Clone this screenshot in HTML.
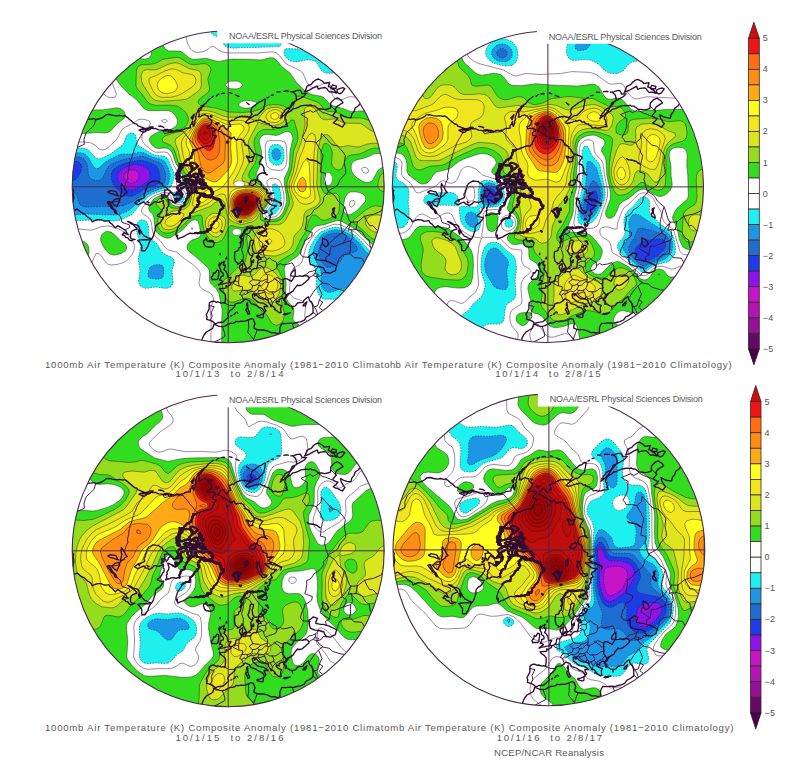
<!DOCTYPE html><html><head><meta charset="utf-8"><title>Air Temperature Composite Anomaly</title>
<style>html,body{margin:0;padding:0;background:#fff}svg{display:block}text{font-family:"Liberation Sans",sans-serif;fill:#5a5a5a}.t{font-size:9.6px}.cb{font-size:9px;fill:#555;letter-spacing:.3px}.n{font-size:9px}</style></head><body>
<svg width="801" height="768" viewBox="0 0 801 768">
<rect width="801" height="768" fill="#fff"/>
<defs>
<clipPath id="c1"><circle cx="228.2" cy="186.8" r="156"/></clipPath>
<clipPath id="c2"><circle cx="547.9" cy="186.9" r="155.6"/></clipPath>
<clipPath id="c3"><circle cx="228.2" cy="550.8" r="156"/></clipPath>
<clipPath id="c4"><circle cx="548.9" cy="549.9" r="155.9"/></clipPath>
<clipPath id="tl"><rect x="0" y="0" width="389" height="768"/></clipPath>
<clipPath id="tr"><rect x="389" y="0" width="412" height="768"/></clipPath>
</defs>
<g clip-path="url(#c1)">
<circle cx="228.2" cy="186.8" r="157" fill="#fff"/>
<path d="M309.0,343.0 210.9,343.0 211.1,322.0 210.3,310.0 210.9,307.0 213.2,301.0 213.4,298.0 212.3,295.0 210.0,293.0 202.2,289.0 199.7,286.0 199.0,283.0 200.3,274.0 199.3,271.0 196.6,268.0 192.0,263.8 183.0,257.7 177.0,252.3 168.0,249.8 165.0,247.3 160.5,241.0 154.0,235.0 152.7,232.0 151.4,223.0 150.4,220.0 147.0,216.3 142.9,214.0 141.3,211.0 142.3,208.0 144.4,205.0 149.8,199.0 153.8,196.0 162.0,192.9 165.0,192.4 168.5,193.0 170.7,196.0 173.0,202.0 174.0,203.2 177.0,204.7 180.0,204.8 183.0,203.6 184.7,202.0 186.2,199.0 186.3,196.0 185.4,193.0 183.0,190.2 177.5,187.0 177.0,185.9 176.5,184.0 178.4,175.0 177.5,172.0 174.0,165.7 170.7,157.0 168.9,154.0 168.0,153.0 165.0,152.0 156.0,152.3 153.0,151.2 145.3,145.0 142.8,142.0 141.8,139.0 141.9,136.0 144.0,131.5 148.8,127.0 150.4,124.0 149.5,121.0 144.0,119.3 141.0,119.2 138.0,119.8 132.0,124.0 125.4,127.0 121.6,130.0 117.0,139.1 108.0,147.7 105.0,149.5 102.0,150.1 99.0,148.9 95.0,145.0 90.0,142.7 84.0,142.0 72.0,142.4 72.0,59.5 96.0,83.2 105.0,95.1 108.0,97.1 111.0,97.6 114.0,97.4 115.2,97.0 116.5,94.0 111.8,82.0 110.1,79.0 102.0,71.8 96.0,64.8 91.2,61.0 86.3,55.0 78.7,49.0 74.3,43.0 72.0,40.8 72.0,31.0 186.1,31.0 186.1,37.0 187.3,43.0 190.6,49.0 192.0,50.5 195.0,52.2 198.0,52.5 204.0,51.4 208.5,49.0 210.0,47.3 213.0,46.1 219.0,50.3 222.0,51.8 228.0,52.9 258.0,53.0 270.0,51.9 273.0,51.9 276.0,52.7 279.0,55.1 285.0,62.8 288.0,64.9 299.0,70.0 302.9,73.0 306.7,82.0 309.0,85.1 312.0,87.2 315.0,87.7 324.0,83.5 327.0,83.4 330.0,84.8 331.1,91.0 333.0,96.2 336.0,99.3 339.0,100.1 342.0,99.6 348.0,97.0 351.0,96.7 357.0,97.4 360.4,97.0 363.0,95.3 367.0,88.0 375.0,81.7 381.0,74.0 384.0,72.5 384.0,261.1 382.1,259.0 379.5,253.0 378.0,251.5 372.0,248.5 369.0,246.3 361.7,238.0 354.7,232.0 342.0,225.5 339.0,224.5 336.0,224.2 333.0,224.6 320.1,229.0 315.8,232.0 307.5,244.0 306.1,247.0 301.9,262.0 300.0,264.3 294.0,268.0 291.6,271.0 290.6,274.0 290.3,277.0 289.6,289.0 289.7,292.0 290.6,295.0 294.0,298.0 302.6,301.0 305.1,304.0 305.6,307.0 304.7,316.0 305.6,319.0 308.5,325.0 309.7,331.0 309.7,343.0 309.0,343.0ZM297.0,40.9 294.0,42.1 291.0,41.1 290.0,40.0 289.9,37.0 291.0,34.6 294.0,32.9 297.0,34.9 297.8,37.0 297.8,40.0 297.0,40.9ZM167.5,121.0 165.0,119.2 162.0,120.3 161.4,121.0 165.0,123.0 167.5,121.0ZM283.2,169.0 285.0,167.4 285.7,166.0 287.0,160.0 286.6,148.0 286.2,145.0 285.0,142.3 282.0,140.9 279.0,140.7 270.0,140.6 267.0,141.4 265.3,145.0 265.3,148.0 265.6,160.0 267.0,166.1 270.0,168.8 273.0,169.8 279.0,170.4 282.0,169.9 283.2,169.0ZM368.6,172.0 368.1,169.0 366.0,167.5 363.0,167.4 361.6,169.0 363.0,172.3 366.0,173.4 368.6,172.0ZM273.8,217.0 276.0,216.2 278.8,214.0 280.9,211.0 283.3,205.0 284.2,199.0 283.6,193.0 281.4,184.0 279.0,180.1 276.0,178.6 273.0,178.3 270.0,178.5 266.9,181.0 267.0,184.0 271.2,193.0 272.0,196.0 272.1,199.0 271.2,202.0 264.9,211.0 264.5,214.0 267.0,216.9 270.0,217.4 273.8,217.0ZM354.1,205.0 355.1,202.0 354.0,200.4 351.0,200.8 350.1,202.0 349.2,205.0 351.0,207.4 354.1,205.0ZM84.0,268.6 72.0,268.6 72.0,229.0 81.0,229.2 90.0,230.2 93.0,229.8 102.0,226.4 108.0,226.0 111.0,226.4 118.6,229.0 126.0,233.0 132.0,239.7 134.0,244.0 134.5,247.0 134.1,250.0 132.0,254.6 129.0,258.4 126.0,261.1 123.0,262.7 117.0,264.5 111.0,265.0 108.0,264.3 105.0,261.4 102.0,256.8 99.0,253.7 96.0,253.5 90.8,265.0 87.0,267.8 84.0,268.6ZM192.9,229.0 192.0,227.4 191.3,229.0 192.0,229.8 192.9,229.0ZM309.0,277.9 308.0,277.0 309.0,275.6 309.1,277.0 309.0,277.9Z" fill="none" stroke="#8a6a8a" stroke-width="0.8"/>
<path d="M303.0,343.0 221.8,343.0 221.7,322.0 222.2,310.0 219.0,293.8 216.0,288.5 210.5,283.0 209.5,280.0 209.5,271.0 208.1,268.0 195.0,256.1 189.0,251.4 187.8,250.0 186.9,247.0 187.8,244.0 190.5,241.0 192.0,240.0 198.7,238.0 200.7,235.0 199.6,226.0 198.0,221.1 195.0,219.6 192.0,220.4 188.6,223.0 183.0,229.7 180.0,231.8 171.0,237.2 168.0,238.3 165.0,237.7 159.0,234.5 156.7,232.0 154.8,226.0 153.8,217.0 152.5,214.0 149.6,211.0 148.6,208.0 151.3,202.0 153.8,199.0 158.8,196.0 162.0,195.1 165.0,195.0 167.3,196.0 168.0,196.5 171.0,203.2 172.5,205.0 177.0,206.5 180.0,206.4 183.8,205.0 186.7,202.0 187.8,199.0 187.7,193.0 186.0,189.3 183.6,187.0 181.6,184.0 182.5,178.0 182.4,175.0 181.1,172.0 175.6,163.0 172.7,154.0 171.2,151.0 168.0,148.5 165.0,147.9 159.0,148.5 155.6,148.0 152.0,145.0 149.8,142.0 149.1,139.0 151.2,136.0 156.0,133.0 159.0,131.7 171.0,129.2 175.2,127.0 177.3,124.0 177.5,121.0 176.6,118.0 174.9,115.0 171.9,112.0 168.0,110.5 150.0,110.7 147.0,110.2 144.0,108.7 136.9,100.0 129.0,94.1 120.0,84.8 114.0,75.9 107.2,70.0 99.0,61.0 95.1,58.0 87.2,49.0 81.0,43.8 76.3,37.0 75.0,35.9 72.0,34.7 72.0,31.0 113.5,31.0 115.3,34.0 123.3,40.0 138.0,56.6 141.0,58.6 144.0,59.2 147.0,58.8 149.0,58.0 151.3,55.0 151.3,52.0 149.2,43.0 150.0,40.0 153.0,37.7 156.0,37.4 159.0,38.5 160.4,40.0 165.0,48.6 168.0,50.9 180.0,51.1 183.0,52.8 189.0,57.7 192.0,59.2 195.0,59.5 204.0,58.4 207.0,58.5 216.0,61.1 219.0,61.4 231.0,59.1 249.0,59.3 261.0,60.0 270.0,57.8 273.0,57.8 276.0,59.6 282.0,66.8 290.0,73.0 297.0,83.2 305.4,91.0 312.0,94.7 321.0,96.2 322.6,97.0 324.0,97.8 330.0,104.2 333.0,105.8 342.0,108.2 351.0,111.7 360.0,110.9 369.0,111.0 378.0,107.8 384.0,106.6 384.0,153.6 375.0,153.6 366.0,157.6 356.5,160.0 354.0,161.3 352.1,163.0 351.1,166.0 351.2,169.0 352.1,172.0 353.9,175.0 357.0,178.0 363.0,181.5 366.0,182.5 369.0,182.6 372.1,181.0 378.0,170.4 381.0,168.0 384.0,167.1 384.0,242.4 378.0,245.0 375.0,245.3 372.0,244.3 357.0,230.2 342.0,221.5 339.0,220.7 336.0,220.8 324.0,224.7 316.2,226.0 315.0,226.4 312.6,229.0 303.4,244.0 300.0,252.5 297.7,256.0 288.0,262.6 285.6,265.0 284.3,268.0 284.3,271.0 286.1,283.0 285.5,295.0 286.1,298.0 288.0,301.5 293.2,307.0 293.9,310.0 292.9,319.0 294.0,321.3 300.0,325.6 302.2,328.0 303.7,331.0 304.2,337.0 303.7,343.0 303.0,343.0ZM239.6,88.0 242.9,85.0 240.0,82.1 237.0,81.1 231.0,81.1 228.0,82.1 224.8,85.0 228.0,87.8 231.0,88.8 237.0,88.9 239.6,88.0ZM255.7,106.0 256.8,103.0 255.0,101.6 249.0,100.4 243.0,101.1 240.0,102.5 239.2,103.0 238.8,106.0 243.0,107.9 246.0,108.3 252.0,107.6 255.7,106.0ZM105.0,133.0 96.0,132.6 84.0,133.6 72.0,133.3 72.0,109.7 102.0,109.9 117.0,107.8 120.0,108.4 123.0,110.2 124.5,112.0 125.5,115.0 124.6,118.0 116.9,124.0 111.0,130.7 108.0,132.4 105.0,133.0ZM279.3,217.0 281.9,214.0 283.6,211.0 286.6,202.0 286.4,196.0 284.4,184.0 284.4,178.0 288.0,170.8 289.3,166.0 290.0,151.0 292.9,139.0 292.5,136.0 291.0,133.1 288.0,131.3 285.0,131.7 279.0,134.7 276.0,135.5 267.0,134.3 264.0,134.7 261.0,136.7 259.6,139.0 259.2,142.0 261.5,151.0 261.4,160.0 259.9,166.0 256.7,172.0 256.1,175.0 257.4,178.0 267.0,189.0 269.3,193.0 270.2,196.0 270.4,199.0 269.4,202.0 263.1,211.0 262.4,214.0 263.0,217.0 264.0,218.2 267.0,219.3 270.0,219.6 276.0,218.8 279.3,217.0ZM351.9,214.0 356.6,211.0 364.9,202.0 365.9,199.0 365.0,196.0 363.0,194.2 360.6,193.0 357.0,192.0 351.0,191.8 348.0,193.0 345.0,197.5 343.6,205.0 343.8,211.0 345.0,213.4 348.0,214.9 351.9,214.0ZM120.0,254.0 114.0,255.1 111.0,254.6 108.0,252.7 103.5,247.0 100.8,241.0 100.7,238.0 101.6,235.0 104.7,232.0 108.0,231.4 111.0,232.1 114.0,234.3 120.0,240.2 125.3,244.0 126.9,247.0 126.1,250.0 123.0,252.6 120.0,254.0ZM84.0,262.5 81.0,263.3 78.0,263.3 72.0,262.5 72.0,241.5 81.0,240.7 84.0,241.4 87.2,244.0 88.7,247.0 89.0,253.0 87.4,259.0 84.0,262.5Z" fill="#32dc1e" fill-rule="evenodd" stroke="#1a1a00" stroke-opacity=".75" stroke-width=".6"/>
<path d="M276.0,325.2 273.0,324.1 271.0,322.0 267.0,315.0 260.9,310.0 255.0,302.5 252.0,299.7 249.0,298.4 246.0,298.1 243.0,298.6 234.0,302.1 231.0,302.2 228.0,300.7 226.0,298.0 224.6,295.0 223.0,289.0 222.2,283.0 224.0,280.0 228.0,277.3 237.0,268.1 243.0,264.6 245.1,262.0 247.9,250.0 248.0,247.0 246.6,238.0 247.5,235.0 252.7,229.0 253.1,226.0 252.0,225.6 249.0,225.8 243.0,227.6 240.0,227.6 231.0,225.4 228.0,228.3 225.0,235.4 222.0,240.2 219.0,242.0 216.0,242.5 213.0,241.7 210.0,239.9 206.4,235.0 203.7,229.0 202.5,223.0 202.3,217.0 201.0,215.2 198.0,215.0 192.0,216.8 189.0,218.9 180.0,228.2 177.0,230.1 171.0,232.5 168.0,233.1 165.0,233.0 162.0,231.9 159.0,229.0 157.9,226.0 157.8,220.0 159.0,216.4 162.3,211.0 159.9,208.0 156.4,205.0 156.3,202.0 158.8,199.0 162.0,198.0 165.0,198.4 167.1,202.0 168.0,205.1 171.0,207.9 177.0,208.4 183.0,207.3 186.0,205.6 188.5,202.0 189.4,199.0 189.8,190.0 186.4,175.0 178.5,163.0 174.7,151.0 173.1,148.0 171.0,145.7 168.0,143.9 163.0,142.0 161.9,139.0 164.8,136.0 177.0,131.9 184.8,127.0 187.2,124.0 188.3,121.0 188.3,118.0 187.3,115.0 185.4,112.0 182.4,109.0 177.0,106.0 171.0,105.2 156.0,105.4 150.0,103.8 147.0,101.2 141.9,94.0 136.7,88.0 135.9,85.0 136.5,70.0 138.0,66.6 141.0,64.9 153.2,64.0 156.0,63.2 162.0,59.8 165.0,58.9 177.0,57.4 180.0,58.0 189.0,63.6 192.0,64.6 195.0,64.7 204.0,63.5 207.0,64.3 210.3,67.0 211.0,70.0 207.8,79.0 209.6,88.0 209.1,91.0 206.4,94.0 201.6,97.0 198.7,100.0 198.0,103.0 201.0,106.0 216.0,108.1 228.8,112.0 243.0,112.5 252.0,111.7 258.0,109.9 267.0,105.5 273.0,104.5 279.0,104.8 283.5,106.0 289.6,109.0 291.0,110.8 293.1,109.0 294.9,100.0 296.6,97.0 300.0,95.9 318.0,102.4 321.0,105.1 324.0,109.2 327.0,111.2 336.0,112.0 348.0,117.9 360.0,117.9 363.0,118.4 372.0,121.4 375.0,120.2 378.1,115.0 381.0,112.8 384.0,111.6 384.0,148.7 375.0,148.0 372.0,148.4 360.0,153.9 351.0,155.0 348.0,156.1 345.3,160.0 342.0,168.6 339.0,170.1 336.0,169.5 332.4,166.0 331.5,163.0 332.3,154.0 332.1,151.0 330.0,146.3 327.0,143.3 324.0,143.7 323.3,145.0 322.2,148.0 320.9,154.0 321.4,172.0 320.7,181.0 321.0,187.0 324.0,193.0 327.0,194.5 336.0,193.0 339.0,196.0 339.7,202.0 339.0,211.0 337.8,214.0 336.0,215.7 327.0,219.7 324.0,220.3 321.0,219.6 318.0,216.6 315.0,214.8 312.0,215.4 309.0,219.9 306.0,231.2 300.0,240.9 296.0,250.0 294.0,252.4 291.0,254.6 282.8,259.0 278.6,262.0 276.8,265.0 277.3,268.0 282.0,277.0 282.9,280.0 283.3,286.0 281.5,301.0 281.8,304.0 284.4,313.0 283.7,319.0 282.4,322.0 279.0,324.7 276.0,325.2ZM279.9,220.0 282.0,218.3 285.0,214.0 288.8,205.0 289.5,202.0 289.4,199.0 287.3,190.0 286.9,184.0 287.3,181.0 291.6,169.0 293.6,151.0 297.2,142.0 297.9,139.0 297.7,133.0 294.0,120.0 291.0,120.0 290.6,121.0 286.9,124.0 279.0,128.2 273.0,129.5 264.0,129.5 261.0,130.4 257.8,133.0 255.0,137.7 253.9,142.0 254.0,145.0 256.2,154.0 256.0,160.0 255.0,163.1 249.5,172.0 248.6,175.0 249.4,178.0 261.0,185.5 264.0,188.2 267.0,191.9 268.7,196.0 268.9,199.0 267.8,202.0 263.4,208.0 260.6,214.0 260.2,217.0 260.7,220.0 264.0,221.4 270.0,221.9 276.0,221.6 279.9,220.0ZM384.0,191.8 379.8,190.0 378.0,187.0 378.0,184.0 379.3,178.0 380.7,175.0 384.0,172.1 384.0,191.8ZM381.0,238.2 375.0,239.5 372.0,238.6 360.0,227.7 353.5,223.0 353.4,220.0 366.0,209.7 372.0,206.5 375.0,205.8 384.0,206.8 384.0,237.5 381.0,238.2Z" fill="#96dc1e" fill-rule="evenodd" stroke="#1a1a00" stroke-opacity=".75" stroke-width=".6"/>
<path d="M180.0,100.0 162.0,101.4 156.0,100.5 153.0,98.9 150.0,95.5 143.2,85.0 141.8,82.0 141.1,76.0 141.9,73.0 144.0,70.3 145.1,70.0 147.0,69.6 156.0,69.9 168.0,64.3 174.0,62.9 177.0,62.9 180.0,63.8 189.0,68.6 198.0,70.4 200.9,73.0 201.4,85.0 200.8,88.0 198.4,91.0 189.0,97.8 186.0,99.2 180.0,100.0ZM171.0,229.5 168.0,229.8 165.0,229.3 162.0,226.9 160.8,223.0 161.5,220.0 165.0,215.7 171.0,211.8 174.0,210.9 183.0,209.5 186.4,208.0 189.0,205.3 190.4,202.0 192.0,194.2 194.8,187.0 194.8,184.0 191.8,178.0 188.3,172.0 181.7,163.0 180.3,160.0 178.2,151.0 175.0,142.0 175.6,139.0 186.0,130.9 189.0,127.9 191.3,124.0 195.0,114.1 198.0,111.5 201.0,110.6 207.0,110.6 213.0,112.0 222.0,115.6 228.0,117.2 243.0,117.1 248.3,118.0 255.0,120.4 258.0,120.4 258.9,118.0 263.3,112.0 267.4,109.0 270.0,107.9 276.0,107.2 279.0,107.7 282.0,109.0 285.0,112.0 286.1,115.0 285.7,118.0 284.0,121.0 279.0,124.5 273.0,125.7 263.1,124.0 258.0,122.0 257.4,124.0 249.3,139.0 248.3,142.0 248.0,145.0 249.8,157.0 249.7,160.0 248.9,163.0 242.8,175.0 241.9,178.0 242.6,181.0 252.0,183.7 258.0,186.1 264.0,190.5 266.0,193.0 267.3,196.0 267.5,199.0 266.3,202.0 261.0,209.8 258.0,216.7 255.5,220.0 252.0,221.9 243.0,224.2 240.0,224.3 234.0,222.3 230.1,220.0 228.0,217.0 226.8,214.0 225.0,203.4 224.1,202.0 222.0,199.7 219.0,199.9 210.0,206.5 192.0,213.2 189.0,215.2 178.4,226.0 174.0,228.5 171.0,229.5ZM273.0,256.1 261.0,254.7 257.7,253.0 255.7,250.0 255.0,247.5 253.9,241.0 254.0,238.0 255.0,235.0 256.8,232.0 261.6,226.0 264.0,225.0 267.0,224.7 279.0,224.6 282.7,223.0 285.6,220.0 291.9,208.0 293.0,205.0 293.2,202.0 289.5,190.0 289.2,184.0 293.4,172.0 296.6,154.0 301.3,142.0 304.7,127.0 305.1,124.0 304.2,112.0 304.6,109.0 306.0,107.1 309.0,106.1 312.0,106.9 315.0,108.9 320.8,118.0 324.0,119.6 327.0,119.8 333.0,118.9 336.0,119.3 342.0,122.2 345.0,123.1 360.0,123.4 363.0,124.8 369.0,129.4 372.0,131.0 378.0,132.1 384.0,132.2 384.0,143.6 372.0,143.2 366.0,144.4 360.0,146.7 357.0,147.0 348.0,145.6 342.0,146.8 339.0,146.6 336.0,144.6 330.0,136.6 327.0,134.6 324.0,134.7 322.6,136.0 321.0,137.9 319.6,142.0 317.8,151.0 317.3,157.0 317.4,172.0 316.8,184.0 317.7,190.0 320.2,199.0 319.8,202.0 317.7,205.0 315.0,206.8 306.0,211.1 304.2,214.0 303.1,223.0 302.2,226.0 300.0,229.9 294.6,235.0 293.7,238.0 292.9,244.0 291.0,248.0 288.0,250.8 282.0,253.9 276.0,255.9 273.0,256.1ZM219.0,236.2 216.0,237.1 213.0,236.4 211.2,235.0 208.3,232.0 205.7,226.0 205.4,223.0 205.9,220.0 207.0,217.8 210.0,214.7 213.0,213.3 216.0,213.2 219.0,214.3 223.8,217.0 225.6,220.0 225.7,223.0 224.2,229.0 222.0,233.2 219.0,236.2ZM381.0,232.1 375.0,232.1 372.0,230.9 369.3,229.0 366.7,226.0 365.4,223.0 365.8,220.0 368.5,217.0 372.0,215.4 375.0,214.9 384.0,215.4 384.0,231.8 381.0,232.1ZM273.0,301.8 270.0,302.9 267.0,302.7 264.0,300.8 258.0,294.4 252.0,290.8 246.0,290.1 234.0,291.1 231.8,289.0 231.9,286.0 233.0,283.0 237.0,277.5 240.0,275.4 243.0,275.1 249.0,276.6 252.0,276.3 255.0,274.3 258.0,270.7 261.0,268.3 264.0,267.5 267.0,267.9 270.0,269.1 276.0,273.9 278.5,277.0 280.0,280.0 280.7,283.0 280.3,289.0 279.0,293.6 276.0,299.2 273.0,301.8Z" fill="#dce61e" fill-rule="evenodd" stroke="#1a1a00" stroke-opacity=".75" stroke-width=".6"/>
<path d="M171.0,97.2 162.0,97.4 159.0,96.6 156.0,94.8 153.0,91.0 150.2,85.0 149.0,82.0 148.9,79.0 150.0,77.8 156.0,75.5 165.0,70.9 171.0,69.0 174.0,69.0 177.0,69.8 183.0,72.9 192.0,74.5 194.5,76.0 195.9,79.0 195.8,82.0 194.4,85.0 192.0,87.1 181.2,94.0 177.0,95.8 171.0,97.2ZM279.0,121.4 276.0,122.5 273.0,122.7 270.0,121.9 268.2,121.0 266.0,118.0 266.2,115.0 268.4,112.0 273.0,109.8 276.0,109.6 279.0,110.5 281.1,112.0 282.7,115.0 282.2,118.0 279.0,121.4ZM249.0,220.9 243.0,222.2 240.0,222.2 237.0,221.4 234.4,220.0 231.3,217.0 229.6,214.0 226.5,199.0 225.0,194.7 222.0,193.9 219.0,194.7 216.0,196.4 209.9,202.0 207.0,204.0 201.0,206.4 195.0,207.6 192.5,205.0 193.2,199.0 195.0,193.8 200.8,187.0 200.1,184.0 185.4,163.0 183.4,157.0 181.4,145.0 181.5,142.0 182.7,139.0 184.8,136.0 189.0,131.6 192.0,127.4 196.5,118.0 198.0,116.0 201.0,114.0 204.0,113.3 210.0,114.0 222.0,119.2 228.0,121.0 240.0,120.3 243.0,120.8 246.0,122.2 248.1,124.0 249.3,127.0 248.9,130.0 247.5,133.0 243.2,139.0 242.0,142.0 241.8,145.0 243.7,157.0 242.9,163.0 238.9,172.0 234.0,181.0 233.9,184.0 237.0,185.2 252.0,185.9 258.0,188.1 261.0,189.9 264.3,193.0 265.8,196.0 266.1,199.0 264.9,202.0 260.8,208.0 255.6,217.0 252.0,219.7 249.0,220.9ZM312.0,202.6 309.0,203.8 306.0,204.3 303.0,204.0 300.0,202.6 294.0,195.0 291.8,190.0 291.3,187.0 291.6,184.0 296.1,172.0 299.8,157.0 303.7,148.0 306.0,140.0 309.0,134.6 312.0,133.1 315.0,135.0 315.8,139.0 314.0,154.0 313.5,181.0 313.6,187.0 315.2,196.0 315.0,199.0 312.0,202.6ZM171.0,226.3 167.3,226.0 164.8,223.0 166.0,220.0 168.0,218.0 174.0,214.1 177.0,213.2 180.0,212.8 183.0,213.2 184.1,214.0 182.9,217.0 177.7,223.0 174.0,225.3 171.0,226.3ZM216.0,233.1 213.0,232.4 210.0,229.5 208.4,226.0 208.2,223.0 210.0,219.1 213.0,217.1 216.0,216.7 219.0,217.9 221.1,220.0 222.3,223.0 222.1,226.0 221.0,229.0 219.0,231.7 216.0,233.1ZM276.0,250.4 273.0,251.0 267.0,250.8 263.9,250.0 260.4,247.0 259.3,244.0 258.9,241.0 259.3,238.0 260.5,235.0 262.5,232.0 264.0,230.4 266.6,229.0 270.0,228.7 273.0,229.1 279.0,231.6 282.0,234.7 283.7,238.0 284.8,241.0 284.8,244.0 283.0,247.0 279.0,249.3 276.0,250.4ZM273.0,293.9 270.0,294.2 267.0,292.9 262.7,289.0 260.4,286.0 259.3,283.0 259.8,280.0 261.6,277.0 264.0,274.9 267.0,274.2 270.0,275.0 273.0,276.4 276.6,280.0 277.7,283.0 277.8,286.0 277.1,289.0 276.0,291.4 273.0,293.9Z" fill="#f0e61e" fill-rule="evenodd" stroke="#1a1a00" stroke-opacity=".75" stroke-width=".6"/>
<path d="M174.0,91.8 168.0,93.6 165.0,93.5 162.0,92.6 159.6,91.0 157.8,88.0 157.3,85.0 158.0,82.0 160.6,79.0 165.0,76.2 168.0,75.4 171.2,76.0 174.4,79.0 177.4,85.0 177.3,88.0 175.3,91.0 174.0,91.8ZM276.0,119.2 273.0,119.1 271.2,118.0 270.6,115.0 273.0,113.0 276.0,112.5 279.1,115.0 278.0,118.0 276.0,119.2ZM201.0,202.9 198.0,202.9 196.8,202.0 196.3,199.0 198.0,195.5 207.7,190.0 207.7,187.0 205.8,184.0 198.0,176.1 189.7,163.0 189.0,160.0 189.5,154.0 189.2,151.0 186.5,145.0 186.1,142.0 186.7,139.0 192.0,130.8 198.0,119.7 201.0,116.8 204.0,115.8 210.0,116.4 225.0,123.9 228.0,124.8 240.0,124.0 243.0,125.8 243.9,127.0 243.9,130.0 237.0,138.9 236.1,142.0 237.7,160.0 237.2,163.0 235.1,169.0 231.5,175.0 222.7,187.0 219.0,189.3 210.9,193.0 207.7,199.0 204.0,201.9 201.0,202.9ZM309.0,197.1 306.0,198.3 303.0,197.8 300.0,196.4 296.3,193.0 294.6,190.0 293.8,187.0 294.1,184.0 295.1,181.0 303.0,162.8 306.0,159.4 309.0,162.6 309.4,166.0 310.4,193.0 309.8,196.0 309.0,197.1ZM246.0,220.2 240.0,220.6 237.0,219.6 233.5,217.0 231.6,214.0 229.7,208.0 229.0,202.0 229.2,196.0 231.0,191.8 234.0,189.6 237.0,188.5 243.0,187.6 252.0,187.8 258.0,189.9 261.0,191.8 264.3,196.0 264.7,199.0 263.6,202.0 255.0,215.6 252.0,218.1 246.0,220.2ZM216.0,229.1 213.0,227.9 211.8,226.0 211.6,223.0 213.0,221.1 216.0,220.2 219.0,223.0 218.9,226.0 216.0,229.1ZM270.0,244.1 267.0,243.0 266.5,241.0 267.0,240.0 270.0,238.9 272.0,241.0 270.0,244.1Z" fill="#ffff1e" fill-rule="evenodd" stroke="#1a1a00" stroke-opacity=".75" stroke-width=".6"/>
<path d="M216.0,181.9 213.0,181.8 207.0,179.3 201.2,175.0 199.0,172.0 194.4,163.0 194.5,154.0 194.0,151.0 189.8,142.0 189.8,139.0 191.0,136.0 197.2,124.0 201.0,119.3 204.0,118.0 207.0,117.8 213.0,119.8 227.9,130.0 231.1,133.0 230.7,148.0 231.7,160.0 231.0,164.4 228.0,170.1 219.0,179.8 216.0,181.9ZM303.0,191.9 300.0,191.2 297.0,187.0 297.3,184.0 300.0,178.9 303.0,177.1 305.9,181.0 306.3,187.0 305.5,190.0 303.0,191.9ZM249.0,218.1 243.0,219.3 240.0,219.1 235.7,217.0 233.1,214.0 231.1,208.0 230.5,202.0 230.7,199.0 231.5,196.0 233.5,193.0 237.0,190.8 246.0,189.0 252.0,189.4 258.0,191.5 261.0,193.7 262.7,196.0 263.3,199.0 262.2,202.0 256.8,211.0 255.0,213.7 252.0,216.5 249.0,218.1Z" fill="#ffaa14" fill-rule="evenodd" stroke="#1a1a00" stroke-opacity=".75" stroke-width=".6"/>
<path d="M210.0,172.9 207.0,172.9 204.0,171.1 201.0,166.1 197.6,151.0 192.8,142.0 192.5,139.0 194.3,133.0 198.0,125.4 201.0,121.6 204.0,119.9 207.0,119.7 210.0,120.5 215.7,124.0 221.3,130.0 223.2,133.0 225.1,139.0 225.4,145.0 224.7,160.0 223.3,163.0 222.0,164.5 210.0,172.9ZM246.0,217.7 243.0,218.1 240.0,217.8 237.0,216.3 234.7,214.0 233.1,211.0 232.2,208.0 231.8,202.0 232.2,199.0 234.0,195.3 236.5,193.0 240.0,191.4 246.0,190.5 252.0,190.9 258.0,193.2 261.0,196.0 261.7,199.0 260.8,202.0 255.0,212.0 252.0,215.1 246.0,217.7Z" fill="#ff8c14" fill-rule="evenodd" stroke="#1a1a00" stroke-opacity=".75" stroke-width=".6"/>
<path d="M216.0,157.9 213.0,159.5 210.0,160.0 207.0,159.2 204.0,156.3 195.6,142.0 194.8,139.0 195.1,136.0 197.1,130.0 200.8,124.0 204.0,121.8 207.0,121.6 210.0,122.5 212.5,124.0 215.6,127.0 217.6,130.0 218.6,133.0 219.8,142.0 219.5,151.0 218.7,154.0 216.0,157.9ZM249.0,215.6 243.0,216.9 240.0,216.5 237.0,214.7 234.3,211.0 232.9,205.0 233.6,199.0 235.3,196.0 237.0,194.4 240.0,192.9 246.0,191.7 252.0,192.3 255.0,193.3 258.0,195.1 258.9,196.0 260.1,199.0 259.5,202.0 255.0,210.3 252.0,213.8 249.0,215.6Z" fill="#ff6e14" fill-rule="evenodd" stroke="#1a1a00" stroke-opacity=".75" stroke-width=".6"/>
<path d="M213.0,148.1 210.0,150.8 207.0,150.3 201.0,145.3 198.4,142.0 197.0,139.0 196.9,136.0 198.5,130.0 201.0,125.9 204.0,123.7 207.0,123.4 210.0,124.5 212.9,127.0 214.7,130.0 215.6,136.0 214.7,142.0 213.0,148.1ZM249.0,214.5 246.0,215.5 243.0,215.8 240.0,215.2 237.0,213.1 235.6,211.0 234.4,208.0 234.1,202.0 234.9,199.0 237.0,196.2 240.0,194.2 246.0,193.0 252.0,193.7 256.6,196.0 258.5,199.0 258.2,202.0 255.5,208.0 252.0,212.5 249.0,214.5Z" fill="#f01414" fill-rule="evenodd" stroke="#1a1a00" stroke-opacity=".75" stroke-width=".6"/>
<path d="M207.0,143.9 204.0,143.5 201.0,141.3 199.5,139.0 198.7,136.0 199.0,133.0 201.0,128.4 204.0,125.6 207.0,125.4 210.2,127.0 212.2,130.0 212.9,133.0 212.7,136.0 211.7,139.0 210.0,141.9 207.0,143.9ZM246.0,214.5 243.0,214.7 240.0,214.0 237.0,211.3 235.4,208.0 234.9,205.0 235.1,202.0 237.0,197.9 240.0,195.5 243.0,194.4 249.0,194.2 252.0,195.0 255.0,196.7 256.8,199.0 257.0,202.0 254.6,208.0 252.3,211.0 249.0,213.4 246.0,214.5Z" fill="#c81010" fill-rule="evenodd" stroke="#1a1a00" stroke-opacity=".75" stroke-width=".6"/>
<path d="M207.0,139.5 204.0,139.8 200.8,136.0 201.0,132.2 202.0,130.0 204.0,127.9 207.0,127.6 209.7,130.0 210.0,131.0 210.4,133.0 209.9,136.0 207.0,139.5ZM249.0,212.4 246.0,213.5 243.0,213.6 240.0,212.7 237.0,209.2 235.8,205.0 236.1,202.0 237.5,199.0 240.0,196.7 243.0,195.4 249.0,195.3 252.0,196.3 255.2,199.0 255.8,202.0 255.1,205.0 252.0,210.1 249.0,212.4Z" fill="#6a0000" fill-opacity=".10" fill-rule="evenodd" stroke="#300" stroke-opacity=".55" stroke-width=".5"/>
<path d="M207.0,133.8 204.0,134.9 203.5,133.0 204.0,131.8 207.0,132.2 207.0,133.8ZM249.0,211.5 246.0,212.6 243.0,212.6 240.0,211.4 237.4,208.0 236.8,205.0 237.1,202.0 238.7,199.0 240.0,197.8 243.0,196.4 246.0,196.0 249.0,196.4 252.0,197.6 253.6,199.0 254.7,202.0 254.2,205.0 252.0,208.9 249.0,211.5Z" fill="#6a0000" fill-opacity=".10" fill-rule="evenodd" stroke="#300" stroke-opacity=".55" stroke-width=".5"/>
<path d="M246.0,211.7 243.0,211.6 240.0,210.1 238.5,208.0 237.6,205.0 238.0,202.0 240.0,199.0 243.0,197.3 246.0,196.8 249.0,197.3 252.0,199.0 253.7,202.0 253.4,205.0 251.8,208.0 249.0,210.5 246.0,211.7Z" fill="#6a0000" fill-opacity=".10" fill-rule="evenodd" stroke="#300" stroke-opacity=".55" stroke-width=".5"/>
<path d="M249.0,209.6 246.0,210.8 243.0,210.7 239.5,208.0 238.5,205.0 238.9,202.0 241.5,199.0 243.0,198.2 246.0,197.7 249.0,198.2 252.0,200.7 252.7,202.0 252.6,205.0 250.8,208.0 249.0,209.6Z" fill="#6a0000" fill-opacity=".10" fill-rule="evenodd" stroke="#300" stroke-opacity=".55" stroke-width=".5"/>
<path d="M249.0,208.7 246.0,209.9 243.0,209.7 240.6,208.0 239.3,205.0 240.0,201.7 243.0,199.0 246.0,198.5 249.0,199.2 251.7,202.0 251.7,205.0 249.0,208.7Z" fill="#6a0000" fill-opacity=".10" fill-rule="evenodd" stroke="#300" stroke-opacity=".55" stroke-width=".5"/>
<path d="M246.0,209.1 243.0,208.8 241.9,208.0 240.2,205.0 240.8,202.0 243.0,200.0 246.0,199.3 249.0,200.2 250.7,202.0 250.9,205.0 249.0,207.7 246.0,209.1Z" fill="#6a0000" fill-opacity=".10" fill-rule="evenodd" stroke="#300" stroke-opacity=".55" stroke-width=".5"/>
<path d="M246.0,208.3 243.0,207.7 241.2,205.0 241.9,202.0 243.0,201.0 246.0,200.2 249.7,202.0 250.0,205.0 249.0,206.5 246.0,208.3Z" fill="#6a0000" fill-opacity=".10" fill-rule="evenodd" stroke="#300" stroke-opacity=".55" stroke-width=".5"/>
<path d="M249.0,205.2 246.0,207.2 243.0,206.2 242.2,205.0 242.9,202.0 246.0,201.0 248.3,202.0 249.0,205.2Z" fill="#6a0000" fill-opacity=".10" fill-rule="evenodd" stroke="#300" stroke-opacity=".55" stroke-width=".5"/>
<path d="M246.0,206.0 243.5,205.0 246.0,201.9 247.5,205.0 246.0,206.0Z" fill="#6a0000" fill-opacity=".10" fill-rule="evenodd" stroke="#300" stroke-opacity=".55" stroke-width=".5"/>
<path d="M279.0,46.6 252.0,47.6 243.0,47.5 234.0,48.2 228.0,47.6 224.9,46.0 222.8,43.0 221.6,40.0 219.0,37.4 213.0,35.0 210.0,31.0 222.1,31.0 222.7,34.0 225.0,36.2 246.0,36.9 252.0,36.6 255.0,35.5 257.1,34.0 259.2,31.0 281.1,31.0 281.4,43.0 280.4,46.0 279.0,46.6ZM333.0,73.1 327.0,73.3 324.0,72.5 320.9,70.0 317.6,64.0 315.0,61.3 312.0,60.1 306.0,60.0 297.0,61.9 290.5,61.0 286.3,58.0 284.5,55.0 283.9,52.0 285.0,49.0 288.0,48.6 299.2,49.0 303.0,47.7 304.8,46.0 306.6,43.0 307.3,37.0 306.6,31.0 377.1,31.0 375.0,34.0 369.0,38.2 367.2,40.0 362.7,46.0 355.3,52.0 350.8,58.0 343.0,64.0 338.7,70.0 336.0,72.1 333.0,73.1ZM120.0,220.2 114.0,221.1 90.0,220.2 72.0,220.6 72.0,148.7 81.0,148.0 84.0,148.3 87.0,149.3 90.0,151.5 96.0,158.2 99.0,158.9 102.0,158.0 110.3,154.0 122.5,145.0 124.2,142.0 126.3,136.0 129.0,133.3 132.0,132.7 135.0,134.3 135.8,136.0 136.7,142.0 138.0,145.3 153.0,154.4 156.0,155.3 165.0,156.3 168.0,159.1 173.7,172.0 174.4,175.0 174.1,178.0 171.0,187.0 168.0,189.0 156.0,192.8 149.6,196.0 139.8,205.0 132.0,214.6 120.0,220.2ZM282.0,163.5 279.0,165.1 276.0,165.2 273.0,164.3 270.0,161.4 268.7,157.0 268.6,151.0 270.0,146.8 272.3,145.0 276.0,144.3 279.0,144.8 282.0,146.8 282.8,148.0 283.8,151.0 284.1,157.0 283.7,160.0 282.0,163.5ZM273.0,214.6 270.0,214.8 268.1,214.0 267.1,211.0 271.7,205.0 274.5,199.0 274.4,196.0 271.8,187.0 273.0,184.0 276.0,183.8 279.3,187.0 280.8,193.0 281.3,199.0 280.3,205.0 279.0,209.0 276.0,213.0 273.0,214.6ZM180.0,203.0 177.0,202.7 175.9,202.0 173.8,199.0 173.3,196.0 173.6,193.0 174.0,192.3 177.0,191.0 180.0,191.4 182.6,193.0 184.4,196.0 184.4,199.0 183.0,201.3 180.0,203.0ZM171.0,286.8 168.0,288.2 165.0,288.4 156.0,287.0 147.0,288.3 144.0,288.1 140.3,286.0 138.8,283.0 138.6,280.0 139.9,271.0 138.3,259.0 140.4,247.0 139.7,241.0 137.4,235.0 136.5,229.0 137.4,223.0 138.0,221.8 140.2,220.0 144.0,219.9 147.0,222.1 148.4,226.0 148.7,235.0 150.4,238.0 157.1,244.0 162.0,252.3 165.0,254.3 171.0,256.8 173.5,259.0 174.4,262.0 172.0,271.0 173.1,283.0 171.0,286.8ZM384.0,343.0 378.9,343.0 377.4,340.0 369.0,334.1 365.0,328.0 363.0,326.1 357.0,322.2 352.8,316.0 351.0,314.1 344.6,310.0 342.6,307.0 340.2,301.0 339.0,300.0 336.0,299.2 324.0,299.2 321.0,297.6 318.9,295.0 317.5,292.0 316.2,286.0 316.6,274.0 316.1,271.0 314.9,268.0 310.7,262.0 309.3,259.0 308.6,253.0 310.0,247.0 311.6,244.0 317.5,235.0 321.0,231.8 330.0,228.1 336.0,227.0 342.0,228.2 350.2,232.0 354.6,235.0 360.0,240.0 368.8,250.0 375.0,254.3 379.9,262.0 384.0,265.0 384.0,343.0Z" fill="#1ef0f0" fill-rule="evenodd" stroke="#001a33" stroke-opacity=".75" stroke-width=".6" stroke-dasharray="1.6 1.2"/>
<path d="M276.0,160.5 273.0,158.3 271.8,154.0 272.3,151.0 273.0,149.8 276.0,148.2 279.0,149.5 280.1,151.0 280.8,154.0 280.4,157.0 279.0,159.7 276.0,160.5ZM120.0,214.3 114.0,215.0 87.0,214.1 72.0,214.9 72.0,152.9 81.0,152.8 84.8,154.0 88.3,157.0 93.0,165.6 96.0,168.8 99.0,168.1 104.0,163.0 108.0,160.3 120.0,154.5 123.0,154.0 132.0,154.0 138.0,152.5 141.0,152.3 144.0,152.9 153.0,157.2 162.0,159.6 165.0,161.7 168.0,167.6 170.2,175.0 169.4,181.0 168.0,184.2 165.0,187.1 153.0,191.7 147.0,194.9 129.0,210.2 126.0,212.0 120.0,214.3ZM180.0,200.6 177.0,199.7 176.5,199.0 176.4,196.0 177.0,195.1 180.0,194.5 181.6,196.0 181.9,199.0 180.0,200.6ZM384.0,325.0 381.0,323.7 376.5,316.0 375.0,314.5 368.2,310.0 363.0,302.5 355.7,298.0 352.3,292.0 351.0,290.4 348.9,289.0 345.0,288.2 342.0,288.4 333.0,291.7 330.0,292.3 326.7,292.0 324.0,290.5 322.9,289.0 321.4,286.0 320.9,283.0 321.3,274.0 320.9,271.0 319.8,268.0 314.6,259.0 313.0,253.0 314.2,247.0 317.4,241.0 321.0,235.7 324.0,233.3 330.0,230.8 336.0,229.7 342.0,230.9 348.0,233.6 351.0,235.5 357.2,241.0 360.0,244.0 366.0,252.2 372.0,256.2 374.4,259.0 378.0,265.9 381.0,267.9 384.0,268.7 384.0,325.0ZM162.0,277.9 159.0,278.9 156.0,279.0 150.0,278.3 148.5,277.0 147.9,274.0 148.2,271.0 150.0,267.3 153.0,265.4 156.0,264.8 159.0,264.6 162.0,265.1 163.6,268.0 163.8,271.0 163.7,274.0 162.9,277.0 162.0,277.9Z" fill="#1e96e6" fill-rule="evenodd" stroke="#001a33" stroke-opacity=".75" stroke-width=".6" stroke-dasharray="1.6 1.2"/>
<path d="M123.0,205.7 117.0,206.6 102.0,206.3 87.0,207.1 84.0,206.7 80.2,205.0 78.7,202.0 77.0,196.0 75.0,193.3 72.0,191.8 72.0,156.5 79.9,157.0 84.0,159.1 86.6,163.0 87.5,166.0 88.5,175.0 90.0,178.0 93.0,179.8 96.0,180.4 99.0,180.3 102.0,178.9 104.2,175.0 106.6,169.0 108.7,166.0 113.4,163.0 123.0,159.5 141.0,156.3 144.0,156.6 160.1,163.0 162.8,166.0 164.1,169.0 165.6,175.0 165.2,181.0 163.6,184.0 159.5,187.0 147.0,191.7 132.0,201.9 123.0,205.7ZM336.0,265.1 330.0,267.4 327.0,267.2 324.0,264.8 321.0,260.5 319.1,256.0 318.5,253.0 318.8,250.0 320.6,244.0 323.7,238.0 327.3,235.0 333.0,233.2 336.0,232.9 339.0,233.3 344.6,235.0 349.1,238.0 357.0,247.0 357.4,250.0 357.0,250.7 354.0,252.2 348.0,252.9 345.0,254.3 339.8,262.0 336.0,265.1Z" fill="#1e6ed2" fill-rule="evenodd" stroke="#001a33" stroke-opacity=".75" stroke-width=".6" stroke-dasharray="1.6 1.2"/>
<path d="M72.0,181.5 72.0,169.0 72.0,160.4 78.0,161.6 80.3,163.0 81.7,166.0 81.0,171.4 78.0,177.0 75.0,180.1 72.0,181.5ZM132.0,196.1 129.0,196.4 126.8,196.0 123.0,194.3 117.9,190.0 114.0,185.2 111.8,181.0 111.1,175.0 111.8,172.0 113.9,169.0 118.6,166.0 126.0,162.8 138.0,160.4 144.0,160.7 151.0,163.0 156.3,166.0 158.4,169.0 159.8,175.0 160.2,178.0 159.9,181.0 159.0,182.3 157.6,184.0 156.0,184.9 144.0,189.4 135.0,195.0 132.0,196.1Z" fill="#1e3ce6" fill-rule="evenodd" stroke="#001a33" stroke-opacity=".75" stroke-width=".6" stroke-dasharray="1.6 1.2"/>
<path d="M132.0,190.2 129.0,189.8 126.0,188.3 120.9,184.0 118.4,181.0 117.1,178.0 117.0,174.8 118.4,172.0 122.0,169.0 129.0,165.7 135.0,164.6 138.0,164.7 143.5,166.0 148.1,169.0 149.8,172.0 150.3,178.0 148.4,181.0 138.0,187.8 135.0,189.4 132.0,190.2Z" fill="#8c14e6" fill-rule="evenodd" stroke="#001a33" stroke-opacity=".75" stroke-width=".6" stroke-dasharray="1.6 1.2"/>
<path d="M135.0,182.3 132.0,183.4 129.0,182.8 125.9,181.0 123.8,178.0 123.7,175.0 126.0,172.3 129.0,170.7 132.0,169.9 135.0,170.3 138.0,172.0 139.1,175.0 138.6,178.0 136.6,181.0 135.0,182.3Z" fill="#c814c8" fill-rule="evenodd" stroke="#001a33" stroke-opacity=".75" stroke-width=".6" stroke-dasharray="1.6 1.2"/>
<ellipse cx="239.4" cy="183.8" rx="5.5" ry="3" fill="#fff" stroke="#1a1a00" stroke-opacity=".6" stroke-width=".5"/>
<ellipse cx="236.8" cy="232" rx="4.5" ry="3.2" fill="#fff" stroke="#1a1a00" stroke-opacity=".6" stroke-width=".5"/>
<ellipse cx="328" cy="179" rx="4.5" ry="6.5" fill="#fff" stroke="#1a1a00" stroke-opacity=".6" stroke-width=".5"/>
</g>
<g clip-path="url(#c1)" fill="none" stroke-linejoin="round" stroke-linecap="round"><path d="M143.4,131.5 142.1,133.8 140.6,136.4 139.0,138.9 137.7,141.2 136.5,143.5 135.6,146.5 134.3,148.6 133.7,151.6 132.7,153.8 132.2,156.2 131.3,159.0 130.1,161.5 129.5,164.7 128.9,167.2 128.7,169.7 128.2,172.2 127.5,175.1 127.7,177.9 128.2,178.1 126.8,180.5 125.6,183.3 124.3,187.8M120.9,197.4 118.8,201.1 112.1,202.1 108.7,201.6 109.7,204.5 110.8,207.6 114.4,209.0 115.6,212.7 117.9,214.4 120.3,216.3 121.4,219.6 122.0,222.4 129.3,224.8 129.8,227.4 125.7,229.6M197.5,149.1 194.9,146.1 192.6,142.9 190.1,140.3 187.7,137.0 185.5,134.4 182.8,131.1 180.4,131.6 177.8,131.8 174.9,131.7 172.5,132.4 170.4,132.3 167.3,132.9 164.7,133.7 162.9,130.8M95.8,119.4 94.0,125.2 90.5,128.8 86.4,132.4 84.0,139.0 84.3,144.3 77.6,147.4M209.5,305.6 214.3,306.7 213.1,308.7 211.4,312.3 212.1,316.7 210.6,319.6M224.3,303.0 229.3,305.4 234.9,305.5M232.2,282.3 233.2,283.4 236.7,285.1 238.2,286.0 239.8,286.3 242.5,286.6 242.3,290.4M241.7,291.0 239.6,294.6 241.6,295.1 243.5,300.2 243.5,301.2M241.9,290.6 245.3,290.4 246.9,290.9 251.7,289.0 252.6,285.8 249.1,282.4 252.9,279.5 251.1,275.6 249.7,271.8M239.1,275.8 239.0,279.3 238.5,281.9 238.6,283.1 238.9,284.2 238.9,285.7M233.6,281.0 236.5,281.3 238.1,282.0M241.1,271.5 242.5,271.4M241.8,295.6 244.3,293.4 245.1,294.8 247.5,293.0 251.1,291.3 253.7,291.8 256.2,290.4 257.5,289.1 259.0,286.1 257.5,284.2 255.0,285.5 252.3,285.5M246.6,290.4 247.8,291.9 247.7,293.1M252.6,279.6 256.1,280.1 258.4,280.2 260.1,281.2 262.3,280.9 266.2,279.4 267.2,279.9 267.7,275.7 265.9,273.6 264.6,271.9 263.3,267.2 261.8,266.6 259.4,267.8 257.4,268.4M263.5,267.6 265.9,266.1 265.7,261.5 266.7,259.2 264.4,256.5 264.4,256.0 263.1,252.2M258.0,263.6 259.6,262.5 261.4,261.5 265.6,261.3M260.3,257.9 264.3,256.8M259.2,265.3 261.0,265.8 262.1,266.5M265.7,273.2 268.2,271.9 270.7,271.0 273.9,270.0 276.1,268.7 277.2,265.4 280.1,263.6 282.9,264.9 287.5,264.2 292.1,262.8 294.4,266.4 293.9,270.1M276.9,265.5 276.6,262.3 272.4,260.2 269.8,257.9 267.1,259.2M257.4,284.3 260.5,281.5M258.4,285.8 261.5,285.7 265.6,281.8 266.9,282.1 267.6,279.8M266.7,282.1 268.6,282.5 266.8,287.9 266.1,288.9 263.2,290.7 259.0,290.6 257.5,289.6M268.3,282.6 272.1,280.9 274.3,279.1 277.0,277.4 282.1,280.0 283.2,279.7M274.0,278.6 279.0,281.7 280.6,284.1 283.4,283.3M272.1,291.8 275.0,292.0 277.9,290.6 279.9,288.7 283.8,288.0M266.2,288.9 269.2,291.8 272.2,292.1 274.0,295.4 273.6,297.5 275.9,299.5 278.6,297.5 282.2,296.4 281.8,295.5 284.5,292.8M271.3,306.2 272.8,302.4 275.6,299.3M273.6,297.2 270.1,298.8 268.0,298.8 268.6,300.6M272.4,302.6 270.2,298.8M258.2,293.9 261.5,293.1 264.2,292.1 264.9,292.5 266.3,296.3 265.5,298.9M258.4,293.8 260.1,296.4 262.9,297.7 266.0,299.5M254.3,294.1 257.7,293.2 259.1,290.5M265.0,292.9 263.7,290.5M266.7,296.6 267.9,298.5M243.0,260.5 243.5,255.3 241.5,249.3 243.1,245.0 243.4,239.2 244.0,235.7 245.5,233.9 247.7,235.0 249.7,236.2 251.6,239.5M245.9,233.9 247.6,233.5 249.5,233.0 250.2,230.9 250.3,228.7 252.0,229.3 254.2,232.8 256.7,236.6 259.8,240.7 262.9,243.3 262.2,246.1 261.1,249.6M309.0,277.8 312.6,275.4 317.1,276.8 319.5,280.4 322.9,282.6 318.5,286.0 315.6,289.2 312.9,292.7 310.1,297.3M302.7,275.9 306.3,274.4 309.0,271.9 312.2,271.3 315.5,269.9 318.6,266.7M312.9,275.5 315.1,273.5 315.9,269.9M314.7,273.7 318.5,274.3 317.1,277.0M317.4,276.8 321.4,275.4 323.0,272.5 326.1,272.7M336.7,265.2 337.9,262.2 339.0,258.4 343.4,254.7 350.2,253.8 354.1,257.7 361.9,258.3 364.4,262.7M322.6,283.0 329.2,284.3 332.6,287.4 341.2,290.0 345.3,290.4M318.6,286.3 322.0,294.4 319.5,299.9 317.5,306.0 314.5,306.8M319.2,299.9 322.8,302.1 319.2,307.5 323.0,310.7M313.5,305.8 316.2,309.9 317.7,314.5M311.3,301.3 313.3,305.3M292.3,323.4 293.9,328.8M257.3,329.7 255.8,333.7 253.7,339.4 253.8,340.5M248.4,320.6 248.7,327.4 247.8,332.2 253.7,339.6M222.5,326.9 224.7,333.2 224.8,336.6 220.1,339.2 214.4,342.0M313.5,312.4 317.1,315.5M310.2,257.5 302.7,256.8 300.4,253.9 301.2,250.4 302.0,248.0 303.3,245.6 304.5,242.8 304.8,240.4 307.3,239.3 309.7,237.7 311.7,236.1 312.3,232.5 308.3,231.1 304.8,229.7 305.9,226.2 306.3,223.2 306.8,220.3 306.5,216.7 309.3,215.6 311.6,213.7 312.9,211.5 313.9,209.8 317.2,207.9 319.9,205.7 322.2,203.2 323.5,200.7 323.7,197.4 326.2,194.8 328.5,191.4 334.4,195.4 336.2,197.8 338.2,201.2 344.7,206.7 346.3,211.4 347.5,215.5 349.1,220.1 350.8,222.2 357.5,221.9 364.1,216.5 369.0,215.1 373.7,214.3 381.5,210.8 382.4,208.4M328.4,191.9 326.3,186.5 325.6,184.2 325.4,182.0 324.5,179.6 325.3,176.1 325.4,173.4 320.3,172.1 320.7,169.5 320.9,166.6 321.4,163.4 322.0,160.6 322.8,157.7 323.1,155.0 321.5,152.8 320.6,149.9 318.8,147.4 317.6,145.2 316.1,142.4 311.1,141.4 305.4,141.5 304.3,139.1 302.4,137.2 305.3,131.6 307.2,126.1 307.0,121.9 307.4,118.3 303.9,116.4 300.9,114.3 305.1,112.6 310.3,110.6 313.1,112.4 318.3,109.4 322.9,112.6 325.6,113.2 331.9,115.8M328.9,190.4 333.2,188.1 337.6,185.1 340.0,179.8 345.7,173.5 345.7,169.6 344.9,166.4 344.4,162.2 344.8,159.0 345.4,155.7 343.2,152.4 340.1,148.7 337.2,145.9 332.1,144.8 329.7,142.4 327.9,140.2 325.9,138.1 323.6,135.3 321.5,133.4 321.0,138.4 316.5,142.3M357.5,221.6 356.6,225.9 356.0,229.4 351.5,230.1 352.0,233.4 352.6,237.6 350.8,240.2 350.4,245.1 350.5,249.5 349.6,253.6M355.7,229.3 361.9,231.5 365.9,238.1 369.1,239.9 369.9,244.9 371.4,249.2M350.5,240.6 343.3,243.0 339.2,244.5 335.2,246.3 331.1,246.4 330.0,250.8 329.7,255.0 324.5,251.7 320.0,248.6 322.0,244.0M329.5,255.2 325.6,257.2 326.3,261.0M328.2,244.4 330.1,242.5 332.9,239.9 335.7,237.3 338.8,235.1 342.3,232.7 341.0,226.5 340.7,223.2 341.1,219.4 342.0,216.4 343.0,212.9 343.5,210.0 344.6,207.2M342.1,233.0 344.5,230.3 346.5,227.5 350.6,222.7M343.2,243.0 345.4,239.8 346.5,235.6 342.7,233.3M351.5,229.4 348.2,230.3 349.6,226.5 350.8,222.1M364.4,216.0 366.9,221.3 369.8,225.8 372.7,225.5 377.8,231.0M336.2,111.4 333.8,108.8 330.5,105.5" stroke="#3a1540" stroke-width="0.95"/><path d="M87.5,119.0 90.7,119.1 94.0,118.7 96.4,119.7 101.7,118.0 104.4,116.4 106.1,114.6 109.4,114.4 113.0,115.4 116.6,115.9 119.7,115.3 122.6,116.1 125.0,115.7 127.6,117.6 129.5,119.5 131.5,120.9 132.9,122.2 134.7,123.7 136.9,124.2 137.7,125.7 141.5,127.1 144.0,128.2 141.5,129.1 139.0,130.1 141.4,131.4 143.7,132.3 145.5,131.5 147.0,129.9 148.9,130.0 150.6,128.9 152.1,127.9 152.7,128.6 155.2,128.4 158.8,129.8 161.0,130.1 163.8,130.5 165.6,131.0 168.2,130.0 169.7,129.9 171.6,130.3 173.5,131.0 174.9,131.1 176.5,130.2 178.7,130.2 180.0,130.7 181.5,129.9 182.0,130.1 183.3,129.7 185.0,128.6 185.6,128.2 187.2,128.2 188.5,128.0 190.4,127.8 190.2,126.8 190.4,125.0 191.7,124.0 192.1,122.1 192.9,121.3 192.7,124.1 193.7,126.2 194.1,125.2 194.5,123.6 195.1,122.6 194.8,120.4 195.8,119.4 195.6,116.8 196.3,114.7 196.8,112.9 197.6,111.5 198.4,109.5 199.9,108.1 200.6,107.9 201.3,106.3 202.9,105.3 203.5,104.7 205.4,103.5 204.0,104.8 203.6,105.9 202.7,106.6 201.2,108.5 200.9,109.6 199.4,110.6 198.9,112.0 199.2,115.1 198.5,116.8 200.3,116.7 201.5,115.9 201.9,115.4 203.8,114.9 204.6,114.5 206.0,115.3 208.0,115.8 208.3,117.5 212.0,120.8 210.8,124.8 210.5,124.6 209.4,125.8 208.5,126.1 207.3,126.5 208.0,128.5 209.3,128.5 210.5,127.9 211.5,128.3 212.4,128.3 213.3,127.7 213.4,128.5 214.7,128.7 216.2,129.7 215.3,130.7 214.8,130.7 213.7,131.9 213.3,132.4 212.5,132.4 212.6,134.4 213.4,135.2 215.4,136.0 216.5,135.9 215.7,137.6 214.5,137.7 214.1,138.7 213.9,139.8 213.9,140.5 212.8,141.9 212.4,142.4 212.9,143.9 211.4,144.1 211.2,144.5 210.9,145.5 210.7,145.8 209.5,145.7 208.7,146.0 208.6,145.8 207.1,145.6 206.7,146.1 206.4,145.9 205.7,146.4 204.6,146.4 203.9,147.0 203.1,147.3 202.5,147.1 201.9,147.9 200.7,147.8 200.3,148.5 200.2,148.2 199.4,148.9 198.0,148.7 197.2,149.4 197.0,149.6 196.4,149.6 195.6,149.6 194.2,149.9 193.3,149.6 193.9,150.3 192.8,151.1 193.4,152.0 192.2,153.5 192.0,154.3 192.3,155.1 192.4,155.5 191.9,155.7 191.7,157.0 191.0,156.9 190.5,158.3 189.2,158.0 189.2,159.0 188.3,158.7 187.7,159.7 187.6,159.9 186.6,160.4 186.0,160.9 185.1,161.5 185.5,162.0 184.6,162.2 184.0,163.5 182.8,163.6 181.3,164.1 180.6,164.0 179.5,165.4 180.2,166.0 179.5,167.0 179.1,167.3 178.9,168.4 178.9,168.8 179.2,170.4 178.4,170.8 178.2,171.6 178.0,171.7 177.2,172.2 177.2,173.3 176.5,174.0 176.4,175.2 176.2,176.2 176.6,176.6 176.6,177.6 177.1,178.1 176.8,179.1 177.3,179.5 178.0,181.0 178.6,181.0 179.3,182.4 182.2,183.1 184.8,182.7 182.8,183.4 181.5,184.6 181.0,185.6 178.5,186.3 176.7,186.7 177.5,187.1 177.2,188.6 177.7,188.7 178.4,189.8 178.2,190.1 178.1,191.0 177.4,191.8 177.7,192.4 176.7,192.9 175.9,194.3 177.8,194.2 180.7,193.1 177.9,194.2 174.1,195.2 172.8,194.3 172.4,193.5 171.3,192.5 171.0,191.7 169.5,190.3 168.4,189.8 167.8,189.3 166.7,187.9 166.0,187.5 163.0,186.1 162.3,184.2 161.4,183.2 159.5,182.7 158.6,181.4 155.9,181.2 152.8,180.9 150.1,182.5 148.5,183.4 148.0,184.3 147.1,185.5 147.3,186.3 146.5,187.7 146.4,189.0 145.5,190.3 145.3,191.9 144.8,193.2 144.2,193.9 144.0,195.0 144.7,197.0 143.9,197.8 141.4,199.0 139.0,199.7 136.8,200.9 134.6,202.9 138.3,204.8 140.6,203.3 144.0,202.0 145.8,204.0 147.8,204.4 149.1,205.6 151.7,204.2 154.2,201.7 156.8,202.0 158.9,202.4 160.5,201.7 163.5,200.7 163.5,201.7 163.2,202.8 163.2,203.8 164.1,204.7 164.2,206.3 164.1,206.6 163.6,208.3 162.4,209.3 162.2,210.2 160.3,213.0 157.8,214.9 157.3,215.9 159.6,216.8 161.8,217.3 163.7,217.2 162.5,219.6 161.2,220.9 159.9,222.8 157.3,224.3 155.5,226.5 155.1,228.6 155.2,230.4 154.5,232.3 153.9,233.9 153.3,236.2 151.6,239.2 149.5,238.3 147.7,237.9 146.5,236.8 144.4,236.1 143.8,235.3 142.7,234.1 141.7,232.8 141.3,231.5 140.2,230.1 139.7,229.2 139.0,227.4 138.8,226.5 137.5,225.2 135.6,224.7 133.7,224.3 130.6,222.4 127.7,221.4 129.7,222.8 131.0,223.6 133.5,224.9 134.9,226.5 136.3,227.7 136.9,229.0 134.2,230.0 131.6,231.3 130.3,235.2 130.6,235.7 130.5,237.3 131.2,238.8 135.1,239.4 133.6,239.7 131.3,240.8 129.4,240.1 127.9,237.9 125.5,237.3 124.5,235.4 122.2,235.0 124.1,232.4 125.9,233.9 128.2,234.4 127.1,233.6 126.4,232.0 125.6,230.4 123.1,228.9 121.4,227.9 119.0,226.4 117.6,225.7 115.4,227.8 113.5,225.9 112.1,224.1 110.3,223.1 108.9,220.6 106.0,221.2 104.0,221.0 101.0,219.7 97.9,219.6 94.9,220.5 92.1,221.8 91.4,219.7 89.4,218.0 87.2,216.8 84.7,214.2 81.8,212.7 77.1,209.1 73.7,210.6M72.7,203.2 73.3,200.7 73.9,197.9 73.6,195.0 73.0,192.6 73.6,190.4 71.7,187.3M150.3,240.5 148.9,243.0 147.8,246.5 146.6,248.3 145.1,250.7 141.8,250.7 141.7,248.4 141.9,247.2 141.7,245.1 140.5,244.1 139.9,242.4 138.7,241.6 137.6,240.4 141.1,239.9 143.8,239.7 145.7,239.7 148.9,239.8 150.6,239.6M142.3,129.8 144.8,129.8 146.4,129.5 147.8,128.9 149.5,127.8 151.6,127.9 153.3,127.0 150.5,126.8 148.8,127.9 146.1,128.4 144.0,128.1 142.9,129.9M120.9,197.3 120.6,195.7 121.1,193.7 121.4,192.4 122.1,190.3 121.2,188.8 121.3,187.1 120.9,186.3 121.4,185.1 121.5,183.5 122.0,184.3 123.1,186.1 124.5,187.8 125.1,189.6 125.8,190.6 127.2,192.5 124.9,193.7 123.9,195.4 120.5,197.2M118.9,196.0 115.1,194.8 112.6,193.8 110.3,193.5 107.7,192.0 110.4,190.6 113.5,191.2 115.9,191.7 116.8,193.1 117.8,195.2 118.8,196.1M119.1,198.1 119.5,200.0 119.6,201.8 118.6,202.7 116.9,206.8 114.2,204.9 111.8,202.3 115.3,199.1 119.8,198.6M112.8,209.3 111.3,208.2 110.2,206.2 108.6,204.4 107.2,202.3 108.9,201.4 110.2,203.0 111.4,205.2 112.3,207.2 112.8,208.9M113.3,208.1 114.0,210.4 115.0,212.4 115.4,213.4 117.0,213.6 116.1,211.4 115.5,210.2 113.1,208.2M166.5,214.9 169.2,215.0 170.9,213.9 173.9,213.7 176.0,214.3 178.6,213.4 179.6,212.9 179.2,211.2 179.6,209.7 179.9,209.6 180.1,207.6 180.6,206.4 184.2,205.3 185.0,204.2 185.3,202.6 185.2,202.7 185.4,201.0 186.3,200.1 186.9,199.1 187.0,199.3 187.4,198.4 187.9,197.7 189.0,196.6 188.9,195.2 190.2,194.6 189.5,194.7 190.3,193.2 190.4,193.2 189.8,192.1 189.2,192.5 188.6,191.0 187.9,190.4 187.6,190.7 186.7,189.3 187.9,189.6 188.3,188.1 187.9,188.3 188.3,187.4 186.0,186.5 184.0,187.1 182.7,187.7 180.5,188.5 180.3,189.2 180.5,189.5 180.1,191.1 180.8,191.0 181.4,192.4 181.0,192.5 181.5,192.9 182.9,194.0 182.2,194.6 180.7,196.3 181.0,197.4 180.2,198.0 179.6,198.5 178.7,200.0 176.7,201.6 175.4,202.9 173.8,202.2 172.9,201.8 172.7,201.5 171.7,200.7 170.2,200.1 167.7,199.2 168.2,200.8 168.4,201.6 168.7,202.8 169.2,203.1 168.7,204.9 168.5,205.8 167.3,207.3 166.7,208.3 167.4,210.0 166.4,211.1 166.7,212.3 166.6,212.4 166.8,214.2 166.6,215.2M181.6,166.3 182.0,165.9 183.0,165.2 184.2,165.2 186.4,164.6 188.2,165.1 190.3,166.0 191.4,167.3 191.7,167.6 192.0,169.3 192.1,169.7 192.5,170.5 192.6,170.7 191.9,170.7 191.6,171.4 190.6,172.3 189.9,172.0 189.9,172.8 189.1,172.9 189.5,173.5 190.1,174.3 188.2,174.9 187.3,175.4 186.2,176.1 184.9,176.0 184.3,177.2 182.2,177.5 179.5,176.9 178.7,175.1 179.1,174.8 179.6,174.6 178.9,173.4 179.2,173.1 179.2,171.9 179.4,171.6 179.7,171.2 180.7,170.2 180.6,169.2 181.4,169.2 181.9,168.0 182.8,167.8 182.8,166.7 181.2,166.9M190.9,162.9 192.7,162.7 194.1,163.3 195.4,163.2 197.2,165.2 197.2,166.0 196.6,167.1 196.4,167.6 197.0,167.3 196.3,168.0 194.9,168.1 194.1,168.8 193.9,169.5 193.8,169.0 192.7,169.8 192.3,169.0 192.2,168.7 192.1,167.4 191.8,167.0 192.1,166.0 190.1,163.9 190.5,163.9 190.5,163.6 191.2,162.9M196.3,187.5 199.8,187.6 203.7,188.9 204.0,188.2 204.3,188.2 205.4,187.1 206.1,187.6 206.2,187.3 206.9,186.1 207.5,186.6 207.8,187.1 207.5,187.3 208.6,187.6 208.6,188.3 208.9,188.1 209.4,188.7 209.3,188.2 210.2,188.9 210.1,189.5 211.1,189.3 211.3,189.9 211.2,189.5 210.5,190.1 211.5,190.0 211.3,190.5 211.2,190.8 211.7,190.7 211.4,191.1 211.7,191.5 211.7,191.3 211.9,191.5 212.5,191.4 212.1,192.0 212.4,192.2 212.5,191.9 212.9,193.1 213.2,192.9 212.6,192.7 212.5,193.2 213.2,193.3 213.1,194.0 212.5,194.0 213.1,194.2 212.7,194.8 212.2,194.8 211.9,195.7 210.5,196.2 208.6,196.2 208.8,195.5 208.0,196.2 207.4,195.8 206.8,195.5 206.5,195.2 206.1,195.4 206.1,194.8 205.6,194.5 205.2,194.0 204.5,194.2 203.1,193.5 201.6,194.1 200.4,194.2 199.9,194.2 199.5,193.7 198.2,192.7 197.6,193.2 197.2,192.3 196.2,192.7 196.8,191.6 196.6,190.8 196.3,190.9 196.3,189.8 195.8,189.8 196.6,188.8 195.6,188.3 196.5,188.2 196.1,188.4 196.3,187.1M191.9,185.3 193.7,185.8 195.9,184.9 196.1,185.8 196.4,186.1 196.1,187.0 195.8,187.5 195.5,188.0 194.8,188.6 195.2,189.1 194.4,189.7 194.0,190.1 194.7,190.9 194.8,191.2 194.3,191.4 194.8,192.1 195.2,192.7 192.7,193.2 192.5,192.9 192.2,192.0 191.8,191.1 192.2,191.1 191.3,191.0 191.7,190.1 191.5,189.1 192.1,188.6 191.4,189.0 191.1,187.9 191.6,187.1 192.1,186.8 191.1,186.3 191.1,186.1M200.9,188.0 200.5,187.3 201.3,186.6 201.7,186.0 202.0,186.0 202.5,185.9 202.9,185.6 206.6,185.2 207.0,186.0 206.8,186.3 206.5,186.2 206.3,186.9 206.5,186.7 205.3,187.8 202.7,188.3 201.6,188.0 200.4,187.5M193.1,175.5 193.2,175.9 193.6,175.2 194.1,174.6 194.9,174.7 195.7,174.0 195.3,173.5 196.2,173.2 197.8,173.5 198.4,173.0 198.2,173.5 198.5,174.1 198.9,175.0 198.3,175.4 197.9,176.3 198.7,176.4 198.0,176.6 196.7,177.0 196.0,177.8 194.1,177.5 192.6,176.3M185.5,183.7 187.7,183.4 189.6,183.0 190.1,183.9 190.4,183.9 190.5,185.1 190.3,185.9 189.8,186.2 190.7,186.1 187.4,187.3 186.7,186.6 187.0,185.6 185.8,184.7 186.2,184.3 185.3,183.8M184.7,179.6 185.2,179.9 187.0,178.9 189.2,178.5 188.8,179.9 189.7,179.9 191.2,180.6 189.9,181.1 187.9,181.3 186.9,182.2 185.9,181.4 184.9,181.0 184.7,180.1M193.5,180.2 195.0,180.4 196.9,181.3 197.5,181.7 196.9,181.3 196.6,181.7 196.9,182.4 193.9,182.8 193.5,182.2 193.3,181.4 192.7,181.1M201.1,173.4 202.4,174.8 203.1,175.3 203.4,175.6 203.6,176.3 202.8,176.7 202.7,177.1 203.1,177.6 201.0,176.5 201.1,176.5 201.1,176.0 201.1,174.7 200.8,175.0 201.1,174.0 201.2,174.0M199.5,179.0 203.0,179.3 203.2,180.3 203.1,180.7 203.1,181.4 202.9,182.1 202.8,182.4 202.9,182.7 199.9,181.9 200.1,182.3 200.3,181.9 200.4,180.5 199.7,180.1 200.0,180.0 199.9,179.9 200.2,179.3M165.1,190.2 167.2,189.9 168.1,189.8 169.9,190.8 170.7,191.3 169.3,193.2 168.2,194.1 168.4,194.8 167.2,196.4 166.3,197.5 165.7,195.6 164.5,195.2 164.8,193.8 164.4,192.7 164.8,192.0 164.6,191.3 164.3,190.4M178.3,179.2 179.6,179.7 179.1,181.1 179.1,181.2 178.9,182.3 177.0,180.8 177.8,180.6 177.5,179.1 178.5,179.1M177.7,239.1 177.7,237.9 176.5,236.3 176.3,235.7 176.0,234.8 176.0,233.1 176.6,231.4 177.2,229.4 177.8,227.6 179.6,225.1 181.0,223.0 182.6,220.7 183.7,219.0 185.8,218.6 187.2,218.2 189.3,218.4 189.0,216.8 189.5,216.5 190.0,214.9 190.2,213.9 192.4,212.1 193.2,210.0 195.4,207.8 197.5,206.4 197.4,205.7 198.2,204.7 199.0,203.8 199.0,202.4 199.1,202.3 198.9,201.8 198.1,201.0 198.1,200.5 198.7,200.6 197.9,200.2 198.2,199.1 198.2,198.8 199.2,197.8 199.2,197.0 200.6,196.8 201.1,195.3 201.6,195.1 201.7,195.7 203.0,195.9 203.4,195.9 204.1,195.7 203.9,195.8 204.2,196.8 204.6,197.0 205.4,197.3 206.6,197.1 207.5,196.4 207.6,196.7 208.6,197.0 209.8,197.0 210.3,197.1 210.2,197.0 211.0,197.4 211.1,197.0 211.8,197.0 212.5,196.8 212.7,197.3 212.4,197.6 213.0,198.2 213.7,197.9 213.9,198.4 213.4,198.4 214.4,198.7 214.6,198.2 214.2,198.6 214.5,198.8 215.1,199.0 215.2,198.5 216.0,199.0 215.8,198.9 216.1,199.1 216.5,198.7 217.3,199.4 217.3,198.8 216.9,199.4 217.9,199.3 217.5,199.4 218.1,199.0 218.5,199.1 218.8,199.5 219.4,198.8 219.3,199.7 219.5,199.5 219.9,199.0 220.0,199.8 219.9,199.6 220.1,199.6 220.1,199.9 220.7,200.7 220.4,200.8 220.5,200.6 220.4,201.2 221.1,201.6 220.3,202.1 220.3,202.3 220.9,202.3 220.9,203.7 221.2,203.6 221.5,204.2 221.8,204.4 221.1,205.2 221.3,204.6 222.3,204.7 222.3,205.7 222.6,205.3 223.0,206.0 223.0,206.0 223.0,205.9 224.0,206.7 223.1,206.0 222.9,207.3 222.5,207.2 222.6,207.9 222.3,208.8 221.7,209.8 220.2,210.7 219.6,211.1 218.6,213.9 218.5,215.8 217.1,218.9 214.5,221.8 212.9,224.7 211.5,225.8 210.5,230.0 209.8,230.1 208.9,230.0 208.8,229.7 207.7,228.7 206.8,229.1 207.0,229.4 208.2,231.0 208.7,231.8 207.5,232.1 206.8,232.0 205.6,231.6 204.3,232.1 203.8,232.1 203.4,232.7 202.2,233.1 200.6,233.1 200.4,232.4 198.5,233.0 198.3,233.0 196.6,232.9 195.2,232.6 194.4,233.3 192.9,233.5 191.6,233.5 190.6,233.2 190.0,233.2 187.4,234.3 185.0,235.8 182.6,237.2 180.8,237.6 178.0,239.0M206.9,246.9 206.0,246.4 206.0,246.6 205.1,245.9 204.5,245.1 203.5,241.7 203.7,240.3 206.0,239.1 206.8,240.3 207.8,241.7 208.3,241.1 209.9,240.8 210.8,241.5 211.5,241.4 212.8,241.3 213.4,242.3 214.3,242.9 213.4,246.2 212.2,246.7 211.4,247.2 210.1,246.8 208.8,247.3 207.9,246.6M236.9,217.8 236.4,216.8 236.0,215.8 235.1,215.2 235.1,214.5 234.0,212.4 233.1,210.8 233.4,210.9 233.0,210.8 233.9,209.9 234.1,209.5 234.1,210.1 234.9,209.9 234.7,208.9 235.2,209.2 235.9,208.8 236.2,208.9 236.0,209.0 236.1,208.6 236.5,207.8 237.3,208.5 237.9,208.5 238.7,209.1 238.2,208.4 239.6,209.0 238.4,209.2 238.9,209.6 238.3,210.5 238.0,210.9 238.4,211.5 237.8,211.7 238.6,214.6 238.7,215.1 238.2,215.8 237.6,216.4 238.1,216.2 236.9,217.8M245.0,203.3 245.4,201.7 245.2,200.9 245.2,200.6 245.4,200.9 244.6,200.0 244.7,200.0 244.8,198.9 244.8,199.4 245.1,198.5 245.3,198.4 245.3,198.5 245.5,197.8 246.3,197.3 245.8,197.7 246.2,197.6 247.0,196.8 246.7,196.3 247.6,196.4 247.3,196.7 247.5,198.1 247.6,198.3 248.1,198.6 247.8,198.8 247.3,199.5 248.0,199.5 247.1,200.2 246.9,199.7 247.3,200.7 247.0,200.2 247.3,200.5 246.5,201.7 246.8,201.8 245.8,202.2 246.0,201.5 246.2,202.8 245.2,202.6 245.9,202.7M266.8,212.1 266.3,212.7 266.1,212.9 265.2,212.6 264.5,213.3 263.6,213.6 262.7,213.6 260.9,211.0 259.4,210.4 259.2,209.0 258.3,207.2 258.0,207.1 257.7,206.3 257.4,205.5 256.9,204.1 256.5,203.0 257.0,202.7 257.0,202.0 256.8,201.6 257.4,200.9 256.9,201.2 257.0,200.0 257.4,199.4 256.4,198.8 256.7,199.2 256.5,198.1 259.5,198.2 258.8,199.5 259.0,199.9 259.2,200.6 260.0,201.0 259.5,201.8 260.0,201.8 259.6,202.8 260.2,203.5 260.6,204.3 261.1,205.2 260.6,205.7 260.7,206.7 261.7,207.8 262.4,209.8 264.1,211.1 264.9,210.9 266.8,211.0 266.9,211.4M255.9,182.1 256.0,182.3 255.6,182.9 255.5,182.7 255.4,183.6 254.5,184.5 254.6,184.3 253.5,184.7 253.6,185.1 252.9,185.7 252.7,186.2 252.2,185.4 251.7,185.3 250.1,184.8 249.2,184.8 249.3,185.1 249.3,183.9 249.1,183.6 249.5,183.8 249.3,183.3 250.0,183.1 250.7,182.5 250.6,182.0 250.7,182.0 250.4,181.5 251.1,180.7 252.8,180.7 254.8,179.3 254.9,180.0 255.3,180.2 255.4,180.4 255.8,181.2 255.5,181.6 256.0,182.4M254.3,155.8 253.6,157.6 252.5,159.7 252.9,161.1 251.5,161.6 250.3,161.6 249.4,162.1 249.4,161.0 248.4,160.8 248.6,160.1 248.6,160.2 248.2,159.3 247.9,158.5 247.8,157.9 247.6,158.0 246.6,157.0 246.7,156.9 246.5,156.0 246.4,155.9 246.5,156.4 247.2,156.2 247.4,156.4 247.6,156.4 249.1,156.4 248.8,157.4 249.7,157.3 250.4,157.7 251.3,157.3 252.1,157.0 253.6,156.4M228.8,141.6 228.1,142.9 227.4,143.0 227.2,142.2 226.5,142.8 227.1,141.0 228.7,141.9 228.6,141.7M238.1,263.4 236.7,262.3 235.4,261.4 234.7,258.5 234.5,256.6 234.9,252.1 235.7,251.3 237.7,250.9 238.6,249.9 238.6,248.1 240.4,247.2 241.2,243.2 241.4,241.1 242.1,238.8 239.8,237.2 240.9,236.1 242.2,235.3 242.4,234.3 243.0,234.0 243.8,233.6 243.7,232.0 244.2,232.0 245.3,230.8 245.9,229.3 246.6,229.0 246.9,228.5 247.5,227.7 247.5,227.0 249.0,227.3 249.3,227.2 250.8,227.3 251.9,228.1 253.1,228.4 253.7,228.4 255.3,227.9 255.3,227.3 256.9,228.0 257.8,227.5 258.4,226.9 259.4,227.7 259.8,227.1 261.8,227.4 262.6,227.3 264.3,228.3 265.2,230.3 264.4,231.2 263.2,231.6 262.5,231.4 261.4,232.3 261.5,232.0 260.0,232.6 259.2,233.4 258.2,233.6 260.5,234.6 262.8,235.9 263.6,236.2 264.6,235.6 266.4,236.2 266.5,234.9 267.1,233.8 267.0,233.1 265.9,230.7 266.2,230.1 266.5,229.5 265.9,227.9 265.1,225.1 265.2,223.6 265.1,222.7 267.1,226.4 267.9,225.7 268.5,224.0 267.2,222.1 268.4,221.7 269.1,221.3 269.2,220.1 269.4,220.0 270.2,219.5 269.9,218.4 270.4,216.6 269.1,215.5 270.4,215.1 270.9,215.2 271.5,213.8 271.9,214.1 272.4,213.6 270.7,210.7 271.4,210.2 271.2,209.4 272.8,208.9 272.9,208.9 273.8,208.3 274.3,207.5 274.6,206.6 275.5,206.5 276.6,205.4 274.8,205.5 272.5,205.3 269.8,204.1 268.6,202.8 266.7,201.4 266.3,201.1 266.3,200.0 266.8,199.8 270.5,199.3 272.1,200.9 274.5,200.8 275.7,201.2 278.8,202.3 281.4,203.7 281.2,205.2 280.7,206.0 281.2,204.9 281.1,204.5 281.6,203.2 278.2,201.7 276.4,200.7 274.5,199.4 271.8,198.7 269.2,197.8 268.7,196.8 268.3,196.5 269.5,195.2 269.8,195.4 270.4,193.9 271.5,194.2 273.1,193.0 273.8,192.9 271.1,193.0 267.3,193.3 266.7,192.3 266.7,191.6 266.7,190.9 266.3,191.2 267.2,190.5 266.6,189.4 265.3,189.1 263.5,188.1 263.4,187.9 262.8,186.5 262.5,186.9 261.8,186.1 261.3,185.3 261.5,184.6 261.2,184.7 261.0,184.4 261.4,183.4 261.1,183.5 260.8,182.8 260.7,182.5 260.2,181.6 259.6,181.6 258.8,181.5 258.0,180.7 257.7,180.4 256.7,180.1 256.0,179.6 256.8,179.2 257.6,179.0 257.3,178.3 257.8,177.3 257.5,177.1 257.9,175.9 258.1,175.3 258.2,174.8 258.6,174.3 259.0,174.3 261.5,173.0 263.6,172.8 264.2,172.8 264.2,173.6 265.3,173.6 265.9,173.7 266.6,175.0 267.3,174.6 266.7,174.8 265.8,174.1 265.5,173.2 265.0,172.8 265.6,172.7 265.2,172.6 264.1,172.0 264.6,171.3 263.9,170.2 264.0,169.7 263.7,169.4 264.1,168.2 263.5,167.8 263.8,167.5 263.4,167.1 263.2,166.1 262.8,165.8 262.1,164.7 261.7,164.8 261.3,164.2 260.2,163.8 259.4,164.1 259.9,163.7 259.4,162.8 259.7,161.8 260.8,160.0 262.6,157.3 262.8,157.4 262.3,156.9 261.1,156.3 260.4,155.5 259.8,155.7 258.9,155.3 258.5,155.4 257.7,154.8 257.0,154.6 256.5,154.1 255.0,154.0 254.3,154.9 254.1,154.1 254.1,153.7 253.1,152.5 253.0,152.0 252.6,151.3 252.0,151.4 251.4,150.3 251.6,149.8 251.3,149.7 250.8,149.1 250.1,148.1 249.3,148.1 249.1,146.4 249.3,146.5 248.4,146.6 248.0,145.5 246.9,145.6 246.7,144.8 245.6,144.8 244.8,144.8 245.1,143.2 244.6,142.8 243.6,141.7 243.9,140.9 243.1,140.3 242.8,140.4 241.6,139.4 240.7,139.1 240.0,139.3 239.0,139.4 238.0,139.4 237.6,139.3 236.9,140.2 236.3,140.3 235.1,139.1 234.6,138.5 234.3,137.3 233.9,137.0 232.4,138.1 232.5,138.0 230.9,137.9 231.1,139.0 229.9,138.3 229.6,136.9 228.8,137.4 228.2,136.7 227.0,135.9 225.9,135.6 225.7,134.7 224.3,134.0 223.9,134.4 223.1,133.8 222.0,132.6 221.1,132.1 220.8,131.7 219.1,131.4 218.0,130.9 219.2,129.2 219.8,127.4 220.7,126.7 222.1,126.0 222.5,125.3 223.8,125.7 225.0,127.8 226.0,129.1 226.6,129.2 227.7,130.1 228.7,126.4 230.7,126.4 229.7,123.5 228.5,121.6 230.1,121.2 231.3,120.9 231.5,120.2 232.8,120.4 234.3,119.9 235.2,118.5 236.8,118.1 237.2,117.4 238.8,117.4 239.7,116.4 240.5,116.7 242.5,116.1 243.1,116.8 244.8,116.1 246.3,116.8 247.0,116.5 248.3,116.9 249.0,117.7 252.1,114.0 250.6,111.9 251.1,110.4 252.0,107.6 254.8,105.4 256.9,103.8 259.0,102.2 261.6,101.2 263.7,99.4 265.5,99.1 265.1,101.6 264.7,104.6 264.1,106.6 263.9,108.8 261.1,111.2 259.7,112.8 258.0,114.3 257.0,115.2 255.4,115.0 253.4,116.2 251.5,117.4 250.3,118.3 249.0,119.1 246.9,120.8 245.5,122.5 246.8,122.7 247.6,123.3 249.1,122.8 249.3,123.1 250.6,122.4 252.9,121.8 253.6,121.2 255.5,120.9 256.1,120.4 256.9,121.0 259.0,120.1 260.1,120.0 261.2,120.7 262.1,121.3 262.5,121.9 264.1,121.9 264.7,122.4 266.8,123.5 267.9,123.6 269.0,123.7 269.5,125.0 270.4,125.4 271.5,125.7 272.0,126.8 272.9,127.8 274.1,127.5 275.8,127.1 277.6,128.1 278.9,127.6 280.2,127.8 282.7,126.9 285.9,126.4 287.6,126.2 286.8,124.5 286.9,123.6 286.0,121.3 286.1,119.8 284.9,119.0 284.8,117.4 286.2,114.1 288.4,112.2 291.1,110.8 293.0,108.8 295.7,108.3 298.1,107.3 301.0,105.9 304.2,105.4 306.6,105.1 308.5,105.5 310.7,104.9 312.2,105.9 314.4,105.8 316.7,107.5 318.6,109.0 321.5,109.0 325.0,109.6 327.6,109.0 330.5,108.1 330.8,104.9 330.8,102.9 334.7,98.9 337.6,97.8 341.3,100.4 343.0,102.6 338.8,105.3 337.0,106.4 335.1,109.3 336.2,111.1 334.8,112.8 332.9,115.1 332.8,115.9 335.8,117.6 337.9,118.0 336.1,120.4 333.3,122.7 335.4,124.0 337.3,124.3 340.0,125.8 342.3,127.0 344.9,123.5 343.6,121.9 342.4,119.8 341.1,117.7 340.5,114.5 343.8,116.4 346.9,117.3 351.0,117.7 351.8,114.2 354.1,111.3 355.2,108.0 358.2,106.0 360.1,103.6M296.1,100.8 292.3,102.3 291.4,104.7 290.0,107.2 287.5,108.3 284.9,110.1 284.4,111.6 282.5,113.5 282.1,115.5 280.2,118.2 284.0,115.3 285.9,113.6 287.5,111.8 289.0,109.6 290.2,107.5 292.1,105.2 294.6,102.2 295.1,101.0M306.1,93.6 304.5,95.7 302.9,96.8 299.2,98.9 296.7,100.2 296.3,97.5 296.0,95.3 295.1,93.9 293.3,92.3 295.1,91.0 297.5,90.3 300.2,90.2 301.6,92.4 302.0,93.7 306.7,93.6M305.1,91.8 305.9,89.3 307.1,86.2 311.5,84.1 313.0,82.0 315.9,79.8 318.4,79.0 322.2,81.0 324.3,83.2 329.7,82.3 328.3,86.6 330.0,86.9 332.0,88.9 334.0,89.7 336.7,93.0 332.8,91.8 329.9,92.0 328.0,90.5 327.0,88.8 325.1,87.5 320.9,88.1 318.2,89.0 317.2,86.0 312.7,88.2 309.3,90.1 304.6,92.0M337.2,92.6 337.1,89.6 340.3,88.3 342.9,87.6 344.8,88.5 341.9,92.6 339.5,93.8 337.1,92.2M331.1,88.0 332.3,84.9 336.5,86.1 335.9,88.5 331.0,88.0M237.4,264.2 240.2,263.2 240.4,262.4 242.2,260.5 242.0,259.8 243.9,262.9 244.9,264.9 246.1,267.2 247.0,268.9 248.8,267.9 249.6,267.1 251.3,265.4 251.1,262.4 250.7,258.6 252.6,256.1 250.3,255.0 249.6,254.3 247.8,250.8 248.9,248.9 249.1,247.2 250.0,244.4 250.0,242.3 250.2,241.3 251.0,240.1 252.9,240.3 253.6,240.8 253.4,242.0 253.0,243.8 252.1,245.9 252.2,247.1 252.9,250.9 254.7,253.2 256.7,253.2 257.8,252.8 258.4,252.3 259.2,250.9 259.7,250.7 260.8,249.5 261.9,250.2 263.6,250.2 265.2,249.7 263.6,250.7 263.2,251.5 262.6,251.5 261.1,252.8 260.1,252.5 258.8,253.6 257.9,256.0 259.5,256.5 261.2,259.4 259.9,259.4 258.6,259.6 257.7,261.5 257.7,264.0 257.2,267.1 256.2,268.9 254.6,268.4 253.8,268.6 252.1,269.6 251.1,271.2 250.4,272.0 248.6,271.8 246.3,271.7 245.3,272.6 242.9,272.3 242.0,269.0 242.6,266.8 242.5,263.7 241.1,264.7 239.7,266.0 239.5,268.2 241.1,270.7 241.4,272.8 240.8,273.9 239.1,275.7 237.1,275.8 236.4,275.8 235.9,276.9 235.3,279.9 234.4,281.6 231.1,282.6 230.8,284.4 228.2,285.9 227.6,286.9 226.1,285.6 225.9,288.2 223.1,288.4 221.2,288.6 219.4,288.5 220.5,290.4 222.4,291.8 223.7,292.5 225.6,294.9 225.4,299.1 224.9,303.4 222.8,302.6 221.3,303.1 219.4,302.4 217.6,301.9 216.5,302.4 214.0,301.2 212.5,301.2 209.5,302.7 209.1,305.9 209.1,309.0 207.5,312.4 206.2,314.5 207.1,316.9 206.7,319.4 210.1,320.4 212.8,321.5 215.2,323.8 218.3,322.5 220.2,322.5 223.2,322.0 226.2,319.2 228.8,317.0 227.7,314.4 229.9,310.7 232.5,308.9 234.7,306.4 235.1,304.1 237.8,303.2 240.9,302.8 243.1,300.9 245.3,299.0 249.2,300.7 251.2,303.7 254.0,304.5 256.5,305.4 258.6,307.2 261.9,308.4 264.1,311.0 264.2,313.2 266.0,310.6 264.5,308.5 264.1,306.3 267.9,306.7 265.7,304.6 263.5,303.2 261.9,303.1 259.6,302.6 257.6,302.0 255.0,299.6 252.9,297.9 252.3,294.7 254.0,293.4 254.6,296.0 256.0,294.5 258.4,297.1 260.9,298.6 263.6,299.0 265.5,299.2 267.7,300.0 268.8,302.5 270.2,304.6 271.3,305.6 273.4,306.7 275.1,308.7 275.7,309.9 278.4,312.1 279.9,312.9 281.2,312.3 280.7,310.0 280.7,307.5 281.6,305.6 278.5,304.6 276.1,302.2 276.5,300.8 279.1,302.0 279.1,299.7 281.2,298.5 282.1,298.0 283.4,298.3 284.0,299.7 284.5,298.4 286.4,295.3 287.4,294.9 286.1,294.9 284.9,293.3 282.9,290.4 283.1,286.8 283.0,283.1 283.2,279.8 284.2,278.6 287.4,278.9 288.4,279.7 291.4,281.3 293.0,278.8 294.4,276.1 291.0,275.9 290.8,274.5 291.8,272.5 293.2,270.9 294.6,270.4 295.1,269.1 295.3,273.0 295.2,275.0 295.0,276.6 298.3,276.2 300.1,275.8 302.5,276.4 305.2,275.7 307.4,275.9 309.2,278.0 308.6,279.3 307.1,280.6 305.3,282.2 303.7,283.4 302.2,284.8 299.8,285.5 297.8,285.5 297.5,284.9 295.4,287.6 294.4,288.7 293.3,290.9 291.4,292.1 289.6,293.4 287.7,293.8 288.7,294.2 287.4,295.7 286.0,298.1 283.6,300.1 285.8,301.3 286.6,303.8 290.3,306.1 292.5,306.3 295.4,305.8 297.6,303.0 299.9,302.6 303.0,302.4 303.7,300.8 305.8,298.6 308.5,296.8 309.4,300.2 312.1,303.2 313.0,307.4 313.1,312.9 311.6,313.9 309.7,315.5 306.3,317.1 304.0,320.3 300.3,321.9 298.3,322.2 295.4,323.0 293.2,323.5 290.5,323.1 288.0,323.3 285.8,323.6 281.9,323.5 279.9,327.8 279.8,333.2 276.4,333.3 274.6,332.7 271.5,332.8 267.1,330.8 263.7,330.0 262.1,329.8 259.6,330.0 256.8,329.5 254.1,328.4 254.2,326.0 255.0,323.8 253.4,319.2 250.4,318.7 248.5,320.0 245.7,320.9 243.7,321.4 241.2,321.1 239.0,321.6 235.9,321.4 235.0,322.6 232.0,323.3 230.9,323.1 227.5,324.7 224.9,326.2 222.8,326.6 219.6,326.4 217.9,325.8 215.7,324.8 214.0,324.2 212.6,328.5 208.8,330.7 206.4,332.0 204.0,335.0 202.0,339.3 202.3,340.9M263.3,313.6 263.3,316.7 262.8,317.7 261.6,317.9 259.7,317.3 257.1,316.5 257.1,315.5 259.9,315.1 263.3,313.5M247.7,308.3 248.4,310.1 249.7,313.6 248.0,314.4 247.1,311.8 245.7,309.6 247.7,307.3M247.1,302.8 247.7,304.8 247.8,307.0 246.5,305.2 246.6,304.2 247.5,302.9M284.3,313.7 284.7,314.8 288.0,313.9 290.3,312.9 288.8,313.1 285.8,313.6 283.3,314.4M302.9,305.8 305.3,305.9 306.9,301.7 304.3,304.0 303.2,305.2M235.5,312.7 234.7,314.3 233.8,314.6 235.1,313.4M218.5,285.1 220.6,284.1 221.5,284.1 223.4,283.9 225.2,283.3 226.2,283.1 227.8,282.9 230.0,282.5 230.1,282.4 228.9,281.5 231.0,277.4 228.1,277.6 227.5,275.7 227.2,273.5 225.4,270.7 223.9,269.4 224.7,268.4 225.4,265.0 224.1,265.4 223.1,264.7 224.2,262.5 222.8,262.4 222.1,262.3 219.8,265.3 219.4,267.2 220.9,270.0 220.6,271.4 222.7,272.7 223.4,274.5 223.2,275.8 221.0,276.5 220.9,277.7 219.9,279.5 219.6,280.4 220.8,280.2 222.8,281.5 222.4,282.2 221.1,282.7 218.3,285.1M212.0,279.5 214.7,279.3 216.8,279.6 218.1,278.5 218.4,275.8 218.9,273.5 218.7,270.7 217.0,270.1 215.1,273.4 213.5,272.6 213.1,275.5 211.2,277.3 212.1,279.8M246.5,269.6 246.3,267.8 243.8,268.9 245.1,269.4 246.1,270.1M253.5,262.4 253.7,259.8 252.2,261.6 253.0,262.8M308.2,257.2 309.8,255.6 311.0,255.0 312.1,254.0 313.4,252.8 317.5,254.3 316.7,256.1 316.0,257.6 315.8,259.3 320.7,260.3 323.3,260.4 326.1,261.2 329.3,262.2 331.6,263.4 334.1,264.5 336.8,266.0 335.8,268.3 335.5,270.6 332.6,271.9 330.4,273.1 326.3,272.5 324.4,269.8 323.8,268.0 319.3,266.5 315.1,266.2 310.3,264.3 309.4,260.7 309.4,257.7 308.6,257.0M322.7,237.6 322.2,240.1 322.7,241.4 322.5,243.9 325.3,246.8 327.5,245.6 328.6,244.0 326.7,240.0 324.4,239.0 322.7,238.3M320.0,163.5 318.0,162.2 316.7,161.4 314.6,160.8 312.5,159.9 309.2,159.6 307.1,158.4 308.7,159.6 311.8,160.3 313.8,160.3 316.8,161.2 318.2,162.6 320.1,163.8M335.6,218.0 332.3,216.2 331.9,213.7 332.8,212.6 333.3,211.1 332.6,209.6 333.0,208.5 334.9,207.9 334.0,209.5 334.0,211.8 333.7,213.4 335.2,215.1 335.9,217.2M265.0,248.6 262.4,246.8 263.9,246.4 264.3,245.0 267.2,246.3 266.0,247.5 265.9,248.7M268.6,243.7 265.4,241.1 267.5,240.9 268.2,244.4M205.9,103.5 206.7,102.0 207.7,101.4M207.8,100.6 210.4,98.4M211.7,97.6 213.2,96.3M216.3,95.9 217.8,94.6 218.8,94.3M221.4,93.6 223.2,93.1 224.6,93.5M229.5,92.7 230.9,93.1 232.0,93.5M235.6,95.0 237.5,95.9 239.1,96.3M249.1,104.6 246.5,102.5M267.1,97.9 268.9,97.1M271.3,95.4 273.3,95.0M276.9,91.9 280.1,91.9M283.9,91.3 285.4,91.0 288.6,91.1M290.8,91.8 293.1,91.7M194.1,114.2 193.0,118.1 192.5,119.4 191.1,117.5 192.5,116.4 194.0,114.3M219.0,123.0 217.3,124.9 215.4,123.4 217.3,122.6 219.0,123.4M163.8,127.5 160.9,126.0 158.6,126.1 162.1,126.5 163.8,127.4M138.7,230.2 140.4,231.7 139.8,234.2 139.0,232.6 138.4,230.0M187.9,194.3 189.8,193.3 190.5,193.8 190.5,194.7 189.7,195.9 189.1,196.2 188.2,195.3 187.8,195.3 188.4,194.3 187.9,194.2M192.6,182.9 194.5,182.9 194.3,183.8 193.4,184.4 193.2,184.6 192.4,184.6 192.2,184.1 192.6,183.1 191.9,183.2M199.2,168.9 200.1,170.2 201.8,170.9 201.5,171.8 201.6,172.8 201.5,172.4 201.1,173.3 199.0,171.8 199.2,170.8 199.1,170.5 199.8,169.5 199.6,169.2 199.2,168.9M199.7,183.2 202.5,183.6 202.3,184.0 201.9,184.7 202.0,185.0 199.5,184.1 200.0,183.4 199.5,183.8 199.3,183.0M175.2,199.2 178.0,198.5 177.5,200.3 177.5,201.4 175.4,200.4 175.0,199.4M161.7,194.7 163.8,195.0 163.9,196.0 164.0,197.9 161.5,196.2 161.6,194.3M161.8,198.2 162.7,198.1 161.5,199.4 161.2,198.7M138.2,199.9 139.5,201.0 138.5,200.9 138.4,199.6M147.1,201.4 149.1,202.6 148.1,202.8 147.6,201.6M165.8,215.2 167.2,215.1 166.5,215.8 165.5,215.9M180.5,195.3 182.4,196.0 181.3,197.3 180.3,196.1 180.7,195.8 180.6,195.0M195.8,178.5 197.8,179.4 196.4,179.6 196.4,178.9 196.4,178.4M195.3,183.7 196.4,183.4 196.7,183.8 196.2,184.7 194.7,183.4M188.7,176.1 191.3,176.0 191.0,176.6 190.5,177.3 189.7,175.8M178.4,176.8 180.0,176.8 179.2,177.5 179.1,176.5M203.9,182.4 204.9,182.5 205.4,183.1 205.1,183.3 204.7,184.2 205.2,183.2 204.6,183.7 204.2,183.2M199.4,171.0 199.7,171.6 198.8,171.5 199.7,171.4 199.4,171.4 199.5,171.1M190.2,185.3 191.9,184.6 191.7,185.7 191.0,184.6M177.4,238.2 177.4,236.7 177.5,235.1M240.6,209.7 240.7,209.0 241.0,209.0 241.3,210.3 240.5,209.7M238.2,212.2 237.8,212.4 238.9,212.2 238.8,212.0 239.4,213.6 238.8,212.6 237.9,211.9M239.9,221.4 240.5,221.8 240.4,222.3 240.6,222.2M221.7,231.5 221.8,231.7 221.5,231.5 222.1,232.0M220.2,254.0 220.2,253.3 220.2,254.7 219.7,253.9M226.8,258.9 226.5,257.3 226.5,258.6 225.8,258.8M223.8,261.4 224.6,261.3 224.1,262.0 224.2,261.9M218.6,265.1 219.9,262.8 218.6,265.0 218.7,265.3M265.3,218.0 265.1,219.6 267.0,219.2 266.0,218.2 265.6,218.2M264.7,200.1 265.3,199.2 265.7,200.8 265.5,199.9M252.5,192.5 252.1,192.5 252.2,192.1 252.0,192.8M257.1,257.4 256.5,256.7 258.7,257.7 258.0,258.7 256.7,257.8M256.3,256.7 257.3,255.7 257.9,256.0M251.3,265.9 251.3,263.0 251.8,264.9M249.9,268.8 250.4,268.5 250.3,268.6 250.3,268.6M252.9,254.7 252.9,253.3 253.3,254.0 252.4,254.0M243.0,271.2 243.8,269.2 244.5,269.8 243.2,271.0M245.4,271.2 246.0,270.2 245.7,271.0M271.0,306.6 270.6,305.8 271.8,306.7M274.3,309.7 275.1,309.9M285.2,303.7 285.0,304.0 285.6,304.6M284.8,302.0 284.8,301.2 285.7,302.1M292.1,307.4 292.2,307.1 292.6,309.0M231.0,316.1 231.9,315.4M237.0,312.1 237.6,313.0M282.2,116.3 281.1,115.2M264.9,121.6 264.2,121.4M286.3,124.2 285.7,124.4 286.2,124.0 286.0,124.2M204.9,103.9 203.5,104.8M174.3,131.2 172.6,130.8 171.6,130.2 173.2,131.5M168.9,131.3 166.8,130.1 164.2,129.5 167.8,129.5 169.0,131.3M171.4,132.0 170.8,130.7 170.4,132.0M212.0,116.2 211.1,117.2 210.1,115.7 211.9,115.9" stroke="#300c34" stroke-width="1.35"/><path d="M196.3,149.8 195.8,150.3 195.0,150.4 193.1,149.9 194.3,150.9 194.0,150.6 193.1,151.5 193.0,152.7 192.0,152.7 192.1,154.5 192.7,153.9 192.5,154.5 192.0,155.1 190.8,156.9 190.9,156.5 191.6,158.0 189.9,158.5 189.7,158.5 188.7,159.3 188.9,159.8 188.7,159.1 187.4,159.3 186.5,159.5 186.3,160.8 185.3,161.3 185.4,161.1 185.7,161.8 184.4,162.3 184.6,162.0 184.5,162.4 183.3,164.0 181.2,164.2 180.8,164.2 179.4,163.7 179.5,165.8 179.3,166.2 180.3,167.1 179.3,166.9 179.4,168.2 178.6,168.9 179.6,169.8 178.3,170.6 178.0,170.2 178.5,171.7 177.8,172.4 177.8,172.0 177.1,172.4 176.4,173.0 177.1,175.0 176.0,174.2 177.4,175.6 176.5,175.8 176.8,177.4 176.6,177.5 176.1,178.9 176.1,178.9 177.5,179.0 178.2,181.2 178.9,181.8 178.9,182.0 181.4,183.1 184.0,182.9 184.2,184.0 183.2,183.9 181.5,184.9 180.6,184.8 178.6,185.4 176.7,187.6 178.0,187.7 177.6,188.0 177.3,188.5 178.8,190.2 178.5,190.7 178.6,191.3 177.9,192.2 177.0,192.9 176.3,193.3 176.6,194.4 177.9,194.5 180.5,193.7 176.7,194.5 175.3,194.9 173.8,195.4 173.5,194.8 172.4,193.8 172.5,193.5 171.3,192.8M179.4,213.9 179.8,213.3 179.4,211.7 179.1,211.2 180.6,209.6 180.6,209.1 181.0,207.2 181.4,207.0 182.8,205.8 184.4,205.5 184.7,204.6 184.1,202.9 185.1,202.9 185.1,202.2 186.2,200.4 186.3,200.0 186.0,199.1 186.9,198.4 187.1,197.5 188.0,197.4 188.7,197.0 188.5,196.9 188.6,195.4 189.5,194.8 189.3,195.0 189.7,193.2 190.1,192.8 190.0,192.7 190.1,193.3 190.0,191.9 189.5,191.8 188.3,190.6 188.2,190.8 188.4,190.9 187.4,189.4 188.0,188.4 187.0,188.7 188.0,187.6 188.3,188.3 188.1,187.0 185.8,186.6 185.0,186.6 183.1,188.3 180.7,188.1 181.1,189.2 180.0,189.6 180.8,190.6 180.0,191.2 180.1,192.0 181.0,192.0 182.0,193.5 181.2,193.6 182.0,194.8 182.4,194.3 181.1,194.9 181.8,195.8 180.8,196.9 180.4,197.8 180.0,197.9 179.5,198.9 178.7,199.8 176.8,201.5 175.6,202.7 174.3,202.5 172.5,201.4M181.3,167.1 182.7,166.1 181.9,166.0 183.3,165.3 184.4,165.0 186.2,165.6 188.3,165.1 190.7,165.9 191.6,168.0 191.2,168.7 192.3,168.7 191.7,169.9 192.8,169.6 192.2,170.8 191.7,170.9 190.6,171.7 191.1,171.2 189.7,172.8 190.0,173.0 188.8,173.7 190.4,174.8 190.0,173.9 189.3,174.5 188.1,176.0 187.3,175.0 185.7,176.6 184.7,176.5 184.2,176.1 183.7,176.4 182.1,177.4 180.3,176.3 179.3,176.8 179.8,175.1 179.0,174.6 179.3,174.2 179.8,173.3 178.4,173.0 178.9,172.3 179.8,172.2 180.2,171.1 180.1,170.5 180.4,170.2 181.2,168.6 181.1,168.5 182.3,167.6 182.7,167.8 182.1,167.3 180.7,165.8M191.4,162.4 193.1,162.8 193.5,163.4 194.3,163.3 195.5,163.8 198.2,166.0 196.8,165.5 197.8,166.8 197.4,166.3 196.9,167.1 196.0,167.5 196.1,167.8 195.2,167.7 195.4,168.9 194.9,168.8 194.4,169.3 193.5,169.7 193.2,169.8 192.0,168.5 192.0,167.8 192.9,167.8 192.6,166.3 192.0,166.9 190.1,164.1 190.3,163.1 190.3,162.7 191.1,162.7M196.8,186.8 197.6,187.4 199.3,187.7 201.2,188.3 202.7,189.2 203.7,188.9 204.7,188.1 204.9,188.3 204.8,187.5 205.6,187.2 206.8,186.2 206.5,185.7 206.8,186.0 207.4,187.7 207.6,186.9 208.1,187.2 208.8,188.1 208.2,187.6 209.3,188.9 209.6,188.3 210.5,187.9 209.3,189.3 210.2,188.3 210.7,190.0 210.8,189.2 210.2,189.0 211.7,189.9 211.8,189.3 210.8,189.5 211.2,189.7 211.1,190.5 211.3,190.1 211.0,191.8 211.4,191.2 211.9,191.4 211.5,191.2 211.7,191.8 213.1,192.0 213.2,191.6 212.0,192.3 212.9,192.5 212.6,192.8 213.2,193.5 212.4,193.0 213.2,192.9 212.1,193.3 212.0,194.3 213.1,193.8 212.0,193.7 212.2,193.9 212.5,195.0 212.2,194.4 211.7,194.7 209.7,195.4 208.8,195.3 208.5,195.5 208.6,195.8 208.5,195.8 207.9,195.6 207.0,195.8 207.0,195.9 206.7,195.3 205.6,195.3 205.4,194.1 204.5,193.9 204.5,194.5 204.1,193.4 203.6,194.1 201.2,193.3 200.1,193.7 200.5,194.4 199.3,193.0 198.2,193.0 197.3,192.1 196.9,193.2 197.0,191.6 196.6,191.3 196.8,191.3 197.0,191.5 195.6,190.3 196.8,190.1 196.0,189.7 196.6,190.1 196.2,189.7 196.3,187.9 196.7,188.0 195.5,188.5 195.5,187.5M191.7,186.5 193.8,185.1 195.9,184.9 196.2,185.6 196.4,185.8 195.6,186.3 196.5,187.6 196.1,187.7 195.2,187.4 195.7,188.4 194.2,188.4 194.2,189.7 195.3,189.4 195.0,190.1 194.9,191.4 194.9,191.7 194.6,190.9 194.9,192.2 194.5,192.3 194.8,192.2 192.2,192.9 192.3,193.0 192.0,193.0 192.5,192.5 192.2,191.6 191.9,191.4 191.5,190.6 191.9,190.0 191.2,188.9 190.9,188.8 191.7,189.0 191.9,187.8 192.3,187.3 191.9,186.5 192.0,187.0 192.4,186.9 192.0,186.4M200.9,187.7 200.5,187.2 202.0,186.3 202.5,186.5 202.0,185.3 202.4,185.2 203.2,186.0 204.1,185.2 205.0,184.8 207.3,185.8 207.1,185.7 207.2,185.7 206.1,186.1 206.5,187.4 205.6,187.2 206.3,186.9 205.1,187.7 204.5,188.6 202.6,188.3 201.3,188.0 201.2,187.2M192.7,176.2 194.1,175.2 193.0,174.7 194.2,175.1 194.0,174.1 195.0,174.5 195.6,174.3 195.0,173.6 197.2,174.3 197.4,174.0 198.9,174.0 198.2,174.1 199.1,174.2 197.9,174.2 197.9,174.5 197.9,175.8 197.8,176.5 198.8,177.1 198.4,177.1 198.0,177.8 197.0,178.1 195.7,177.0 193.2,176.8 193.3,176.6 193.3,176.4M184.8,183.7 187.8,183.2 189.3,183.3 189.7,183.9 190.0,184.8 190.7,183.9 190.5,185.4 189.8,184.9 190.1,185.8 190.6,187.1 187.1,186.5 187.0,186.5 187.0,185.8 185.9,184.8 186.4,184.5 184.8,183.7M183.8,180.1 185.0,179.1 186.5,179.0 189.4,178.8 189.1,180.2 189.3,179.9 191.2,180.1 189.8,181.0 187.4,181.2 186.8,181.9 186.0,180.7 184.7,181.4 184.2,179.8M192.5,180.3 196.0,181.0 197.3,180.1 196.9,181.6 196.8,181.7 197.4,182.1 196.9,181.5 195.7,183.1 194.0,182.9 194.3,182.4 193.3,182.0 193.6,181.2M200.6,174.1 202.1,175.5 204.1,175.3 203.2,175.8 203.2,176.2 203.4,176.3 202.6,177.2 202.4,177.5 201.8,177.3 200.6,175.5 201.6,176.6 201.3,174.8 200.7,175.6 201.8,173.8 200.6,173.9 200.8,174.0M199.4,179.6 200.8,179.5 203.9,180.2 202.5,179.6 203.4,180.4 203.0,180.9 203.3,182.1 202.8,181.8 202.9,182.1 203.7,181.8 200.1,182.7 199.3,182.4 199.9,181.6 200.1,181.6 199.1,180.8 199.0,180.2 199.5,179.2 199.3,179.5 199.9,179.8M177.8,178.9 180.2,180.7 180.2,181.5 178.8,180.8 179.5,181.4 177.1,181.4 177.5,180.1 178.4,179.2 178.1,179.4M181.6,220.9 183.7,219.2 184.7,218.9 185.8,218.1 187.7,218.0 190.0,217.9 189.1,217.8 190.1,216.1 190.4,215.8 190.0,214.9 190.0,213.4 192.6,211.8 194.4,209.5 194.9,207.6 197.6,206.7 196.8,205.1 198.5,205.0 198.9,203.6 198.9,203.0 199.5,203.1 199.2,202.1 199.6,201.5 198.0,202.0 198.0,200.7 198.4,201.2 199.0,200.9 197.5,200.4 198.7,199.2 198.4,199.1 197.6,198.3 198.9,198.4 199.7,197.7 199.1,196.6 199.8,197.1 200.5,195.0 201.5,194.2 202.0,195.3 202.7,194.8 202.3,195.6 203.5,195.7 203.7,196.7 203.4,195.8 204.4,196.4 205.4,196.6 205.4,196.6 206.0,197.4 206.0,196.3 206.7,196.7 208.5,196.5 208.9,197.1 210.2,196.2 210.2,196.6 209.6,197.2 211.1,197.2 210.3,197.9 211.2,197.4 212.1,196.9 212.0,197.0 211.9,196.7 213.1,197.4 213.6,196.9 212.9,197.3 214.1,198.4 214.3,198.0 213.3,198.0 213.7,197.5 214.5,198.0 214.0,198.5 215.5,199.3 215.0,198.0 215.7,198.1 215.6,198.1 216.6,198.9 215.9,198.5 216.4,199.7 216.4,198.5 216.8,199.7 216.8,199.3 217.9,198.8 218.0,199.2 217.2,198.4 218.7,199.1 218.1,199.9 218.6,199.2 218.4,199.6 218.6,199.2 219.6,199.4 218.7,198.9 219.8,199.9 219.0,200.5 219.1,199.3 219.2,199.9 220.2,200.7 219.6,200.5 219.7,200.5 220.1,200.3 219.9,201.0 220.2,201.2 220.5,201.3 221.0,201.6 221.4,202.8 220.5,202.3 221.5,202.4 220.8,203.3 221.8,203.3 221.4,204.7 221.7,203.7 222.2,204.4 222.3,205.1 221.8,205.6 222.4,205.0 222.7,205.4 222.9,205.7 223.2,205.2 223.0,205.1 223.7,206.5 224.0,205.5 223.7,206.3 222.6,206.5 223.5,208.2 221.9,208.7 222.0,208.6 221.5,209.0 220.2,209.6 220.0,211.5 219.5,213.7 218.3,215.7 218.0,217.4 216.9,219.6 215.6,221.0 213.9,221.9 213.6,223.7 210.8,225.4 211.6,227.4 210.7,229.7 210.7,229.7 209.6,228.8 209.5,229.9 208.6,229.9 207.9,229.5 207.7,229.2 206.8,230.4 208.7,230.1 207.6,231.2 206.8,231.5 205.9,231.5 204.9,232.0 204.5,232.7 203.7,232.0 203.8,233.2 202.5,232.2 201.2,232.6 200.3,231.9 199.5,233.1 199.0,233.2 198.2,233.1 197.6,233.4 196.5,232.7 195.4,233.2 194.9,233.3M206.2,238.3 206.5,239.3M210.0,241.6 210.1,241.0 212.2,240.7 212.1,241.0 213.2,241.5M236.9,216.4 236.1,216.6 235.5,215.4 235.7,216.3 235.6,214.8 235.3,213.8 233.1,211.8 232.1,210.9 233.5,210.5 233.9,210.3 234.3,210.4 234.0,209.5 234.1,209.8 235.0,209.3 234.4,210.0 234.3,209.4 234.8,209.5 235.7,208.4 236.2,208.8 235.8,209.3 236.8,208.3 236.9,207.8 236.9,207.6 237.5,209.1 238.0,207.9 238.2,208.8 238.5,208.4 238.7,209.0 238.2,209.7 238.3,209.5 237.9,209.8 239.0,210.2 237.5,210.6 238.6,210.5 237.4,211.1 239.1,214.4 237.9,215.5 238.0,215.7 238.0,216.4 237.1,215.9 237.2,216.4 237.7,217.2M240.4,242.9 241.7,241.0 241.6,239.1 240.5,237.2 240.8,236.3 241.4,237.0 241.6,235.5 242.6,235.2 242.3,234.3 243.7,233.1 243.1,233.5 244.8,231.8 243.8,232.0 244.5,231.4 244.5,230.4 245.1,229.6 246.4,229.4 247.1,229.4 247.1,228.9 246.8,227.8 247.5,227.5 247.9,228.0 249.0,227.8 250.7,228.1 250.5,228.0 252.6,227.2 253.4,228.4 253.6,227.6 253.9,227.8 255.8,227.7 255.4,227.9 256.4,227.8 257.2,227.2 257.2,227.9 258.9,226.8 259.4,227.2 260.1,227.6 261.9,226.9M264.5,230.6 263.6,231.5 262.8,231.2 262.6,231.5 261.6,231.4 262.5,232.7 260.6,232.4 259.7,232.2 259.0,234.0 258.2,233.1M187.3,193.3 190.9,193.9 190.7,194.6 190.5,194.2 189.5,194.7 189.3,195.1 189.1,196.3 187.8,195.5 188.9,195.9 188.6,195.2 188.8,194.5 187.8,194.0M192.0,182.0 193.6,183.1 193.2,183.0 193.2,184.0 194.1,184.7 192.5,184.7 192.3,183.5 192.1,182.9 192.6,183.3M200.1,168.6 200.0,169.4 201.7,171.0 200.7,171.5 201.0,171.7 201.6,172.7 201.0,173.4 200.8,174.1 199.7,172.6 199.7,171.8 199.4,171.5 199.6,170.8 198.8,169.5 199.5,169.5 199.0,169.4M199.3,183.0 202.0,183.9 201.5,183.8 201.9,184.3 201.3,184.0 201.5,184.9 199.9,183.7 199.5,184.0 199.1,182.8 200.3,182.3M175.4,198.7 176.9,198.6 177.0,199.7 178.2,200.2 175.5,200.7 175.7,198.9 174.9,198.7M180.7,195.2 181.5,195.8 181.5,195.9 181.5,197.6 180.8,196.6 180.9,196.7 180.3,194.6M196.0,179.0 197.1,179.7 196.8,179.9 196.9,180.4 197.0,179.8 196.3,179.1M194.5,183.5 196.8,182.6 196.9,183.4 196.3,184.3 196.0,184.2 194.9,184.0M189.2,176.1 191.6,175.8 191.0,177.5 190.0,177.9 190.2,176.8 189.8,176.6M178.3,176.7 180.1,177.0 179.9,178.2 179.4,176.1M204.1,183.4 206.1,183.2 205.0,183.5 205.2,183.6 205.3,184.2 205.3,184.7 204.7,183.6 204.7,183.3 203.5,183.5M199.5,170.7 199.2,170.8 200.9,171.5 199.0,172.6 199.0,171.9 199.7,171.8 199.7,170.4M190.1,184.6 190.7,183.9 190.7,185.0 190.9,185.5M240.3,209.6 240.4,209.7 240.9,208.3 241.3,209.5 240.3,210.4 239.9,209.9M238.2,212.4 238.8,212.1 239.4,211.7 239.7,212.4 238.5,213.3 239.3,213.3 238.1,212.8M239.5,221.5 240.3,222.2 241.1,221.4 241.0,221.9M221.2,230.9 221.8,231.4 221.6,231.5 222.2,231.5" stroke="#300c34" stroke-width="2.0"/></g>
<path d="M72.2,186.8 H384.2 M228.2,42.8 V342.8" stroke="#4a2a4a" stroke-width="1" fill="none"/>
<circle cx="228.2" cy="186.8" r="156" fill="none" stroke="#4a2a4a" stroke-width="1.1"/>
<rect x="217.2" y="26.8" width="176" height="16.5" fill="#fff"/>
<text x="229" y="39" class="n" textLength="153" lengthAdjust="spacing">NOAA/ESRL Physical Sciences Division</text>
<g clip-path="url(#c2)">
<circle cx="547.9" cy="186.9" r="156.6" fill="#fff"/>
<path d="M704.0,343.0 574.3,343.0 572.0,336.8 569.0,334.3 566.0,333.7 563.0,334.0 554.0,337.0 551.0,337.2 548.0,336.5 544.7,334.0 539.0,324.8 536.0,324.1 532.5,328.0 530.7,331.0 529.7,334.0 530.0,337.0 531.6,343.0 516.5,343.0 518.1,337.0 517.9,334.0 516.2,331.0 512.0,326.2 510.2,322.0 509.9,316.0 510.5,313.0 512.0,310.0 521.1,304.0 522.0,301.0 521.0,289.0 521.2,283.0 524.0,277.6 528.8,274.0 531.3,271.0 530.0,269.4 524.0,265.7 522.0,262.0 521.3,259.0 522.0,253.0 521.4,250.0 512.0,249.0 509.0,247.3 500.0,238.4 497.0,237.4 482.0,237.3 481.7,235.0 483.3,226.0 483.2,214.0 484.9,211.0 488.0,210.0 500.0,209.1 503.0,206.9 506.0,202.0 507.1,199.0 507.6,196.0 506.9,190.0 505.6,187.0 503.2,184.0 500.0,181.7 494.0,178.7 482.4,175.0 476.0,169.0 470.0,166.7 467.0,166.5 464.0,167.5 462.3,169.0 460.4,172.0 458.0,178.0 455.0,181.9 452.0,183.3 449.0,183.0 443.0,180.5 440.0,181.7 438.3,184.0 433.9,187.0 419.0,192.9 416.0,192.6 411.3,184.0 403.9,178.0 401.6,175.0 401.3,172.0 402.0,163.0 401.0,160.5 398.0,158.1 392.0,156.8 392.0,31.0 470.5,31.0 471.5,37.0 471.3,43.0 467.4,52.0 467.6,55.0 470.0,58.5 473.6,61.0 479.0,63.6 503.5,70.0 512.0,74.9 515.0,75.9 518.0,75.7 524.0,73.8 527.0,73.5 539.0,74.5 560.0,73.6 572.0,71.6 590.0,72.4 596.0,74.4 608.0,83.1 611.0,84.3 620.0,83.3 623.0,84.4 629.0,94.1 632.0,97.5 635.0,98.9 638.0,98.8 647.0,96.7 674.0,98.1 680.0,97.6 683.0,95.6 686.9,88.0 689.0,85.9 695.0,81.7 701.0,74.0 704.0,72.4 704.0,343.0ZM584.7,229.0 593.0,228.1 597.3,226.0 599.0,222.8 602.6,211.0 606.1,202.0 607.5,196.0 607.5,190.0 604.5,175.0 602.8,163.0 601.2,160.0 595.6,154.0 594.2,151.0 593.5,142.0 590.0,139.8 587.0,139.8 584.0,140.8 581.0,143.5 579.5,148.0 579.2,154.0 579.8,163.0 579.1,175.0 579.7,187.0 576.4,202.0 575.8,211.0 573.8,223.0 574.7,226.0 578.0,228.1 584.7,229.0ZM473.0,200.8 470.0,201.2 467.0,199.5 465.5,196.0 465.6,193.0 466.5,190.0 470.0,186.2 473.0,186.3 474.4,190.0 474.8,196.0 474.2,199.0 473.0,200.8ZM647.8,274.0 653.0,268.7 656.0,266.9 662.0,266.2 665.0,266.8 671.0,269.1 674.0,268.9 680.0,266.4 689.0,266.5 692.0,265.9 693.2,265.0 694.7,262.0 694.4,259.0 692.2,256.0 689.0,255.1 683.0,254.5 680.0,251.6 674.0,231.4 671.0,227.4 665.1,223.0 663.0,220.0 660.6,211.0 656.0,203.8 653.6,199.0 650.0,195.3 647.0,193.5 644.0,192.8 641.0,193.2 638.0,194.9 632.0,201.3 623.9,208.0 622.0,211.0 618.6,220.0 617.6,223.0 617.0,229.0 614.0,229.0 608.0,226.9 605.0,227.0 602.0,227.8 600.3,229.0 599.7,232.0 600.6,235.0 602.0,236.8 608.7,241.0 610.5,244.0 611.6,250.0 612.8,253.0 620.0,257.1 632.0,266.4 641.0,275.1 644.0,275.9 647.0,274.8 647.8,274.0ZM410.0,343.0 392.0,343.0 392.0,232.7 401.0,233.3 404.0,232.7 407.0,231.0 410.0,227.9 416.0,217.7 419.0,214.6 422.3,214.0 425.0,214.9 431.0,218.4 434.0,218.9 437.0,218.2 443.1,214.0 446.0,213.1 449.0,213.0 452.0,214.6 457.2,226.0 461.0,230.2 470.0,235.8 473.0,236.8 481.5,238.0 479.0,245.8 477.7,256.0 477.4,268.0 478.6,283.0 478.3,286.0 475.7,292.0 468.5,298.0 464.0,302.6 461.0,303.5 454.6,301.0 452.0,300.5 449.0,301.0 447.2,304.0 446.0,310.1 443.0,312.8 437.0,314.8 435.9,316.0 434.0,322.0 431.7,325.0 425.0,327.5 421.4,334.0 419.0,336.9 413.0,339.2 411.8,340.0 410.0,343.0ZM512.8,229.0 515.1,226.0 515.8,223.0 515.0,219.2 512.0,216.0 509.0,215.1 506.0,215.2 503.3,217.0 501.8,220.0 501.3,223.0 501.5,226.0 502.7,229.0 506.0,231.0 509.0,230.9 512.8,229.0Z" fill="none" stroke="#8a6a8a" stroke-width="0.8"/>
<path d="M704.0,343.0 674.5,343.0 672.7,340.0 665.0,334.2 659.0,326.7 652.7,322.0 647.0,314.1 644.0,312.7 632.0,312.8 623.0,310.5 620.0,311.1 617.0,313.1 614.7,316.0 613.5,319.0 614.0,322.0 617.0,324.7 623.0,328.0 625.4,331.0 626.2,334.0 626.3,337.0 625.5,343.0 580.4,343.0 577.7,328.0 576.4,325.0 575.0,323.7 572.0,323.4 563.0,326.6 557.0,327.6 554.0,327.5 551.0,326.6 548.9,325.0 542.0,316.4 539.0,314.4 533.0,312.7 530.8,310.0 530.7,301.0 527.8,289.0 528.1,286.0 529.7,283.0 537.0,277.0 539.0,273.2 539.4,271.0 539.2,268.0 537.8,265.0 536.0,262.9 529.8,259.0 528.9,256.0 528.8,250.0 528.0,247.0 527.0,245.7 524.0,243.9 521.0,243.8 515.0,244.5 512.0,244.1 508.4,241.0 507.1,238.0 508.5,235.0 512.0,233.0 515.7,229.0 517.0,226.0 517.6,223.0 517.4,220.0 516.3,217.0 515.0,215.1 512.0,212.8 508.4,211.0 507.3,208.0 510.3,199.0 510.8,196.0 510.5,190.0 508.3,184.0 505.6,181.0 494.4,175.0 491.6,172.0 492.5,169.0 495.0,166.0 496.3,163.0 495.5,160.0 494.0,158.1 491.0,155.7 488.0,154.2 482.0,153.4 478.6,154.0 464.0,158.9 458.0,162.0 452.0,167.1 449.0,168.9 436.6,172.0 433.2,175.0 431.0,179.1 428.0,182.4 425.0,183.8 422.0,184.1 419.0,182.9 408.9,175.0 407.0,172.1 406.8,163.0 406.2,160.0 404.0,155.7 401.0,153.6 398.0,153.0 392.0,153.2 392.0,31.0 436.3,31.0 439.0,34.0 443.4,37.0 451.0,46.0 458.0,50.5 459.2,52.0 464.0,62.6 476.0,73.3 479.0,74.8 482.0,75.2 494.0,73.2 500.0,74.3 503.0,76.3 509.0,84.1 512.0,85.3 521.0,85.7 536.0,83.8 554.0,85.2 578.0,86.1 593.0,84.1 596.0,84.9 599.0,87.2 605.0,97.3 608.0,99.0 611.0,99.2 617.0,98.1 620.0,98.5 623.0,100.3 632.0,109.9 635.0,111.4 638.0,111.6 647.0,110.3 656.0,110.3 668.0,109.4 704.0,109.4 704.0,264.6 701.6,262.0 698.0,253.0 695.0,250.8 686.0,248.9 683.0,246.9 680.0,241.4 676.5,226.0 672.9,220.0 672.5,217.0 675.1,211.0 677.2,208.0 686.0,200.6 687.3,199.0 688.3,196.0 687.8,175.0 686.8,166.0 687.2,154.0 686.0,150.3 683.0,147.8 677.0,147.2 674.0,147.8 671.0,149.8 670.1,151.0 669.2,154.0 669.3,157.0 671.0,166.0 671.0,175.0 672.2,184.0 671.8,187.0 670.3,190.0 668.0,192.7 665.0,195.0 662.0,196.3 659.0,196.4 656.0,195.2 647.0,190.0 644.0,189.1 641.0,189.4 638.0,190.7 629.0,198.2 622.0,202.0 619.2,205.0 617.0,211.0 614.0,216.3 611.0,218.2 608.0,218.2 606.6,217.0 605.5,214.0 605.8,211.0 610.4,199.0 610.6,193.0 606.8,175.0 605.9,160.0 605.0,156.8 601.4,151.0 602.1,148.0 604.5,145.0 605.0,142.0 603.1,139.0 596.0,135.5 593.0,135.1 587.0,135.7 581.0,138.5 578.3,142.0 577.0,148.0 577.5,163.0 576.2,175.0 576.8,187.0 573.7,199.0 573.3,211.0 572.0,216.4 569.2,223.0 567.8,229.0 569.0,231.4 570.6,232.0 584.0,233.0 590.0,234.9 593.0,237.6 600.8,247.0 602.2,250.0 602.2,253.0 600.2,259.0 592.4,265.0 590.7,268.0 591.3,271.0 595.6,274.0 599.0,274.3 602.0,273.2 609.9,265.0 614.0,262.4 617.0,261.5 620.0,262.0 629.0,267.1 633.6,271.0 638.0,276.6 641.0,279.1 644.0,279.9 647.0,279.6 650.0,276.8 653.8,271.0 656.0,269.5 659.0,268.9 662.0,269.7 664.0,271.0 668.0,276.2 670.1,277.0 680.0,276.7 683.0,278.1 687.2,286.0 695.2,292.0 701.0,299.8 704.0,301.6 704.0,343.0ZM494.0,231.2 491.0,231.5 488.0,229.9 486.7,226.0 486.1,217.0 487.3,214.0 491.0,212.6 494.0,212.9 497.0,214.0 498.2,217.0 497.0,228.0 496.6,229.0 494.0,231.2ZM395.0,334.6 392.0,336.5 392.0,239.7 401.0,240.0 407.0,238.8 410.0,236.7 416.0,228.8 419.0,226.6 422.0,226.1 443.0,227.2 446.0,227.7 449.0,229.1 461.5,238.0 464.4,241.0 471.1,250.0 473.0,256.0 473.4,265.0 472.8,277.0 471.0,283.0 468.5,286.0 464.0,287.9 458.0,288.1 446.0,286.7 440.0,287.3 437.0,288.7 434.7,292.0 431.8,298.0 425.0,302.5 419.0,310.2 411.4,316.0 407.0,322.3 399.4,328.0 395.0,334.6ZM524.0,325.5 521.0,325.3 517.0,322.0 515.9,319.0 516.5,316.0 518.0,314.3 521.0,312.9 527.0,312.3 531.0,313.0 529.4,319.0 528.0,322.0 527.0,323.3 524.0,325.5Z" fill="#32dc1e" fill-rule="evenodd" stroke="#1a1a00" stroke-opacity=".75" stroke-width=".6"/>
<path d="M566.0,319.4 560.0,321.9 557.0,321.9 554.0,320.8 551.0,318.1 541.9,307.0 540.8,304.0 542.2,295.0 541.6,286.0 544.3,274.0 543.9,265.0 543.0,262.0 541.3,259.0 535.2,253.0 531.6,244.0 530.0,242.4 527.0,240.9 518.0,239.8 514.3,238.0 514.7,235.0 518.0,229.0 519.3,223.0 519.3,220.0 518.0,214.8 512.7,208.0 512.5,205.0 514.7,196.0 514.5,187.0 512.0,180.1 509.0,176.4 503.6,172.0 502.8,169.0 502.9,163.0 502.5,160.0 501.2,157.0 498.7,154.0 494.0,150.7 488.0,148.3 482.0,147.5 476.8,148.0 458.0,156.3 446.0,163.7 443.0,164.9 440.0,165.6 431.0,166.1 428.0,166.8 422.0,169.6 419.0,169.9 416.0,169.1 413.0,165.8 410.0,155.7 407.0,148.0 404.0,144.1 401.0,142.9 398.0,143.4 392.0,146.6 392.0,31.0 431.3,31.0 432.2,34.0 434.0,36.1 440.3,40.0 443.0,42.8 447.5,49.0 452.3,52.0 455.4,55.0 459.1,67.0 468.5,76.0 470.1,79.0 471.7,85.0 473.0,85.8 476.0,86.2 488.0,85.1 491.0,86.3 497.0,95.6 500.0,98.3 503.0,99.5 506.0,99.7 509.0,99.3 515.0,97.3 518.0,96.7 521.0,96.8 524.0,98.0 529.0,103.0 533.0,104.4 536.0,104.6 542.8,103.0 551.0,98.8 566.0,96.7 572.0,96.6 581.0,98.1 593.0,98.5 608.0,106.0 611.0,106.6 617.0,106.4 620.0,107.1 623.0,109.6 624.5,112.0 625.6,115.0 625.1,118.0 620.0,121.0 617.4,124.0 616.2,127.0 615.9,130.0 616.4,133.0 620.0,134.8 623.0,135.0 626.0,134.4 627.3,133.0 628.1,130.0 628.5,124.0 629.5,121.0 632.0,119.8 635.0,119.2 650.0,118.1 659.0,119.0 668.0,121.8 680.0,120.6 683.0,121.6 685.2,124.0 686.3,127.0 687.0,133.0 686.7,136.0 685.5,139.0 683.0,141.0 674.0,143.6 671.0,145.0 668.0,147.9 666.6,151.0 665.7,157.0 666.0,166.0 665.4,184.0 664.2,187.0 662.0,189.1 659.0,190.3 656.0,190.0 653.0,188.6 645.4,184.0 644.0,182.6 641.0,182.3 629.0,192.6 626.0,194.3 620.0,195.4 617.0,194.6 614.0,190.6 611.0,183.0 609.1,175.0 609.2,166.0 610.6,154.0 612.4,145.0 612.6,139.0 609.9,136.0 599.0,132.5 593.0,131.5 587.0,132.1 583.9,133.0 578.8,136.0 576.5,139.0 575.0,145.0 575.4,163.0 573.4,175.0 573.7,187.0 569.8,199.0 569.5,211.0 563.0,224.3 557.6,232.0 556.7,235.0 557.0,239.5 558.0,241.0 560.0,242.0 563.0,241.4 570.4,238.0 575.0,236.7 581.0,236.5 586.0,238.0 589.6,241.0 591.5,244.0 594.1,250.0 594.5,253.0 593.9,256.0 593.0,257.3 587.2,262.0 585.3,265.0 585.3,268.0 586.4,271.0 588.8,274.0 593.0,276.5 596.0,277.6 602.0,278.4 605.0,278.0 608.0,275.7 611.0,272.3 614.0,269.8 618.3,268.0 623.0,268.0 629.0,270.5 632.0,273.4 634.1,277.0 636.6,283.0 635.6,286.0 632.0,288.7 623.0,298.9 617.0,303.6 608.0,313.1 605.0,314.3 602.0,314.2 593.0,311.2 587.0,310.4 584.0,311.1 572.0,315.8 566.0,319.4ZM695.0,241.3 689.0,242.3 686.0,241.2 683.0,236.6 682.3,232.0 683.4,214.0 686.0,210.0 694.1,205.0 696.2,202.0 697.1,196.0 696.2,181.0 696.7,175.0 698.0,171.8 701.0,169.6 704.0,169.0 704.0,239.4 695.0,241.3ZM458.0,280.1 446.0,279.6 431.0,277.2 428.0,276.6 425.0,275.3 423.4,274.0 421.7,271.0 421.0,265.0 423.3,250.0 422.9,247.0 420.7,241.0 420.2,238.0 421.0,235.0 422.0,234.0 425.0,232.3 428.0,231.7 434.0,231.5 440.0,232.3 446.0,234.6 452.0,237.8 456.6,241.0 459.2,244.0 467.0,257.8 468.1,262.0 468.2,265.0 467.0,272.7 464.8,277.0 461.0,279.5 458.0,280.1ZM659.0,274.8 658.6,274.0 659.1,274.0 659.0,274.8Z" fill="#96dc1e" fill-rule="evenodd" stroke="#1a1a00" stroke-opacity=".75" stroke-width=".6"/>
<path d="M548.0,241.3 545.0,242.8 542.0,243.3 539.0,242.0 536.0,239.1 533.7,238.0 524.0,236.9 520.2,235.0 519.8,232.0 521.0,223.0 521.2,217.0 519.5,205.0 520.8,193.0 520.4,187.0 515.0,174.4 509.3,166.0 508.6,163.0 508.0,154.0 506.4,151.0 503.0,148.3 497.0,144.7 494.0,143.6 479.0,142.2 473.0,144.1 440.0,160.1 437.0,160.6 422.0,160.7 419.0,160.0 416.0,157.1 410.7,142.0 407.0,137.5 404.0,135.9 401.0,135.3 392.0,135.7 392.0,61.0 395.0,62.8 400.2,70.0 407.0,75.4 412.5,82.0 419.0,87.4 421.1,91.0 423.4,97.0 425.0,98.5 428.0,98.6 431.0,96.7 437.0,88.3 440.0,85.9 443.0,85.0 449.0,84.8 452.0,85.5 455.0,87.5 458.0,91.3 461.0,93.5 464.0,94.5 470.0,94.6 479.0,93.8 485.0,94.4 488.7,97.0 494.0,104.7 497.0,107.4 500.0,107.8 518.0,105.4 527.0,107.0 533.0,107.4 551.0,104.3 557.0,105.6 566.0,109.7 569.0,110.1 587.0,105.2 593.0,104.6 596.0,104.9 602.0,107.4 612.5,115.0 613.3,118.0 612.1,124.0 611.0,127.2 608.2,130.0 605.0,130.3 593.0,128.3 587.0,128.5 581.0,130.2 578.0,131.9 574.6,136.0 572.9,142.0 573.3,160.0 572.6,166.0 570.5,175.0 570.0,187.0 569.0,190.1 566.0,195.7 563.0,200.6 560.0,203.9 557.4,208.0 556.4,211.0 555.0,220.0 552.4,226.0 551.0,236.7 548.0,241.3ZM626.0,188.8 623.0,189.7 620.0,189.5 617.0,187.7 614.0,183.4 611.4,175.0 611.5,169.0 614.0,158.3 617.0,149.4 620.0,144.2 623.0,143.5 629.0,145.1 632.0,145.2 635.0,142.7 636.0,139.0 635.6,130.0 636.6,127.0 641.0,124.5 643.4,124.0 650.0,123.5 656.0,124.4 659.0,125.5 668.0,130.8 674.9,133.0 675.8,136.0 668.0,142.8 665.0,147.6 663.8,151.0 661.5,169.0 659.0,180.5 656.0,182.4 653.0,180.9 648.8,175.0 647.0,173.5 644.0,171.7 638.0,170.6 636.0,172.0 635.0,173.7 633.0,181.0 631.3,184.0 629.0,186.7 626.0,188.8ZM704.0,230.9 695.0,230.9 692.0,230.1 690.5,229.0 688.8,226.0 688.7,220.0 690.1,217.0 692.0,215.3 695.0,214.5 698.0,214.7 704.0,216.3 704.0,230.9ZM455.0,274.6 452.0,274.7 449.0,274.1 445.6,271.0 445.1,268.0 446.0,262.0 445.6,259.0 443.0,255.5 435.5,250.0 433.4,247.0 431.7,241.0 434.0,238.2 437.0,237.8 440.0,238.3 446.0,240.2 452.0,243.2 455.5,247.0 461.0,261.4 461.6,265.0 461.3,268.0 460.1,271.0 458.0,273.3 455.0,274.6ZM584.0,254.6 581.0,255.2 578.0,255.0 569.7,253.0 565.8,250.0 566.4,247.0 569.4,244.0 575.0,241.1 578.0,240.6 581.6,241.0 584.0,242.1 585.9,244.0 587.5,247.0 587.7,250.0 587.0,252.1 584.0,254.6ZM563.0,314.3 560.0,315.0 557.0,313.8 554.4,310.0 553.5,307.0 553.2,304.0 554.1,295.0 553.8,286.0 554.2,283.0 555.7,280.0 563.0,274.4 569.0,268.4 572.0,267.0 575.0,266.9 578.0,268.2 587.3,277.0 600.1,283.0 602.1,286.0 602.4,289.0 601.8,292.0 599.5,298.0 596.3,301.0 584.0,304.0 563.0,314.3ZM620.0,290.2 617.0,289.6 614.5,286.0 614.0,283.0 614.7,280.0 616.6,277.0 620.0,274.9 623.0,274.1 626.0,274.7 628.4,277.0 629.0,280.0 627.9,283.0 625.8,286.0 623.0,288.7 620.0,290.2Z" fill="#dce61e" fill-rule="evenodd" stroke="#1a1a00" stroke-opacity=".75" stroke-width=".6"/>
<path d="M437.0,155.4 434.0,156.2 428.0,156.6 422.0,155.2 420.4,154.0 418.2,151.0 414.0,139.0 410.0,133.5 407.0,131.4 404.0,130.4 398.0,130.0 392.0,130.3 392.0,109.6 401.0,109.2 413.0,110.9 416.0,110.5 431.0,105.1 434.0,103.0 440.0,96.7 443.0,94.7 446.0,94.3 455.0,98.7 458.0,99.4 476.0,99.6 479.0,100.2 482.0,102.0 483.0,103.0 484.2,106.0 483.8,112.0 482.6,115.0 479.9,118.0 473.0,121.4 470.7,124.0 470.4,127.0 471.8,136.0 470.3,139.0 466.4,142.0 455.0,145.5 437.0,155.4ZM536.0,232.4 530.0,233.5 527.0,233.6 524.0,232.4 522.8,229.0 523.0,223.0 524.0,216.9 527.0,212.2 528.7,211.0 531.1,208.0 531.1,205.0 529.0,199.0 529.4,190.0 528.5,187.0 524.0,181.2 521.0,175.0 519.1,166.0 517.1,160.0 515.9,151.0 515.0,148.4 512.1,145.0 508.3,142.0 506.2,139.0 505.6,136.0 506.6,127.0 504.5,118.0 505.3,115.0 509.0,112.1 512.0,111.3 524.0,111.9 548.0,107.1 551.0,107.4 555.2,109.0 563.0,115.2 569.0,118.6 572.0,119.4 575.0,119.4 578.0,117.3 582.8,112.0 587.0,109.6 593.0,108.1 596.0,108.4 599.0,109.5 602.7,112.0 605.2,115.0 606.8,118.0 607.2,121.0 606.3,124.0 605.0,125.1 602.0,125.7 581.0,124.3 578.0,125.1 575.0,128.2 572.0,133.8 570.7,139.0 571.0,160.0 569.9,166.0 567.2,175.0 566.0,184.0 563.0,189.9 557.0,196.5 554.0,201.0 551.0,211.5 545.9,220.0 543.2,229.0 542.0,230.6 536.0,232.4ZM653.0,169.8 650.0,169.1 643.2,166.0 639.9,163.0 638.8,160.0 638.7,157.0 641.1,148.0 641.7,136.0 642.6,133.0 645.6,130.0 650.0,128.8 656.0,129.5 659.0,131.0 661.9,133.0 664.5,136.0 665.2,139.0 661.2,151.0 659.0,161.4 657.3,166.0 656.0,168.5 653.0,169.8ZM623.0,184.8 620.0,184.7 617.0,182.4 614.6,178.0 613.8,172.0 614.2,169.0 617.0,161.9 620.0,157.9 623.0,156.8 626.0,160.2 628.4,166.0 629.9,172.0 629.9,175.0 629.4,178.0 628.0,181.0 626.0,183.3 623.0,184.8ZM575.0,301.7 572.0,302.7 569.0,302.8 566.7,301.0 564.4,289.0 564.4,286.0 565.3,283.0 567.4,280.0 572.0,275.7 575.0,275.2 591.2,283.0 594.9,286.0 595.3,289.0 593.9,292.0 590.0,295.6 585.2,298.0 575.0,301.7Z" fill="#f0e61e" fill-rule="evenodd" stroke="#1a1a00" stroke-opacity=".75" stroke-width=".6"/>
<path d="M434.0,152.0 431.0,152.8 428.0,152.9 425.0,152.1 422.0,149.6 419.7,145.0 416.0,134.4 412.2,127.0 411.6,124.0 413.7,121.0 417.4,118.0 425.0,113.4 437.0,110.3 443.0,107.9 446.0,107.2 452.0,107.4 455.0,108.3 456.4,109.0 458.0,111.9 457.8,115.0 456.5,118.0 449.0,124.3 448.0,127.0 447.9,139.0 446.7,142.0 443.0,146.0 434.0,152.0ZM557.0,182.1 554.0,181.7 548.0,179.4 545.0,179.2 536.0,180.3 533.0,179.5 530.0,177.7 528.0,175.0 527.6,172.0 528.0,166.0 527.4,163.0 522.6,154.0 521.7,151.0 520.8,139.0 519.1,130.0 519.7,124.0 521.7,121.0 528.1,115.0 534.2,112.0 542.0,109.9 548.0,109.3 551.0,109.8 554.0,111.2 557.0,113.5 567.3,124.0 568.9,127.0 569.2,130.0 568.2,142.0 568.3,157.0 567.4,163.0 561.8,178.0 560.0,180.9 557.0,182.1ZM596.0,121.4 593.0,121.2 590.0,120.2 587.4,118.0 587.7,115.0 590.0,113.0 593.0,111.8 596.0,112.0 599.0,114.0 600.0,115.0 600.9,118.0 599.0,120.9 596.0,121.4ZM653.0,161.3 650.0,162.0 647.0,160.1 646.5,157.0 646.9,139.0 648.9,136.0 650.0,135.2 653.0,134.5 656.0,135.1 659.0,137.5 659.9,139.0 660.1,142.0 659.0,148.1 656.0,157.5 653.0,161.3ZM623.0,179.3 620.0,179.5 618.5,178.0 617.0,175.0 617.0,171.8 620.0,167.0 623.0,167.8 625.3,172.0 625.6,175.0 624.3,178.0 623.0,179.3ZM530.0,229.5 527.0,228.9 525.7,226.0 525.6,223.0 527.0,218.8 530.0,216.3 533.0,215.6 536.0,215.6 538.7,217.0 539.5,220.0 539.2,223.0 537.5,226.0 533.0,228.8 530.0,229.5Z" fill="#ffff1e" fill-rule="evenodd" stroke="#1a1a00" stroke-opacity=".75" stroke-width=".6"/>
<path d="M554.0,172.5 542.0,171.1 539.0,170.4 536.9,169.0 527.2,154.0 526.0,151.0 525.5,148.0 526.5,130.0 528.7,121.0 530.4,118.0 533.5,115.0 539.0,112.5 545.0,111.1 548.0,111.0 551.0,111.9 555.7,115.0 562.8,124.0 564.7,127.0 565.6,130.0 565.7,148.0 564.0,160.0 560.0,169.1 557.0,172.0 554.0,172.5ZM431.0,148.8 428.0,148.8 426.4,148.0 425.0,147.0 423.6,145.0 422.0,141.6 419.4,133.0 418.7,127.0 419.7,124.0 422.1,121.0 426.9,118.0 431.0,117.3 437.0,118.6 440.4,121.0 441.9,124.0 443.2,133.0 442.5,139.0 440.7,142.0 437.0,145.6 434.0,147.6 431.0,148.8Z" fill="#ffaa14" fill-rule="evenodd" stroke="#1a1a00" stroke-opacity=".75" stroke-width=".6"/>
<path d="M554.0,164.7 551.0,165.7 545.0,165.5 542.0,164.5 539.0,162.5 531.5,154.0 529.8,151.0 529.0,148.0 528.9,142.0 529.4,136.0 532.7,121.0 534.3,118.0 537.9,115.0 545.0,112.7 548.0,112.7 551.0,113.5 554.0,115.6 556.4,118.0 558.6,121.0 561.9,127.0 563.4,133.0 563.5,142.0 561.9,151.0 558.3,160.0 557.0,162.1 554.0,164.7ZM434.0,142.4 431.0,143.7 428.0,143.2 425.0,139.0 423.5,133.0 423.4,130.0 424.0,127.0 425.0,125.5 428.0,123.2 431.0,122.9 434.0,123.9 437.0,126.9 438.2,130.0 438.4,136.0 437.3,139.0 434.0,142.4Z" fill="#ff8c14" fill-rule="evenodd" stroke="#1a1a00" stroke-opacity=".75" stroke-width=".6"/>
<path d="M551.0,159.1 548.0,160.0 545.0,159.8 542.0,158.6 539.0,156.7 536.0,153.9 533.8,151.0 532.4,148.0 531.9,145.0 532.2,136.0 535.7,121.0 537.5,118.0 539.0,116.8 542.0,115.0 545.0,114.1 548.0,114.1 551.0,115.2 554.6,118.0 558.6,124.0 561.2,133.0 561.0,142.0 559.3,148.0 557.0,152.6 554.0,156.7 551.0,159.1Z" fill="#ff6e14" fill-rule="evenodd" stroke="#1a1a00" stroke-opacity=".75" stroke-width=".6"/>
<path d="M545.0,154.0 542.0,153.1 539.0,151.2 536.3,148.0 535.1,145.0 534.5,139.0 536.9,124.0 538.0,121.0 540.2,118.0 542.0,116.7 545.0,115.6 548.0,115.5 551.0,116.5 555.5,121.0 558.3,127.0 559.4,136.0 558.4,142.0 557.3,145.0 554.0,149.9 551.0,152.5 548.0,153.9 545.0,154.0Z" fill="#f01414" fill-rule="evenodd" stroke="#1a1a00" stroke-opacity=".75" stroke-width=".6"/>
<path d="M548.0,148.8 545.0,149.0 542.0,147.9 539.0,145.2 537.6,142.0 536.9,136.0 537.8,127.0 539.8,121.0 542.8,118.0 545.0,116.9 548.0,116.7 551.0,117.9 554.2,121.0 555.9,124.0 556.9,127.0 557.8,133.0 557.0,138.8 555.8,142.0 554.0,144.7 551.0,147.5 548.0,148.8Z" fill="#c81010" fill-rule="evenodd" stroke="#1a1a00" stroke-opacity=".75" stroke-width=".6"/>
<path d="M551.0,143.7 548.0,144.9 545.0,144.8 542.0,143.2 539.6,139.0 538.8,133.0 539.9,124.0 542.0,120.4 545.0,118.3 548.0,118.0 551.0,119.2 554.0,122.6 555.9,127.0 556.4,133.0 556.0,136.0 554.0,140.6 551.0,143.7Z" fill="#6a0000" fill-opacity=".10" fill-rule="evenodd" stroke="#300" stroke-opacity=".55" stroke-width=".5"/>
<path d="M548.0,142.0 545.0,141.6 542.0,139.0 540.7,136.0 540.0,130.0 540.3,127.0 542.0,122.5 545.0,119.6 548.0,119.1 551.0,120.5 553.7,124.0 555.4,130.0 555.2,133.0 554.0,137.0 551.0,140.9 548.0,142.0Z" fill="#6a0000" fill-opacity=".10" fill-rule="evenodd" stroke="#300" stroke-opacity=".55" stroke-width=".5"/>
<path d="M548.0,139.8 545.0,139.1 542.4,136.0 541.4,133.0 541.2,130.0 542.4,124.0 545.0,120.9 548.0,120.2 551.0,121.8 552.7,124.0 553.9,127.0 554.3,130.0 554.0,133.0 552.9,136.0 551.0,138.5 548.0,139.8Z" fill="#6a0000" fill-opacity=".10" fill-rule="evenodd" stroke="#300" stroke-opacity=".55" stroke-width=".5"/>
<path d="M551.0,136.4 548.0,137.9 545.0,136.9 542.7,133.0 542.2,130.0 542.5,127.0 543.7,124.0 545.0,122.4 548.0,121.4 551.0,123.2 553.0,127.0 553.3,130.0 552.8,133.0 551.0,136.4Z" fill="#6a0000" fill-opacity=".10" fill-rule="evenodd" stroke="#300" stroke-opacity=".55" stroke-width=".5"/>
<path d="M548.0,136.1 545.0,134.7 544.0,133.0 543.3,130.0 543.6,127.0 544.9,124.0 548.0,122.7 551.0,124.8 552.0,127.0 552.3,130.0 551.0,134.2 548.0,136.1Z" fill="#6a0000" fill-opacity=".10" fill-rule="evenodd" stroke="#300" stroke-opacity=".55" stroke-width=".5"/>
<path d="M548.0,134.3 545.8,133.0 544.4,130.0 545.0,126.2 548.0,123.9 551.0,126.9 551.3,130.0 549.8,133.0 548.0,134.3Z" fill="#6a0000" fill-opacity=".10" fill-rule="evenodd" stroke="#300" stroke-opacity=".55" stroke-width=".5"/>
<path d="M548.0,132.2 546.2,130.0 546.6,127.0 548.0,125.9 549.1,127.0 549.5,130.0 548.0,132.2Z" fill="#6a0000" fill-opacity=".10" fill-rule="evenodd" stroke="#300" stroke-opacity=".55" stroke-width=".5"/>
<path d="M617.0,73.4 611.0,73.5 608.0,72.6 604.2,70.0 599.0,64.6 596.0,62.4 590.0,60.1 584.0,59.6 575.0,60.5 572.0,60.2 569.0,58.6 566.9,55.0 566.3,52.0 566.8,46.0 568.0,43.0 574.7,34.0 575.8,31.0 673.1,31.0 671.1,34.0 665.0,38.2 663.3,40.0 658.7,46.0 651.2,52.0 647.0,58.1 644.0,60.1 632.0,62.0 629.0,64.0 623.0,70.9 620.0,72.5 617.0,73.4ZM512.0,65.4 506.0,66.0 500.0,65.1 494.0,63.2 490.3,61.0 487.4,58.0 485.9,55.0 485.5,52.0 486.1,49.0 488.0,46.0 490.9,43.0 494.0,40.9 500.0,38.7 506.0,39.0 512.0,41.8 515.8,46.0 517.2,49.0 518.0,55.0 516.6,61.0 514.2,64.0 512.0,65.4ZM590.0,223.5 587.0,224.7 584.0,225.0 581.0,224.4 579.0,223.0 578.0,221.1 577.6,217.0 578.5,205.0 582.5,187.0 582.5,163.0 581.9,151.0 584.0,146.3 587.0,145.9 588.7,148.0 591.2,154.0 593.0,156.8 598.6,163.0 600.0,166.0 604.5,187.0 605.2,193.0 604.7,199.0 603.8,202.0 599.0,213.1 596.0,218.3 593.0,221.5 590.0,223.5ZM404.0,226.9 401.0,227.9 398.0,227.9 392.0,226.9 392.0,160.6 395.0,161.8 396.4,163.0 397.3,166.0 395.9,175.0 396.4,178.0 399.2,181.0 404.0,183.6 407.0,186.3 408.7,190.0 408.9,193.0 408.2,202.0 409.1,211.0 409.2,217.0 407.5,223.0 404.0,226.9ZM479.0,229.2 476.0,231.4 473.0,231.7 470.0,230.9 467.0,229.3 464.0,226.6 461.5,223.0 460.5,220.0 459.1,208.0 461.0,206.0 476.0,207.2 478.3,205.0 478.3,190.0 479.7,184.0 482.0,181.3 485.0,180.2 491.0,180.6 497.0,183.0 501.8,187.0 503.6,190.0 504.5,193.0 504.2,199.0 502.9,202.0 500.2,205.0 497.0,206.7 479.2,208.0 480.8,223.0 480.3,226.0 479.0,229.2ZM458.0,205.8 443.0,205.1 434.0,206.0 428.0,205.6 425.0,203.6 423.8,202.0 423.6,199.0 425.5,196.0 428.0,194.4 431.0,193.4 446.0,192.3 452.0,192.6 455.0,193.7 457.2,196.0 458.3,199.0 459.0,205.0 458.0,205.8ZM647.0,271.2 644.0,272.6 641.0,271.8 626.7,259.0 620.8,253.0 618.3,250.0 617.3,247.0 617.7,244.0 623.0,237.6 624.5,235.0 625.0,232.0 623.8,223.0 623.9,220.0 625.7,214.0 627.9,211.0 634.6,205.0 639.0,199.0 641.0,197.4 644.0,196.5 647.0,197.7 648.4,199.0 649.8,202.0 649.2,211.0 650.6,214.0 659.2,223.0 662.7,226.0 668.0,229.3 671.0,232.1 673.8,238.0 675.6,247.0 675.1,253.0 673.8,256.0 671.0,259.5 667.4,262.0 655.5,265.0 650.6,268.0 647.0,271.2ZM512.0,226.4 509.0,227.5 506.0,226.4 504.8,223.0 506.0,219.8 509.0,218.5 512.0,219.4 513.4,223.0 512.0,226.4ZM467.0,343.0 434.9,343.0 436.8,340.0 443.0,336.2 445.1,334.0 449.1,328.0 455.0,324.2 457.2,322.0 461.0,315.9 468.7,310.0 473.1,304.0 480.0,298.0 482.2,295.0 483.7,292.0 485.0,286.0 484.8,283.0 481.8,274.0 480.9,268.0 481.2,259.0 482.3,253.0 484.6,247.0 487.5,244.0 491.0,242.5 494.0,242.2 497.0,242.6 500.0,244.1 506.0,250.0 513.7,256.0 515.3,259.0 516.6,268.0 515.1,280.0 515.9,295.0 515.0,298.0 512.0,300.9 507.2,304.0 506.0,306.0 505.0,310.0 504.1,319.0 502.9,322.0 500.0,324.1 488.0,324.1 485.0,325.3 479.1,334.0 473.0,337.8 470.5,340.0 469.2,343.0 467.0,343.0Z" fill="#1ef0f0" fill-rule="evenodd" stroke="#001a33" stroke-opacity=".75" stroke-width=".6" stroke-dasharray="1.6 1.2"/>
<path d="M584.0,50.1 578.0,50.7 575.5,49.0 575.1,46.0 578.7,37.0 580.4,31.0 591.7,31.0 591.1,40.0 590.0,45.2 587.0,49.0 584.0,50.1ZM506.0,61.7 500.0,61.6 497.0,60.6 493.5,58.0 491.8,55.0 491.6,52.0 492.7,49.0 497.0,45.1 500.0,44.1 503.0,43.9 506.0,44.6 509.0,46.5 511.1,49.0 512.2,52.0 512.2,55.0 511.2,58.0 509.0,60.4 506.0,61.7ZM587.0,220.7 584.0,220.9 581.0,218.4 580.1,214.0 580.1,211.0 580.8,205.0 584.4,193.0 585.6,187.0 587.0,161.8 590.0,161.3 593.0,163.6 596.0,167.3 596.7,169.0 602.0,187.2 603.0,196.0 601.7,202.0 596.0,213.3 593.0,217.0 590.0,219.4 587.0,220.7ZM494.0,205.0 491.0,205.4 486.1,205.0 485.0,204.7 481.7,202.0 480.7,199.0 480.4,196.0 480.9,190.0 482.0,186.8 485.0,183.7 488.0,182.8 491.0,183.1 494.0,184.1 498.2,187.0 500.5,190.0 501.7,193.0 502.0,196.0 501.4,199.0 499.6,202.0 497.0,204.0 494.0,205.0ZM476.0,226.7 473.0,227.5 470.0,226.6 466.4,223.0 465.4,220.0 465.2,217.0 467.0,213.3 470.0,212.1 473.0,212.4 476.0,214.5 477.9,220.0 477.8,223.0 476.0,226.7ZM647.0,268.1 644.0,269.4 641.0,268.5 638.0,266.1 630.2,259.0 627.7,256.0 623.6,250.0 622.7,247.0 623.7,244.0 628.1,238.0 629.4,235.0 629.8,232.0 628.7,223.0 629.1,220.0 632.0,215.3 635.0,214.0 638.0,214.3 655.9,226.0 666.6,232.0 669.7,235.0 672.2,241.0 672.8,247.0 672.2,250.0 670.9,253.0 668.5,256.0 664.9,259.0 653.0,264.0 647.0,268.1ZM506.0,289.4 503.0,289.6 499.4,289.0 497.0,288.4 494.0,286.4 488.0,276.8 485.3,271.0 484.6,265.0 485.3,259.0 488.0,251.5 491.0,248.7 494.0,247.9 497.0,248.6 499.0,250.0 507.2,259.0 508.5,262.0 508.3,265.0 506.6,271.0 508.1,283.0 508.0,286.0 506.0,289.4Z" fill="#1e96e6" fill-rule="evenodd" stroke="#001a33" stroke-opacity=".75" stroke-width=".6" stroke-dasharray="1.6 1.2"/>
<path d="M503.0,58.0 500.0,57.5 496.9,55.0 496.7,52.0 500.0,48.7 503.0,48.5 504.1,49.0 506.0,50.4 507.0,52.0 507.0,55.0 506.0,56.4 503.0,58.0ZM590.0,215.4 587.0,216.7 584.0,215.8 583.1,214.0 582.6,211.0 582.8,208.0 590.0,184.9 593.0,180.3 596.0,182.1 599.0,187.6 600.5,193.0 600.7,196.0 599.5,202.0 598.1,205.0 593.0,212.7 590.0,215.4ZM494.0,202.7 491.0,203.3 488.0,203.1 485.0,201.8 483.2,199.0 482.6,196.0 483.5,190.0 485.0,187.3 488.0,185.6 491.0,185.7 494.3,187.0 497.5,190.0 498.9,193.0 499.3,196.0 498.5,199.0 497.0,200.9 494.0,202.7ZM644.0,266.0 641.0,265.1 634.0,259.0 631.5,256.0 628.7,250.0 629.0,246.1 634.1,238.0 638.0,228.9 641.0,228.0 650.0,230.0 665.0,234.7 668.2,238.0 669.9,244.0 669.7,247.0 668.7,250.0 663.5,256.0 659.1,259.0 644.0,266.0Z" fill="#1e6ed2" fill-rule="evenodd" stroke="#001a33" stroke-opacity=".75" stroke-width=".6" stroke-dasharray="1.6 1.2"/>
<path d="M494.0,199.8 491.0,200.9 488.0,200.5 486.1,199.0 484.9,196.0 485.0,193.0 486.6,190.0 488.0,188.8 491.0,188.6 493.8,190.0 495.8,193.0 496.3,196.0 495.0,199.0 494.0,199.8ZM590.0,210.3 587.0,210.6 586.4,208.0 587.0,204.3 590.0,195.3 591.4,193.0 593.0,190.8 596.0,191.0 597.8,196.0 597.7,199.0 596.8,202.0 593.0,207.6 590.0,210.3ZM650.0,260.0 644.0,262.0 641.0,260.6 639.0,259.0 636.5,256.0 635.1,253.0 635.0,250.0 636.4,247.0 641.0,242.4 644.0,240.9 647.0,240.2 659.0,238.9 662.0,239.1 665.0,241.0 665.8,244.0 665.3,247.0 663.3,250.0 657.6,256.0 650.0,260.0Z" fill="#1e3ce6" fill-rule="evenodd" stroke="#001a33" stroke-opacity=".75" stroke-width=".6" stroke-dasharray="1.6 1.2"/>
<path d="M491.0,196.7 489.1,196.0 491.0,193.1 491.7,196.0 491.0,196.7Z" fill="#8c14e6" fill-rule="evenodd" stroke="#001a33" stroke-opacity=".75" stroke-width=".6" stroke-dasharray="1.6 1.2"/>
</g>
<g clip-path="url(#c2)" fill="none" stroke-linejoin="round" stroke-linecap="round"><path d="M463.3,131.8 462.0,134.0 460.6,136.6 458.9,139.1 457.6,141.5 456.4,143.7 455.6,146.7 454.3,148.8 453.6,151.8 452.7,154.0 452.1,156.4 451.2,159.2 450.0,161.7 449.5,164.8 448.8,167.3 448.7,169.9 448.2,172.4 447.5,175.2 447.6,178.1 448.2,178.2 446.8,180.6 445.5,183.5 444.3,187.9M440.9,197.5 438.7,201.1 432.1,202.1 428.7,201.7 429.7,204.5 430.8,207.6 434.4,209.0 435.6,212.8 437.8,214.4 440.3,216.3 441.3,219.7 442.0,222.4 449.2,224.8 449.7,227.4 445.6,229.6M517.3,149.3 514.7,146.3 512.4,143.1 509.9,140.6 507.5,137.2 505.3,134.6 502.6,131.3 500.2,131.8 497.6,132.0 494.8,132.0 492.3,132.6 490.2,132.6 487.1,133.1 484.6,133.9 482.8,131.0M415.8,119.7 414.0,125.4 410.6,129.0 406.4,132.7 404.1,139.3 404.4,144.5 397.7,147.6M529.3,305.4 534.0,306.5 532.8,308.5 531.2,312.1 531.8,316.5 530.3,319.3M544.0,302.8 549.0,305.2 554.6,305.3M551.9,282.1 552.9,283.3 556.4,285.0 557.9,285.8 559.5,286.1 562.2,286.5 562.0,290.3M561.4,290.8 559.2,294.4 561.2,294.9 563.2,300.1 563.2,301.0M561.6,290.4 564.9,290.2 566.6,290.8 571.4,288.8 572.3,285.6 568.7,282.2 572.5,279.3 570.8,275.4 569.3,271.7M558.8,275.7 558.7,279.2 558.2,281.8 558.3,282.9 558.6,284.1 558.6,285.5M553.3,280.9 556.2,281.2 557.8,281.8M560.8,271.4 562.2,271.3M561.5,295.4 564.0,293.2 564.7,294.6 567.2,292.9 570.8,291.1 573.3,291.7 575.8,290.3 577.2,288.9 578.6,286.0 577.1,284.1 574.6,285.4 572.0,285.3M566.3,290.2 567.4,291.7 567.3,293.0M572.2,279.4 575.8,280.0 578.0,280.0 579.8,281.1 581.9,280.8 585.8,279.3 586.8,279.8 587.3,275.6 585.5,273.4 584.3,271.7 582.9,267.1 581.4,266.4 579.0,267.7 577.0,268.3M583.1,267.5 585.5,266.0 585.3,261.4 586.3,259.1 584.0,256.4 584.0,255.9 582.7,252.1M577.6,263.5 579.3,262.4 581.0,261.4 585.2,261.2M579.9,257.8 584.0,256.7M578.8,265.2 580.6,265.7 581.7,266.4M585.3,273.1 587.8,271.8 590.3,270.9 593.5,269.9 595.7,268.6 596.8,265.3 599.6,263.5 602.4,264.8 607.1,264.1 611.6,262.7 613.9,266.3 613.4,270.0M596.4,265.4 596.2,262.2 592.0,260.1 589.4,257.8 586.7,259.1M577.0,284.2 580.1,281.4M578.0,285.6 581.1,285.5 585.2,281.6 586.5,282.0 587.2,279.6M586.3,282.0 588.2,282.3 586.4,287.7 585.7,288.7 582.8,290.5 578.6,290.5 577.1,289.4M587.9,282.5 591.7,280.8 593.9,279.0 596.5,277.3 601.7,279.8 602.8,279.6M593.5,278.5 598.6,281.5 600.2,283.9 602.9,283.2M591.7,291.6 594.6,291.8 597.4,290.4 599.5,288.6 603.4,287.8M585.8,288.7 588.8,291.6 591.8,291.9 593.6,295.2 593.2,297.3 595.5,299.4 598.2,297.3 601.8,296.2 601.3,295.3 604.1,292.6M590.9,306.0 592.4,302.2 595.2,299.1M593.2,297.0 589.7,298.7 587.6,298.6 588.2,300.4M591.9,302.4 589.8,298.6M577.8,293.7 581.1,292.9 583.9,291.9 584.5,292.4 585.9,296.1 585.1,298.8M578.0,293.6 579.7,296.2 582.5,297.6 585.6,299.4M573.9,293.9 577.3,293.0 578.7,290.4M584.6,292.8 583.4,290.3M586.3,296.4 587.5,298.3M562.7,260.4 563.2,255.2 561.2,249.2 562.8,244.9 563.1,239.2 563.6,235.7 565.1,233.9 567.3,235.0 569.4,236.2 571.2,239.4M565.6,233.9 567.2,233.5 569.1,232.9 569.8,230.9 569.9,228.7 571.7,229.3 573.9,232.8 576.4,236.5 579.5,240.6 582.5,243.2 581.9,246.1 580.7,249.5M628.5,277.7 632.1,275.2 636.6,276.7 639.0,280.3 642.4,282.4 638.0,285.8 635.1,289.1 632.4,292.5 629.6,297.1M622.2,275.8 625.8,274.2 628.5,271.7 631.6,271.2 634.9,269.7 638.1,266.6M632.4,275.3 634.6,273.4 635.4,269.8M634.2,273.6 638.0,274.2 636.6,276.8M636.9,276.7 640.9,275.3 642.4,272.4 645.5,272.5M656.1,265.1 657.4,262.1 658.4,258.3 662.8,254.6 669.6,253.7 673.4,257.6 681.3,258.2 683.7,262.6M642.1,282.9 648.6,284.2 652.1,287.3 660.6,289.8 664.7,290.2M638.0,286.1 641.4,294.2 639.0,299.7 637.0,305.7 634.0,306.6M638.7,299.7 642.2,301.9 638.7,307.3 642.5,310.5M633.0,305.6 635.7,309.6 637.2,314.3M630.8,301.1 632.8,305.1M611.8,323.1 613.5,328.5M576.9,329.4 575.4,333.4 573.3,339.2 573.4,340.2M568.1,320.3 568.3,327.2 567.4,331.9 573.3,339.3M542.2,326.6 544.4,332.9 544.5,336.3 539.8,339.0 534.2,341.7M633.0,312.2 636.6,315.2M629.7,257.5 622.2,256.7 619.9,253.8 620.7,250.4 621.5,247.9 622.8,245.5 624.0,242.8 624.3,240.3 626.8,239.2 629.2,237.7 631.1,236.1 631.7,232.5 627.8,231.1 624.3,229.6 625.4,226.2 625.8,223.2 626.3,220.3 626.0,216.7 628.8,215.6 631.1,213.8 632.4,211.6 633.4,209.8 636.6,208.0 639.4,205.7 641.7,203.3 642.9,200.8 643.1,197.4 645.7,194.9 648.0,191.5 653.9,195.5 655.6,197.9 657.6,201.3 664.1,206.7 665.7,211.4 666.9,215.5 668.5,220.1 670.2,222.2 676.9,221.9 683.4,216.5 688.3,215.1 693.0,214.3 700.9,210.9 701.7,208.5M647.8,192.0 645.7,186.6 645.0,184.3 644.9,182.1 644.0,179.7 644.8,176.2 644.8,173.6 639.8,172.2 640.2,169.7 640.3,166.8 640.8,163.6 641.5,160.8 642.3,157.9 642.5,155.1 640.9,153.0 640.1,150.1 638.2,147.6 637.1,145.4 635.6,142.6 630.6,141.6 624.9,141.7 623.8,139.3 621.9,137.4 624.8,131.9 626.7,126.4 626.5,122.2 626.9,118.6 623.4,116.7 620.4,114.6 624.6,112.9 629.8,110.9 632.6,112.7 637.8,109.7 642.4,112.8 645.0,113.5 651.3,116.1M648.4,190.5 652.6,188.2 657.0,185.2 659.4,180.0 665.1,173.6 665.1,169.7 664.3,166.5 663.8,162.3 664.2,159.2 664.8,155.9 662.6,152.6 659.5,148.9 656.6,146.2 651.6,145.0 649.2,142.6 647.4,140.4 645.3,138.3 643.1,135.6 641.0,133.6 640.4,138.7 635.9,142.5M676.9,221.6 676.0,225.9 675.4,229.4 670.9,230.1 671.4,233.4 672.0,237.6 670.2,240.2 669.8,245.0 669.9,249.5 669.0,253.5M675.1,229.3 681.3,231.5 685.3,238.1 688.5,239.9 689.2,244.8 690.7,249.2M669.9,240.5 662.7,242.9 658.6,244.5 654.7,246.2 650.5,246.3 649.4,250.7 649.1,254.9 644.0,251.6 639.5,248.6 641.5,243.9M648.9,255.1 645.1,257.1 645.8,261.0M647.6,244.4 649.5,242.5 652.3,239.8 655.1,237.3 658.2,235.1 661.7,232.7 660.4,226.5 660.1,223.2 660.5,219.4 661.4,216.4 662.4,212.9 662.9,210.1 664.0,207.2M661.5,233.0 663.9,230.3 665.9,227.5 670.0,222.7M662.6,243.0 664.8,239.8 665.9,235.6 662.1,233.2M670.9,229.4 667.6,230.3 669.0,226.5 670.2,222.1M683.8,216.0 686.2,221.3 689.1,225.8 692.0,225.5 697.1,231.0M655.6,111.7 653.2,109.1 649.9,105.8" stroke="#3a1540" stroke-width="0.95"/><path d="M407.5,119.2 410.7,119.4 414.1,118.9 416.4,120.0 421.7,118.2 424.4,116.7 426.1,114.9 429.5,114.7 433.0,115.7 436.6,116.2 439.6,115.6 442.6,116.4 444.9,116.0 447.6,117.9 449.4,119.7 451.4,121.2 452.8,122.5 454.6,124.0 456.8,124.5 457.7,126.0 461.4,127.4 463.9,128.4 461.4,129.3 458.9,130.4 461.3,131.6 463.6,132.5 465.5,131.8 466.9,130.1 468.8,130.3 470.5,129.2 472.0,128.2 472.5,128.9 475.0,128.7 478.7,130.1 480.9,130.4 483.7,130.8 485.5,131.2 488.0,130.2 489.6,130.2 491.4,130.5 493.4,131.3 494.7,131.4 496.3,130.4 498.5,130.4 499.8,130.9 501.3,130.1 501.8,130.4 503.1,129.9 504.8,128.8 505.4,128.5 507.0,128.4 508.3,128.3 510.2,128.0 510.0,127.0 510.2,125.3 511.5,124.3 511.9,122.3 512.7,121.6 512.5,124.4 513.4,126.5 513.8,125.5 514.3,123.9 514.8,122.9 514.6,120.7 515.5,119.7 515.3,117.1 516.1,114.9 516.6,113.2 517.4,111.8 518.2,109.8 519.6,108.4 520.4,108.2 521.1,106.6 522.7,105.6 523.3,105.0 525.2,103.8 523.8,105.1 523.4,106.2 522.4,106.9 521.0,108.8 520.7,109.9 519.1,110.9 518.7,112.3 519.0,115.3 518.3,117.1 520.1,117.0 521.3,116.2 521.7,115.7 523.6,115.1 524.3,114.8 525.8,115.6 527.7,116.1 528.1,117.8 531.8,121.0 530.5,125.0 530.2,124.8 529.2,126.1 528.2,126.3 527.0,126.7 527.7,128.8 529.1,128.7 530.2,128.1 531.2,128.6 532.2,128.5 533.1,127.9 533.2,128.8 534.4,129.0 536.0,129.9 535.0,131.0 534.5,131.0 533.5,132.1 533.1,132.7 532.3,132.7 532.4,134.7 533.2,135.4 535.2,136.2 536.2,136.1 535.4,137.8 534.2,137.9 533.9,138.9 533.7,140.1 533.7,140.8 532.6,142.1 532.2,142.6 532.6,144.1 531.2,144.3 531.0,144.7 530.6,145.7 530.4,146.0 529.3,145.9 528.4,146.2 528.3,146.0 526.9,145.8 526.4,146.3 526.1,146.1 525.4,146.6 524.3,146.6 523.7,147.2 522.9,147.5 522.2,147.3 521.6,148.1 520.4,148.0 520.1,148.7 520.0,148.4 519.2,149.0 517.8,148.9 517.0,149.6 516.8,149.8 516.2,149.7 515.4,149.8 514.0,150.1 513.1,149.8 513.7,150.5 512.6,151.3 513.2,152.2 512.0,153.7 511.8,154.5 512.1,155.2 512.2,155.7 511.7,155.9 511.5,157.2 510.8,157.1 510.3,158.4 509.0,158.2 509.0,159.2 508.1,158.9 507.5,159.8 507.4,160.1 506.4,160.6 505.8,161.1 504.9,161.7 505.3,162.1 504.4,162.4 503.8,163.6 502.6,163.7 501.2,164.3 500.4,164.2 499.3,165.6 500.0,166.1 499.3,167.1 498.9,167.4 498.8,168.5 498.8,168.9 499.0,170.5 498.2,170.9 498.0,171.8 497.8,171.8 497.1,172.3 497.0,173.4 496.3,174.1 496.2,175.3 496.0,176.3 496.4,176.7 496.5,177.7 496.9,178.2 496.6,179.2 497.1,179.6 497.9,181.1 498.5,181.1 499.1,182.5 502.0,183.2 504.6,182.8 502.6,183.5 501.3,184.7 500.8,185.7 498.3,186.4 496.5,186.8 497.3,187.2 497.0,188.7 497.6,188.8 498.3,189.9 498.0,190.2 498.0,191.1 497.2,191.9 497.5,192.5 496.6,193.0 495.8,194.4 497.6,194.3 500.6,193.2 497.8,194.3 494.0,195.3 492.7,194.3 492.3,193.6 491.1,192.6 490.8,191.8 489.3,190.4 488.2,189.9 487.6,189.4 486.6,188.0 485.8,187.6 482.9,186.2 482.2,184.3 481.3,183.3 479.4,182.8 478.5,181.5 475.8,181.4 472.6,181.0 470.0,182.6 468.4,183.5 467.9,184.4 467.0,185.6 467.2,186.4 466.4,187.8 466.3,189.1 465.4,190.4 465.3,192.0 464.7,193.3 464.1,193.9 464.0,195.1 464.6,197.1 463.9,197.9 461.3,199.1 458.9,199.7 456.7,201.0 454.6,203.0 458.2,204.9 460.6,203.4 463.9,202.0 465.7,204.0 467.7,204.5 469.0,205.7 471.6,204.2 474.1,201.7 476.7,202.1 478.7,202.5 480.4,201.8 483.4,200.8 483.3,201.7 483.1,202.8 483.1,203.8 483.9,204.8 484.0,206.3 484.0,206.6 483.5,208.4 482.3,209.3 482.1,210.3 480.2,213.0 477.7,214.9 477.2,215.9 479.5,216.8 481.7,217.3 483.6,217.3 482.3,219.7 481.1,220.9 479.8,222.8 477.2,224.3 475.4,226.5 475.0,228.6 475.1,230.4 474.4,232.3 473.8,233.9 473.2,236.2 471.5,239.2 469.4,238.3 467.6,237.8 466.4,236.8 464.3,236.1 463.7,235.3 462.6,234.1 461.7,232.8 461.2,231.5 460.1,230.1 459.6,229.2 458.9,227.4 458.7,226.5 457.5,225.2 455.6,224.7 453.6,224.3 450.6,222.4 447.6,221.4 449.6,222.8 450.9,223.6 453.5,224.9 454.8,226.5 456.2,227.7 456.8,229.0 454.1,229.9 451.5,231.3 450.2,235.1 450.6,235.6 450.5,237.3 451.1,238.7 455.0,239.3 453.6,239.6 451.3,240.7 449.4,240.1 447.8,237.9 445.5,237.3 444.5,235.4 442.1,234.9 444.1,232.4 445.9,233.8 448.1,234.4 447.1,233.6 446.3,232.0 445.6,230.4 443.0,228.9 441.4,227.9 438.9,226.4 437.5,225.7 435.4,227.8 433.5,225.9 432.1,224.1 430.3,223.1 428.9,220.6 426.0,221.2 424.0,221.0 421.0,219.8 418.0,219.7 414.9,220.5 412.2,221.8 411.5,219.8 409.4,218.0 407.3,216.9 404.7,214.2 401.9,212.7 397.2,209.2 393.8,210.7M392.8,203.2 393.4,200.7 394.0,198.0 393.7,195.1 393.1,192.7 393.7,190.5 391.8,187.4M470.2,240.5 468.8,243.0 467.7,246.4 466.5,248.3 465.0,250.7 461.7,250.6 461.6,248.4 461.8,247.2 461.6,245.0 460.4,244.1 459.8,242.4 458.6,241.5 457.5,240.3 461.1,239.9 463.7,239.7 465.6,239.6 468.8,239.8 470.5,239.6M462.2,130.0 464.7,130.0 466.3,129.8 467.8,129.2 469.4,128.1 471.5,128.2 473.2,127.3 470.4,127.1 468.7,128.1 466.0,128.7 463.9,128.3 462.8,130.2M440.9,197.4 440.6,195.8 441.0,193.8 441.4,192.5 442.1,190.4 441.2,188.9 441.3,187.2 440.9,186.4 441.3,185.2 441.5,183.6 442.0,184.4 443.1,186.3 444.5,187.8 445.0,189.7 445.7,190.7 447.2,192.5 444.9,193.8 443.8,195.5 440.5,197.2M438.9,196.1 435.1,194.9 432.6,193.9 430.3,193.6 427.7,192.1 430.4,190.7 433.5,191.3 435.9,191.8 436.7,193.1 437.7,195.2 438.8,196.2M439.1,198.2 439.5,200.1 439.5,201.9 438.6,202.8 436.9,206.8 434.2,205.0 431.8,202.4 435.2,199.2 439.8,198.7M432.8,209.3 431.3,208.2 430.2,206.2 428.6,204.5 427.2,202.4 428.9,201.4 430.2,203.0 431.4,205.3 432.3,207.3 432.8,209.0M433.3,208.1 434.0,210.4 435.0,212.5 435.4,213.4 437.0,213.6 436.1,211.4 435.5,210.3 433.1,208.3M486.4,214.9 489.0,215.1 490.8,213.9 493.8,213.8 495.9,214.3 498.4,213.4 499.4,213.0 499.1,211.2 499.4,209.8 499.7,209.6 499.9,207.7 500.5,206.4 504.0,205.4 504.8,204.3 505.2,202.6 505.0,202.8 505.2,201.1 506.1,200.2 506.7,199.1 506.8,199.3 507.2,198.5 507.7,197.8 508.8,196.7 508.7,195.3 510.0,194.7 509.3,194.8 510.1,193.3 510.2,193.2 509.6,192.2 509.0,192.6 508.4,191.1 507.7,190.5 507.4,190.8 506.5,189.4 507.7,189.7 508.1,188.2 507.7,188.4 508.1,187.5 505.9,186.6 503.8,187.2 502.5,187.8 500.4,188.6 500.1,189.3 500.4,189.6 499.9,191.2 500.6,191.1 501.2,192.5 500.8,192.5 501.3,193.0 502.7,194.0 502.0,194.6 500.5,196.4 500.8,197.5 500.0,198.0 499.4,198.6 498.5,200.1 496.6,201.6 495.3,202.9 493.6,202.2 492.7,201.9 492.5,201.6 491.5,200.8 490.1,200.2 487.5,199.3 488.1,200.8 488.2,201.6 488.5,202.8 489.1,203.2 488.5,204.9 488.4,205.9 487.2,207.3 486.6,208.4 487.2,210.0 486.3,211.1 486.5,212.3 486.5,212.5 486.6,214.3 486.5,215.3M501.4,166.4 501.9,166.0 502.9,165.3 504.0,165.4 506.2,164.7 508.0,165.2 510.1,166.1 511.2,167.5 511.5,167.8 511.8,169.4 511.9,169.9 512.3,170.6 512.4,170.8 511.7,170.9 511.3,171.5 510.4,172.5 509.7,172.1 509.7,173.0 508.9,173.0 509.3,173.6 509.9,174.4 508.0,175.0 507.1,175.5 506.0,176.2 504.7,176.1 504.2,177.3 502.1,177.6 499.3,177.1 498.5,175.3 498.9,175.0 499.4,174.7 498.8,173.5 499.0,173.3 499.0,172.1 499.2,171.7 499.5,171.4 500.5,170.3 500.4,169.3 501.2,169.4 501.7,168.1 502.6,168.0 502.6,166.8 501.0,167.0M510.7,163.0 512.5,162.8 513.9,163.5 515.2,163.4 517.0,165.4 516.9,166.2 516.4,167.3 516.2,167.7 516.7,167.5 516.1,168.1 514.7,168.2 513.9,168.9 513.7,169.7 513.6,169.2 512.5,170.0 512.1,169.1 512.0,168.9 511.9,167.5 511.6,167.1 511.9,166.2 509.9,164.1 510.3,164.0 510.3,163.7 511.0,163.0M516.1,187.6 519.5,187.6 523.5,189.0 523.8,188.3 524.1,188.3 525.1,187.2 525.9,187.7 525.9,187.4 526.7,186.2 527.3,186.7 527.6,187.2 527.2,187.4 528.4,187.7 528.4,188.4 528.6,188.2 529.1,188.8 529.0,188.3 530.0,189.0 529.8,189.6 530.8,189.4 531.1,190.0 530.9,189.6 530.3,190.2 531.2,190.1 531.1,190.5 531.0,190.9 531.4,190.8 531.1,191.2 531.5,191.6 531.5,191.4 531.7,191.6 532.2,191.5 531.8,192.1 532.1,192.3 532.3,192.0 532.6,193.2 532.9,193.0 532.4,192.8 532.2,193.3 532.9,193.4 532.9,194.0 532.3,194.1 532.8,194.3 532.4,194.9 532.0,194.9 531.7,195.8 530.2,196.2 528.3,196.3 528.6,195.6 527.8,196.3 527.2,195.9 526.6,195.6 526.2,195.2 525.9,195.4 525.8,194.8 525.3,194.5 525.0,194.1 524.3,194.2 522.9,193.6 521.4,194.2 520.2,194.3 519.7,194.3 519.3,193.8 518.0,192.8 517.4,193.3 517.0,192.4 516.0,192.8 516.5,191.7 516.4,190.9 516.1,190.9 516.1,189.9 515.5,189.9 516.4,188.9 515.4,188.4 516.3,188.3 515.9,188.5 516.1,187.2M511.7,185.4 513.5,185.9 515.7,185.0 515.9,185.9 516.2,186.2 515.9,187.1 515.6,187.6 515.3,188.0 514.6,188.7 515.0,189.2 514.2,189.8 513.8,190.2 514.5,191.0 514.6,191.2 514.1,191.5 514.6,192.2 515.0,192.8 512.5,193.3 512.3,192.9 511.9,192.1 511.6,191.2 512.0,191.1 511.1,191.1 511.5,190.2 511.3,189.2 511.9,188.7 511.2,189.1 510.9,188.0 511.4,187.2 511.9,186.9 510.9,186.4 510.9,186.2M520.7,188.1 520.3,187.4 521.0,186.7 521.5,186.1 521.8,186.1 522.2,186.1 522.7,185.7 526.4,185.3 526.8,186.1 526.6,186.4 526.2,186.3 526.1,187.0 526.2,186.8 525.0,187.9 522.5,188.4 521.4,188.1 520.2,187.6M512.9,175.7 513.0,176.0 513.4,175.3 513.8,174.8 514.7,174.8 515.5,174.1 515.1,173.6 516.0,173.4 517.5,173.7 518.2,173.1 517.9,173.7 518.3,174.3 518.7,175.2 518.1,175.5 517.7,176.4 518.5,176.5 517.7,176.8 516.5,177.1 515.8,177.9 513.9,177.7 512.4,176.5M505.3,183.8 507.5,183.5 509.4,183.1 509.9,184.0 510.2,184.0 510.3,185.2 510.1,186.0 509.6,186.3 510.5,186.2 507.2,187.4 506.5,186.7 506.8,185.7 505.6,184.8 506.0,184.5 505.1,183.9M504.5,179.7 505.0,180.0 506.8,179.1 509.0,178.6 508.6,180.0 509.5,180.0 511.0,180.7 509.7,181.2 507.7,181.4 506.7,182.3 505.7,181.5 504.7,181.1 504.5,180.2M513.3,180.3 514.7,180.5 516.7,181.4 517.3,181.8 516.7,181.4 516.4,181.8 516.7,182.5 513.7,182.9 513.3,182.3 513.1,181.5 512.5,181.2M520.8,173.6 522.2,174.9 522.8,175.4 523.1,175.7 523.4,176.5 522.6,176.8 522.5,177.2 522.9,177.7 520.7,176.6 520.9,176.6 520.8,176.1 520.9,174.9 520.5,175.2 520.9,174.1 521.0,174.1M519.3,179.1 522.7,179.4 522.9,180.4 522.9,180.8 522.9,181.5 522.6,182.2 522.6,182.5 522.7,182.8 519.7,182.0 519.9,182.4 520.1,182.0 520.2,180.6 519.4,180.2 519.8,180.1 519.7,180.1 519.9,179.5M484.9,190.3 487.0,190.0 488.0,189.9 489.7,190.9 490.5,191.4 489.1,193.3 488.1,194.2 488.2,194.9 487.1,196.5 486.2,197.5 485.6,195.7 484.4,195.3 484.6,193.9 484.3,192.8 484.7,192.1 484.4,191.4 484.1,190.5M498.2,179.4 499.4,179.8 498.9,181.2 498.9,181.3 498.7,182.4 496.9,180.9 497.6,180.7 497.3,179.2 498.3,179.2M497.5,239.1 497.5,237.9 496.3,236.3 496.1,235.6 495.8,234.8 495.9,233.0 496.5,231.3 497.1,229.4 497.6,227.6 499.4,225.1 500.8,223.1 502.4,220.7 503.5,219.1 505.6,218.6 507.0,218.2 509.1,218.4 508.8,216.8 509.3,216.5 509.8,215.0 510.0,214.0 512.2,212.1 513.0,210.0 515.2,207.8 517.3,206.4 517.2,205.8 518.0,204.7 518.8,203.8 518.8,202.5 518.8,202.3 518.6,201.8 517.9,201.0 517.9,200.6 518.5,200.7 517.7,200.3 517.9,199.1 517.9,198.8 519.0,197.8 519.0,197.1 520.4,196.9 520.8,195.3 521.4,195.2 521.5,195.7 522.8,196.0 523.1,195.9 523.9,195.8 523.6,195.9 524.0,196.9 524.4,197.0 525.2,197.4 526.4,197.2 527.2,196.5 527.4,196.8 528.3,197.1 529.6,197.1 530.1,197.2 529.9,197.1 530.8,197.5 530.8,197.1 531.5,197.0 532.3,196.8 532.4,197.4 532.2,197.7 532.7,198.2 533.4,198.0 533.7,198.4 533.1,198.5 534.1,198.8 534.3,198.3 533.9,198.7 534.2,198.9 534.9,199.1 534.9,198.6 535.8,199.0 535.5,199.0 535.8,199.1 536.2,198.8 537.0,199.5 537.0,198.9 536.7,199.4 537.6,199.4 537.2,199.5 537.9,199.1 538.2,199.2 538.5,199.6 539.2,198.9 539.0,199.8 539.2,199.5 539.6,199.1 539.7,199.9 539.6,199.7 539.8,199.7 539.9,200.0 540.5,200.7 540.1,200.8 540.2,200.7 540.1,201.2 540.8,201.6 540.1,202.2 540.0,202.4 540.6,202.4 540.6,203.8 540.9,203.7 541.2,204.2 541.5,204.5 540.8,205.3 541.0,204.7 542.0,204.7 542.0,205.7 542.3,205.4 542.7,206.1 542.7,206.0 542.7,206.0 543.7,206.8 542.8,206.1 542.7,207.4 542.2,207.3 542.3,207.9 542.0,208.8 541.4,209.8 539.9,210.8 539.4,211.1 538.3,213.9 538.2,215.8 536.8,218.9 534.3,221.8 532.6,224.7 531.2,225.8 530.3,230.0 529.6,230.1 528.6,229.9 528.5,229.7 527.5,228.7 526.6,229.1 526.8,229.4 528.0,231.0 528.5,231.8 527.3,232.1 526.6,232.0 525.4,231.6 524.1,232.0 523.6,232.1 523.2,232.7 521.9,233.1 520.4,233.1 520.2,232.4 518.2,233.0 518.1,233.0 516.4,232.9 515.0,232.6 514.2,233.2 512.7,233.5 511.4,233.5 510.4,233.2 509.8,233.2 507.3,234.3 504.8,235.7 502.4,237.1 500.6,237.6 497.9,239.0M526.7,246.9 525.8,246.3 525.7,246.5 524.8,245.8 524.3,245.1 523.3,241.7 523.4,240.3 525.8,239.1 526.6,240.2 527.5,241.6 528.1,241.0 529.6,240.8 530.5,241.4 531.3,241.4 532.6,241.3 533.2,242.3 534.1,242.9 533.2,246.2 531.9,246.6 531.2,247.1 529.8,246.7 528.6,247.3 527.6,246.6M556.5,217.8 556.1,216.8 555.6,215.8 554.8,215.3 554.8,214.5 553.7,212.4 552.8,210.9 553.1,211.0 552.7,210.9 553.6,209.9 553.8,209.5 553.8,210.1 554.6,210.0 554.3,209.0 554.9,209.2 555.6,208.8 555.9,209.0 555.7,209.0 555.8,208.6 556.2,207.8 557.0,208.5 557.5,208.5 558.3,209.2 557.9,208.5 559.3,209.1 558.1,209.2 558.6,209.6 558.0,210.6 557.7,210.9 558.1,211.5 557.5,211.7 558.3,214.6 558.4,215.1 557.9,215.9 557.2,216.4 557.8,216.2 556.6,217.8M564.7,203.3 565.0,201.8 564.9,201.0 564.9,200.6 565.1,200.9 564.3,200.0 564.4,200.1 564.4,199.0 564.5,199.5 564.7,198.6 565.0,198.5 565.0,198.6 565.2,197.8 566.0,197.4 565.5,197.8 565.9,197.6 566.7,196.9 566.4,196.3 567.2,196.5 566.9,196.8 567.1,198.1 567.3,198.4 567.7,198.7 567.5,198.8 567.0,199.6 567.6,199.6 566.8,200.3 566.6,199.8 566.9,200.8 566.7,200.3 567.0,200.6 566.1,201.8 566.4,201.8 565.5,202.2 565.6,201.6 565.9,202.9 564.8,202.7 565.6,202.8M586.4,212.1 585.9,212.7 585.7,213.0 584.8,212.6 584.1,213.4 583.2,213.7 582.3,213.6 580.5,211.0 579.0,210.5 578.8,209.0 578.0,207.3 577.7,207.2 577.3,206.4 577.0,205.5 576.6,204.2 576.1,203.1 576.6,202.8 576.6,202.1 576.4,201.7 577.0,200.9 576.5,201.3 576.6,200.1 577.1,199.4 576.1,198.9 576.4,199.3 576.1,198.2 579.1,198.3 578.4,199.5 578.6,200.0 578.8,200.7 579.7,201.1 579.1,201.9 579.7,201.9 579.2,202.9 579.8,203.5 580.2,204.3 580.7,205.2 580.2,205.8 580.3,206.7 581.3,207.8 582.0,209.9 583.7,211.2 584.5,210.9 586.4,211.1 586.5,211.5M575.5,182.3 575.6,182.4 575.2,183.0 575.1,182.8 575.0,183.7 574.1,184.6 574.3,184.4 573.1,184.8 573.3,185.2 572.5,185.8 572.4,186.3 571.9,185.5 571.4,185.4 569.7,184.9 568.9,184.9 569.0,185.2 568.9,184.0 568.7,183.8 569.1,183.9 569.0,183.4 569.6,183.2 570.3,182.6 570.3,182.1 570.3,182.1 570.1,181.6 570.8,180.8 572.4,180.8 574.4,179.4 574.6,180.1 574.9,180.3 575.0,180.5 575.4,181.3 575.2,181.7 575.6,182.5M574.0,156.0 573.3,157.8 572.2,159.9 572.5,161.3 571.2,161.8 570.0,161.8 569.0,162.3 569.0,161.2 568.1,161.0 568.3,160.3 568.3,160.3 567.8,159.5 567.6,158.6 567.4,158.1 567.2,158.1 566.3,157.2 566.4,157.0 566.2,156.2 566.1,156.1 566.1,156.6 566.8,156.4 567.0,156.6 567.3,156.5 568.7,156.6 568.4,157.6 569.3,157.4 570.1,157.8 570.9,157.5 571.7,157.2 573.3,156.6M548.5,141.8 547.8,143.1 547.1,143.2 546.9,142.4 546.2,143.1 546.8,141.2 548.4,142.1 548.3,141.9M557.8,263.3 556.4,262.2 555.1,261.3 554.4,258.4 554.1,256.6 554.6,252.0 555.4,251.3 557.4,250.8 558.3,249.9 558.3,248.0 560.0,247.1 560.8,243.2 561.1,241.1 561.8,238.7 559.5,237.2 560.6,236.1 561.8,235.3 562.0,234.3 562.7,233.9 563.5,233.6 563.4,232.0 563.9,232.0 565.0,230.8 565.6,229.3 566.3,229.0 566.5,228.5 567.2,227.7 567.2,227.0 568.6,227.3 569.0,227.2 570.4,227.3 571.6,228.1 572.8,228.4 573.3,228.4 575.0,227.9 574.9,227.3 576.6,228.0 577.4,227.5 578.1,226.9 579.0,227.7 579.4,227.1 581.4,227.4 582.2,227.2 584.0,228.3 584.8,230.3 584.0,231.2 582.8,231.5 582.1,231.3 581.0,232.3 581.1,231.9 579.6,232.6 578.8,233.4 577.8,233.6 580.1,234.6 582.4,235.9 583.2,236.1 584.2,235.6 586.0,236.1 586.1,234.9 586.7,233.8 586.6,233.1 585.5,230.7 585.8,230.0 586.1,229.5 585.5,227.9 584.7,225.1 584.8,223.6 584.8,222.8 586.7,226.4 587.5,225.7 588.1,224.0 586.8,222.1 588.0,221.7 588.7,221.3 588.8,220.1 589.0,220.0 589.8,219.5 589.5,218.4 590.0,216.7 588.7,215.5 590.0,215.1 590.5,215.2 591.1,213.8 591.5,214.1 592.0,213.7 590.2,210.8 591.0,210.2 590.8,209.4 592.4,208.9 592.5,209.0 593.4,208.3 593.9,207.5 594.2,206.7 595.1,206.5 596.2,205.5 594.4,205.5 592.1,205.4 589.4,204.1 588.2,202.8 586.3,201.4 585.9,201.2 585.9,200.1 586.4,199.9 590.1,199.4 591.7,200.9 594.1,200.8 595.3,201.3 598.4,202.4 600.9,203.7 600.8,205.2 600.3,206.1 600.8,205.0 600.7,204.5 601.2,203.3 597.8,201.8 596.0,200.7 594.1,199.4 591.4,198.8 588.8,197.9 588.3,196.9 587.9,196.6 589.1,195.2 589.3,195.5 590.0,193.9 591.1,194.3 592.7,193.1 593.4,193.0 590.7,193.0 586.9,193.4 586.3,192.4 586.3,191.7 586.3,191.0 586.0,191.3 586.8,190.6 586.2,189.5 584.9,189.2 583.1,188.2 583.0,188.0 582.4,186.6 582.1,187.0 581.4,186.3 581.0,185.4 581.1,184.7 580.8,184.8 580.6,184.5 581.0,183.5 580.8,183.6 580.4,182.9 580.3,182.6 579.8,181.7 579.2,181.8 578.4,181.6 577.6,180.8 577.3,180.5 576.3,180.2 575.6,179.8 576.4,179.4 577.3,179.1 577.0,178.4 577.4,177.4 577.1,177.2 577.5,176.0 577.7,175.4 577.9,174.9 578.3,174.4 578.6,174.4 581.2,173.2 583.2,173.0 583.8,173.0 583.8,173.7 584.9,173.7 585.5,173.8 586.2,175.1 586.9,174.7 586.3,174.9 585.4,174.3 585.1,173.3 584.6,172.9 585.2,172.8 584.8,172.7 583.7,172.2 584.2,171.5 583.5,170.3 583.6,169.9 583.3,169.5 583.7,168.4 583.1,168.0 583.4,167.6 583.0,167.3 582.8,166.2 582.5,165.9 581.7,164.8 581.4,164.9 580.9,164.3 579.8,164.0 579.0,164.3 579.5,163.8 579.0,163.0 579.3,162.0 580.4,160.2 582.2,157.5 582.4,157.6 581.9,157.1 580.7,156.4 580.0,155.7 579.4,155.9 578.5,155.5 578.1,155.5 577.3,154.9 576.7,154.8 576.2,154.3 574.6,154.2 573.9,155.0 573.8,154.3 573.8,153.9 572.7,152.7 572.6,152.2 572.3,151.5 571.6,151.6 571.1,150.5 571.2,150.0 570.9,149.9 570.5,149.3 569.7,148.3 568.9,148.3 568.8,146.6 569.0,146.7 568.0,146.8 567.6,145.7 566.5,145.8 566.4,145.0 565.3,145.0 564.5,145.0 564.7,143.4 564.2,143.0 563.2,141.9 563.5,141.1 562.8,140.5 562.4,140.7 561.3,139.6 560.4,139.3 559.6,139.5 558.6,139.6 557.7,139.6 557.3,139.5 556.6,140.5 556.0,140.5 554.8,139.3 554.3,138.7 554.0,137.6 553.6,137.2 552.1,138.3 552.2,138.2 550.6,138.1 550.7,139.2 549.6,138.5 549.3,137.1 548.5,137.6 547.9,136.9 546.7,136.1 545.6,135.8 545.5,135.0 544.0,134.3 543.6,134.7 542.9,134.1 541.7,132.9 540.8,132.4 540.5,132.0 538.8,131.6 537.7,131.2 539.0,129.5 539.5,127.6 540.4,126.9 541.8,126.3 542.2,125.5 543.5,126.0 544.7,128.1 545.7,129.3 546.3,129.5 547.4,130.3 548.4,126.7 550.4,126.7 549.4,123.8 548.2,121.9 549.8,121.5 551.0,121.1 551.1,120.5 552.5,120.6 554.0,120.1 554.9,118.8 556.4,118.4 556.9,117.7 558.5,117.7 559.4,116.7 560.2,117.0 562.1,116.4 562.8,117.1 564.4,116.4 565.9,117.1 566.6,116.8 568.0,117.1 568.6,117.9 571.8,114.3 570.2,112.2 570.7,110.7 571.6,108.0 574.5,105.7 576.6,104.2 578.6,102.6 581.2,101.5 583.3,99.7 585.1,99.4 584.7,101.9 584.3,104.9 583.7,106.9 583.5,109.1 580.7,111.5 579.3,113.1 577.7,114.5 576.6,115.5 575.0,115.3 573.0,116.5 571.2,117.7 570.0,118.5 568.7,119.4 566.6,121.1 565.2,122.8 566.4,123.0 567.2,123.5 568.8,123.0 569.0,123.4 570.2,122.6 572.6,122.1 573.2,121.4 575.1,121.2 575.7,120.6 576.6,121.3 578.6,120.4 579.7,120.2 580.8,120.9 581.8,121.6 582.1,122.2 583.7,122.1 584.3,122.6 586.4,123.7 587.4,123.9 588.6,124.0 589.1,125.3 590.0,125.6 591.1,126.0 591.6,127.1 592.5,128.0 593.7,127.8 595.4,127.4 597.2,128.4 598.5,127.9 599.8,128.0 602.3,127.2 605.4,126.7 607.1,126.5 606.4,124.7 606.4,123.8 605.6,121.6 605.7,120.1 604.4,119.3 604.4,117.7 605.8,114.3 608.0,112.4 610.6,111.1 612.5,109.1 615.2,108.6 617.6,107.6 620.5,106.2 623.7,105.7 626.1,105.4 628.0,105.8 630.2,105.2 631.6,106.2 633.8,106.1 636.2,107.8 638.1,109.3 641.0,109.3 644.5,109.9 647.0,109.3 649.9,108.4 650.2,105.2 650.2,103.2 654.2,99.3 657.1,98.1 660.8,100.7 662.4,102.9 658.2,105.6 656.4,106.7 654.5,109.6 655.6,111.4 654.2,113.1 652.3,115.4 652.3,116.2 655.2,117.9 657.3,118.3 655.5,120.7 652.7,123.0 654.8,124.2 656.8,124.6 659.4,126.1 661.7,127.3 664.3,123.7 663.0,122.2 661.8,120.1 660.5,118.0 659.9,114.8 663.2,116.6 666.3,117.6 670.4,118.0 671.2,114.5 673.5,111.6 674.5,108.4 677.6,106.3 679.5,103.9M615.6,101.1 611.8,102.6 611.0,105.0 609.5,107.5 607.0,108.6 604.5,110.4 604.0,111.9 602.0,113.8 601.7,115.8 599.8,118.4 603.6,115.6 605.4,113.9 607.0,112.1 608.5,109.9 609.7,107.8 611.6,105.5 614.1,102.5 614.6,101.3M625.6,94.0 624.0,96.0 622.5,97.2 618.7,99.2 616.2,100.6 615.9,97.8 615.5,95.7 614.6,94.2 612.8,92.7 614.7,91.3 617.0,90.6 619.7,90.5 621.1,92.7 621.5,94.0 626.2,93.9M624.6,92.2 625.4,89.7 626.6,86.6 631.0,84.4 632.5,82.4 635.3,80.2 637.8,79.4 641.7,81.3 643.8,83.5 649.1,82.7 647.7,87.0 649.4,87.3 651.4,89.3 653.4,90.0 656.1,93.3 652.2,92.2 649.3,92.4 647.5,90.8 646.4,89.1 644.6,87.8 640.3,88.4 637.7,89.3 636.6,86.3 632.2,88.6 628.8,90.5 624.1,92.3M656.6,92.9 656.5,90.0 659.7,88.6 662.3,88.0 664.2,88.9 661.4,92.9 658.9,94.1 656.6,92.6M650.5,88.4 651.7,85.3 655.9,86.4 655.3,88.9 650.5,88.4M557.1,264.1 559.8,263.1 560.0,262.3 561.8,260.4 561.7,259.7 563.5,262.8 564.6,264.8 565.8,267.1 566.7,268.8 568.5,267.8 569.2,267.0 571.0,265.3 570.8,262.3 570.3,258.5 572.2,256.0 569.9,255.0 569.3,254.3 567.4,250.8 568.6,248.8 568.7,247.1 569.7,244.4 569.6,242.2 569.9,241.3 570.7,240.1 572.5,240.2 573.2,240.8 573.1,241.9 572.6,243.8 571.8,245.9 571.8,247.1 572.5,250.8 574.3,253.1 576.3,253.1 577.4,252.7 578.0,252.2 578.9,250.8 579.4,250.7 580.4,249.5 581.6,250.1 583.2,250.1 584.8,249.6 583.2,250.6 582.9,251.4 582.2,251.5 580.7,252.7 579.7,252.5 578.4,253.6 577.5,255.9 579.1,256.4 580.8,259.3 579.5,259.3 578.2,259.5 577.3,261.4 577.3,263.9 576.8,267.0 575.8,268.7 574.2,268.3 573.4,268.5 571.8,269.5 570.7,271.0 570.0,271.9 568.2,271.6 565.9,271.6 565.0,272.5 562.6,272.2 561.7,268.9 562.3,266.7 562.1,263.6 560.8,264.6 559.3,265.9 559.2,268.1 560.8,270.6 561.0,272.7 560.5,273.7 558.7,275.6 556.8,275.6 556.0,275.7 555.6,276.8 555.0,279.8 554.1,281.4 550.8,282.5 550.5,284.2 547.9,285.8 547.3,286.8 545.8,285.5 545.6,288.0 542.8,288.3 540.9,288.5 539.1,288.4 540.2,290.3 542.2,291.6 543.4,292.4 545.3,294.7 545.1,298.9 544.7,303.2 542.6,302.4 541.0,302.9 539.1,302.2 537.3,301.7 536.3,302.2 533.8,301.0 532.3,301.0 529.2,302.5 528.9,305.7 528.9,308.8 527.2,312.2 526.0,314.2 526.9,316.6 526.5,319.1 529.8,320.1 532.6,321.3 534.9,323.6 538.0,322.3 539.9,322.2 542.9,321.7 545.9,319.0 548.5,316.8 547.4,314.2 549.6,310.5 552.2,308.6 554.3,306.2 554.8,303.9 557.4,303.0 560.6,302.6 562.8,300.7 565.0,298.8 568.8,300.5 570.8,303.5 573.6,304.3 576.1,305.2 578.2,307.0 581.6,308.2 583.7,310.8 583.8,313.0 585.6,310.4 584.1,308.3 583.7,306.1 587.5,306.5 585.3,304.4 583.1,303.0 581.5,302.9 579.2,302.4 577.2,301.8 574.6,299.4 572.5,297.7 572.0,294.5 573.7,293.2 574.2,295.8 575.6,294.3 578.0,296.9 580.5,298.5 583.3,298.8 585.1,299.0 587.3,299.8 588.4,302.4 589.8,304.4 590.9,305.4 593.0,306.5 594.7,308.5 595.3,309.7 597.9,311.9 599.5,312.7 600.7,312.1 600.3,309.8 600.3,307.3 601.2,305.4 598.1,304.4 595.6,302.0 596.1,300.6 598.6,301.8 598.7,299.6 600.8,298.3 601.7,297.8 602.9,298.1 603.5,299.5 604.1,298.2 606.0,295.1 607.0,294.7 605.6,294.7 604.5,293.1 602.5,290.3 602.7,286.7 602.6,282.9 602.8,279.6 603.8,278.5 606.9,278.8 607.9,279.6 611.0,281.2 612.6,278.6 614.0,276.0 610.5,275.8 610.4,274.4 611.3,272.4 612.7,270.8 614.1,270.3 614.7,269.0 614.8,272.9 614.7,274.9 614.5,276.4 617.8,276.1 619.6,275.6 622.0,276.3 624.7,275.6 626.9,275.8 628.7,277.9 628.1,279.2 626.6,280.5 624.8,282.1 623.2,283.3 621.7,284.6 619.4,285.3 617.3,285.4 617.1,284.7 614.9,287.5 613.9,288.5 612.8,290.8 610.9,291.9 609.1,293.2 607.3,293.6 608.3,294.1 607.0,295.5 605.6,297.9 603.2,299.9 605.4,301.1 606.1,303.6 609.9,305.9 612.0,306.1 614.9,305.6 617.1,302.8 619.4,302.4 622.5,302.2 623.2,300.6 625.3,298.4 628.0,296.6 628.9,300.0 631.6,303.0 632.5,307.2 632.6,312.7 631.1,313.7 629.2,315.3 625.8,316.9 623.5,320.0 619.8,321.7 617.9,322.0 614.9,322.8 612.7,323.2 610.0,322.8 607.5,323.0 605.4,323.3 601.5,323.3 599.4,327.5 599.4,332.9 595.9,333.0 594.2,332.5 591.1,332.6 586.7,330.6 583.3,329.7 581.7,329.6 579.2,329.8 576.4,329.2 573.8,328.1 573.8,325.7 574.7,323.6 573.1,318.9 570.1,318.5 568.1,319.8 565.3,320.7 563.4,321.2 560.9,320.8 558.7,321.3 555.6,321.2 554.7,322.4 551.7,323.0 550.6,322.8 547.2,324.4 544.6,325.9 542.5,326.3 539.4,326.2 537.6,325.6 535.5,324.5 533.7,323.9 532.3,328.2 528.6,330.5 526.1,331.8 523.7,334.8 521.7,339.0 522.1,340.6M582.9,313.4 582.9,316.5 582.4,317.4 581.2,317.6 579.3,317.0 576.7,316.3 576.7,315.3 579.5,314.8 582.9,313.3M567.3,308.1 568.0,309.8 569.3,313.4 567.6,314.2 566.7,311.6 565.4,309.4 567.4,307.0M566.7,302.6 567.3,304.6 567.5,306.8 566.2,305.0 566.3,304.0 567.1,302.7M603.9,313.4 604.3,314.5 607.5,313.7 609.8,312.7 608.3,312.9 605.4,313.4 602.9,314.2M622.4,305.6 624.8,305.7 626.4,301.5 623.8,303.8 622.7,305.0M555.2,312.5 554.4,314.1 553.5,314.3 554.8,313.2M538.2,285.0 540.4,284.0 541.2,283.9 543.1,283.7 544.9,283.1 546.0,282.9 547.5,282.8 549.7,282.3 549.8,282.3 548.6,281.4 550.7,277.3 547.8,277.5 547.2,275.5 546.9,273.4 545.1,270.5 543.6,269.3 544.4,268.3 545.1,264.9 543.8,265.3 542.8,264.6 543.9,262.4 542.5,262.3 541.8,262.2 539.5,265.2 539.1,267.1 540.6,269.9 540.3,271.3 542.4,272.6 543.1,274.4 542.9,275.6 540.7,276.4 540.6,277.6 539.7,279.4 539.3,280.3 540.5,280.1 542.5,281.3 542.1,282.0 540.8,282.6 538.0,284.9M531.8,279.4 534.5,279.2 536.6,279.4 537.9,278.3 538.1,275.7 538.6,273.4 538.5,270.6 536.7,270.0 534.9,273.2 533.2,272.5 532.9,275.4 531.0,277.2 531.9,279.7M566.1,269.5 566.0,267.7 563.5,268.8 564.7,269.3 565.7,270.0M573.1,262.4 573.3,259.7 571.8,261.5 572.7,262.7M627.7,257.1 629.2,255.5 630.5,254.9 631.6,253.9 632.9,252.8 637.0,254.2 636.1,256.0 635.5,257.5 635.3,259.2 640.1,260.2 642.7,260.3 645.6,261.2 648.7,262.1 651.0,263.3 653.5,264.4 656.2,265.9 655.2,268.1 654.9,270.5 652.1,271.8 649.8,273.0 645.7,272.3 643.8,269.7 643.3,267.9 638.7,266.4 634.5,266.1 629.8,264.2 628.9,260.6 628.9,257.7 628.1,257.0M642.2,237.6 641.7,240.1 642.2,241.3 642.0,243.9 644.7,246.8 647.0,245.5 648.1,244.0 646.2,239.9 643.8,238.9 642.2,238.3M639.5,163.7 637.5,162.4 636.2,161.5 634.1,161.0 632.0,160.0 628.7,159.8 626.6,158.6 628.2,159.7 631.3,160.4 633.3,160.4 636.3,161.4 637.6,162.8 639.6,164.0M655.1,218.1 651.8,216.2 651.4,213.8 652.3,212.7 652.7,211.2 652.0,209.7 652.5,208.6 654.3,207.9 653.4,209.5 653.4,211.9 653.2,213.4 654.6,215.1 655.3,217.3M584.6,248.6 582.0,246.8 583.5,246.4 583.9,244.9 586.8,246.2 585.6,247.5 585.5,248.6M588.2,243.6 585.0,241.0 587.1,240.9 587.8,244.3M525.7,103.9 526.4,102.3 527.5,101.7M527.6,100.9 530.1,98.8M531.4,97.9 533.0,96.6M536.1,96.2 537.6,95.0 538.5,94.6M541.1,94.0 543.0,93.5 544.3,93.8M549.2,93.0 550.6,93.4 551.7,93.8M555.3,95.3 557.1,96.2 558.8,96.7M568.8,104.9 566.2,102.8M586.7,98.2 588.5,97.5M590.9,95.7 592.9,95.3M596.4,92.2 599.7,92.3M603.5,91.6 604.9,91.4 608.1,91.5M610.4,92.2 612.7,92.0M513.9,114.5 512.7,118.3 512.2,119.7 510.9,117.8 512.3,116.6 513.8,114.6M538.7,123.3 537.0,125.2 535.1,123.7 537.0,122.8 538.7,123.6M483.7,127.8 480.7,126.3 478.5,126.3 482.0,126.8 483.6,127.7M458.6,230.2 460.3,231.7 459.8,234.2 459.0,232.6 458.4,230.0M507.8,194.4 509.6,193.3 510.3,193.9 510.3,194.8 509.5,195.9 508.9,196.3 508.0,195.4 507.6,195.4 508.2,194.4 507.7,194.3M512.4,183.0 514.3,183.0 514.1,183.9 513.2,184.5 513.0,184.7 512.1,184.7 512.0,184.2 512.4,183.2 511.7,183.3M518.9,169.1 519.9,170.4 521.6,171.0 521.2,171.9 521.4,173.0 521.3,172.5 520.9,173.5 518.7,172.0 519.0,170.9 518.9,170.6 519.6,169.7 519.3,169.4 519.0,169.0M519.5,183.3 522.2,183.7 522.0,184.1 521.6,184.8 521.7,185.1 519.3,184.2 519.8,183.5 519.3,183.9 519.1,183.1M495.0,199.2 497.8,198.5 497.3,200.3 497.3,201.4 495.3,200.4 494.8,199.5M481.6,194.8 483.7,195.1 483.8,196.1 483.8,198.0 481.3,196.3 481.5,194.4M481.7,198.3 482.6,198.2 481.4,199.5 481.1,198.8M458.2,200.0 459.4,201.1 458.5,201.0 458.4,199.7M467.1,201.5 469.0,202.7 468.0,202.8 467.5,201.7M485.6,215.3 487.1,215.1 486.4,215.8 485.4,215.9M500.3,195.4 502.2,196.1 501.1,197.4 500.1,196.2 500.5,195.9 500.4,195.1M515.6,178.6 517.6,179.6 516.2,179.7 516.2,179.0 516.2,178.5M515.0,183.8 516.2,183.5 516.5,183.9 516.0,184.8 514.5,183.5M508.5,176.2 511.1,176.1 510.8,176.7 510.3,177.4 509.5,175.9M498.2,176.9 499.8,177.0 499.0,177.6 499.0,176.6M523.7,182.5 524.7,182.6 525.2,183.2 524.8,183.4 524.5,184.3 524.9,183.3 524.4,183.8 524.0,183.3M519.2,171.2 519.5,171.7 518.6,171.7 519.5,171.6 519.2,171.5 519.2,171.2M510.0,185.5 511.7,184.7 511.5,185.8 510.8,184.7M497.2,238.2 497.2,236.7 497.4,235.0M560.3,209.8 560.4,209.0 560.7,209.1 561.0,210.3 560.2,209.8M557.9,212.2 557.5,212.4 558.5,212.2 558.5,212.1 559.1,213.6 558.5,212.7 557.5,211.9M559.6,221.4 560.2,221.8 560.0,222.3 560.3,222.2M541.4,231.4 541.6,231.6 541.2,231.5 541.8,232.0M539.9,254.0 539.9,253.2 539.9,254.6 539.5,253.8M546.5,258.9 546.2,257.2 546.2,258.5 545.5,258.7M543.5,261.3 544.3,261.2 543.9,261.9 543.9,261.8M538.4,265.0 539.6,262.7 538.3,264.9 538.4,265.2M584.9,218.0 584.7,219.6 586.6,219.3 585.6,218.3 585.2,218.3M584.3,200.1 584.9,199.3 585.3,200.9 585.1,199.9M572.2,192.6 571.8,192.6 571.8,192.1 571.6,192.9M576.7,257.3 576.1,256.6 578.4,257.6 577.6,258.6 576.4,257.7M576.0,256.7 576.9,255.6 577.6,256.0M571.0,265.8 570.9,263.0 571.5,264.8M569.5,268.6 570.0,268.4 569.9,268.5 569.9,268.5M572.6,254.6 572.6,253.2 572.9,254.0 572.1,254.0M562.7,271.1 563.4,269.1 564.1,269.7 562.9,270.8M565.0,271.1 565.7,270.1 565.4,270.9M590.6,306.4 590.1,305.6 591.4,306.4M593.9,309.5 594.7,309.7M604.8,303.5 604.6,303.8 605.1,304.4M604.4,301.8 604.3,301.0 605.2,301.9M611.6,307.2 611.7,306.8 612.1,308.8M550.7,315.8 551.6,315.2M556.7,311.9 557.3,312.8M601.8,116.6 600.7,115.5M584.5,121.9 583.8,121.7M605.8,124.5 605.3,124.7 605.8,124.2 605.5,124.5M524.6,104.2 523.3,105.1M494.1,131.4 492.5,131.0 491.5,130.4 493.0,131.7M488.8,131.5 486.7,130.3 484.0,129.8 487.7,129.7 488.9,131.6M491.2,132.2 490.7,130.9 490.3,132.3M531.7,116.5 530.8,117.5 529.8,116.0 531.6,116.2" stroke="#300c34" stroke-width="1.35"/><path d="M516.1,150.0 515.6,150.5 514.8,150.6 512.9,150.1 514.1,151.1 513.8,150.8 512.9,151.7 512.8,152.8 511.8,152.9 511.9,154.6 512.5,154.1 512.3,154.7 511.8,155.3 510.6,157.1 510.7,156.7 511.4,158.1 509.7,158.7 509.5,158.6 508.5,159.5 508.7,160.0 508.5,159.3 507.2,159.4 506.3,159.7 506.1,160.9 505.1,161.5 505.2,161.3 505.5,162.0 504.2,162.4 504.4,162.2 504.3,162.6 503.1,164.2 501.0,164.4 500.7,164.3 499.2,163.8 499.3,166.0 499.1,166.3 500.2,167.3 499.1,167.0 499.2,168.4 498.4,169.0 499.4,169.9 498.1,170.7 497.8,170.4 498.3,171.9 497.6,172.5 497.6,172.2 496.9,172.6 496.3,173.2 497.0,175.2 495.8,174.3 497.2,175.7 496.3,175.9 496.6,177.6 496.5,177.6 495.9,179.0 495.9,179.0 497.3,179.1 498.0,181.3 498.7,181.9 498.8,182.1 501.2,183.2 503.8,183.0 504.0,184.1 503.0,184.0 501.3,185.0 500.4,184.9 498.4,185.5 496.5,187.7 497.8,187.8 497.4,188.1 497.1,188.6 498.6,190.3 498.3,190.8 498.5,191.4 497.8,192.3 496.8,192.9 496.2,193.4 496.5,194.5 497.7,194.6 500.4,193.7 496.5,194.5 495.1,195.0 493.6,195.5 493.3,194.8 492.3,193.9 492.3,193.6 491.1,192.9M499.2,213.9 499.7,213.4 499.2,211.7 498.9,211.2 500.5,209.7 500.4,209.1 500.8,207.3 501.2,207.0 502.7,205.9 504.2,205.5 504.5,204.6 503.9,203.0 504.9,203.0 504.9,202.3 506.0,200.5 506.1,200.0 505.8,199.2 506.7,198.5 506.9,197.6 507.8,197.4 508.5,197.1 508.3,196.9 508.4,195.5 509.3,194.9 509.1,195.1 509.5,193.3 509.9,192.9 509.8,192.8 509.9,193.3 509.8,192.0 509.3,191.9 508.1,190.7 508.0,190.9 508.2,191.0 507.2,189.5 507.8,188.4 506.8,188.8 507.8,187.7 508.1,188.4 507.9,187.1 505.6,186.7 504.8,186.7 502.9,188.4 500.6,188.2 501.0,189.3 499.9,189.7 500.6,190.7 499.8,191.2 500.0,192.1 500.9,192.1 501.8,193.6 501.0,193.6 501.8,194.8 502.2,194.4 500.9,195.0 501.7,195.9 500.6,196.9 500.2,197.9 499.8,197.9 499.4,199.0 498.5,199.9 496.6,201.6 495.4,202.7 494.2,202.6 492.3,201.5M501.1,167.3 502.5,166.2 501.7,166.2 503.1,165.5 504.2,165.1 506.0,165.8 508.1,165.2 510.5,166.0 511.4,168.2 511.0,168.9 512.1,168.9 511.5,170.1 512.6,169.7 511.9,171.0 511.4,171.0 510.4,171.8 510.9,171.4 509.5,173.0 509.8,173.1 508.6,173.9 510.2,175.0 509.8,174.1 509.1,174.6 507.9,176.1 507.1,175.1 505.5,176.7 504.5,176.6 504.1,176.3 503.6,176.5 501.9,177.5 500.1,176.4 499.2,176.9 499.6,175.2 498.9,174.8 499.1,174.3 499.6,173.4 498.2,173.2 498.7,172.5 499.6,172.3 500.0,171.3 499.9,170.6 500.3,170.3 501.0,168.8 501.0,168.6 502.1,167.7 502.5,168.0 501.9,167.4 500.5,166.0M511.2,162.6 512.9,163.0 513.3,163.5 514.0,163.5 515.3,163.9 518.0,166.1 516.6,165.6 517.6,166.9 517.2,166.5 516.6,167.2 515.8,167.6 515.9,167.9 515.0,167.9 515.2,169.0 514.7,169.0 514.2,169.4 513.3,169.8 513.0,169.9 511.8,168.6 511.8,167.9 512.7,167.9 512.4,166.4 511.7,167.1 509.9,164.3 510.1,163.3 510.1,162.9 510.9,162.8M516.6,186.9 517.4,187.5 519.1,187.8 521.0,188.4 522.4,189.3 523.5,189.0 524.5,188.2 524.6,188.4 524.6,187.6 525.3,187.3 526.5,186.3 526.2,185.8 526.6,186.1 527.1,187.8 527.4,187.0 527.8,187.3 528.6,188.2 528.0,187.7 529.1,189.0 529.4,188.4 530.2,188.0 529.1,189.4 529.9,188.4 530.5,190.1 530.6,189.3 530.0,189.1 531.4,189.9 531.6,189.4 530.6,189.6 531.0,189.8 530.9,190.6 531.1,190.2 530.8,191.8 531.1,191.3 531.6,191.5 531.3,191.3 531.4,191.9 532.9,192.1 532.9,191.7 531.7,192.4 532.6,192.6 532.4,192.9 532.9,193.6 532.2,193.1 533.0,193.0 531.8,193.4 531.7,194.4 532.9,193.9 531.8,193.8 531.9,194.0 532.2,195.1 531.9,194.5 531.5,194.8 529.5,195.4 528.6,195.4 528.2,195.6 528.4,195.9 528.2,195.9 527.7,195.6 526.8,195.9 526.7,196.0 526.5,195.4 525.3,195.4 525.2,194.1 524.3,194.0 524.2,194.6 523.9,193.4 523.4,194.2 521.0,193.4 519.9,193.8 520.3,194.5 519.1,193.1 518.0,193.1 517.1,192.2 516.7,193.2 516.8,191.7 516.4,191.4 516.5,191.4 516.8,191.6 515.4,190.4 516.6,190.2 515.8,189.8 516.4,190.2 516.0,189.8 516.1,188.0 516.5,188.1 515.3,188.6 515.3,187.6M511.4,186.6 513.6,185.3 515.7,185.0 516.0,185.7 516.2,185.9 515.4,186.4 516.3,187.7 515.9,187.8 515.0,187.5 515.5,188.5 514.0,188.5 514.0,189.8 515.1,189.5 514.8,190.2 514.7,191.4 514.7,191.8 514.4,191.0 514.7,192.3 514.3,192.4 514.6,192.3 511.9,193.0 512.1,193.1 511.8,193.1 512.3,192.6 512.0,191.7 511.6,191.5 511.3,190.7 511.6,190.1 511.0,189.0 510.7,188.9 511.5,189.1 511.7,187.9 512.1,187.4 511.7,186.6 511.8,187.1 512.2,187.0 511.8,186.5M520.7,187.8 520.2,187.3 521.7,186.4 522.3,186.6 521.8,185.4 522.2,185.3 523.0,186.1 523.9,185.4 524.8,184.9 527.0,185.9 526.9,185.8 527.0,185.8 525.9,186.2 526.2,187.5 525.3,187.3 526.1,187.0 524.8,187.8 524.3,188.7 522.4,188.4 521.0,188.1 520.9,187.3M512.5,176.3 513.9,175.3 512.8,174.8 514.0,175.3 513.8,174.3 514.8,174.7 515.4,174.5 514.7,173.8 517.0,174.4 517.2,174.1 518.7,174.2 517.9,174.2 518.9,174.4 517.7,174.4 517.7,174.7 517.7,175.9 517.6,176.6 518.6,177.2 518.1,177.3 517.8,177.9 516.8,178.2 515.5,177.1 513.0,176.9 513.1,176.7 513.1,176.6M504.7,183.8 507.6,183.3 509.1,183.4 509.5,184.0 509.8,184.9 510.5,184.0 510.3,185.5 509.6,185.0 509.9,185.9 510.4,187.2 507.0,186.6 506.8,186.6 506.8,185.9 505.7,184.9 506.2,184.6 504.6,183.8M503.7,180.2 504.8,179.2 506.3,179.2 509.2,178.9 508.9,180.3 509.1,180.1 511.0,180.2 509.6,181.1 507.2,181.4 506.6,182.0 505.8,180.8 504.5,181.5 504.0,179.9M512.3,180.4 515.7,181.1 517.1,180.2 516.7,181.7 516.6,181.8 517.2,182.2 516.6,181.6 515.5,183.2 513.8,183.0 514.1,182.5 513.1,182.1 513.4,181.4M520.4,174.2 521.9,175.6 523.9,175.4 522.9,175.9 522.9,176.3 523.2,176.4 522.4,177.3 522.2,177.6 521.6,177.4 520.4,175.6 521.4,176.7 521.0,174.9 520.5,175.7 521.6,173.9 520.4,174.1 520.6,174.2M519.2,179.7 520.6,179.6 523.7,180.3 522.2,179.7 523.1,180.5 522.7,181.0 523.1,182.2 522.6,181.9 522.6,182.2 523.4,181.9 519.9,182.8 519.0,182.5 519.6,181.7 519.9,181.8 518.9,180.9 518.8,180.3 519.2,179.3 519.1,179.6 519.6,179.9M497.6,179.0 500.0,180.8 500.0,181.6 498.7,180.9 499.4,181.5 497.0,181.5 497.4,180.2 498.3,179.4 497.9,179.5M501.4,220.9 503.5,219.2 504.5,218.9 505.6,218.1 507.5,218.0 509.8,218.0 508.9,217.9 509.9,216.1 510.2,215.8 509.8,214.9 509.8,213.4 512.4,211.8 514.1,209.6 514.6,207.6 517.3,206.7 516.6,205.1 518.2,205.1 518.7,203.6 518.7,203.0 519.3,203.1 519.0,202.1 519.4,201.6 517.8,202.1 517.7,200.7 518.2,201.3 518.7,201.0 517.3,200.5 518.4,199.3 518.2,199.1 517.3,198.3 518.6,198.5 519.4,197.7 518.8,196.7 519.6,197.2 520.3,195.1 521.3,194.3 521.7,195.4 522.5,194.9 522.0,195.6 523.3,195.8 523.5,196.7 523.2,195.9 524.1,196.5 525.2,196.7 525.2,196.7 525.7,197.5 525.7,196.4 526.5,196.8 528.3,196.6 528.6,197.1 529.9,196.2 530.0,196.7 529.3,197.3 530.9,197.3 530.0,198.0 530.9,197.5 531.9,197.0 531.7,197.1 531.6,196.7 532.8,197.4 533.3,197.0 532.6,197.3 533.9,198.4 534.0,198.1 533.0,198.1 533.4,197.6 534.2,198.1 533.7,198.5 535.2,199.3 534.7,198.1 535.5,198.2 535.3,198.2 536.3,199.0 535.7,198.6 536.1,199.8 536.1,198.6 536.5,199.8 536.6,199.3 537.7,198.9 537.7,199.2 536.9,198.5 538.4,199.2 537.9,199.9 538.3,199.3 538.1,199.7 538.3,199.2 539.3,199.4 538.5,199.0 539.5,199.9 538.7,200.5 538.9,199.3 538.9,199.9 539.9,200.7 539.3,200.6 539.4,200.6 539.8,200.3 539.6,201.0 539.9,201.3 540.2,201.4 540.7,201.7 541.1,202.8 540.2,202.3 541.2,202.4 540.6,203.3 541.5,203.3 541.1,204.8 541.4,203.8 541.9,204.4 542.0,205.2 541.5,205.6 542.1,205.0 542.4,205.4 542.6,205.8 543.0,205.2 542.7,205.1 543.4,206.5 543.7,205.5 543.5,206.4 542.3,206.6 543.3,208.2 541.6,208.8 541.8,208.7 541.2,209.0 539.9,209.7 539.7,211.6 539.2,213.7 538.1,215.7 537.7,217.4 536.6,219.6 535.3,221.0 533.6,221.9 533.4,223.7 530.5,225.4 531.3,227.4 530.5,229.7 530.4,229.7 529.4,228.8 529.2,229.9 528.3,229.8 527.7,229.5 527.5,229.2 526.5,230.4 528.5,230.1 527.4,231.2 526.6,231.5 525.7,231.5 524.7,232.0 524.2,232.7 523.5,232.0 523.5,233.2 522.3,232.2 521.0,232.6 520.1,231.9 519.3,233.1 518.8,233.2 517.9,233.0 517.3,233.4 516.3,232.7 515.2,233.2 514.7,233.3M526.0,238.3 526.3,239.3M529.7,241.5 529.9,241.0 531.9,240.6 531.8,241.0 532.9,241.4M556.6,216.5 555.8,216.6 555.2,215.4 555.4,216.4 555.3,214.8 555.0,213.8 552.8,211.8 551.8,210.9 553.2,210.5 553.6,210.3 554.0,210.4 553.7,209.6 553.8,209.8 554.7,209.3 554.1,210.1 554.0,209.5 554.5,209.5 555.4,208.5 555.9,208.8 555.5,209.4 556.5,208.3 556.6,207.9 556.6,207.7 557.2,209.2 557.6,207.9 557.9,208.8 558.2,208.4 558.4,209.1 557.9,209.8 558.0,209.5 557.5,209.9 558.7,210.2 557.2,210.6 558.3,210.6 557.1,211.1 558.8,214.4 557.6,215.5 557.7,215.7 557.7,216.5 556.8,215.9 556.8,216.4 557.4,217.3M560.1,242.8 561.4,240.9 561.2,239.1 560.2,237.2 560.5,236.3 561.0,236.9 561.3,235.5 562.2,235.2 562.0,234.3 563.3,233.0 562.7,233.5 564.4,231.8 563.5,232.0 564.2,231.4 564.2,230.4 564.7,229.6 566.0,229.4 566.7,229.4 566.8,228.9 566.5,227.8 567.1,227.5 567.5,228.0 568.7,227.8 570.3,228.1 570.2,228.0 572.3,227.1 573.0,228.4 573.3,227.6 573.5,227.8 575.4,227.7 575.0,227.9 576.0,227.8 576.8,227.2 576.8,227.9 578.6,226.8 579.0,227.2 579.8,227.6 581.5,226.9M584.1,230.6 583.3,231.5 582.5,231.1 582.2,231.5 581.2,231.4 582.1,232.6 580.2,232.4 579.3,232.2 578.6,233.9 577.9,233.1M507.1,193.4 510.7,194.0 510.5,194.7 510.3,194.3 509.3,194.8 509.1,195.2 508.9,196.3 507.6,195.6 508.7,196.0 508.4,195.3 508.6,194.6 507.6,194.1M511.8,182.1 513.4,183.2 513.0,183.1 513.0,184.1 513.9,184.8 512.3,184.8 512.1,183.6 511.9,183.0 512.4,183.4M519.9,168.8 519.8,169.6 521.4,171.1 520.5,171.6 520.8,171.9 521.4,172.9 520.7,173.5 520.6,174.2 519.5,172.7 519.4,172.0 519.1,171.7 519.4,170.9 518.6,169.6 519.3,169.7 518.8,169.5M519.1,183.1 521.7,184.0 521.3,183.9 521.7,184.4 521.1,184.1 521.3,185.0 519.7,183.8 519.3,184.1 518.9,182.9 520.0,182.4M495.2,198.7 496.7,198.6 496.9,199.8 498.1,200.2 495.3,200.8 495.6,199.0 494.8,198.7M500.5,195.3 501.3,195.8 501.4,196.0 501.3,197.6 500.6,196.7 500.7,196.7 500.1,194.6M515.8,179.2 516.8,179.8 516.6,180.0 516.6,180.5 516.8,179.9 516.1,179.2M514.3,183.6 516.6,182.7 516.7,183.5 516.1,184.4 515.8,184.3 514.7,184.1M509.0,176.2 511.4,175.9 510.8,177.6 509.8,178.0 510.0,176.9 509.6,176.7M498.1,176.9 499.9,177.2 499.8,178.3 499.2,176.2M523.8,183.6 525.9,183.3 524.8,183.6 525.0,183.7 525.1,184.3 525.1,184.8 524.5,183.7 524.5,183.4 523.2,183.6M519.2,170.8 519.0,170.9 520.6,171.7 518.7,172.7 518.8,172.0 519.5,171.9 519.5,170.6M509.9,184.7 510.5,184.1 510.4,185.1 510.7,185.6M560.0,209.6 560.1,209.7 560.6,208.4 561.0,209.5 560.0,210.4 559.6,209.9M557.8,212.4 558.5,212.1 559.0,211.7 559.4,212.4 558.2,213.3 559.0,213.4 557.8,212.8M559.1,221.5 560.0,222.2 560.8,221.4 560.7,221.9M540.9,230.8 541.5,231.4 541.4,231.5 542.0,231.5" stroke="#300c34" stroke-width="2.0"/></g>
<path d="M392.3,186.9 H703.5 M547.9,43.3 V342.5" stroke="#4a2a4a" stroke-width="1" fill="none"/>
<circle cx="547.9" cy="186.9" r="155.6" fill="none" stroke="#4a2a4a" stroke-width="1.1"/>
<rect x="536.9" y="27.3" width="176" height="16.5" fill="#fff"/>
<text x="548.7" y="39.5" class="n" textLength="153" lengthAdjust="spacing">NOAA/ESRL Physical Sciences Division</text>
<g clip-path="url(#c3)">
<circle cx="228.2" cy="550.8" r="157" fill="#fff"/>
<path d="M378.0,707.0 72.0,707.0 72.0,395.0 153.7,395.0 156.0,397.4 162.0,401.1 164.3,404.0 168.0,411.5 171.7,416.0 173.1,419.0 172.8,422.0 170.6,425.0 161.1,431.0 151.5,440.0 149.1,443.0 149.9,446.0 152.6,449.0 156.0,451.4 159.0,452.2 162.0,451.8 168.0,449.3 171.0,449.0 183.0,451.3 189.0,451.7 201.0,451.4 216.0,452.2 225.0,450.2 228.0,450.4 231.0,451.5 236.6,455.0 236.8,458.0 235.3,464.0 235.4,470.0 237.3,479.0 240.0,485.5 243.0,490.4 246.0,493.7 249.0,495.4 255.0,496.5 258.0,496.2 261.0,493.6 266.7,482.0 270.0,471.1 273.0,466.8 276.0,465.1 288.0,461.8 294.0,462.1 297.0,461.6 300.0,459.8 305.3,455.0 307.4,452.0 308.0,449.0 306.7,440.0 306.0,438.2 303.0,436.2 300.0,436.4 294.0,438.7 291.0,438.8 288.0,436.2 285.0,431.0 282.0,427.9 276.1,425.0 264.0,421.3 261.0,421.2 257.6,422.0 249.0,426.7 247.1,425.0 246.5,422.0 244.9,419.0 236.2,410.0 234.9,407.0 235.1,404.0 237.0,400.8 240.0,399.3 249.6,398.0 252.0,397.0 254.3,395.0 384.0,395.0 384.0,690.1 381.0,688.0 375.0,680.8 369.0,675.9 363.0,668.5 354.9,662.0 351.0,655.9 342.0,648.6 333.0,636.9 327.0,630.6 321.0,627.8 318.3,629.0 316.3,641.0 317.1,644.0 325.2,653.0 330.0,661.0 339.0,665.5 345.0,673.2 353.1,680.0 357.0,685.3 364.7,692.0 369.0,697.5 377.3,704.0 379.1,707.0 378.0,707.0ZM326.1,530.0 339.0,522.5 343.9,518.0 345.6,515.0 346.1,512.0 345.5,503.0 345.8,500.0 347.5,497.0 354.0,492.3 360.0,486.3 372.0,481.9 374.2,479.0 374.6,476.0 373.2,473.0 372.0,471.9 366.0,469.9 363.0,470.0 360.0,471.6 354.0,480.5 344.2,485.0 342.0,487.0 339.0,488.3 333.0,482.7 330.0,481.2 327.0,480.9 324.0,481.8 320.2,485.0 318.4,488.0 317.6,491.0 317.8,503.0 316.5,509.0 313.3,518.0 313.1,521.0 313.5,524.0 314.6,527.0 318.0,530.6 321.0,532.1 324.0,531.9 326.1,530.0ZM172.5,668.0 177.0,665.9 180.0,663.6 183.0,663.0 189.0,666.2 192.0,666.2 195.0,664.8 197.3,662.0 198.6,659.0 198.4,656.0 195.5,650.0 196.2,647.0 200.2,641.0 201.6,635.0 201.4,623.0 200.3,617.0 198.0,615.0 192.0,613.3 180.5,608.0 175.5,605.0 174.4,602.0 175.5,599.0 186.0,592.6 188.4,590.0 190.2,587.0 191.3,581.0 190.5,578.0 189.0,576.3 186.0,575.9 183.0,576.4 174.0,578.8 171.9,581.0 171.0,583.2 169.4,590.0 168.0,593.4 160.9,599.0 156.0,605.0 152.5,608.0 139.0,617.0 136.2,620.0 134.6,623.0 133.8,626.0 134.6,641.0 133.6,656.0 134.3,659.0 138.0,664.4 142.8,668.0 147.0,669.3 156.0,668.7 168.0,668.7 172.5,668.0ZM296.5,581.0 295.6,578.0 294.0,577.2 291.0,577.0 289.3,578.0 288.6,581.0 291.0,583.5 294.0,583.0 296.5,581.0Z" fill="none" stroke="#8a6a8a" stroke-width="0.8"/>
<path d="M351.0,707.0 72.0,707.0 72.0,510.5 81.0,510.3 93.0,511.1 99.0,510.0 108.0,507.2 114.0,504.4 120.0,500.0 122.5,497.0 124.0,494.0 124.0,491.0 121.7,488.0 120.0,486.8 114.0,484.6 108.0,483.7 99.0,484.4 96.0,483.8 93.0,481.9 87.0,476.5 84.0,475.3 78.0,474.8 72.0,475.2 72.0,395.0 147.7,395.0 148.7,398.0 150.0,399.6 156.7,404.0 159.7,407.0 162.1,413.0 162.6,416.0 162.2,419.0 159.7,422.0 155.7,425.0 147.0,433.9 142.1,437.0 139.2,440.0 138.2,443.0 138.7,446.0 141.1,449.0 154.6,458.0 168.0,461.5 180.0,458.9 189.0,458.1 219.0,457.5 225.0,458.2 228.0,459.3 231.0,462.7 236.7,482.0 243.0,494.2 246.0,497.5 255.0,502.3 258.6,506.0 261.0,507.6 264.0,508.1 267.0,507.4 269.7,506.0 271.9,503.0 271.2,500.0 266.9,494.0 266.5,491.0 271.4,476.0 273.0,472.7 275.9,470.0 279.0,469.0 282.0,469.1 285.0,470.2 288.0,472.6 290.2,476.0 292.3,485.0 294.0,487.6 297.0,487.8 300.0,486.6 302.3,485.0 304.9,482.0 306.0,479.0 305.0,470.0 305.2,467.0 307.0,464.0 309.0,462.3 312.0,461.6 315.0,463.2 319.1,470.0 320.0,473.0 320.0,476.0 316.6,482.0 314.4,488.0 314.1,503.0 313.2,506.0 308.9,515.0 308.4,521.0 309.5,527.0 312.0,533.1 318.0,544.0 321.0,545.2 324.0,544.9 327.0,543.8 329.5,542.0 335.5,533.0 338.2,530.0 349.9,521.0 352.3,518.0 352.8,515.0 352.0,506.0 352.9,503.0 365.7,491.0 376.9,485.0 379.1,482.0 381.6,476.0 384.0,473.5 384.0,664.4 381.0,662.5 376.5,656.0 375.0,654.6 368.3,650.0 364.2,641.0 363.0,640.1 360.0,639.2 351.0,639.8 348.0,639.5 345.0,637.8 342.0,635.3 334.2,626.0 327.0,619.6 324.0,616.1 319.5,608.0 317.5,602.0 316.9,596.0 317.6,587.0 317.4,581.0 316.4,572.0 315.0,569.1 312.0,568.6 300.0,571.0 291.0,571.4 288.0,572.2 284.4,575.0 282.1,581.0 282.0,587.7 282.8,590.0 285.0,592.6 288.0,593.8 297.0,593.4 300.0,594.0 303.0,596.6 305.6,602.0 307.8,611.0 308.3,623.0 306.9,632.0 305.3,635.0 303.0,637.4 297.0,642.3 292.7,647.0 291.4,650.0 291.1,653.0 292.6,662.0 294.0,664.5 294.8,665.0 297.0,665.8 300.0,665.3 304.2,662.0 309.0,655.2 312.0,653.5 315.0,654.0 317.7,656.0 319.2,659.0 319.2,662.0 317.3,671.0 318.4,674.0 327.0,679.7 331.4,686.0 339.2,692.0 345.0,699.7 351.6,704.0 353.4,707.0 351.0,707.0ZM300.0,425.1 294.0,426.2 291.0,426.2 273.0,420.1 264.0,414.3 252.0,414.3 249.0,412.7 246.5,410.0 245.8,407.0 248.8,404.0 255.0,401.4 258.0,399.2 260.3,395.0 353.8,395.0 351.5,398.0 345.0,403.3 339.2,410.0 333.0,415.4 327.0,421.7 324.0,423.5 318.0,424.6 309.0,424.4 300.0,425.1ZM348.0,473.4 345.0,474.5 339.0,474.1 336.0,473.0 333.0,470.3 331.7,467.0 331.4,458.0 330.6,455.0 327.9,452.0 321.0,448.2 318.6,446.0 317.7,443.0 318.0,442.2 319.1,440.0 321.0,438.5 324.0,437.4 336.0,437.1 339.0,435.4 344.9,428.0 351.0,422.6 357.0,416.0 363.0,410.9 368.8,404.0 376.5,398.0 378.2,395.0 384.0,395.0 384.0,436.5 381.0,438.3 375.1,446.0 367.5,452.0 363.0,459.1 355.7,464.0 351.0,470.4 348.0,473.4ZM190.7,677.0 195.0,675.5 198.0,673.4 205.2,665.0 211.7,659.0 213.4,656.0 213.4,653.0 211.1,644.0 208.6,629.0 208.7,623.0 210.7,614.0 210.5,611.0 209.3,608.0 207.0,605.3 204.0,603.8 201.0,604.0 195.0,606.5 192.0,606.9 189.0,606.1 186.0,604.0 184.6,602.0 185.5,599.0 191.7,593.0 193.9,590.0 195.1,587.0 195.8,581.0 195.0,574.7 193.5,572.0 192.0,570.6 189.0,569.6 180.0,569.8 178.9,569.0 174.0,558.9 171.0,555.6 168.0,555.1 165.0,558.2 160.3,572.0 159.9,575.0 160.6,578.0 163.6,584.0 163.2,587.0 160.7,590.0 152.3,596.0 144.7,605.0 133.9,614.0 131.2,617.0 127.3,623.0 126.5,626.0 126.5,629.0 127.8,641.0 126.8,656.0 127.3,659.0 131.5,665.0 138.0,671.5 144.0,675.7 150.0,676.3 165.0,675.4 183.0,677.5 190.7,677.0ZM353.1,614.0 356.0,611.0 355.9,608.0 354.2,605.0 351.0,602.5 348.0,602.4 345.0,605.1 344.0,608.0 343.9,611.0 345.0,613.2 348.0,614.9 351.0,614.8 353.1,614.0Z" fill="#32dc1e" fill-rule="evenodd" stroke="#1a1a00" stroke-opacity=".75" stroke-width=".6"/>
<path d="M258.0,707.0 198.0,707.0 199.2,698.0 199.4,686.0 200.3,683.0 207.0,670.8 210.0,667.4 216.9,662.0 219.0,659.0 219.8,653.0 219.2,644.0 220.1,638.0 221.1,635.0 222.0,633.4 225.0,630.8 232.9,629.0 234.0,627.7 234.4,626.0 233.7,617.0 234.6,611.0 237.0,608.6 243.4,605.0 245.5,602.0 245.9,599.0 243.0,596.4 239.7,596.0 237.0,596.6 234.0,598.1 228.0,603.7 225.0,604.8 222.0,605.2 219.0,604.9 216.0,603.4 206.8,596.0 203.9,593.0 202.0,590.0 200.2,584.0 198.2,572.0 196.9,569.0 193.4,566.0 186.0,563.3 183.0,561.5 179.3,557.0 175.0,548.0 174.0,546.8 171.0,546.7 168.0,547.6 165.0,549.7 162.0,553.3 157.1,566.0 152.8,575.0 150.6,584.0 149.0,587.0 141.0,596.3 131.0,605.0 126.0,612.1 123.0,615.2 120.0,616.7 117.0,616.8 108.0,615.1 105.0,616.1 104.0,617.0 100.4,626.0 99.0,627.5 96.0,629.2 93.0,629.7 81.0,628.8 72.0,629.0 72.0,519.8 84.0,520.5 93.0,519.3 99.0,517.0 114.0,509.7 120.0,505.9 125.5,500.0 128.8,494.0 129.1,491.0 127.8,488.0 124.7,485.0 111.0,476.0 108.0,474.8 99.0,474.6 87.0,470.6 72.0,470.2 72.0,425.0 75.0,426.9 80.3,434.0 87.0,439.1 92.1,446.0 99.0,451.4 105.0,458.6 108.0,460.3 111.0,461.0 129.0,462.4 135.0,462.0 141.0,460.5 144.0,460.6 156.0,463.9 159.0,465.4 161.3,467.0 165.0,472.0 168.0,473.7 171.0,471.6 177.0,466.0 180.9,464.0 186.0,462.6 192.0,461.9 216.0,460.8 222.0,461.4 225.0,462.4 228.0,464.7 229.5,467.0 236.3,485.0 243.0,498.4 251.9,506.0 255.0,510.1 258.0,512.6 261.0,513.2 264.0,512.9 267.4,512.0 274.0,509.0 278.1,506.0 280.7,503.0 282.0,500.3 285.0,498.1 291.0,497.8 297.0,496.7 306.0,492.7 309.0,494.5 309.5,500.0 309.0,502.6 305.0,509.0 303.6,512.0 303.3,515.0 306.0,527.6 309.2,539.0 309.5,542.0 308.0,560.0 305.7,563.0 300.0,565.8 285.0,569.6 281.7,572.0 276.0,579.6 270.0,580.5 260.4,587.0 257.7,590.0 257.1,593.0 259.1,599.0 258.0,611.3 259.3,614.0 267.0,619.1 270.4,626.0 273.0,628.9 276.0,629.0 279.0,628.0 282.0,625.6 283.4,623.0 283.7,620.0 282.4,611.0 283.1,608.0 286.0,605.0 291.0,602.8 294.0,602.0 297.0,602.1 300.0,604.2 302.9,611.0 303.6,617.0 303.0,623.5 300.0,629.9 284.5,644.0 282.1,647.0 281.4,650.0 283.5,659.0 283.9,665.0 282.9,671.0 281.5,674.0 279.0,676.2 276.0,677.0 273.0,676.3 270.0,673.3 267.7,668.0 265.8,665.0 264.0,663.7 261.0,662.6 258.0,662.4 255.0,662.8 250.4,665.0 247.2,668.0 245.4,671.0 244.7,677.0 245.7,692.0 246.3,695.0 248.0,698.0 256.2,704.0 258.0,707.0ZM282.0,495.5 279.0,496.2 276.0,495.4 273.0,493.3 271.4,491.0 271.1,488.0 273.0,480.2 276.0,475.3 279.0,474.2 282.0,475.0 283.3,476.0 285.1,479.0 285.1,485.0 282.0,495.5ZM336.0,617.6 333.0,616.5 330.0,614.4 327.0,611.0 323.5,605.0 321.8,599.0 322.2,587.0 321.9,575.0 322.6,572.0 326.6,563.0 328.6,554.0 333.9,548.0 339.0,540.8 345.0,535.2 348.0,533.6 351.0,533.1 357.0,533.3 360.0,532.9 363.0,531.3 369.0,522.8 372.0,520.9 378.0,520.3 384.0,520.8 384.0,604.0 375.0,602.8 366.0,604.3 363.0,604.3 360.0,602.8 351.0,594.1 348.0,594.4 342.0,602.0 339.6,608.0 339.0,614.0 338.0,617.0 336.0,617.6ZM355.5,572.0 357.0,569.1 357.1,566.0 356.6,563.0 354.7,560.0 351.0,559.0 347.0,560.0 344.8,563.0 345.1,566.0 346.6,569.0 348.0,570.8 351.0,572.9 354.0,573.1 355.5,572.0ZM354.0,632.2 351.0,632.2 348.0,631.5 344.3,629.0 342.0,626.0 340.9,623.0 341.8,620.0 354.0,619.1 363.0,615.7 366.0,615.4 372.0,616.7 375.0,618.3 376.8,620.0 378.1,623.0 377.5,626.0 375.0,628.6 372.0,629.8 354.0,632.2Z" fill="#96dc1e" fill-rule="evenodd" stroke="#1a1a00" stroke-opacity=".75" stroke-width=".6"/>
<path d="M117.0,605.9 114.0,607.5 111.0,607.9 102.0,606.9 96.0,603.7 91.3,599.0 88.8,593.0 86.7,584.0 84.0,580.0 78.6,575.0 77.0,572.0 75.5,563.0 75.7,554.0 77.4,545.0 79.9,539.0 81.8,536.0 87.1,530.0 93.0,525.8 123.0,510.0 126.0,507.1 135.3,494.0 136.8,491.0 135.7,488.0 124.8,479.0 122.7,476.0 123.2,473.0 126.0,471.7 132.0,471.0 144.0,472.1 150.0,470.5 153.0,470.3 156.0,471.7 162.0,480.7 165.0,482.7 168.0,482.6 171.0,480.3 176.7,473.0 179.8,470.0 186.0,466.9 195.0,464.8 210.0,463.5 216.0,463.4 222.0,464.5 225.0,466.0 228.5,470.0 240.0,497.4 241.5,500.0 243.0,502.1 249.0,508.0 252.0,512.4 255.0,515.7 258.0,517.0 264.0,517.0 285.0,509.6 288.7,509.0 291.0,509.4 294.0,512.5 300.0,521.2 302.8,530.0 303.6,542.0 302.6,554.0 301.5,557.0 300.0,559.2 294.8,563.0 282.0,566.6 264.0,581.1 249.0,590.9 246.0,591.9 234.0,593.6 225.0,596.7 222.0,597.1 219.0,596.7 213.0,593.8 209.0,590.0 204.0,581.8 202.8,578.0 201.3,569.0 199.9,566.0 196.4,563.0 189.0,559.0 186.4,557.0 184.3,554.0 183.7,551.0 186.3,545.0 186.9,542.0 186.0,539.0 183.0,537.2 180.0,536.4 177.0,536.7 171.9,539.0 165.0,544.0 162.0,546.7 158.5,551.0 153.3,563.0 144.0,581.0 138.0,590.2 135.0,593.5 132.0,595.8 120.8,602.0 117.0,605.9ZM348.0,554.5 342.0,555.6 339.6,554.0 341.5,548.0 343.9,545.0 348.0,542.7 351.0,542.6 354.0,543.9 355.0,545.0 355.7,548.0 355.0,551.0 351.0,553.8 348.0,554.5ZM366.0,596.4 363.0,596.4 360.0,595.1 357.0,590.6 356.4,587.0 357.1,584.0 359.3,581.0 363.2,578.0 365.3,575.0 365.5,572.0 364.2,566.0 364.3,563.0 366.2,560.0 372.0,556.9 375.0,554.6 379.9,548.0 384.0,545.3 384.0,594.0 375.0,593.8 366.0,596.4ZM333.0,605.7 330.0,604.4 326.6,599.0 325.6,593.0 325.5,578.0 327.0,572.4 333.0,559.6 336.0,556.7 339.0,555.0 340.1,557.0 339.9,560.0 340.7,566.0 346.4,578.0 346.4,584.0 343.7,593.0 336.0,603.3 333.0,605.7ZM219.0,698.4 216.0,699.8 213.0,699.9 210.0,698.2 208.2,695.0 206.6,689.0 206.6,683.0 208.4,677.0 209.9,674.0 213.0,670.4 221.3,665.0 223.6,662.0 224.5,659.0 225.0,647.0 225.7,644.0 228.0,640.0 231.0,638.7 240.3,638.0 243.0,636.8 245.3,635.0 249.0,630.6 252.0,629.2 255.0,629.3 257.8,632.0 261.0,638.3 269.9,644.0 271.0,647.0 270.0,651.6 269.0,653.0 267.0,654.4 264.0,654.8 255.0,653.1 252.0,653.8 238.2,665.0 235.8,668.0 234.5,671.0 233.4,683.0 231.5,686.0 219.0,698.4Z" fill="#dce61e" fill-rule="evenodd" stroke="#1a1a00" stroke-opacity=".75" stroke-width=".6"/>
<path d="M108.0,602.3 105.0,601.8 102.0,600.3 96.0,594.3 93.8,590.0 93.0,587.2 92.1,578.0 90.8,575.0 84.0,569.9 81.7,566.0 80.6,560.0 80.9,554.0 82.4,548.0 87.0,539.1 91.9,533.0 96.0,529.8 114.8,521.0 131.3,512.0 133.8,509.0 136.9,503.0 144.8,497.0 147.4,494.0 150.5,488.0 153.0,485.2 156.0,485.3 162.0,488.4 165.0,489.0 168.0,488.4 171.0,486.3 180.0,475.9 184.0,473.0 192.0,468.7 201.0,466.4 210.0,465.6 216.0,465.8 222.0,467.4 225.0,469.4 228.0,473.1 240.0,501.3 246.6,509.0 253.1,518.0 255.0,519.5 258.0,520.6 261.0,521.0 267.0,520.2 276.0,517.5 282.0,517.5 285.0,518.5 293.9,524.0 296.3,527.0 297.0,530.2 296.4,533.0 293.9,539.0 293.5,542.0 294.4,551.0 293.8,554.0 292.1,557.0 288.2,560.0 282.0,561.6 279.0,563.0 276.0,565.7 265.4,578.0 252.0,585.9 246.0,588.8 243.0,589.7 225.0,591.3 219.0,590.9 216.0,589.8 213.0,587.4 210.4,584.0 207.0,577.6 204.0,565.8 201.9,563.0 193.2,557.0 190.6,554.0 189.7,551.0 191.0,542.0 190.3,539.0 189.0,537.1 186.0,534.6 180.0,532.7 174.9,533.0 171.0,534.4 162.0,541.3 155.7,548.0 151.1,554.0 144.0,569.3 134.5,587.0 132.2,590.0 126.0,594.3 117.0,598.2 111.0,601.6 108.0,602.3ZM336.0,596.3 333.0,596.6 330.0,594.1 328.7,590.0 328.4,584.0 328.6,581.0 330.0,576.0 333.0,571.4 336.0,569.8 339.0,573.0 341.8,578.0 342.8,584.0 341.5,590.0 339.0,594.0 336.0,596.3ZM237.0,656.5 234.0,656.5 231.0,653.0 230.8,650.0 231.5,647.0 234.0,644.5 237.0,643.5 240.0,643.2 244.7,644.0 246.3,647.0 245.4,650.0 243.0,653.3 240.0,655.4 237.0,656.5ZM219.0,689.3 216.0,690.4 213.6,689.0 212.1,686.0 211.8,683.0 212.3,680.0 213.8,677.0 216.0,674.5 219.0,673.3 222.4,674.0 224.4,677.0 224.7,680.0 224.0,683.0 222.3,686.0 219.0,689.3Z" fill="#f0e61e" fill-rule="evenodd" stroke="#1a1a00" stroke-opacity=".75" stroke-width=".6"/>
<path d="M117.0,593.6 111.0,594.5 108.0,594.2 105.0,592.3 101.2,587.0 99.4,575.0 96.9,569.0 94.3,566.0 89.9,563.0 87.1,560.0 86.3,557.0 86.6,551.0 87.5,548.0 90.5,542.0 95.7,536.0 99.0,533.8 115.4,527.0 126.0,519.7 138.2,515.0 141.0,513.1 156.0,497.1 159.0,495.7 165.0,494.6 168.0,493.5 171.5,491.0 180.0,481.9 186.0,477.9 191.0,473.0 195.0,470.2 198.0,469.0 204.0,467.8 213.0,467.7 219.0,468.9 222.0,470.3 225.0,472.8 228.0,477.0 239.2,503.0 246.1,512.0 249.0,517.1 252.0,520.9 255.0,523.0 261.0,524.7 267.0,524.6 276.0,523.3 278.7,524.0 282.3,527.0 283.8,530.0 284.9,545.0 284.5,551.0 283.3,554.0 276.0,560.5 266.5,575.0 264.0,577.5 261.0,579.4 249.0,585.3 240.0,588.1 234.0,588.5 222.0,587.4 219.0,586.4 215.8,584.0 212.1,578.0 207.6,566.0 205.6,563.0 195.2,554.0 193.7,551.0 193.8,542.0 193.2,539.0 191.6,536.0 189.0,533.3 186.0,531.3 180.0,529.1 174.0,528.7 171.0,529.2 165.0,532.4 153.0,545.3 146.9,551.0 144.8,554.0 141.0,563.2 135.0,574.4 131.4,584.0 129.7,587.0 126.0,590.4 123.0,591.9 117.0,593.6ZM336.0,591.1 333.0,590.2 331.9,587.0 331.9,584.0 332.7,581.0 336.0,578.9 338.2,581.0 339.3,584.0 339.0,587.3 336.0,591.1Z" fill="#ffff1e" fill-rule="evenodd" stroke="#1a1a00" stroke-opacity=".75" stroke-width=".6"/>
<path d="M123.0,588.0 120.0,589.1 117.0,589.2 114.0,588.3 112.3,587.0 110.0,584.0 99.2,563.0 93.0,554.0 92.5,551.0 93.1,548.0 94.5,545.0 96.0,542.9 99.0,540.3 120.0,529.6 129.0,522.1 135.0,520.0 144.0,518.1 147.0,516.6 162.3,503.0 171.0,496.6 180.0,487.8 186.0,484.6 189.0,481.3 192.2,476.0 194.8,473.0 198.0,471.0 200.8,470.0 207.0,469.1 213.0,469.6 219.0,471.5 222.0,473.3 225.0,476.2 228.0,481.1 237.5,503.0 243.8,512.0 249.0,521.5 252.0,524.8 258.0,528.4 261.0,529.1 273.0,530.0 276.0,531.9 278.2,536.0 279.9,545.0 279.8,548.0 278.9,551.0 273.0,559.4 267.0,572.0 264.0,576.0 261.0,578.0 252.0,582.2 243.0,585.5 237.0,586.4 228.0,586.1 222.0,584.5 217.5,581.0 212.1,569.0 208.6,563.0 198.8,554.0 196.9,551.0 195.6,539.0 192.0,532.9 186.0,527.4 180.0,523.4 174.0,521.6 168.0,522.3 162.0,526.2 159.0,529.8 153.0,539.6 150.0,543.0 143.9,548.0 141.4,551.0 137.1,560.0 131.7,569.0 127.0,584.0 124.5,587.0 123.0,588.0Z" fill="#ffaa14" fill-rule="evenodd" stroke="#1a1a00" stroke-opacity=".75" stroke-width=".6"/>
<path d="M240.0,584.3 234.0,584.7 228.0,584.2 225.0,583.4 220.8,581.0 218.5,578.0 215.0,569.0 211.5,563.0 201.9,554.0 199.7,551.0 198.8,548.0 197.8,539.0 195.0,533.5 190.2,527.0 189.0,524.0 188.7,521.0 189.6,515.0 189.0,510.8 186.0,509.0 177.0,509.6 174.0,508.5 172.3,506.0 172.8,503.0 177.4,497.0 180.0,494.7 186.0,492.9 189.0,490.5 192.9,479.0 194.7,476.0 197.9,473.0 201.0,471.5 207.0,470.6 213.0,471.4 217.1,473.0 222.0,476.3 225.0,479.9 228.0,485.2 237.0,505.3 243.4,515.0 246.0,521.4 249.0,526.3 255.2,533.0 258.0,534.4 267.0,535.6 270.0,537.1 271.8,539.0 273.3,542.0 273.8,545.0 273.6,548.0 268.2,566.0 265.8,572.0 264.0,574.5 261.0,576.7 249.0,581.9 240.0,584.3ZM123.0,581.1 120.0,583.9 117.0,583.1 114.0,579.7 108.0,569.8 101.9,557.0 100.4,551.0 101.5,548.0 113.3,539.0 123.0,533.3 128.5,527.0 132.0,524.5 138.0,523.3 147.0,524.3 150.5,527.0 151.1,530.0 149.9,536.0 147.0,540.0 139.6,545.0 138.0,546.8 132.8,557.0 127.3,563.0 125.1,569.0 123.0,581.1Z" fill="#ff8c14" fill-rule="evenodd" stroke="#1a1a00" stroke-opacity=".75" stroke-width=".6"/>
<path d="M246.0,581.4 240.0,582.6 234.0,583.1 228.0,582.5 224.2,581.0 220.9,578.0 219.4,575.0 216.4,566.0 214.4,563.0 204.8,554.0 202.3,551.0 201.2,548.0 199.8,539.0 198.0,534.8 193.3,527.0 192.5,524.0 192.5,521.0 194.2,512.0 196.7,506.0 196.6,503.0 193.2,494.0 193.1,485.0 195.0,479.0 196.9,476.0 201.0,473.1 207.0,472.0 212.2,473.0 218.0,476.0 221.4,479.0 225.0,483.9 231.0,494.7 235.7,506.0 241.1,515.0 244.1,524.0 245.6,527.0 252.0,536.5 255.0,539.0 261.4,542.0 264.2,545.0 265.5,548.0 267.2,554.0 267.5,560.0 266.6,566.0 264.6,572.0 261.0,575.4 246.0,581.4ZM205.8,506.0 204.0,504.1 199.7,506.0 204.0,506.9 205.8,506.0ZM141.0,533.4 138.0,533.6 136.9,533.0 136.8,530.0 139.0,530.0 141.0,532.2 141.0,533.4Z" fill="#ff6e14" fill-rule="evenodd" stroke="#1a1a00" stroke-opacity=".75" stroke-width=".6"/>
<path d="M237.0,581.3 231.0,581.3 228.0,580.8 223.4,578.0 221.4,575.0 219.1,566.0 217.6,563.0 204.9,551.0 203.5,548.0 201.0,537.0 195.9,527.0 195.2,521.0 197.3,512.0 198.0,510.9 201.0,509.2 204.0,508.9 207.0,507.4 208.2,506.0 206.8,503.0 201.0,500.6 198.0,497.6 195.9,494.0 195.1,491.0 194.9,485.0 196.6,479.0 199.1,476.0 201.0,474.7 204.0,473.6 210.0,473.9 213.0,475.0 218.4,479.0 221.0,482.0 228.0,492.7 231.0,498.2 235.4,509.0 238.7,515.0 241.9,527.0 250.0,539.0 252.0,540.9 258.2,545.0 260.7,548.0 264.6,557.0 265.3,563.0 264.6,569.0 263.1,572.0 261.0,574.0 255.0,576.1 249.0,579.1 243.0,580.6 237.0,581.3Z" fill="#f01414" fill-rule="evenodd" stroke="#1a1a00" stroke-opacity=".75" stroke-width=".6"/>
<path d="M246.0,578.7 234.0,579.9 228.0,579.0 226.2,578.0 223.5,575.0 222.5,572.0 221.1,563.0 218.6,560.0 210.0,553.6 207.5,551.0 205.8,548.0 202.5,536.0 198.3,527.0 197.5,521.0 198.8,515.0 200.5,512.0 207.7,509.0 210.1,506.0 209.4,503.0 207.0,501.0 201.0,497.7 198.1,494.0 196.6,491.0 196.1,488.0 196.8,482.0 198.2,479.0 201.4,476.0 204.0,475.0 207.0,474.7 210.0,475.3 213.0,476.8 218.4,482.0 224.1,491.0 228.0,496.0 230.0,500.0 236.9,518.0 238.2,527.0 248.7,542.0 256.8,548.0 260.3,554.0 262.6,560.0 263.5,566.0 263.1,569.0 261.4,572.0 255.0,574.6 249.0,577.8 246.0,578.7Z" fill="#c81010" fill-rule="evenodd" stroke="#1a1a00" stroke-opacity=".75" stroke-width=".6"/>
<path d="M240.0,578.1 231.0,578.1 228.0,577.0 225.7,575.0 224.5,572.0 224.6,563.0 224.0,560.0 222.0,558.0 216.0,555.3 213.0,553.3 210.0,550.6 207.1,545.0 204.4,536.0 200.6,527.0 199.8,521.0 201.4,515.0 204.0,512.4 210.9,509.0 212.7,506.0 212.6,503.0 210.0,500.2 204.0,497.6 201.0,495.4 198.1,491.0 197.4,488.0 197.4,485.0 198.1,482.0 201.0,477.8 204.0,476.3 207.0,476.1 210.0,476.8 213.6,479.0 218.1,485.0 222.0,492.8 228.0,499.7 231.0,509.0 233.1,518.0 234.4,527.0 235.7,530.0 241.0,536.0 246.0,544.5 252.0,547.8 255.5,551.0 260.9,563.0 261.6,566.0 261.0,569.6 249.0,576.6 246.0,577.5 240.0,578.1Z" fill="#6a0000" fill-opacity=".10" fill-rule="evenodd" stroke="#300" stroke-opacity=".55" stroke-width=".5"/>
<path d="M216.0,497.2 210.0,497.5 207.0,496.9 204.0,495.9 201.0,493.4 199.4,491.0 198.5,488.0 198.5,485.0 199.4,482.0 201.6,479.0 204.0,477.6 207.0,477.3 211.4,479.0 214.5,482.0 217.2,488.0 217.7,491.0 217.8,494.0 216.6,497.0 216.0,497.2ZM225.0,552.3 222.0,553.2 219.0,553.1 216.0,552.2 213.0,550.3 211.0,548.0 209.3,545.0 203.0,527.0 202.4,524.0 203.1,518.0 205.1,515.0 213.0,511.6 217.0,509.0 217.8,506.0 218.1,500.0 219.0,498.1 222.0,498.5 224.3,500.0 226.4,503.0 227.4,506.0 227.5,515.0 232.4,533.0 234.0,536.7 235.7,539.0 233.2,542.0 231.0,543.6 226.8,551.0 225.0,552.3ZM249.0,575.4 243.0,576.8 237.0,576.9 231.0,576.2 228.0,574.4 226.7,572.0 226.6,566.0 229.1,557.0 231.0,554.5 234.0,552.8 243.0,550.3 246.0,549.9 249.0,550.3 252.0,551.8 255.5,557.0 258.5,566.0 257.6,569.0 249.0,575.4Z" fill="#6a0000" fill-opacity=".10" fill-rule="evenodd" stroke="#300" stroke-opacity=".55" stroke-width=".5"/>
<path d="M213.0,494.3 210.0,495.5 207.0,495.5 204.0,494.4 200.7,491.0 199.6,488.0 199.6,485.0 201.0,481.4 203.9,479.0 207.0,478.6 208.4,479.0 210.0,479.6 213.0,482.3 214.6,485.0 215.4,488.0 215.2,491.0 213.0,494.3ZM222.0,548.1 219.0,549.3 216.0,548.7 213.0,546.4 210.0,541.1 206.3,530.0 205.3,524.0 205.7,521.0 207.0,518.5 210.0,516.7 213.0,516.1 219.0,516.5 222.0,517.9 225.0,520.8 226.8,524.0 228.2,530.0 227.9,536.0 226.0,542.0 222.0,548.1ZM246.0,575.2 240.0,575.7 234.0,575.1 231.0,573.9 229.1,572.0 228.4,569.0 229.5,563.0 231.0,559.7 234.0,556.4 237.0,554.8 243.0,553.3 246.0,553.1 249.0,553.8 252.7,557.0 255.3,563.0 255.6,566.0 254.5,569.0 252.0,572.0 249.0,574.1 246.0,575.2Z" fill="#6a0000" fill-opacity=".10" fill-rule="evenodd" stroke="#300" stroke-opacity=".55" stroke-width=".5"/>
<path d="M213.0,491.3 210.0,493.7 207.0,494.0 204.0,492.9 202.1,491.0 200.7,488.0 200.7,485.0 202.1,482.0 204.0,480.3 207.0,479.9 210.0,481.0 213.2,485.0 213.8,488.0 213.0,491.3ZM222.0,542.5 219.0,544.9 216.0,544.8 213.0,542.2 210.1,536.0 208.5,530.0 208.3,527.0 208.8,524.0 210.0,521.9 213.0,520.2 216.0,520.0 219.9,521.0 222.0,522.3 223.5,524.0 225.0,527.0 225.6,533.0 223.9,539.0 222.0,542.5ZM249.0,572.8 246.0,574.0 240.0,574.5 234.0,573.2 232.0,572.0 230.5,569.0 230.6,566.0 231.4,563.0 233.0,560.0 236.7,557.0 240.0,555.7 246.0,555.3 249.0,556.5 252.2,560.0 253.5,563.0 253.7,566.0 252.8,569.0 249.0,572.8Z" fill="#6a0000" fill-opacity=".10" fill-rule="evenodd" stroke="#300" stroke-opacity=".55" stroke-width=".5"/>
<path d="M210.0,492.0 207.0,492.6 203.5,491.0 201.9,488.0 201.9,485.0 204.0,481.8 207.0,481.2 210.0,482.7 211.7,485.0 212.3,488.0 211.1,491.0 210.0,492.0ZM219.0,540.7 216.0,540.8 214.1,539.0 213.0,537.6 211.3,533.0 210.9,530.0 211.3,527.0 213.0,524.4 216.0,523.4 219.1,524.0 222.0,526.7 223.1,530.0 223.1,533.0 222.4,536.0 219.0,540.7ZM246.0,572.9 243.0,573.4 237.0,572.7 234.0,571.0 232.5,569.0 232.3,566.0 233.1,563.0 235.2,560.0 237.0,558.5 240.0,557.3 243.0,556.9 246.0,557.2 249.0,558.7 250.2,560.0 251.7,563.0 252.1,566.0 251.1,569.0 249.0,571.4 246.0,572.9Z" fill="#6a0000" fill-opacity=".10" fill-rule="evenodd" stroke="#300" stroke-opacity=".55" stroke-width=".5"/>
<path d="M207.0,491.2 204.0,489.5 203.1,488.0 203.2,485.0 204.0,483.8 207.0,482.7 210.3,485.0 210.8,488.0 210.0,489.7 207.0,491.2ZM216.0,536.4 214.1,533.0 214.0,530.0 216.0,527.3 219.0,528.2 220.0,530.0 220.1,533.0 219.0,535.9 216.0,536.4ZM243.0,572.3 240.0,572.1 237.0,571.1 234.6,569.0 233.9,566.0 234.7,563.0 237.0,560.3 240.0,558.7 243.0,558.3 246.0,558.8 249.0,561.0 250.2,563.0 250.7,566.0 249.0,569.7 246.0,571.7 243.0,572.3Z" fill="#6a0000" fill-opacity=".10" fill-rule="evenodd" stroke="#300" stroke-opacity=".55" stroke-width=".5"/>
<path d="M207.0,489.2 205.1,488.0 205.8,485.0 207.0,484.5 207.8,485.0 208.6,488.0 207.0,489.2ZM246.0,570.3 243.0,571.1 240.0,570.8 237.0,569.3 235.5,566.0 236.4,563.0 240.0,560.1 243.0,559.6 246.0,560.4 248.6,563.0 249.3,566.0 247.9,569.0 246.0,570.3Z" fill="#6a0000" fill-opacity=".10" fill-rule="evenodd" stroke="#300" stroke-opacity=".55" stroke-width=".5"/>
<path d="M243.0,569.8 239.3,569.0 237.2,566.0 238.4,563.0 240.0,561.8 243.0,561.2 246.7,563.0 247.6,566.0 246.0,568.9 243.0,569.8Z" fill="#6a0000" fill-opacity=".10" fill-rule="evenodd" stroke="#300" stroke-opacity=".55" stroke-width=".5"/>
<path d="M243.0,567.9 240.0,566.8 239.4,566.0 240.0,564.6 243.0,562.8 245.7,566.0 243.0,567.9Z" fill="#6a0000" fill-opacity=".10" fill-rule="evenodd" stroke="#300" stroke-opacity=".55" stroke-width=".5"/>
<path d="M255.0,492.3 252.0,492.6 249.0,492.0 246.0,490.2 243.0,486.9 240.0,481.6 238.0,473.0 238.3,467.0 240.0,463.3 245.3,458.0 246.2,455.0 244.8,452.0 236.6,446.0 234.9,443.0 235.3,440.0 237.0,438.1 240.0,436.8 252.0,437.6 255.0,436.6 261.0,428.9 264.0,427.1 267.0,426.7 273.0,427.5 276.0,428.6 279.0,430.7 280.9,434.0 281.8,452.0 281.0,455.0 278.7,458.0 270.0,462.3 268.3,464.0 267.0,467.0 265.8,476.0 264.0,482.4 260.6,488.0 258.0,490.7 255.0,492.3ZM336.0,518.7 333.0,520.1 327.0,521.0 324.0,520.6 320.6,518.0 320.0,515.0 321.6,503.0 320.7,494.0 321.1,491.0 324.0,487.4 327.0,487.2 330.0,489.4 339.5,503.0 340.9,509.0 340.7,512.0 339.7,515.0 336.0,518.7ZM180.0,591.3 177.0,590.9 176.0,590.0 175.3,587.0 177.0,583.5 180.0,582.0 183.0,582.0 185.4,584.0 185.2,587.0 183.0,589.9 180.0,591.3ZM168.0,663.1 165.0,663.5 156.0,662.9 147.0,663.7 144.0,662.9 141.0,660.4 139.1,656.0 140.4,644.0 139.3,629.0 139.6,626.0 140.7,623.0 143.1,620.0 147.0,617.0 153.0,614.1 159.0,613.1 168.0,614.0 174.0,612.9 180.0,612.9 183.0,613.9 188.9,617.0 193.1,620.0 195.0,622.4 196.4,626.0 196.8,629.0 196.0,635.0 194.0,638.0 189.0,641.6 186.9,644.0 183.0,650.7 177.0,654.6 171.0,661.4 168.0,663.1Z" fill="#1ef0f0" fill-rule="evenodd" stroke="#001a33" stroke-opacity=".75" stroke-width=".6" stroke-dasharray="1.6 1.2"/>
<path d="M270.0,434.9 269.6,434.0 270.0,433.8 272.0,434.0 270.0,434.9ZM255.0,488.9 252.0,489.5 249.0,488.9 246.0,487.0 243.0,483.3 241.1,479.0 240.3,473.0 240.8,470.0 243.0,466.5 246.0,464.9 252.0,463.9 255.0,464.2 258.0,465.2 261.0,468.0 262.0,470.0 263.1,476.0 261.6,482.0 258.0,486.8 255.0,488.9ZM330.0,512.1 328.6,509.0 330.0,505.0 333.0,507.9 333.3,509.0 333.0,510.0 330.0,512.1ZM171.0,639.7 168.0,640.1 165.0,638.8 158.4,632.0 156.0,630.5 149.5,629.0 147.3,626.0 148.3,623.0 151.9,620.0 156.0,618.7 168.0,619.6 177.0,618.1 180.0,618.2 184.4,620.0 187.7,623.0 189.2,626.0 188.7,629.0 186.0,629.7 180.0,630.0 177.0,631.8 172.8,638.0 171.0,639.7Z" fill="#1e96e6" fill-rule="evenodd" stroke="#001a33" stroke-opacity=".75" stroke-width=".6" stroke-dasharray="1.6 1.2"/>
<path d="M255.0,485.5 252.0,486.4 249.0,485.8 244.9,482.0 243.5,479.0 243.0,476.0 243.5,473.0 246.0,470.0 249.0,469.2 252.0,469.3 255.0,470.1 258.8,473.0 259.9,476.0 259.8,479.0 258.0,482.8 255.0,485.5Z" fill="#1e6ed2" fill-rule="evenodd" stroke="#001a33" stroke-opacity=".75" stroke-width=".6" stroke-dasharray="1.6 1.2"/>
<path d="M252.0,482.7 249.0,481.9 247.0,479.0 247.2,476.0 249.0,474.2 252.0,473.9 255.4,476.0 255.9,479.0 255.0,480.8 252.0,482.7Z" fill="#1e3ce6" fill-rule="evenodd" stroke="#001a33" stroke-opacity=".75" stroke-width=".6" stroke-dasharray="1.6 1.2"/>
</g>
<g clip-path="url(#c3)" fill="none" stroke-linejoin="round" stroke-linecap="round"><path d="M143.4,495.5 142.1,497.8 140.6,500.4 139.0,502.9 137.7,505.2 136.5,507.5 135.6,510.5 134.3,512.6 133.7,515.6 132.7,517.8 132.2,520.2 131.3,523.0 130.1,525.5 129.5,528.7 128.9,531.2 128.7,533.7 128.2,536.2 127.5,539.1 127.7,541.9 128.2,542.1 126.8,544.5 125.6,547.3 124.3,551.8M120.9,561.4 118.8,565.1 112.1,566.1 108.7,565.6 109.7,568.5 110.8,571.6 114.4,573.0 115.6,576.7 117.9,578.4 120.3,580.3 121.4,583.6 122.0,586.4 129.3,588.8 129.8,591.4 125.7,593.6M197.5,513.1 194.9,510.1 192.6,506.9 190.1,504.3 187.7,501.0 185.5,498.4 182.8,495.1 180.4,495.6 177.8,495.8 174.9,495.7 172.5,496.4 170.4,496.3 167.3,496.9 164.7,497.7 162.9,494.8M95.8,483.4 94.0,489.2 90.5,492.8 86.4,496.4 84.0,503.0 84.3,508.3 77.6,511.4M209.5,669.6 214.3,670.7 213.1,672.7 211.4,676.3 212.1,680.7 210.6,683.6M224.3,667.0 229.3,669.4 234.9,669.5M232.2,646.3 233.2,647.4 236.7,649.1 238.2,650.0 239.8,650.3 242.5,650.6 242.3,654.4M241.7,655.0 239.6,658.6 241.6,659.1 243.5,664.2 243.5,665.2M241.9,654.6 245.3,654.4 246.9,654.9 251.7,653.0 252.6,649.8 249.1,646.4 252.9,643.5 251.1,639.6 249.7,635.8M239.1,639.8 239.0,643.3 238.5,645.9 238.6,647.1 238.9,648.2 238.9,649.7M233.6,645.0 236.5,645.3 238.1,646.0M241.1,635.5 242.5,635.4M241.8,659.6 244.3,657.4 245.1,658.8 247.5,657.0 251.1,655.3 253.7,655.8 256.2,654.4 257.5,653.1 259.0,650.1 257.5,648.2 255.0,649.5 252.3,649.5M246.6,654.4 247.8,655.9 247.7,657.1M252.6,643.6 256.1,644.1 258.4,644.2 260.1,645.2 262.3,644.9 266.2,643.4 267.2,643.9 267.7,639.7 265.9,637.6 264.6,635.9 263.3,631.2 261.8,630.6 259.4,631.8 257.4,632.4M263.5,631.6 265.9,630.1 265.7,625.5 266.7,623.2 264.4,620.5 264.4,620.0 263.1,616.2M258.0,627.6 259.6,626.5 261.4,625.5 265.6,625.3M260.3,621.9 264.3,620.8M259.2,629.3 261.0,629.8 262.1,630.5M265.7,637.2 268.2,635.9 270.7,635.0 273.9,634.0 276.1,632.7 277.2,629.4 280.1,627.6 282.9,628.9 287.5,628.2 292.1,626.8 294.4,630.4 293.9,634.1M276.9,629.5 276.6,626.3 272.4,624.2 269.8,621.9 267.1,623.2M257.4,648.3 260.5,645.5M258.4,649.8 261.5,649.7 265.6,645.8 266.9,646.1 267.6,643.8M266.7,646.1 268.6,646.5 266.8,651.9 266.1,652.9 263.2,654.7 259.0,654.6 257.5,653.6M268.3,646.6 272.1,644.9 274.3,643.1 277.0,641.4 282.1,644.0 283.2,643.7M274.0,642.6 279.0,645.7 280.6,648.1 283.4,647.3M272.1,655.8 275.0,656.0 277.9,654.6 279.9,652.7 283.8,652.0M266.2,652.9 269.2,655.8 272.2,656.1 274.0,659.4 273.6,661.5 275.9,663.5 278.6,661.5 282.2,660.4 281.8,659.5 284.5,656.8M271.3,670.2 272.8,666.4 275.6,663.3M273.6,661.2 270.1,662.8 268.0,662.8 268.6,664.6M272.4,666.6 270.2,662.8M258.2,657.9 261.5,657.1 264.2,656.1 264.9,656.5 266.3,660.3 265.5,662.9M258.4,657.8 260.1,660.4 262.9,661.7 266.0,663.5M254.3,658.1 257.7,657.2 259.1,654.5M265.0,656.9 263.7,654.5M266.7,660.6 267.9,662.5M243.0,624.5 243.5,619.3 241.5,613.3 243.1,609.0 243.4,603.2 244.0,599.7 245.5,597.9 247.7,599.0 249.7,600.2 251.6,603.5M245.9,597.9 247.6,597.5 249.5,597.0 250.2,594.9 250.3,592.7 252.0,593.3 254.2,596.8 256.7,600.6 259.8,604.7 262.9,607.3 262.2,610.1 261.1,613.6M309.0,641.8 312.6,639.4 317.1,640.8 319.5,644.4 322.9,646.6 318.5,650.0 315.6,653.2 312.9,656.7 310.1,661.3M302.7,639.9 306.3,638.4 309.0,635.9 312.2,635.3 315.5,633.9 318.6,630.7M312.9,639.5 315.1,637.5 315.9,633.9M314.7,637.7 318.5,638.3 317.1,641.0M317.4,640.8 321.4,639.4 323.0,636.5 326.1,636.7M336.7,629.2 337.9,626.2 339.0,622.4 343.4,618.7 350.2,617.8 354.1,621.7 361.9,622.3 364.4,626.7M322.6,647.0 329.2,648.3 332.6,651.4 341.2,654.0 345.3,654.4M318.6,650.3 322.0,658.4 319.5,663.9 317.5,670.0 314.5,670.8M319.2,663.9 322.8,666.1 319.2,671.5 323.0,674.7M313.5,669.8 316.2,673.9 317.7,678.5M311.3,665.3 313.3,669.3M292.3,687.4 293.9,692.8M257.3,693.7 255.8,697.7 253.7,703.4 253.8,704.5M248.4,684.6 248.7,691.4 247.8,696.2 253.7,703.6M222.5,690.9 224.7,697.2 224.8,700.6 220.1,703.2 214.4,706.0M313.5,676.4 317.1,679.5M310.2,621.5 302.7,620.8 300.4,617.9 301.2,614.4 302.0,612.0 303.3,609.6 304.5,606.8 304.8,604.4 307.3,603.3 309.7,601.7 311.7,600.1 312.3,596.5 308.3,595.1 304.8,593.7 305.9,590.2 306.3,587.2 306.8,584.3 306.5,580.7 309.3,579.6 311.6,577.7 312.9,575.5 313.9,573.8 317.2,571.9 319.9,569.7 322.2,567.2 323.5,564.7 323.7,561.4 326.2,558.8 328.5,555.4 334.4,559.4 336.2,561.8 338.2,565.2 344.7,570.7 346.3,575.4 347.5,579.5 349.1,584.1 350.8,586.2 357.5,585.9 364.1,580.5 369.0,579.1 373.7,578.3 381.5,574.8 382.4,572.4M328.4,555.9 326.3,550.5 325.6,548.2 325.4,546.0 324.5,543.6 325.3,540.1 325.4,537.4 320.3,536.1 320.7,533.5 320.9,530.6 321.4,527.4 322.0,524.6 322.8,521.7 323.1,519.0 321.5,516.8 320.6,513.9 318.8,511.4 317.6,509.2 316.1,506.4 311.1,505.4 305.4,505.5 304.3,503.1 302.4,501.2 305.3,495.6 307.2,490.1 307.0,485.9 307.4,482.3 303.9,480.4 300.9,478.3 305.1,476.6 310.3,474.6 313.1,476.4 318.3,473.4 322.9,476.6 325.6,477.2 331.9,479.8M328.9,554.4 333.2,552.1 337.6,549.1 340.0,543.8 345.7,537.5 345.7,533.6 344.9,530.4 344.4,526.2 344.8,523.0 345.4,519.7 343.2,516.4 340.1,512.7 337.2,509.9 332.1,508.8 329.7,506.4 327.9,504.2 325.9,502.1 323.6,499.3 321.5,497.4 321.0,502.4 316.5,506.3M357.5,585.6 356.6,589.9 356.0,593.4 351.5,594.1 352.0,597.4 352.6,601.6 350.8,604.2 350.4,609.1 350.5,613.5 349.6,617.6M355.7,593.3 361.9,595.5 365.9,602.1 369.1,603.9 369.9,608.9 371.4,613.2M350.5,604.6 343.3,607.0 339.2,608.5 335.2,610.3 331.1,610.4 330.0,614.8 329.7,619.0 324.5,615.7 320.0,612.6 322.0,608.0M329.5,619.2 325.6,621.2 326.3,625.0M328.2,608.4 330.1,606.5 332.9,603.9 335.7,601.3 338.8,599.1 342.3,596.7 341.0,590.5 340.7,587.2 341.1,583.4 342.0,580.4 343.0,576.9 343.5,574.0 344.6,571.2M342.1,597.0 344.5,594.3 346.5,591.5 350.6,586.7M343.2,607.0 345.4,603.8 346.5,599.6 342.7,597.3M351.5,593.4 348.2,594.3 349.6,590.5 350.8,586.1M364.4,580.0 366.9,585.3 369.8,589.8 372.7,589.5 377.8,595.0M336.2,475.4 333.8,472.8 330.5,469.5" stroke="#3a1540" stroke-width="0.95"/><path d="M87.5,483.0 90.7,483.1 94.0,482.7 96.4,483.7 101.7,482.0 104.4,480.4 106.1,478.6 109.4,478.4 113.0,479.4 116.6,479.9 119.7,479.3 122.6,480.1 125.0,479.7 127.6,481.6 129.5,483.5 131.5,484.9 132.9,486.2 134.7,487.7 136.9,488.2 137.7,489.7 141.5,491.1 144.0,492.2 141.5,493.1 139.0,494.1 141.4,495.4 143.7,496.3 145.5,495.5 147.0,493.9 148.9,494.0 150.6,492.9 152.1,491.9 152.7,492.6 155.2,492.4 158.8,493.8 161.0,494.1 163.8,494.5 165.6,495.0 168.2,494.0 169.7,493.9 171.6,494.3 173.5,495.0 174.9,495.1 176.5,494.2 178.7,494.2 180.0,494.7 181.5,493.9 182.0,494.1 183.3,493.7 185.0,492.6 185.6,492.2 187.2,492.2 188.5,492.0 190.4,491.8 190.2,490.8 190.4,489.0 191.7,488.0 192.1,486.1 192.9,485.3 192.7,488.1 193.7,490.2 194.1,489.2 194.5,487.6 195.1,486.6 194.8,484.4 195.8,483.4 195.6,480.8 196.3,478.7 196.8,476.9 197.6,475.5 198.4,473.5 199.9,472.1 200.6,471.9 201.3,470.3 202.9,469.3 203.5,468.7 205.4,467.5 204.0,468.8 203.6,469.9 202.7,470.6 201.2,472.5 200.9,473.6 199.4,474.6 198.9,476.0 199.2,479.1 198.5,480.8 200.3,480.7 201.5,479.9 201.9,479.4 203.8,478.9 204.6,478.5 206.0,479.3 208.0,479.8 208.3,481.5 212.0,484.8 210.8,488.8 210.5,488.6 209.4,489.8 208.5,490.1 207.3,490.5 208.0,492.5 209.3,492.5 210.5,491.9 211.5,492.3 212.4,492.3 213.3,491.7 213.4,492.5 214.7,492.7 216.2,493.7 215.3,494.7 214.8,494.7 213.7,495.9 213.3,496.4 212.5,496.4 212.6,498.4 213.4,499.2 215.4,500.0 216.5,499.9 215.7,501.6 214.5,501.7 214.1,502.7 213.9,503.8 213.9,504.5 212.8,505.9 212.4,506.4 212.9,507.9 211.4,508.1 211.2,508.5 210.9,509.5 210.7,509.8 209.5,509.7 208.7,510.0 208.6,509.8 207.1,509.6 206.7,510.1 206.4,509.9 205.7,510.4 204.6,510.4 203.9,511.0 203.1,511.3 202.5,511.1 201.9,511.9 200.7,511.8 200.3,512.5 200.2,512.2 199.4,512.9 198.0,512.7 197.2,513.4 197.0,513.6 196.4,513.6 195.6,513.6 194.2,513.9 193.3,513.6 193.9,514.3 192.8,515.1 193.4,516.0 192.2,517.5 192.0,518.3 192.3,519.1 192.4,519.5 191.9,519.7 191.7,521.0 191.0,520.9 190.5,522.3 189.2,522.0 189.2,523.0 188.3,522.7 187.7,523.7 187.6,523.9 186.6,524.4 186.0,524.9 185.1,525.5 185.5,526.0 184.6,526.2 184.0,527.5 182.8,527.6 181.3,528.1 180.6,528.0 179.5,529.4 180.2,530.0 179.5,531.0 179.1,531.3 178.9,532.4 178.9,532.8 179.2,534.4 178.4,534.8 178.2,535.6 178.0,535.7 177.2,536.2 177.2,537.3 176.5,538.0 176.4,539.2 176.2,540.2 176.6,540.6 176.6,541.6 177.1,542.1 176.8,543.1 177.3,543.5 178.0,545.0 178.6,545.0 179.3,546.4 182.2,547.1 184.8,546.7 182.8,547.4 181.5,548.6 181.0,549.6 178.5,550.3 176.7,550.7 177.5,551.1 177.2,552.6 177.7,552.7 178.4,553.8 178.2,554.1 178.1,555.0 177.4,555.8 177.7,556.4 176.7,556.9 175.9,558.3 177.8,558.2 180.7,557.1 177.9,558.2 174.1,559.2 172.8,558.3 172.4,557.5 171.3,556.5 171.0,555.7 169.5,554.3 168.4,553.8 167.8,553.3 166.7,551.9 166.0,551.5 163.0,550.1 162.3,548.2 161.4,547.2 159.5,546.7 158.6,545.4 155.9,545.2 152.8,544.9 150.1,546.5 148.5,547.4 148.0,548.3 147.1,549.5 147.3,550.3 146.5,551.7 146.4,553.0 145.5,554.3 145.3,555.9 144.8,557.2 144.2,557.9 144.0,559.0 144.7,561.0 143.9,561.8 141.4,563.0 139.0,563.7 136.8,564.9 134.6,566.9 138.3,568.8 140.6,567.3 144.0,566.0 145.8,568.0 147.8,568.4 149.1,569.6 151.7,568.2 154.2,565.7 156.8,566.0 158.9,566.4 160.5,565.7 163.5,564.7 163.5,565.7 163.2,566.8 163.2,567.8 164.1,568.7 164.2,570.3 164.1,570.6 163.6,572.3 162.4,573.3 162.2,574.2 160.3,577.0 157.8,578.9 157.3,579.9 159.6,580.8 161.8,581.3 163.7,581.2 162.5,583.6 161.2,584.9 159.9,586.8 157.3,588.3 155.5,590.5 155.1,592.6 155.2,594.4 154.5,596.3 153.9,597.9 153.3,600.2 151.6,603.2 149.5,602.3 147.7,601.9 146.5,600.8 144.4,600.1 143.8,599.3 142.7,598.1 141.7,596.8 141.3,595.5 140.2,594.1 139.7,593.2 139.0,591.4 138.8,590.5 137.5,589.2 135.6,588.7 133.7,588.3 130.6,586.4 127.7,585.4 129.7,586.8 131.0,587.6 133.5,588.9 134.9,590.5 136.3,591.7 136.9,593.0 134.2,594.0 131.6,595.3 130.3,599.2 130.6,599.7 130.5,601.3 131.2,602.8 135.1,603.4 133.6,603.7 131.3,604.8 129.4,604.1 127.9,601.9 125.5,601.3 124.5,599.4 122.2,599.0 124.1,596.4 125.9,597.9 128.2,598.4 127.1,597.6 126.4,596.0 125.6,594.4 123.1,592.9 121.4,591.9 119.0,590.4 117.6,589.7 115.4,591.8 113.5,589.9 112.1,588.1 110.3,587.1 108.9,584.6 106.0,585.2 104.0,585.0 101.0,583.7 97.9,583.6 94.9,584.5 92.1,585.8 91.4,583.7 89.4,582.0 87.2,580.8 84.7,578.2 81.8,576.7 77.1,573.1 73.7,574.6M72.7,567.2 73.3,564.7 73.9,561.9 73.6,559.0 73.0,556.6 73.6,554.4 71.7,551.3M150.3,604.5 148.9,607.0 147.8,610.5 146.6,612.3 145.1,614.7 141.8,614.7 141.7,612.4 141.9,611.2 141.7,609.1 140.5,608.1 139.9,606.4 138.7,605.6 137.6,604.4 141.1,603.9 143.8,603.7 145.7,603.7 148.9,603.8 150.6,603.6M142.3,493.8 144.8,493.8 146.4,493.5 147.8,492.9 149.5,491.8 151.6,491.9 153.3,491.0 150.5,490.8 148.8,491.9 146.1,492.4 144.0,492.1 142.9,493.9M120.9,561.3 120.6,559.7 121.1,557.7 121.4,556.4 122.1,554.3 121.2,552.8 121.3,551.1 120.9,550.3 121.4,549.1 121.5,547.5 122.0,548.3 123.1,550.1 124.5,551.8 125.1,553.6 125.8,554.6 127.2,556.5 124.9,557.7 123.9,559.4 120.5,561.2M118.9,560.0 115.1,558.8 112.6,557.8 110.3,557.5 107.7,556.0 110.4,554.6 113.5,555.2 115.9,555.7 116.8,557.1 117.8,559.2 118.8,560.1M119.1,562.1 119.5,564.0 119.6,565.8 118.6,566.7 116.9,570.8 114.2,568.9 111.8,566.3 115.3,563.1 119.8,562.6M112.8,573.3 111.3,572.2 110.2,570.2 108.6,568.4 107.2,566.3 108.9,565.4 110.2,567.0 111.4,569.2 112.3,571.2 112.8,572.9M113.3,572.1 114.0,574.4 115.0,576.4 115.4,577.4 117.0,577.6 116.1,575.4 115.5,574.2 113.1,572.2M166.5,578.9 169.2,579.0 170.9,577.9 173.9,577.7 176.0,578.3 178.6,577.4 179.6,576.9 179.2,575.2 179.6,573.7 179.9,573.6 180.1,571.6 180.6,570.4 184.2,569.3 185.0,568.2 185.3,566.6 185.2,566.7 185.4,565.0 186.3,564.1 186.9,563.1 187.0,563.3 187.4,562.4 187.9,561.7 189.0,560.6 188.9,559.2 190.2,558.6 189.5,558.7 190.3,557.2 190.4,557.2 189.8,556.1 189.2,556.5 188.6,555.0 187.9,554.4 187.6,554.7 186.7,553.3 187.9,553.6 188.3,552.1 187.9,552.3 188.3,551.4 186.0,550.5 184.0,551.1 182.7,551.7 180.5,552.5 180.3,553.2 180.5,553.5 180.1,555.1 180.8,555.0 181.4,556.4 181.0,556.5 181.5,556.9 182.9,558.0 182.2,558.6 180.7,560.3 181.0,561.4 180.2,562.0 179.6,562.5 178.7,564.0 176.7,565.6 175.4,566.9 173.8,566.2 172.9,565.8 172.7,565.5 171.7,564.7 170.2,564.1 167.7,563.2 168.2,564.8 168.4,565.6 168.7,566.8 169.2,567.1 168.7,568.9 168.5,569.8 167.3,571.3 166.7,572.3 167.4,574.0 166.4,575.1 166.7,576.3 166.6,576.4 166.8,578.2 166.6,579.2M181.6,530.3 182.0,529.9 183.0,529.2 184.2,529.2 186.4,528.6 188.2,529.1 190.3,530.0 191.4,531.3 191.7,531.6 192.0,533.3 192.1,533.7 192.5,534.5 192.6,534.7 191.9,534.7 191.6,535.4 190.6,536.3 189.9,536.0 189.9,536.8 189.1,536.9 189.5,537.5 190.1,538.3 188.2,538.9 187.3,539.4 186.2,540.1 184.9,540.0 184.3,541.2 182.2,541.5 179.5,540.9 178.7,539.1 179.1,538.8 179.6,538.6 178.9,537.4 179.2,537.1 179.2,535.9 179.4,535.6 179.7,535.2 180.7,534.2 180.6,533.2 181.4,533.2 181.9,532.0 182.8,531.8 182.8,530.7 181.2,530.9M190.9,526.9 192.7,526.7 194.1,527.3 195.4,527.2 197.2,529.2 197.2,530.0 196.6,531.1 196.4,531.6 197.0,531.3 196.3,532.0 194.9,532.1 194.1,532.8 193.9,533.5 193.8,533.0 192.7,533.8 192.3,533.0 192.2,532.7 192.1,531.4 191.8,531.0 192.1,530.0 190.1,527.9 190.5,527.9 190.5,527.6 191.2,526.9M196.3,551.5 199.8,551.6 203.7,552.9 204.0,552.2 204.3,552.2 205.4,551.1 206.1,551.6 206.2,551.3 206.9,550.1 207.5,550.6 207.8,551.1 207.5,551.3 208.6,551.6 208.6,552.3 208.9,552.1 209.4,552.7 209.3,552.2 210.2,552.9 210.1,553.5 211.1,553.3 211.3,553.9 211.2,553.5 210.5,554.1 211.5,554.0 211.3,554.5 211.2,554.8 211.7,554.7 211.4,555.1 211.7,555.5 211.7,555.3 211.9,555.5 212.5,555.4 212.1,556.0 212.4,556.2 212.5,555.9 212.9,557.1 213.2,556.9 212.6,556.7 212.5,557.2 213.2,557.3 213.1,558.0 212.5,558.0 213.1,558.2 212.7,558.8 212.2,558.8 211.9,559.7 210.5,560.2 208.6,560.2 208.8,559.5 208.0,560.2 207.4,559.8 206.8,559.5 206.5,559.2 206.1,559.4 206.1,558.8 205.6,558.5 205.2,558.0 204.5,558.2 203.1,557.5 201.6,558.1 200.4,558.2 199.9,558.2 199.5,557.7 198.2,556.7 197.6,557.2 197.2,556.3 196.2,556.7 196.8,555.6 196.6,554.8 196.3,554.9 196.3,553.8 195.8,553.8 196.6,552.8 195.6,552.3 196.5,552.2 196.1,552.4 196.3,551.1M191.9,549.3 193.7,549.8 195.9,548.9 196.1,549.8 196.4,550.1 196.1,551.0 195.8,551.5 195.5,552.0 194.8,552.6 195.2,553.1 194.4,553.7 194.0,554.1 194.7,554.9 194.8,555.2 194.3,555.4 194.8,556.1 195.2,556.7 192.7,557.2 192.5,556.9 192.2,556.0 191.8,555.1 192.2,555.1 191.3,555.0 191.7,554.1 191.5,553.1 192.1,552.6 191.4,553.0 191.1,551.9 191.6,551.1 192.1,550.8 191.1,550.3 191.1,550.1M200.9,552.0 200.5,551.3 201.3,550.6 201.7,550.0 202.0,550.0 202.5,549.9 202.9,549.6 206.6,549.2 207.0,550.0 206.8,550.3 206.5,550.2 206.3,550.9 206.5,550.7 205.3,551.8 202.7,552.3 201.6,552.0 200.4,551.5M193.1,539.5 193.2,539.9 193.6,539.2 194.1,538.6 194.9,538.7 195.7,538.0 195.3,537.5 196.2,537.2 197.8,537.5 198.4,537.0 198.2,537.5 198.5,538.1 198.9,539.0 198.3,539.4 197.9,540.3 198.7,540.4 198.0,540.6 196.7,541.0 196.0,541.8 194.1,541.5 192.6,540.3M185.5,547.7 187.7,547.4 189.6,547.0 190.1,547.9 190.4,547.9 190.5,549.1 190.3,549.9 189.8,550.2 190.7,550.1 187.4,551.3 186.7,550.6 187.0,549.6 185.8,548.7 186.2,548.3 185.3,547.8M184.7,543.6 185.2,543.9 187.0,542.9 189.2,542.5 188.8,543.9 189.7,543.9 191.2,544.6 189.9,545.1 187.9,545.3 186.9,546.2 185.9,545.4 184.9,545.0 184.7,544.1M193.5,544.2 195.0,544.4 196.9,545.3 197.5,545.7 196.9,545.3 196.6,545.7 196.9,546.4 193.9,546.8 193.5,546.2 193.3,545.4 192.7,545.1M201.1,537.4 202.4,538.8 203.1,539.3 203.4,539.6 203.6,540.3 202.8,540.7 202.7,541.1 203.1,541.6 201.0,540.5 201.1,540.5 201.1,540.0 201.1,538.7 200.8,539.0 201.1,538.0 201.2,538.0M199.5,543.0 203.0,543.3 203.2,544.3 203.1,544.7 203.1,545.4 202.9,546.1 202.8,546.4 202.9,546.7 199.9,545.9 200.1,546.3 200.3,545.9 200.4,544.5 199.7,544.1 200.0,544.0 199.9,543.9 200.2,543.3M165.1,554.2 167.2,553.9 168.1,553.8 169.9,554.8 170.7,555.3 169.3,557.2 168.2,558.1 168.4,558.8 167.2,560.4 166.3,561.5 165.7,559.6 164.5,559.2 164.8,557.8 164.4,556.7 164.8,556.0 164.6,555.3 164.3,554.4M178.3,543.2 179.6,543.7 179.1,545.1 179.1,545.2 178.9,546.3 177.0,544.8 177.8,544.6 177.5,543.1 178.5,543.1M177.7,603.1 177.7,601.9 176.5,600.3 176.3,599.7 176.0,598.8 176.0,597.1 176.6,595.4 177.2,593.4 177.8,591.6 179.6,589.1 181.0,587.0 182.6,584.7 183.7,583.0 185.8,582.6 187.2,582.2 189.3,582.4 189.0,580.8 189.5,580.5 190.0,578.9 190.2,577.9 192.4,576.1 193.2,574.0 195.4,571.8 197.5,570.4 197.4,569.7 198.2,568.7 199.0,567.8 199.0,566.4 199.1,566.3 198.9,565.8 198.1,565.0 198.1,564.5 198.7,564.6 197.9,564.2 198.2,563.1 198.2,562.8 199.2,561.8 199.2,561.0 200.6,560.8 201.1,559.3 201.6,559.1 201.7,559.7 203.0,559.9 203.4,559.9 204.1,559.7 203.9,559.8 204.2,560.8 204.6,561.0 205.4,561.3 206.6,561.1 207.5,560.4 207.6,560.7 208.6,561.0 209.8,561.0 210.3,561.1 210.2,561.0 211.0,561.4 211.1,561.0 211.8,561.0 212.5,560.8 212.7,561.3 212.4,561.6 213.0,562.2 213.7,561.9 213.9,562.4 213.4,562.4 214.4,562.7 214.6,562.2 214.2,562.6 214.5,562.8 215.1,563.0 215.2,562.5 216.0,563.0 215.8,562.9 216.1,563.1 216.5,562.7 217.3,563.4 217.3,562.8 216.9,563.4 217.9,563.3 217.5,563.4 218.1,563.0 218.5,563.1 218.8,563.5 219.4,562.8 219.3,563.7 219.5,563.5 219.9,563.0 220.0,563.8 219.9,563.6 220.1,563.6 220.1,563.9 220.7,564.7 220.4,564.8 220.5,564.6 220.4,565.2 221.1,565.6 220.3,566.1 220.3,566.3 220.9,566.3 220.9,567.7 221.2,567.6 221.5,568.2 221.8,568.4 221.1,569.2 221.3,568.6 222.3,568.7 222.3,569.7 222.6,569.3 223.0,570.0 223.0,570.0 223.0,569.9 224.0,570.7 223.1,570.0 222.9,571.3 222.5,571.2 222.6,571.9 222.3,572.8 221.7,573.8 220.2,574.7 219.6,575.1 218.6,577.9 218.5,579.8 217.1,582.9 214.5,585.8 212.9,588.7 211.5,589.8 210.5,594.0 209.8,594.1 208.9,594.0 208.8,593.7 207.7,592.7 206.8,593.1 207.0,593.4 208.2,595.0 208.7,595.8 207.5,596.1 206.8,596.0 205.6,595.6 204.3,596.1 203.8,596.1 203.4,596.7 202.2,597.1 200.6,597.1 200.4,596.4 198.5,597.0 198.3,597.0 196.6,596.9 195.2,596.6 194.4,597.3 192.9,597.5 191.6,597.5 190.6,597.2 190.0,597.2 187.4,598.3 185.0,599.8 182.6,601.2 180.8,601.6 178.0,603.0M206.9,610.9 206.0,610.4 206.0,610.6 205.1,609.9 204.5,609.1 203.5,605.7 203.7,604.3 206.0,603.1 206.8,604.3 207.8,605.7 208.3,605.1 209.9,604.8 210.8,605.5 211.5,605.4 212.8,605.3 213.4,606.3 214.3,606.9 213.4,610.2 212.2,610.7 211.4,611.2 210.1,610.8 208.8,611.3 207.9,610.6M236.9,581.8 236.4,580.8 236.0,579.8 235.1,579.2 235.1,578.5 234.0,576.4 233.1,574.8 233.4,574.9 233.0,574.8 233.9,573.9 234.1,573.5 234.1,574.1 234.9,573.9 234.7,572.9 235.2,573.2 235.9,572.8 236.2,572.9 236.0,573.0 236.1,572.6 236.5,571.8 237.3,572.5 237.9,572.5 238.7,573.1 238.2,572.4 239.6,573.0 238.4,573.2 238.9,573.6 238.3,574.5 238.0,574.9 238.4,575.5 237.8,575.7 238.6,578.6 238.7,579.1 238.2,579.8 237.6,580.4 238.1,580.2 236.9,581.8M245.0,567.3 245.4,565.7 245.2,564.9 245.2,564.6 245.4,564.9 244.6,564.0 244.7,564.0 244.8,562.9 244.8,563.4 245.1,562.5 245.3,562.4 245.3,562.5 245.5,561.8 246.3,561.3 245.8,561.7 246.2,561.6 247.0,560.8 246.7,560.3 247.6,560.4 247.3,560.7 247.5,562.1 247.6,562.3 248.1,562.6 247.8,562.8 247.3,563.5 248.0,563.5 247.1,564.2 246.9,563.7 247.3,564.7 247.0,564.2 247.3,564.5 246.5,565.7 246.8,565.8 245.8,566.2 246.0,565.5 246.2,566.8 245.2,566.6 245.9,566.7M266.8,576.1 266.3,576.7 266.1,576.9 265.2,576.6 264.5,577.3 263.6,577.6 262.7,577.6 260.9,575.0 259.4,574.4 259.2,573.0 258.3,571.2 258.0,571.1 257.7,570.3 257.4,569.5 256.9,568.1 256.5,567.0 257.0,566.7 257.0,566.0 256.8,565.6 257.4,564.9 256.9,565.2 257.0,564.0 257.4,563.4 256.4,562.8 256.7,563.2 256.5,562.1 259.5,562.2 258.8,563.5 259.0,563.9 259.2,564.6 260.0,565.0 259.5,565.8 260.0,565.8 259.6,566.8 260.2,567.5 260.6,568.3 261.1,569.2 260.6,569.7 260.7,570.7 261.7,571.8 262.4,573.8 264.1,575.1 264.9,574.9 266.8,575.0 266.9,575.4M255.9,546.1 256.0,546.3 255.6,546.9 255.5,546.7 255.4,547.6 254.5,548.5 254.6,548.3 253.5,548.7 253.6,549.1 252.9,549.7 252.7,550.2 252.2,549.4 251.7,549.3 250.1,548.8 249.2,548.8 249.3,549.1 249.3,547.9 249.1,547.6 249.5,547.8 249.3,547.3 250.0,547.1 250.7,546.5 250.6,546.0 250.7,546.0 250.4,545.5 251.1,544.7 252.8,544.7 254.8,543.3 254.9,544.0 255.3,544.2 255.4,544.4 255.8,545.2 255.5,545.6 256.0,546.4M254.3,519.8 253.6,521.6 252.5,523.7 252.9,525.1 251.5,525.6 250.3,525.6 249.4,526.1 249.4,525.0 248.4,524.8 248.6,524.1 248.6,524.2 248.2,523.3 247.9,522.5 247.8,521.9 247.6,522.0 246.6,521.0 246.7,520.9 246.5,520.0 246.4,519.9 246.5,520.4 247.2,520.2 247.4,520.4 247.6,520.4 249.1,520.4 248.8,521.4 249.7,521.3 250.4,521.7 251.3,521.3 252.1,521.0 253.6,520.4M228.8,505.6 228.1,506.9 227.4,507.0 227.2,506.2 226.5,506.8 227.1,505.0 228.7,505.9 228.6,505.7M238.1,627.4 236.7,626.3 235.4,625.4 234.7,622.5 234.5,620.6 234.9,616.1 235.7,615.3 237.7,614.9 238.6,613.9 238.6,612.1 240.4,611.2 241.2,607.2 241.4,605.1 242.1,602.8 239.8,601.2 240.9,600.1 242.2,599.3 242.4,598.3 243.0,598.0 243.8,597.6 243.7,596.0 244.2,596.0 245.3,594.8 245.9,593.3 246.6,593.0 246.9,592.5 247.5,591.7 247.5,591.0 249.0,591.3 249.3,591.2 250.8,591.3 251.9,592.1 253.1,592.4 253.7,592.4 255.3,591.9 255.3,591.3 256.9,592.0 257.8,591.5 258.4,590.9 259.4,591.7 259.8,591.1 261.8,591.4 262.6,591.3 264.3,592.3 265.2,594.3 264.4,595.2 263.2,595.6 262.5,595.4 261.4,596.3 261.5,596.0 260.0,596.6 259.2,597.4 258.2,597.6 260.5,598.6 262.8,599.9 263.6,600.2 264.6,599.6 266.4,600.2 266.5,598.9 267.1,597.8 267.0,597.1 265.9,594.7 266.2,594.1 266.5,593.5 265.9,591.9 265.1,589.1 265.2,587.6 265.1,586.7 267.1,590.4 267.9,589.7 268.5,588.0 267.2,586.1 268.4,585.7 269.1,585.3 269.2,584.1 269.4,584.0 270.2,583.5 269.9,582.4 270.4,580.6 269.1,579.5 270.4,579.1 270.9,579.2 271.5,577.8 271.9,578.1 272.4,577.6 270.7,574.7 271.4,574.2 271.2,573.4 272.8,572.9 272.9,572.9 273.8,572.3 274.3,571.5 274.6,570.6 275.5,570.5 276.6,569.4 274.8,569.5 272.5,569.3 269.8,568.1 268.6,566.8 266.7,565.4 266.3,565.1 266.3,564.0 266.8,563.8 270.5,563.3 272.1,564.9 274.5,564.8 275.7,565.2 278.8,566.3 281.4,567.7 281.2,569.2 280.7,570.0 281.2,568.9 281.1,568.5 281.6,567.2 278.2,565.7 276.4,564.7 274.5,563.4 271.8,562.7 269.2,561.8 268.7,560.8 268.3,560.5 269.5,559.2 269.8,559.4 270.4,557.9 271.5,558.2 273.1,557.0 273.8,556.9 271.1,557.0 267.3,557.3 266.7,556.3 266.7,555.6 266.7,554.9 266.3,555.2 267.2,554.5 266.6,553.4 265.3,553.1 263.5,552.1 263.4,551.9 262.8,550.5 262.5,550.9 261.8,550.1 261.3,549.3 261.5,548.6 261.2,548.7 261.0,548.4 261.4,547.4 261.1,547.5 260.8,546.8 260.7,546.5 260.2,545.6 259.6,545.6 258.8,545.5 258.0,544.7 257.7,544.4 256.7,544.1 256.0,543.6 256.8,543.2 257.6,543.0 257.3,542.3 257.8,541.3 257.5,541.1 257.9,539.9 258.1,539.3 258.2,538.8 258.6,538.3 259.0,538.3 261.5,537.0 263.6,536.8 264.2,536.8 264.2,537.6 265.3,537.6 265.9,537.7 266.6,539.0 267.3,538.6 266.7,538.8 265.8,538.1 265.5,537.2 265.0,536.8 265.6,536.7 265.2,536.6 264.1,536.0 264.6,535.3 263.9,534.2 264.0,533.7 263.7,533.4 264.1,532.2 263.5,531.8 263.8,531.5 263.4,531.1 263.2,530.1 262.8,529.8 262.1,528.7 261.7,528.8 261.3,528.2 260.2,527.8 259.4,528.1 259.9,527.7 259.4,526.8 259.7,525.8 260.8,524.0 262.6,521.3 262.8,521.4 262.3,520.9 261.1,520.3 260.4,519.5 259.8,519.7 258.9,519.3 258.5,519.4 257.7,518.8 257.0,518.6 256.5,518.1 255.0,518.0 254.3,518.9 254.1,518.1 254.1,517.7 253.1,516.5 253.0,516.0 252.6,515.3 252.0,515.4 251.4,514.3 251.6,513.8 251.3,513.7 250.8,513.1 250.1,512.1 249.3,512.1 249.1,510.4 249.3,510.5 248.4,510.6 248.0,509.5 246.9,509.6 246.7,508.8 245.6,508.8 244.8,508.8 245.1,507.2 244.6,506.8 243.6,505.7 243.9,504.9 243.1,504.3 242.8,504.4 241.6,503.4 240.7,503.1 240.0,503.3 239.0,503.4 238.0,503.4 237.6,503.3 236.9,504.2 236.3,504.3 235.1,503.1 234.6,502.5 234.3,501.3 233.9,501.0 232.4,502.1 232.5,502.0 230.9,501.9 231.1,503.0 229.9,502.3 229.6,500.9 228.8,501.4 228.2,500.7 227.0,499.9 225.9,499.6 225.7,498.7 224.3,498.0 223.9,498.4 223.1,497.8 222.0,496.6 221.1,496.1 220.8,495.7 219.1,495.4 218.0,494.9 219.2,493.2 219.8,491.4 220.7,490.7 222.1,490.0 222.5,489.3 223.8,489.7 225.0,491.8 226.0,493.1 226.6,493.2 227.7,494.1 228.7,490.4 230.7,490.4 229.7,487.5 228.5,485.6 230.1,485.2 231.3,484.9 231.5,484.2 232.8,484.4 234.3,483.9 235.2,482.5 236.8,482.1 237.2,481.4 238.8,481.4 239.7,480.4 240.5,480.7 242.5,480.1 243.1,480.8 244.8,480.1 246.3,480.8 247.0,480.5 248.3,480.9 249.0,481.7 252.1,478.0 250.6,475.9 251.1,474.4 252.0,471.6 254.8,469.4 256.9,467.8 259.0,466.2 261.6,465.2 263.7,463.4 265.5,463.1 265.1,465.6 264.7,468.6 264.1,470.6 263.9,472.8 261.1,475.2 259.7,476.8 258.0,478.3 257.0,479.2 255.4,479.0 253.4,480.2 251.5,481.4 250.3,482.3 249.0,483.1 246.9,484.8 245.5,486.5 246.8,486.7 247.6,487.3 249.1,486.8 249.3,487.1 250.6,486.4 252.9,485.8 253.6,485.2 255.5,484.9 256.1,484.4 256.9,485.0 259.0,484.1 260.1,484.0 261.2,484.7 262.1,485.3 262.5,485.9 264.1,485.9 264.7,486.4 266.8,487.5 267.9,487.6 269.0,487.7 269.5,489.0 270.4,489.4 271.5,489.7 272.0,490.8 272.9,491.8 274.1,491.5 275.8,491.1 277.6,492.1 278.9,491.6 280.2,491.8 282.7,490.9 285.9,490.4 287.6,490.2 286.8,488.5 286.9,487.6 286.0,485.3 286.1,483.8 284.9,483.0 284.8,481.4 286.2,478.1 288.4,476.2 291.1,474.8 293.0,472.8 295.7,472.3 298.1,471.3 301.0,469.9 304.2,469.4 306.6,469.1 308.5,469.5 310.7,468.9 312.2,469.9 314.4,469.8 316.7,471.5 318.6,473.0 321.5,473.0 325.0,473.6 327.6,473.0 330.5,472.1 330.8,468.9 330.8,466.9 334.7,462.9 337.6,461.8 341.3,464.4 343.0,466.6 338.8,469.3 337.0,470.4 335.1,473.3 336.2,475.1 334.8,476.8 332.9,479.1 332.8,479.9 335.8,481.6 337.9,482.0 336.1,484.4 333.3,486.7 335.4,488.0 337.3,488.3 340.0,489.8 342.3,491.0 344.9,487.5 343.6,485.9 342.4,483.8 341.1,481.7 340.5,478.5 343.8,480.4 346.9,481.3 351.0,481.7 351.8,478.2 354.1,475.3 355.2,472.0 358.2,470.0 360.1,467.6M296.1,464.8 292.3,466.3 291.4,468.7 290.0,471.2 287.5,472.3 284.9,474.1 284.4,475.6 282.5,477.5 282.1,479.5 280.2,482.2 284.0,479.3 285.9,477.6 287.5,475.8 289.0,473.6 290.2,471.5 292.1,469.2 294.6,466.2 295.1,465.0M306.1,457.6 304.5,459.7 302.9,460.8 299.2,462.9 296.7,464.2 296.3,461.5 296.0,459.3 295.1,457.9 293.3,456.3 295.1,455.0 297.5,454.3 300.2,454.2 301.6,456.4 302.0,457.7 306.7,457.6M305.1,455.8 305.9,453.3 307.1,450.2 311.5,448.1 313.0,446.0 315.9,443.8 318.4,443.0 322.2,445.0 324.3,447.2 329.7,446.3 328.3,450.6 330.0,450.9 332.0,452.9 334.0,453.7 336.7,457.0 332.8,455.8 329.9,456.0 328.0,454.5 327.0,452.8 325.1,451.5 320.9,452.1 318.2,453.0 317.2,450.0 312.7,452.2 309.3,454.1 304.6,456.0M337.2,456.6 337.1,453.6 340.3,452.3 342.9,451.6 344.8,452.5 341.9,456.6 339.5,457.8 337.1,456.2M331.1,452.0 332.3,448.9 336.5,450.1 335.9,452.5 331.0,452.0M237.4,628.2 240.2,627.2 240.4,626.4 242.2,624.5 242.0,623.8 243.9,626.9 244.9,628.9 246.1,631.2 247.0,632.9 248.8,631.9 249.6,631.1 251.3,629.4 251.1,626.4 250.7,622.6 252.6,620.1 250.3,619.0 249.6,618.3 247.8,614.8 248.9,612.9 249.1,611.2 250.0,608.4 250.0,606.3 250.2,605.3 251.0,604.1 252.9,604.3 253.6,604.8 253.4,606.0 253.0,607.8 252.1,609.9 252.2,611.1 252.9,614.9 254.7,617.2 256.7,617.2 257.8,616.8 258.4,616.3 259.2,614.9 259.7,614.7 260.8,613.5 261.9,614.2 263.6,614.2 265.2,613.7 263.6,614.7 263.2,615.5 262.6,615.5 261.1,616.8 260.1,616.5 258.8,617.6 257.9,620.0 259.5,620.5 261.2,623.4 259.9,623.4 258.6,623.6 257.7,625.5 257.7,628.0 257.2,631.1 256.2,632.9 254.6,632.4 253.8,632.6 252.1,633.6 251.1,635.2 250.4,636.0 248.6,635.8 246.3,635.7 245.3,636.6 242.9,636.3 242.0,633.0 242.6,630.8 242.5,627.7 241.1,628.7 239.7,630.0 239.5,632.2 241.1,634.7 241.4,636.8 240.8,637.9 239.1,639.7 237.1,639.8 236.4,639.8 235.9,640.9 235.3,643.9 234.4,645.6 231.1,646.6 230.8,648.4 228.2,649.9 227.6,650.9 226.1,649.6 225.9,652.2 223.1,652.4 221.2,652.6 219.4,652.5 220.5,654.4 222.4,655.8 223.7,656.5 225.6,658.9 225.4,663.1 224.9,667.4 222.8,666.6 221.3,667.1 219.4,666.4 217.6,665.9 216.5,666.4 214.0,665.2 212.5,665.2 209.5,666.7 209.1,669.9 209.1,673.0 207.5,676.4 206.2,678.5 207.1,680.9 206.7,683.4 210.1,684.4 212.8,685.5 215.2,687.8 218.3,686.5 220.2,686.5 223.2,686.0 226.2,683.2 228.8,681.0 227.7,678.4 229.9,674.7 232.5,672.9 234.7,670.4 235.1,668.1 237.8,667.2 240.9,666.8 243.1,664.9 245.3,663.0 249.2,664.7 251.2,667.7 254.0,668.5 256.5,669.4 258.6,671.2 261.9,672.4 264.1,675.0 264.2,677.2 266.0,674.6 264.5,672.5 264.1,670.3 267.9,670.7 265.7,668.6 263.5,667.2 261.9,667.1 259.6,666.6 257.6,666.0 255.0,663.6 252.9,661.9 252.3,658.7 254.0,657.4 254.6,660.0 256.0,658.5 258.4,661.1 260.9,662.6 263.6,663.0 265.5,663.2 267.7,664.0 268.8,666.5 270.2,668.6 271.3,669.6 273.4,670.7 275.1,672.7 275.7,673.9 278.4,676.1 279.9,676.9 281.2,676.3 280.7,674.0 280.7,671.5 281.6,669.6 278.5,668.6 276.1,666.2 276.5,664.8 279.1,666.0 279.1,663.7 281.2,662.5 282.1,662.0 283.4,662.3 284.0,663.7 284.5,662.4 286.4,659.3 287.4,658.9 286.1,658.9 284.9,657.3 282.9,654.4 283.1,650.8 283.0,647.1 283.2,643.8 284.2,642.6 287.4,642.9 288.4,643.7 291.4,645.3 293.0,642.8 294.4,640.1 291.0,639.9 290.8,638.5 291.8,636.5 293.2,634.9 294.6,634.4 295.1,633.1 295.3,637.0 295.2,639.0 295.0,640.6 298.3,640.2 300.1,639.8 302.5,640.4 305.2,639.7 307.4,639.9 309.2,642.0 308.6,643.3 307.1,644.6 305.3,646.2 303.7,647.4 302.2,648.8 299.8,649.5 297.8,649.5 297.5,648.9 295.4,651.6 294.4,652.7 293.3,654.9 291.4,656.1 289.6,657.4 287.7,657.8 288.7,658.2 287.4,659.7 286.0,662.1 283.6,664.1 285.8,665.3 286.6,667.8 290.3,670.1 292.5,670.3 295.4,669.8 297.6,667.0 299.9,666.6 303.0,666.4 303.7,664.8 305.8,662.6 308.5,660.8 309.4,664.2 312.1,667.2 313.0,671.4 313.1,676.9 311.6,677.9 309.7,679.5 306.3,681.1 304.0,684.3 300.3,685.9 298.3,686.2 295.4,687.0 293.2,687.5 290.5,687.1 288.0,687.3 285.8,687.6 281.9,687.5 279.9,691.8 279.8,697.2 276.4,697.3 274.6,696.7 271.5,696.8 267.1,694.8 263.7,694.0 262.1,693.8 259.6,694.0 256.8,693.5 254.1,692.4 254.2,690.0 255.0,687.8 253.4,683.2 250.4,682.7 248.5,684.0 245.7,684.9 243.7,685.4 241.2,685.1 239.0,685.6 235.9,685.4 235.0,686.6 232.0,687.3 230.9,687.1 227.5,688.7 224.9,690.2 222.8,690.6 219.6,690.4 217.9,689.8 215.7,688.8 214.0,688.2 212.6,692.5 208.8,694.7 206.4,696.0 204.0,699.0 202.0,703.3 202.3,704.9M263.3,677.6 263.3,680.7 262.8,681.7 261.6,681.9 259.7,681.3 257.1,680.5 257.1,679.5 259.9,679.1 263.3,677.5M247.7,672.3 248.4,674.1 249.7,677.6 248.0,678.4 247.1,675.8 245.7,673.6 247.7,671.3M247.1,666.8 247.7,668.8 247.8,671.0 246.5,669.2 246.6,668.2 247.5,666.9M284.3,677.7 284.7,678.8 288.0,677.9 290.3,676.9 288.8,677.1 285.8,677.6 283.3,678.4M302.9,669.8 305.3,669.9 306.9,665.7 304.3,668.0 303.2,669.2M235.5,676.7 234.7,678.3 233.8,678.6 235.1,677.4M218.5,649.1 220.6,648.1 221.5,648.1 223.4,647.9 225.2,647.3 226.2,647.1 227.8,646.9 230.0,646.5 230.1,646.4 228.9,645.5 231.0,641.4 228.1,641.6 227.5,639.7 227.2,637.5 225.4,634.7 223.9,633.4 224.7,632.4 225.4,629.0 224.1,629.4 223.1,628.7 224.2,626.5 222.8,626.4 222.1,626.3 219.8,629.3 219.4,631.2 220.9,634.0 220.6,635.4 222.7,636.7 223.4,638.5 223.2,639.8 221.0,640.5 220.9,641.7 219.9,643.5 219.6,644.4 220.8,644.2 222.8,645.5 222.4,646.2 221.1,646.7 218.3,649.1M212.0,643.5 214.7,643.3 216.8,643.6 218.1,642.5 218.4,639.8 218.9,637.5 218.7,634.7 217.0,634.1 215.1,637.4 213.5,636.6 213.1,639.5 211.2,641.3 212.1,643.8M246.5,633.6 246.3,631.8 243.8,632.9 245.1,633.4 246.1,634.1M253.5,626.4 253.7,623.8 252.2,625.6 253.0,626.8M308.2,621.2 309.8,619.6 311.0,619.0 312.1,618.0 313.4,616.8 317.5,618.3 316.7,620.1 316.0,621.6 315.8,623.3 320.7,624.3 323.3,624.4 326.1,625.2 329.3,626.2 331.6,627.4 334.1,628.5 336.8,630.0 335.8,632.3 335.5,634.6 332.6,635.9 330.4,637.1 326.3,636.5 324.4,633.8 323.8,632.0 319.3,630.5 315.1,630.2 310.3,628.3 309.4,624.7 309.4,621.7 308.6,621.0M322.7,601.6 322.2,604.1 322.7,605.4 322.5,607.9 325.3,610.8 327.5,609.6 328.6,608.0 326.7,604.0 324.4,603.0 322.7,602.3M320.0,527.5 318.0,526.2 316.7,525.4 314.6,524.8 312.5,523.9 309.2,523.6 307.1,522.4 308.7,523.6 311.8,524.3 313.8,524.3 316.8,525.2 318.2,526.6 320.1,527.8M335.6,582.0 332.3,580.2 331.9,577.7 332.8,576.6 333.3,575.1 332.6,573.6 333.0,572.5 334.9,571.9 334.0,573.5 334.0,575.8 333.7,577.4 335.2,579.1 335.9,581.2M265.0,612.6 262.4,610.8 263.9,610.4 264.3,609.0 267.2,610.3 266.0,611.5 265.9,612.7M268.6,607.7 265.4,605.1 267.5,604.9 268.2,608.4M205.9,467.5 206.7,466.0 207.7,465.4M207.8,464.6 210.4,462.4M211.7,461.6 213.2,460.3M216.3,459.9 217.8,458.6 218.8,458.3M221.4,457.6 223.2,457.1 224.6,457.5M229.5,456.7 230.9,457.1 232.0,457.5M235.6,459.0 237.5,459.9 239.1,460.3M249.1,468.6 246.5,466.5M267.1,461.9 268.9,461.1M271.3,459.4 273.3,459.0M276.9,455.9 280.1,455.9M283.9,455.3 285.4,455.0 288.6,455.1M290.8,455.8 293.1,455.7M194.1,478.2 193.0,482.1 192.5,483.4 191.1,481.5 192.5,480.4 194.0,478.3M219.0,487.0 217.3,488.9 215.4,487.4 217.3,486.6 219.0,487.4M163.8,491.5 160.9,490.0 158.6,490.1 162.1,490.5 163.8,491.4M138.7,594.2 140.4,595.7 139.8,598.2 139.0,596.6 138.4,594.0M187.9,558.3 189.8,557.3 190.5,557.8 190.5,558.7 189.7,559.9 189.1,560.2 188.2,559.3 187.8,559.3 188.4,558.3 187.9,558.2M192.6,546.9 194.5,546.9 194.3,547.8 193.4,548.4 193.2,548.6 192.4,548.6 192.2,548.1 192.6,547.1 191.9,547.2M199.2,532.9 200.1,534.2 201.8,534.9 201.5,535.8 201.6,536.8 201.5,536.4 201.1,537.3 199.0,535.8 199.2,534.8 199.1,534.5 199.8,533.5 199.6,533.2 199.2,532.9M199.7,547.2 202.5,547.6 202.3,548.0 201.9,548.7 202.0,549.0 199.5,548.1 200.0,547.4 199.5,547.8 199.3,547.0M175.2,563.2 178.0,562.5 177.5,564.3 177.5,565.4 175.4,564.4 175.0,563.4M161.7,558.7 163.8,559.0 163.9,560.0 164.0,561.9 161.5,560.2 161.6,558.3M161.8,562.2 162.7,562.1 161.5,563.4 161.2,562.7M138.2,563.9 139.5,565.0 138.5,564.9 138.4,563.6M147.1,565.4 149.1,566.6 148.1,566.8 147.6,565.6M165.8,579.2 167.2,579.1 166.5,579.8 165.5,579.9M180.5,559.3 182.4,560.0 181.3,561.3 180.3,560.1 180.7,559.8 180.6,559.0M195.8,542.5 197.8,543.4 196.4,543.6 196.4,542.9 196.4,542.4M195.3,547.7 196.4,547.4 196.7,547.8 196.2,548.7 194.7,547.4M188.7,540.1 191.3,540.0 191.0,540.6 190.5,541.3 189.7,539.8M178.4,540.8 180.0,540.8 179.2,541.5 179.1,540.5M203.9,546.4 204.9,546.5 205.4,547.1 205.1,547.3 204.7,548.2 205.2,547.2 204.6,547.7 204.2,547.2M199.4,535.0 199.7,535.6 198.8,535.5 199.7,535.4 199.4,535.4 199.5,535.1M190.2,549.3 191.9,548.6 191.7,549.7 191.0,548.6M177.4,602.2 177.4,600.7 177.5,599.1M240.6,573.7 240.7,573.0 241.0,573.0 241.3,574.3 240.5,573.7M238.2,576.2 237.8,576.4 238.9,576.2 238.8,576.0 239.4,577.6 238.8,576.6 237.9,575.9M239.9,585.4 240.5,585.8 240.4,586.3 240.6,586.2M221.7,595.5 221.8,595.7 221.5,595.5 222.1,596.0M220.2,618.0 220.2,617.3 220.2,618.7 219.7,617.9M226.8,622.9 226.5,621.3 226.5,622.6 225.8,622.8M223.8,625.4 224.6,625.3 224.1,626.0 224.2,625.9M218.6,629.1 219.9,626.8 218.6,629.0 218.7,629.3M265.3,582.0 265.1,583.6 267.0,583.2 266.0,582.2 265.6,582.2M264.7,564.1 265.3,563.2 265.7,564.8 265.5,563.9M252.5,556.5 252.1,556.5 252.2,556.1 252.0,556.8M257.1,621.4 256.5,620.7 258.7,621.7 258.0,622.7 256.7,621.8M256.3,620.7 257.3,619.7 257.9,620.0M251.3,629.9 251.3,627.0 251.8,628.9M249.9,632.8 250.4,632.5 250.3,632.6 250.3,632.6M252.9,618.7 252.9,617.3 253.3,618.0 252.4,618.0M243.0,635.2 243.8,633.2 244.5,633.8 243.2,635.0M245.4,635.2 246.0,634.2 245.7,635.0M271.0,670.6 270.6,669.8 271.8,670.7M274.3,673.7 275.1,673.9M285.2,667.7 285.0,668.0 285.6,668.6M284.8,666.0 284.8,665.2 285.7,666.1M292.1,671.4 292.2,671.1 292.6,673.0M231.0,680.1 231.9,679.4M237.0,676.1 237.6,677.0M282.2,480.3 281.1,479.2M264.9,485.6 264.2,485.4M286.3,488.2 285.7,488.4 286.2,488.0 286.0,488.2M204.9,467.9 203.5,468.8M174.3,495.2 172.6,494.8 171.6,494.2 173.2,495.5M168.9,495.3 166.8,494.1 164.2,493.5 167.8,493.5 169.0,495.3M171.4,496.0 170.8,494.7 170.4,496.0M212.0,480.2 211.1,481.2 210.1,479.7 211.9,479.9" stroke="#300c34" stroke-width="1.35"/><path d="M196.3,513.8 195.8,514.3 195.0,514.4 193.1,513.9 194.3,514.9 194.0,514.6 193.1,515.5 193.0,516.7 192.0,516.7 192.1,518.5 192.7,517.9 192.5,518.5 192.0,519.1 190.8,520.9 190.9,520.5 191.6,522.0 189.9,522.5 189.7,522.5 188.7,523.3 188.9,523.8 188.7,523.1 187.4,523.3 186.5,523.5 186.3,524.8 185.3,525.3 185.4,525.1 185.7,525.8 184.4,526.3 184.6,526.0 184.5,526.4 183.3,528.0 181.2,528.2 180.8,528.2 179.4,527.7 179.5,529.8 179.3,530.2 180.3,531.1 179.3,530.9 179.4,532.2 178.6,532.9 179.6,533.8 178.3,534.6 178.0,534.2 178.5,535.7 177.8,536.4 177.8,536.0 177.1,536.4 176.4,537.0 177.1,539.0 176.0,538.2 177.4,539.6 176.5,539.8 176.8,541.4 176.6,541.5 176.1,542.9 176.1,542.9 177.5,543.0 178.2,545.2 178.9,545.8 178.9,546.0 181.4,547.1 184.0,546.9 184.2,548.0 183.2,547.9 181.5,548.9 180.6,548.8 178.6,549.4 176.7,551.6 178.0,551.7 177.6,552.0 177.3,552.5 178.8,554.2 178.5,554.7 178.6,555.3 177.9,556.2 177.0,556.9 176.3,557.3 176.6,558.4 177.9,558.5 180.5,557.7 176.7,558.5 175.3,558.9 173.8,559.4 173.5,558.8 172.4,557.8 172.5,557.5 171.3,556.8M179.4,577.9 179.8,577.3 179.4,575.7 179.1,575.2 180.6,573.6 180.6,573.1 181.0,571.2 181.4,571.0 182.8,569.8 184.4,569.5 184.7,568.6 184.1,566.9 185.1,566.9 185.1,566.2 186.2,564.4 186.3,564.0 186.0,563.1 186.9,562.4 187.1,561.5 188.0,561.4 188.7,561.0 188.5,560.9 188.6,559.4 189.5,558.8 189.3,559.0 189.7,557.2 190.1,556.8 190.0,556.7 190.1,557.3 190.0,555.9 189.5,555.8 188.3,554.6 188.2,554.8 188.4,554.9 187.4,553.4 188.0,552.4 187.0,552.7 188.0,551.6 188.3,552.3 188.1,551.0 185.8,550.6 185.0,550.6 183.1,552.3 180.7,552.1 181.1,553.2 180.0,553.6 180.8,554.6 180.0,555.2 180.1,556.0 181.0,556.0 182.0,557.5 181.2,557.6 182.0,558.8 182.4,558.3 181.1,558.9 181.8,559.8 180.8,560.9 180.4,561.8 180.0,561.9 179.5,562.9 178.7,563.8 176.8,565.5 175.6,566.7 174.3,566.5 172.5,565.4M181.3,531.1 182.7,530.1 181.9,530.0 183.3,529.3 184.4,529.0 186.2,529.6 188.3,529.1 190.7,529.9 191.6,532.0 191.2,532.7 192.3,532.7 191.7,533.9 192.8,533.6 192.2,534.8 191.7,534.9 190.6,535.7 191.1,535.2 189.7,536.8 190.0,537.0 188.8,537.7 190.4,538.8 190.0,537.9 189.3,538.5 188.1,540.0 187.3,539.0 185.7,540.6 184.7,540.5 184.2,540.1 183.7,540.4 182.1,541.4 180.3,540.3 179.3,540.8 179.8,539.1 179.0,538.6 179.3,538.2 179.8,537.3 178.4,537.0 178.9,536.3 179.8,536.2 180.2,535.1 180.1,534.5 180.4,534.2 181.2,532.6 181.1,532.5 182.3,531.6 182.7,531.8 182.1,531.3 180.7,529.8M191.4,526.4 193.1,526.8 193.5,527.4 194.3,527.3 195.5,527.8 198.2,530.0 196.8,529.5 197.8,530.8 197.4,530.3 196.9,531.1 196.0,531.5 196.1,531.8 195.2,531.7 195.4,532.9 194.9,532.8 194.4,533.3 193.5,533.7 193.2,533.8 192.0,532.5 192.0,531.8 192.9,531.8 192.6,530.3 192.0,530.9 190.1,528.1 190.3,527.1 190.3,526.7 191.1,526.7M196.8,550.8 197.6,551.4 199.3,551.7 201.2,552.3 202.7,553.2 203.7,552.9 204.7,552.1 204.9,552.3 204.8,551.5 205.6,551.2 206.8,550.2 206.5,549.7 206.8,550.0 207.4,551.7 207.6,550.9 208.1,551.2 208.8,552.1 208.2,551.6 209.3,552.9 209.6,552.3 210.5,551.9 209.3,553.3 210.2,552.3 210.7,554.0 210.8,553.2 210.2,553.0 211.7,553.9 211.8,553.3 210.8,553.5 211.2,553.7 211.1,554.5 211.3,554.1 211.0,555.8 211.4,555.2 211.9,555.4 211.5,555.2 211.7,555.8 213.1,556.0 213.2,555.6 212.0,556.3 212.9,556.5 212.6,556.8 213.2,557.5 212.4,557.0 213.2,556.9 212.1,557.3 212.0,558.3 213.1,557.8 212.0,557.7 212.2,557.9 212.5,559.0 212.2,558.4 211.7,558.7 209.7,559.4 208.8,559.3 208.5,559.5 208.6,559.8 208.5,559.8 207.9,559.6 207.0,559.8 207.0,559.9 206.7,559.3 205.6,559.3 205.4,558.1 204.5,557.9 204.5,558.5 204.1,557.4 203.6,558.1 201.2,557.3 200.1,557.7 200.5,558.4 199.3,557.0 198.2,557.0 197.3,556.1 196.9,557.2 197.0,555.6 196.6,555.3 196.8,555.3 197.0,555.5 195.6,554.3 196.8,554.1 196.0,553.7 196.6,554.1 196.2,553.7 196.3,551.9 196.7,552.0 195.5,552.5 195.5,551.5M191.7,550.5 193.8,549.1 195.9,548.9 196.2,549.6 196.4,549.8 195.6,550.3 196.5,551.6 196.1,551.7 195.2,551.4 195.7,552.4 194.2,552.4 194.2,553.7 195.3,553.4 195.0,554.1 194.9,555.4 194.9,555.7 194.6,554.9 194.9,556.2 194.5,556.3 194.8,556.2 192.2,556.9 192.3,557.0 192.0,557.0 192.5,556.5 192.2,555.6 191.9,555.4 191.5,554.6 191.9,554.0 191.2,552.9 190.9,552.8 191.7,553.0 191.9,551.8 192.3,551.3 191.9,550.5 192.0,551.0 192.4,550.9 192.0,550.4M200.9,551.7 200.5,551.2 202.0,550.3 202.5,550.5 202.0,549.3 202.4,549.2 203.2,550.0 204.1,549.2 205.0,548.8 207.3,549.8 207.1,549.7 207.2,549.7 206.1,550.1 206.5,551.4 205.6,551.2 206.3,550.9 205.1,551.7 204.5,552.6 202.6,552.3 201.3,552.0 201.2,551.2M192.7,540.2 194.1,539.2 193.0,538.7 194.2,539.1 194.0,538.1 195.0,538.5 195.6,538.3 195.0,537.6 197.2,538.3 197.4,538.0 198.9,538.0 198.2,538.1 199.1,538.2 197.9,538.2 197.9,538.5 197.9,539.8 197.8,540.5 198.8,541.1 198.4,541.1 198.0,541.8 197.0,542.1 195.7,541.0 193.2,540.8 193.3,540.6 193.3,540.4M184.8,547.7 187.8,547.2 189.3,547.3 189.7,547.9 190.0,548.8 190.7,547.9 190.5,549.4 189.8,548.9 190.1,549.8 190.6,551.1 187.1,550.5 187.0,550.5 187.0,549.8 185.9,548.8 186.4,548.5 184.8,547.7M183.8,544.1 185.0,543.1 186.5,543.0 189.4,542.8 189.1,544.2 189.3,543.9 191.2,544.1 189.8,545.0 187.4,545.2 186.8,545.9 186.0,544.7 184.7,545.4 184.2,543.8M192.5,544.3 196.0,545.0 197.3,544.1 196.9,545.6 196.8,545.7 197.4,546.1 196.9,545.5 195.7,547.1 194.0,546.9 194.3,546.4 193.3,546.0 193.6,545.2M200.6,538.1 202.1,539.5 204.1,539.3 203.2,539.8 203.2,540.2 203.4,540.3 202.6,541.2 202.4,541.5 201.8,541.3 200.6,539.5 201.6,540.6 201.3,538.8 200.7,539.6 201.8,537.8 200.6,537.9 200.8,538.0M199.4,543.6 200.8,543.5 203.9,544.2 202.5,543.6 203.4,544.4 203.0,544.9 203.3,546.1 202.8,545.8 202.9,546.1 203.7,545.8 200.1,546.7 199.3,546.4 199.9,545.6 200.1,545.6 199.1,544.8 199.0,544.2 199.5,543.2 199.3,543.5 199.9,543.8M177.8,542.9 180.2,544.7 180.2,545.5 178.8,544.8 179.5,545.4 177.1,545.4 177.5,544.1 178.4,543.2 178.1,543.4M181.6,584.9 183.7,583.2 184.7,582.9 185.8,582.1 187.7,582.0 190.0,581.9 189.1,581.8 190.1,580.1 190.4,579.8 190.0,578.9 190.0,577.4 192.6,575.8 194.4,573.5 194.9,571.6 197.6,570.7 196.8,569.1 198.5,569.0 198.9,567.6 198.9,567.0 199.5,567.1 199.2,566.1 199.6,565.5 198.0,566.0 198.0,564.7 198.4,565.2 199.0,564.9 197.5,564.4 198.7,563.2 198.4,563.1 197.6,562.3 198.9,562.4 199.7,561.7 199.1,560.6 199.8,561.1 200.5,559.0 201.5,558.2 202.0,559.3 202.7,558.8 202.3,559.6 203.5,559.7 203.7,560.7 203.4,559.8 204.4,560.4 205.4,560.6 205.4,560.6 206.0,561.4 206.0,560.3 206.7,560.7 208.5,560.5 208.9,561.1 210.2,560.2 210.2,560.6 209.6,561.2 211.1,561.2 210.3,561.9 211.2,561.4 212.1,560.9 212.0,561.0 211.9,560.7 213.1,561.4 213.6,560.9 212.9,561.3 214.1,562.4 214.3,562.0 213.3,562.0 213.7,561.5 214.5,562.0 214.0,562.5 215.5,563.3 215.0,562.0 215.7,562.1 215.6,562.1 216.6,562.9 215.9,562.5 216.4,563.7 216.4,562.5 216.8,563.7 216.8,563.3 217.9,562.8 218.0,563.2 217.2,562.4 218.7,563.1 218.1,563.9 218.6,563.2 218.4,563.6 218.6,563.2 219.6,563.4 218.7,562.9 219.8,563.9 219.0,564.5 219.1,563.3 219.2,563.9 220.2,564.7 219.6,564.5 219.7,564.5 220.1,564.3 219.9,565.0 220.2,565.2 220.5,565.3 221.0,565.6 221.4,566.8 220.5,566.3 221.5,566.4 220.8,567.3 221.8,567.3 221.4,568.7 221.7,567.7 222.2,568.4 222.3,569.1 221.8,569.6 222.4,569.0 222.7,569.4 222.9,569.7 223.2,569.2 223.0,569.1 223.7,570.5 224.0,569.5 223.7,570.3 222.6,570.5 223.5,572.2 221.9,572.7 222.0,572.6 221.5,573.0 220.2,573.6 220.0,575.5 219.5,577.7 218.3,579.7 218.0,581.4 216.9,583.6 215.6,585.0 213.9,585.9 213.6,587.7 210.8,589.4 211.6,591.4 210.7,593.7 210.7,593.7 209.6,592.8 209.5,593.9 208.6,593.9 207.9,593.5 207.7,593.2 206.8,594.4 208.7,594.1 207.6,595.2 206.8,595.5 205.9,595.5 204.9,596.0 204.5,596.7 203.7,596.0 203.8,597.2 202.5,596.2 201.2,596.6 200.3,595.9 199.5,597.1 199.0,597.2 198.2,597.1 197.6,597.4 196.5,596.7 195.4,597.2 194.9,597.3M206.2,602.3 206.5,603.3M210.0,605.6 210.1,605.0 212.2,604.7 212.1,605.0 213.2,605.5M236.9,580.4 236.1,580.6 235.5,579.4 235.7,580.3 235.6,578.8 235.3,577.8 233.1,575.8 232.1,574.9 233.5,574.5 233.9,574.3 234.3,574.4 234.0,573.5 234.1,573.8 235.0,573.3 234.4,574.0 234.3,573.4 234.8,573.5 235.7,572.4 236.2,572.8 235.8,573.3 236.8,572.3 236.9,571.8 236.9,571.6 237.5,573.1 238.0,571.9 238.2,572.8 238.5,572.4 238.7,573.0 238.2,573.7 238.3,573.5 237.9,573.8 239.0,574.2 237.5,574.6 238.6,574.5 237.4,575.1 239.1,578.4 237.9,579.5 238.0,579.7 238.0,580.4 237.1,579.9 237.2,580.4 237.7,581.2M240.4,606.9 241.7,605.0 241.6,603.1 240.5,601.2 240.8,600.3 241.4,601.0 241.6,599.5 242.6,599.2 242.3,598.3 243.7,597.1 243.1,597.5 244.8,595.8 243.8,596.0 244.5,595.4 244.5,594.4 245.1,593.6 246.4,593.4 247.1,593.4 247.1,592.9 246.8,591.8 247.5,591.5 247.9,592.0 249.0,591.8 250.7,592.1 250.5,592.0 252.6,591.2 253.4,592.4 253.6,591.6 253.9,591.8 255.8,591.7 255.4,591.9 256.4,591.8 257.2,591.2 257.2,591.9 258.9,590.8 259.4,591.2 260.1,591.6 261.9,590.9M264.5,594.6 263.6,595.5 262.8,595.2 262.6,595.5 261.6,595.4 262.5,596.7 260.6,596.4 259.7,596.2 259.0,598.0 258.2,597.1M187.3,557.3 190.9,557.9 190.7,558.6 190.5,558.2 189.5,558.7 189.3,559.1 189.1,560.3 187.8,559.5 188.9,559.9 188.6,559.2 188.8,558.5 187.8,558.0M192.0,546.0 193.6,547.1 193.2,547.0 193.2,548.0 194.1,548.7 192.5,548.7 192.3,547.5 192.1,546.9 192.6,547.3M200.1,532.6 200.0,533.4 201.7,535.0 200.7,535.5 201.0,535.7 201.6,536.7 201.0,537.4 200.8,538.1 199.7,536.6 199.7,535.8 199.4,535.5 199.6,534.8 198.8,533.5 199.5,533.5 199.0,533.4M199.3,547.0 202.0,547.9 201.5,547.8 201.9,548.3 201.3,548.0 201.5,548.9 199.9,547.7 199.5,548.0 199.1,546.8 200.3,546.3M175.4,562.7 176.9,562.6 177.0,563.7 178.2,564.2 175.5,564.7 175.7,562.9 174.9,562.7M180.7,559.2 181.5,559.8 181.5,559.9 181.5,561.6 180.8,560.6 180.9,560.7 180.3,558.6M196.0,543.0 197.1,543.7 196.8,543.9 196.9,544.4 197.0,543.8 196.3,543.1M194.5,547.5 196.8,546.6 196.9,547.4 196.3,548.3 196.0,548.2 194.9,548.0M189.2,540.1 191.6,539.8 191.0,541.5 190.0,541.9 190.2,540.8 189.8,540.6M178.3,540.7 180.1,541.0 179.9,542.2 179.4,540.1M204.1,547.4 206.1,547.2 205.0,547.5 205.2,547.6 205.3,548.2 205.3,548.7 204.7,547.6 204.7,547.3 203.5,547.5M199.5,534.7 199.2,534.8 200.9,535.5 199.0,536.6 199.0,535.9 199.7,535.8 199.7,534.4M190.1,548.6 190.7,547.9 190.7,549.0 190.9,549.5M240.3,573.6 240.4,573.7 240.9,572.3 241.3,573.5 240.3,574.4 239.9,573.9M238.2,576.4 238.8,576.1 239.4,575.7 239.7,576.4 238.5,577.3 239.3,577.3 238.1,576.8M239.5,585.5 240.3,586.2 241.1,585.4 241.0,585.9M221.2,594.9 221.8,595.4 221.6,595.5 222.2,595.5" stroke="#300c34" stroke-width="2.0"/></g>
<path d="M72.2,550.8 H384.2 M228.2,406.8 V706.8" stroke="#4a2a4a" stroke-width="1" fill="none"/>
<circle cx="228.2" cy="550.8" r="156" fill="none" stroke="#4a2a4a" stroke-width="1.1"/>
<rect x="217.2" y="390.8" width="176" height="16.5" fill="#fff"/>
<text x="229" y="403" class="n" textLength="153" lengthAdjust="spacing">NOAA/ESRL Physical Sciences Division</text>
<g clip-path="url(#c4)">
<circle cx="548.9" cy="549.9" r="156.9" fill="#fff"/>
<path d="M545.0,641.9 542.0,642.2 539.0,641.5 533.0,638.8 530.0,636.0 520.5,623.0 517.6,620.0 514.1,617.0 509.0,614.8 506.0,614.6 497.0,616.1 491.0,616.3 482.0,614.1 479.0,614.0 476.0,615.7 470.0,624.2 467.0,626.8 464.0,628.1 446.0,628.9 440.0,628.4 435.9,626.0 425.0,613.1 413.0,602.0 410.5,599.0 407.2,593.0 404.2,590.0 401.0,589.1 392.0,589.2 392.0,395.0 407.0,395.0 407.4,398.0 409.2,401.0 416.1,404.0 419.0,406.7 423.1,413.0 428.1,416.0 431.2,419.0 435.3,425.0 440.3,428.0 443.1,431.0 444.1,434.0 444.8,440.0 446.6,443.0 452.0,446.8 453.3,449.0 454.6,455.0 454.8,464.0 453.5,470.0 452.0,472.5 445.9,479.0 444.6,482.0 444.9,485.0 446.0,486.3 449.0,486.7 452.0,484.8 458.0,479.0 461.0,477.5 464.0,477.0 473.0,477.0 476.0,476.2 479.0,473.8 485.0,467.0 488.0,465.4 494.0,464.4 506.0,465.8 509.0,465.4 512.0,463.2 514.0,458.0 515.0,456.7 517.4,455.0 524.0,453.2 527.0,451.8 530.3,449.0 532.2,446.0 533.6,440.0 533.2,437.0 531.5,434.0 524.7,428.0 521.5,422.0 518.8,419.0 508.2,413.0 506.8,410.0 506.5,395.0 589.0,395.0 589.5,401.0 589.0,407.0 587.4,410.0 578.0,420.4 575.0,423.3 572.0,424.3 563.0,422.7 560.0,423.5 557.0,426.4 554.6,431.0 554.7,434.0 557.0,436.4 563.0,439.5 566.0,441.9 572.0,449.1 578.0,454.2 581.0,461.3 584.0,463.6 593.0,463.6 596.0,464.9 597.9,467.0 599.3,470.0 600.3,479.0 600.1,488.0 598.8,491.0 596.0,493.3 590.0,495.5 587.0,498.1 585.2,503.0 584.2,509.0 585.0,515.0 590.5,527.0 591.8,533.0 591.4,551.0 591.8,566.0 589.2,587.0 589.0,596.0 588.4,599.0 587.0,601.4 581.0,608.7 578.0,614.0 574.5,623.0 572.0,632.0 568.2,635.0 554.0,638.2 545.0,641.9ZM704.0,692.7 701.0,691.8 698.0,689.5 694.3,683.0 692.0,680.7 686.7,677.0 682.3,671.0 680.0,668.7 674.7,665.0 670.5,659.0 668.0,656.5 665.0,655.6 659.0,655.9 656.0,655.0 654.5,653.0 653.2,650.0 653.4,647.0 654.9,644.0 659.1,638.0 664.0,632.0 670.7,626.0 673.1,623.0 674.4,620.0 675.7,614.0 675.3,605.0 673.8,599.0 672.5,596.0 666.6,587.0 665.8,584.0 666.5,575.0 665.0,569.0 660.8,560.0 653.8,551.0 652.5,548.0 652.0,542.0 651.8,512.0 650.4,500.0 648.0,488.0 646.9,485.0 644.0,481.6 635.0,477.8 632.3,476.0 630.2,473.0 629.1,467.0 629.5,458.0 629.0,453.1 627.7,449.0 624.4,443.0 624.5,440.0 632.0,436.2 638.0,429.7 641.0,427.5 645.8,425.0 648.0,422.0 650.3,416.0 653.0,413.5 658.9,410.0 662.6,404.0 665.0,401.5 671.3,398.0 672.9,395.0 704.0,395.0 704.0,692.7ZM469.3,515.0 482.5,506.0 485.4,503.0 487.3,500.0 487.8,497.0 486.4,494.0 485.0,492.7 482.0,491.8 479.0,492.1 467.0,496.4 458.0,498.8 455.9,500.0 454.6,503.0 455.0,506.0 457.1,512.0 459.2,515.0 461.0,516.3 464.0,516.9 469.3,515.0ZM626.0,707.0 542.9,707.0 535.4,701.0 532.5,698.0 530.9,695.0 530.0,689.0 530.9,683.0 532.6,680.0 535.4,677.0 545.0,669.5 548.0,665.6 551.7,659.0 554.0,657.2 557.0,656.6 560.0,657.0 563.7,659.0 572.0,668.2 575.0,669.9 581.0,672.0 584.0,674.0 587.0,678.1 590.0,679.6 599.0,681.1 603.1,683.0 608.0,686.9 611.0,688.0 620.0,686.9 623.0,687.7 624.6,689.0 626.0,691.2 627.1,695.0 627.1,707.0 626.0,707.0Z" fill="none" stroke="#8a6a8a" stroke-width="0.8"/>
<path d="M542.0,425.1 536.0,423.7 533.0,421.9 521.0,410.0 518.8,407.0 517.9,404.0 518.8,395.0 578.4,395.0 579.2,404.0 578.4,407.0 575.0,411.4 572.0,413.2 569.0,413.5 563.0,412.8 560.0,413.3 557.0,415.2 548.0,423.7 545.0,424.9 542.0,425.1ZM704.0,686.7 701.0,683.9 698.0,679.4 691.2,674.0 686.0,667.6 677.0,659.7 672.9,653.0 671.0,651.5 665.0,649.5 662.0,648.1 660.9,647.0 660.7,644.0 661.6,641.0 665.0,635.3 668.0,632.4 673.1,629.0 675.8,626.0 677.9,620.0 678.4,617.0 678.1,608.0 674.9,596.0 670.2,587.0 669.6,584.0 670.5,575.0 670.0,572.0 663.3,557.0 657.0,548.0 655.0,542.0 654.5,533.0 654.7,515.0 651.7,494.0 650.8,482.0 650.0,479.1 647.2,476.0 641.9,473.0 638.6,470.0 637.1,467.0 636.6,464.0 637.3,446.0 638.2,443.0 641.0,438.8 644.0,436.8 647.0,436.5 656.0,437.6 659.0,436.3 664.7,428.0 671.0,423.6 677.0,415.7 683.0,411.4 689.0,403.8 696.9,398.0 698.6,395.0 704.0,395.0 704.0,686.7ZM560.0,629.9 557.0,630.1 548.0,628.5 539.0,629.0 536.0,628.2 533.0,626.3 526.2,620.0 522.0,617.0 507.4,611.0 500.0,604.6 497.0,603.3 494.0,603.5 488.0,605.6 476.0,606.1 473.0,607.3 470.0,610.3 467.0,614.6 464.0,617.2 461.0,617.9 452.0,616.2 443.0,617.0 440.0,616.3 437.0,614.3 434.0,611.3 417.5,593.0 411.2,587.0 407.0,584.9 404.0,584.3 392.0,585.1 392.0,401.5 395.0,403.4 399.1,410.0 401.0,411.8 407.0,415.5 410.8,422.0 413.0,424.1 419.2,428.0 422.9,434.0 425.0,436.2 432.0,440.0 437.0,448.1 443.8,452.0 447.1,455.0 448.4,458.0 448.9,461.0 448.6,464.0 446.0,468.4 443.0,470.9 440.0,472.4 437.0,472.9 428.0,472.1 423.0,473.0 420.0,476.0 420.4,479.0 422.4,482.0 428.0,487.8 449.0,505.7 452.0,509.7 455.0,516.0 456.4,518.0 458.0,519.2 461.0,519.9 467.0,519.0 483.8,509.0 491.0,504.0 497.0,501.2 503.3,500.0 509.0,498.2 512.0,496.0 513.3,494.0 514.3,491.0 513.0,488.0 512.0,487.4 508.2,488.0 500.0,494.9 497.0,494.8 494.0,492.7 484.5,482.0 483.6,479.0 484.2,476.0 485.6,473.0 488.0,470.3 491.0,469.1 494.0,468.9 506.0,470.5 512.0,469.9 515.0,468.3 516.3,467.0 521.0,459.9 523.7,458.0 530.0,455.0 536.0,451.0 539.0,449.8 548.0,451.6 557.0,449.9 560.0,450.1 563.0,452.0 566.0,455.0 575.0,466.3 578.0,468.7 581.0,469.9 584.0,470.2 590.0,468.9 593.0,468.9 596.0,471.1 597.3,476.0 597.5,479.0 596.8,485.0 594.7,488.0 587.0,491.4 584.8,494.0 583.6,497.0 582.5,506.0 583.1,515.0 584.0,518.2 589.3,530.0 590.7,539.0 590.7,566.0 586.4,596.0 585.4,599.0 583.5,602.0 572.0,618.3 567.2,623.0 563.0,628.3 560.0,629.9ZM470.0,491.4 464.0,493.6 461.0,493.4 457.5,491.0 457.8,488.0 459.7,485.0 464.0,482.1 467.0,481.8 470.0,482.5 473.6,485.0 473.5,488.0 470.0,491.4ZM482.8,590.0 483.6,587.0 482.5,584.0 479.0,579.4 476.0,577.3 473.0,576.6 469.4,578.0 467.8,581.0 467.2,587.0 468.1,590.0 470.0,592.2 473.0,592.9 476.0,592.7 479.0,592.1 482.8,590.0ZM599.0,707.0 553.8,707.0 552.4,704.0 551.0,702.6 544.7,698.0 541.8,695.0 540.4,692.0 540.0,689.0 540.4,686.0 542.0,682.7 551.2,674.0 557.0,664.1 560.0,663.3 563.0,665.4 569.0,673.7 575.0,678.7 579.0,686.0 581.0,688.2 584.0,689.4 593.0,687.8 596.0,687.9 599.0,690.0 601.4,695.0 601.8,701.0 601.3,707.0 599.0,707.0Z" fill="#32dc1e" fill-rule="evenodd" stroke="#1a1a00" stroke-opacity=".75" stroke-width=".6"/>
<path d="M542.0,416.3 539.0,415.7 536.0,414.1 531.6,410.0 529.3,407.0 528.3,404.0 528.2,401.0 529.3,395.0 553.5,395.0 554.4,401.0 554.4,404.0 553.5,407.0 551.8,410.0 548.0,414.1 545.0,415.8 542.0,416.3ZM563.0,617.4 557.0,617.3 551.0,615.9 548.0,616.3 542.0,618.4 539.0,618.8 536.0,618.6 524.0,613.1 512.0,608.6 507.7,605.0 500.6,593.0 498.1,590.0 488.0,583.3 479.7,575.0 473.0,572.7 470.0,572.7 467.0,573.9 466.1,575.0 464.5,578.0 459.0,593.0 457.0,602.0 454.1,605.0 449.0,606.3 443.0,606.5 440.0,605.4 434.0,599.9 426.0,590.0 413.0,582.1 409.8,581.0 404.0,580.6 392.0,582.4 392.0,472.8 401.0,472.3 404.0,472.8 407.0,474.2 414.2,482.0 419.0,485.3 425.0,490.6 433.6,500.0 440.0,508.3 446.0,513.5 447.3,515.0 448.4,521.0 452.0,524.1 458.0,523.7 467.0,521.7 470.0,520.4 491.0,507.8 497.0,505.2 506.0,502.5 512.0,499.3 515.0,495.8 516.9,491.0 517.2,488.0 516.4,485.0 515.0,483.3 512.0,482.8 506.0,484.4 500.0,487.5 497.0,486.7 493.6,482.0 492.9,479.0 494.0,476.4 497.0,475.2 515.0,474.0 518.0,472.5 524.0,463.4 527.0,461.2 533.0,458.7 542.0,457.3 557.0,457.7 560.0,458.7 563.0,460.9 571.6,470.0 575.0,472.5 581.0,474.9 590.0,474.7 592.7,476.0 593.5,479.0 592.7,482.0 590.0,484.2 584.0,487.3 582.0,491.0 581.0,497.0 580.8,509.0 581.6,515.0 583.6,521.0 587.6,530.0 589.4,539.0 589.8,563.0 588.5,575.0 585.1,587.0 583.6,596.0 582.6,599.0 580.8,602.0 572.0,613.2 569.0,615.4 563.0,617.4ZM689.0,608.6 686.0,610.5 683.0,610.2 680.0,604.0 673.9,587.0 673.6,584.0 674.7,575.0 673.4,569.0 666.6,554.0 659.9,545.0 658.4,542.0 657.4,536.0 657.9,518.0 655.0,503.0 654.2,494.0 654.9,488.0 656.0,485.3 659.0,483.5 662.0,483.9 672.9,491.0 686.0,497.5 692.0,498.8 704.0,498.9 704.0,607.2 695.0,606.6 692.0,607.2 689.0,608.6Z" fill="#96dc1e" fill-rule="evenodd" stroke="#1a1a00" stroke-opacity=".75" stroke-width=".6"/>
<path d="M542.0,611.6 539.0,612.7 536.0,613.0 533.0,612.6 515.0,605.5 512.0,603.1 509.3,599.0 506.0,588.0 503.0,584.8 494.0,581.8 491.0,580.3 482.0,572.4 473.0,569.8 467.0,569.5 464.0,571.9 458.0,584.5 452.0,590.7 449.0,592.9 446.0,593.9 443.0,593.4 440.0,591.9 433.7,587.0 428.6,584.0 416.0,577.9 413.0,576.9 407.0,576.5 392.0,579.8 392.0,498.0 398.0,500.5 401.0,500.4 404.0,498.1 410.0,489.4 413.0,488.3 416.0,488.6 419.0,490.0 425.0,495.6 430.3,503.0 440.0,522.6 443.0,526.4 446.0,528.0 449.0,528.6 455.0,528.3 470.0,523.4 485.0,515.1 494.3,509.0 509.0,503.4 512.0,501.6 515.0,498.7 517.9,494.0 521.6,479.0 524.9,470.0 527.0,466.6 530.0,464.4 539.0,461.6 548.0,461.0 554.0,461.6 557.0,462.7 560.0,464.5 569.0,473.9 576.3,479.0 578.7,482.0 578.7,494.0 579.8,512.0 581.1,518.0 587.0,533.0 588.3,539.0 588.9,557.0 588.3,569.0 586.5,578.0 584.0,584.4 581.1,590.0 579.7,599.0 575.8,605.0 572.0,609.0 569.0,610.4 566.0,610.3 563.7,608.0 563.0,605.0 563.5,596.0 563.0,594.6 560.0,593.4 555.8,596.0 550.1,605.0 548.0,607.4 542.0,611.6ZM689.0,602.2 686.0,602.3 683.0,600.3 678.7,590.0 677.7,584.0 678.4,575.0 678.0,569.0 673.7,551.0 671.4,548.0 665.0,543.3 662.3,539.0 661.8,536.0 663.2,527.0 663.1,524.0 661.6,518.0 658.5,509.0 657.0,500.0 657.6,494.0 659.0,491.5 662.0,491.0 671.0,494.2 676.1,497.0 686.0,504.6 689.0,505.7 695.0,506.3 704.0,506.0 704.0,601.7 695.0,601.4 689.0,602.2Z" fill="#dce61e" fill-rule="evenodd" stroke="#1a1a00" stroke-opacity=".75" stroke-width=".6"/>
<path d="M539.0,608.9 536.0,609.5 533.0,609.3 527.0,607.3 518.0,602.4 515.1,599.0 514.3,596.0 515.0,592.2 516.7,590.0 521.0,586.5 530.0,575.0 529.3,572.0 527.4,569.0 524.0,565.7 521.0,565.6 515.0,570.2 503.0,577.3 500.0,578.1 497.0,577.9 494.0,576.8 491.4,575.0 488.0,570.3 485.0,568.5 476.0,567.7 467.0,565.2 464.0,566.2 461.0,571.7 458.5,578.0 456.6,581.0 455.0,582.8 452.0,584.8 449.0,585.7 446.0,585.7 443.0,585.0 427.8,578.0 419.0,573.1 413.0,571.5 410.0,571.4 404.0,572.5 398.2,575.0 392.0,576.8 392.0,508.9 398.0,510.8 401.0,510.7 404.0,508.7 410.1,497.0 413.0,494.1 416.0,493.4 419.0,494.5 422.0,497.1 424.2,500.0 435.2,524.0 437.0,527.1 440.0,529.9 443.0,531.0 449.0,531.8 458.0,530.8 473.0,526.0 488.0,517.1 493.9,512.0 497.0,510.1 509.0,505.3 512.8,503.0 515.0,501.1 518.1,497.0 527.3,473.0 529.0,470.0 532.6,467.0 539.0,464.6 545.0,463.7 551.0,464.1 554.0,464.9 557.0,466.5 560.8,470.0 566.0,476.3 572.1,482.0 574.2,485.0 575.0,487.2 576.8,497.0 579.1,515.0 585.5,533.0 587.1,539.0 588.1,551.0 587.5,566.0 586.6,572.0 585.0,578.0 584.0,580.5 581.0,584.8 575.0,588.9 572.0,589.5 563.0,589.5 560.0,589.9 557.0,591.2 554.0,593.0 545.3,605.0 542.0,607.6 539.0,608.9ZM704.0,596.0 689.0,595.6 686.0,594.0 683.0,589.3 681.6,584.0 681.4,575.0 681.9,569.0 683.5,560.0 684.7,542.0 684.3,539.0 682.9,536.0 676.5,530.0 670.1,521.0 665.0,515.5 662.0,510.7 659.8,503.0 660.0,500.0 662.0,496.5 665.0,495.9 668.0,496.4 674.0,499.4 677.6,503.0 681.6,509.0 683.0,510.4 686.0,511.5 704.0,511.6 704.0,596.0ZM572.0,604.4 569.0,604.2 567.9,602.0 567.9,599.0 569.0,596.4 572.0,593.6 575.0,594.4 575.8,596.0 576.0,599.0 574.5,602.0 572.0,604.4Z" fill="#f0e61e" fill-rule="evenodd" stroke="#1a1a00" stroke-opacity=".75" stroke-width=".6"/>
<path d="M539.0,605.9 536.0,606.6 530.0,605.6 523.9,602.0 521.4,599.0 521.1,596.0 522.2,593.0 528.4,584.0 533.0,579.0 534.3,575.0 533.0,571.0 529.3,566.0 524.0,561.1 521.0,560.0 518.0,560.5 512.8,566.0 509.0,568.3 503.0,570.6 500.0,570.9 497.1,569.0 494.8,560.0 494.0,558.6 491.0,556.6 488.0,557.6 482.8,563.0 479.0,564.6 476.0,564.7 473.0,563.8 467.0,559.4 464.0,558.6 461.0,563.5 458.0,573.0 455.5,578.0 452.0,580.9 449.0,581.6 446.0,581.2 443.0,579.9 422.0,566.9 416.0,565.8 407.0,566.2 401.0,565.4 398.0,563.0 392.0,556.1 392.0,520.2 401.0,521.8 404.0,520.9 407.0,518.5 409.5,515.0 411.9,503.0 413.0,500.8 416.0,498.8 419.0,499.9 421.3,503.0 424.6,515.0 429.8,524.0 434.0,534.1 437.0,535.3 467.0,534.0 473.0,533.0 476.0,531.7 482.0,525.8 491.0,520.2 494.4,515.0 497.8,512.0 509.0,507.0 515.1,503.0 518.0,499.6 521.0,494.1 528.5,476.0 530.1,473.0 532.9,470.0 539.0,467.1 545.0,465.9 551.0,466.5 554.0,467.7 557.2,470.0 563.0,477.3 570.1,485.0 573.3,491.0 575.5,500.0 577.9,515.0 584.1,533.0 586.5,542.0 587.3,551.0 586.8,563.0 584.7,575.0 583.5,578.0 581.0,581.8 578.0,584.0 575.0,585.3 560.0,588.0 554.2,590.0 550.5,593.0 544.3,602.0 542.0,604.2 539.0,605.9ZM671.0,512.5 668.0,511.7 665.0,508.9 663.8,506.0 663.5,503.0 665.0,500.6 668.0,500.1 671.0,501.6 672.6,503.0 674.0,505.5 674.4,509.0 674.0,510.3 671.0,512.5ZM698.0,590.1 692.0,589.6 689.0,588.3 685.6,584.0 684.1,578.0 684.4,572.0 685.3,569.0 690.2,560.0 690.4,557.0 689.5,551.0 689.7,542.0 689.2,536.0 685.2,527.0 684.8,524.0 686.5,521.0 692.0,519.2 698.0,519.6 704.0,521.2 704.0,589.7 698.0,590.1Z" fill="#ffff1e" fill-rule="evenodd" stroke="#1a1a00" stroke-opacity=".75" stroke-width=".6"/>
<path d="M539.0,602.9 536.0,603.9 533.0,603.7 530.0,602.6 526.2,599.0 525.6,596.0 527.9,590.0 536.0,579.9 536.8,578.0 537.0,575.0 536.0,571.5 529.7,563.0 524.0,557.9 517.7,554.0 512.0,546.7 507.4,542.0 505.3,539.0 503.0,529.1 500.0,523.9 497.6,521.0 497.0,518.0 498.2,515.0 500.0,513.4 501.9,512.0 512.0,507.2 515.0,505.0 518.0,501.8 521.0,497.0 530.0,477.2 533.0,472.8 536.0,470.5 539.0,469.1 545.0,467.8 548.0,467.9 551.0,468.5 553.9,470.0 557.0,472.8 563.0,481.2 569.0,488.1 572.0,493.9 573.8,500.0 576.7,515.0 585.3,542.0 586.2,548.0 586.3,557.0 584.2,572.0 583.2,575.0 581.0,579.2 578.0,581.8 575.0,583.2 556.9,587.0 551.0,589.5 547.3,593.0 542.0,600.6 539.0,602.9ZM416.0,560.4 410.0,561.3 407.0,561.2 403.2,560.0 399.3,557.0 397.0,554.0 395.5,551.0 395.1,548.0 395.7,545.0 397.2,542.0 409.5,527.0 413.0,523.9 416.0,522.3 419.0,522.2 422.3,524.0 424.4,527.0 425.2,530.0 424.8,551.0 424.3,554.0 422.6,557.0 419.0,559.4 416.0,560.4ZM704.0,584.7 698.0,585.5 692.0,584.8 689.0,582.5 688.0,581.0 687.0,578.0 686.8,575.0 687.4,572.0 689.0,568.8 692.0,565.9 696.3,563.0 697.5,560.0 694.5,551.0 694.0,548.0 694.1,542.0 695.0,535.5 696.2,533.0 698.0,531.3 704.0,530.2 704.0,584.7ZM452.0,577.1 449.0,577.9 446.0,577.0 443.1,575.0 437.8,569.0 436.1,566.0 435.9,563.0 441.6,554.0 442.5,551.0 442.5,542.0 443.0,541.0 444.6,539.0 446.0,538.4 452.0,537.4 455.0,537.7 458.8,539.0 460.9,542.0 461.5,545.0 460.6,551.0 455.7,572.0 454.1,575.0 452.0,577.1ZM476.0,560.6 473.0,558.5 472.0,557.0 471.1,554.0 471.1,551.0 472.0,548.0 473.0,546.5 476.0,544.5 479.0,544.6 482.0,546.9 482.7,548.0 483.3,551.0 482.7,554.0 481.3,557.0 479.0,559.9 476.0,560.6Z" fill="#ffaa14" fill-rule="evenodd" stroke="#1a1a00" stroke-opacity=".75" stroke-width=".6"/>
<path d="M539.0,599.5 536.0,600.8 533.0,600.4 530.8,599.0 529.5,596.0 530.0,593.0 531.5,590.0 536.6,584.0 538.5,581.0 539.2,578.0 539.1,575.0 538.2,572.0 536.0,567.8 533.0,563.9 527.0,557.5 519.1,551.0 510.2,539.0 500.9,518.0 501.9,515.0 515.0,506.9 518.7,503.0 522.4,497.0 529.3,482.0 533.0,475.6 536.0,472.7 539.0,471.0 545.0,469.5 548.0,469.6 551.0,470.5 554.7,473.0 560.9,482.0 568.1,491.0 569.7,494.0 572.0,500.0 576.4,518.0 584.2,542.0 585.2,548.0 585.3,557.0 582.8,572.0 581.0,576.4 578.0,579.8 572.0,582.5 554.0,586.3 548.0,588.6 546.1,590.0 542.0,596.2 539.0,599.5ZM416.0,554.8 413.0,556.2 410.0,556.8 407.0,556.5 404.0,555.2 402.6,554.0 400.9,551.0 400.9,548.0 404.0,543.0 413.0,533.4 416.0,532.2 419.0,535.1 420.3,545.0 419.3,551.0 416.0,554.8ZM704.0,555.4 701.0,552.6 700.0,551.0 698.9,548.0 698.5,545.0 698.8,542.0 699.9,539.0 701.0,537.5 704.0,535.7 704.0,555.4ZM449.0,573.1 446.0,571.4 444.3,569.0 443.1,566.0 443.1,563.0 446.5,554.0 447.7,545.0 449.0,542.6 452.0,541.6 455.0,543.4 455.8,545.0 455.9,551.0 453.1,569.0 452.0,571.9 449.0,573.1ZM698.0,581.3 695.0,581.4 692.0,580.1 690.5,578.0 690.0,575.0 691.0,572.0 692.0,570.8 695.0,569.0 698.0,568.3 704.0,568.4 704.0,579.6 698.0,581.3Z" fill="#ff8c14" fill-rule="evenodd" stroke="#1a1a00" stroke-opacity=".75" stroke-width=".6"/>
<path d="M557.0,584.3 545.0,586.2 542.0,585.8 540.8,575.0 538.7,569.0 536.0,564.7 532.0,560.0 521.0,549.6 517.2,545.0 510.3,533.0 505.0,521.0 504.4,518.0 505.7,515.0 515.0,508.7 520.4,503.0 531.0,482.0 534.9,476.0 539.0,472.8 545.0,471.2 548.0,471.3 551.0,472.4 554.0,474.8 560.0,484.6 566.0,492.0 568.9,497.0 572.0,506.1 574.2,515.0 584.2,548.0 584.5,554.0 584.0,559.2 581.3,572.0 580.0,575.0 577.7,578.0 572.1,581.0 566.0,582.7 557.0,584.3ZM539.0,593.1 536.0,595.6 535.1,593.0 536.0,591.0 539.0,589.2 539.5,590.0 539.0,593.1Z" fill="#ff6e14" fill-rule="evenodd" stroke="#1a1a00" stroke-opacity=".75" stroke-width=".6"/>
<path d="M566.0,581.5 557.0,583.1 551.0,583.5 548.0,583.2 545.0,581.6 538.9,566.0 534.5,560.0 522.4,548.0 518.0,542.4 513.1,533.0 508.0,521.0 507.8,518.0 509.5,515.0 518.0,508.1 521.9,503.0 530.0,486.7 534.5,479.0 537.2,476.0 542.0,473.4 545.0,472.8 548.0,473.0 551.0,474.5 552.8,476.0 554.9,479.0 559.7,488.0 566.5,497.0 569.1,503.0 582.8,548.0 583.2,551.0 582.8,557.0 580.5,569.0 578.2,575.0 575.0,578.1 566.0,581.5Z" fill="#f01414" fill-rule="evenodd" stroke="#1a1a00" stroke-opacity=".75" stroke-width=".6"/>
<path d="M563.0,581.1 557.0,581.9 551.0,581.8 548.0,580.9 545.3,578.0 540.7,566.0 537.2,560.0 531.8,554.0 524.0,546.6 520.2,542.0 517.1,536.0 511.1,521.0 511.2,518.0 513.1,515.0 518.0,510.4 521.5,506.0 525.0,500.0 530.0,489.6 536.0,479.5 540.2,476.0 545.0,474.6 548.0,474.9 551.0,476.7 552.8,479.0 557.0,488.5 563.0,495.9 565.5,500.0 575.0,526.3 576.9,536.0 581.3,548.0 581.7,551.0 581.3,557.0 577.8,572.0 576.1,575.0 572.3,578.0 563.0,581.1Z" fill="#c81010" fill-rule="evenodd" stroke="#1a1a00" stroke-opacity=".75" stroke-width=".6"/>
<path d="M569.0,578.1 563.0,579.9 557.0,580.7 551.0,580.2 548.0,578.6 545.0,573.7 541.4,563.0 539.0,558.0 530.0,548.5 524.0,543.0 521.3,539.0 514.6,521.0 514.8,518.0 516.4,515.0 524.0,504.6 533.0,487.1 536.0,482.3 538.9,479.0 542.0,477.1 545.0,476.4 548.0,477.0 550.5,479.0 552.0,482.0 555.0,491.0 560.3,497.0 563.0,501.0 566.9,512.0 572.4,524.0 573.8,530.0 574.9,539.0 575.7,542.0 578.6,548.0 579.2,551.0 579.1,554.0 576.7,563.0 576.4,569.0 575.7,572.0 573.8,575.0 569.0,578.1Z" fill="#6a0000" fill-opacity=".10" fill-rule="evenodd" stroke="#300" stroke-opacity=".55" stroke-width=".5"/>
<path d="M533.0,542.7 530.0,542.1 527.0,540.4 524.0,536.5 522.5,530.0 518.6,521.0 518.5,518.0 519.4,515.0 524.8,506.0 533.0,490.2 536.0,485.6 539.0,481.8 542.0,479.5 545.0,478.7 548.0,480.0 549.3,482.0 551.1,491.0 552.7,494.0 558.2,500.0 560.1,503.0 561.4,509.0 560.9,515.0 558.7,521.0 557.0,523.0 551.0,533.7 548.8,536.0 545.0,537.9 537.5,539.0 534.6,542.0 533.0,542.7ZM569.0,536.4 566.0,536.2 564.0,533.0 562.9,530.0 562.2,524.0 563.0,521.7 563.9,521.0 566.0,520.6 569.0,523.4 570.2,527.0 570.7,530.0 570.3,533.0 569.0,536.4ZM563.0,578.8 557.0,579.6 554.0,579.4 551.0,578.6 548.0,576.2 545.7,572.0 543.3,563.0 543.2,557.0 544.0,554.0 545.0,552.8 554.0,550.2 557.0,549.7 560.0,550.1 563.0,551.9 570.3,560.0 573.5,566.0 573.9,569.0 573.3,572.0 571.3,575.0 566.0,577.9 563.0,578.8Z" fill="#6a0000" fill-opacity=".10" fill-rule="evenodd" stroke="#300" stroke-opacity=".55" stroke-width=".5"/>
<path d="M542.0,531.0 533.0,531.2 530.0,530.1 527.0,527.2 524.0,523.2 522.7,521.0 521.9,518.0 522.2,515.0 523.4,512.0 533.0,493.3 539.0,485.8 542.0,483.5 545.0,483.4 546.0,485.0 547.1,491.0 548.4,494.0 555.0,503.0 555.9,506.0 556.0,509.0 553.4,518.0 550.5,524.0 548.0,527.5 545.0,529.8 542.0,531.0ZM560.0,578.2 554.0,578.1 551.0,576.9 548.9,575.0 547.1,572.0 545.3,566.0 545.2,563.0 545.9,560.0 548.0,557.2 551.0,555.4 557.0,554.7 560.0,555.5 565.7,560.0 570.3,566.0 571.2,569.0 570.9,572.0 568.6,575.0 563.0,577.6 560.0,578.2Z" fill="#6a0000" fill-opacity=".10" fill-rule="evenodd" stroke="#300" stroke-opacity=".55" stroke-width=".5"/>
<path d="M539.0,527.2 533.0,526.2 530.0,524.4 526.8,521.0 525.3,518.0 525.0,515.0 526.8,509.0 533.0,496.6 536.0,492.7 539.0,490.6 542.0,490.9 545.0,494.6 550.5,503.0 551.6,506.0 551.9,509.0 550.8,515.0 548.0,521.4 545.0,524.9 542.0,526.6 539.0,527.2ZM563.0,576.2 557.0,577.1 554.0,576.7 551.0,575.2 548.5,572.0 546.7,566.0 546.9,563.0 548.4,560.0 551.0,558.0 554.0,557.1 557.0,557.2 560.0,558.1 563.0,560.3 567.6,566.0 568.6,569.0 568.3,572.0 565.8,575.0 563.0,576.2Z" fill="#6a0000" fill-opacity=".10" fill-rule="evenodd" stroke="#300" stroke-opacity=".55" stroke-width=".5"/>
<path d="M542.0,522.6 539.0,523.5 536.0,523.4 533.0,522.3 530.0,519.8 528.7,518.0 527.8,515.0 528.9,509.0 533.0,500.1 536.0,496.3 539.0,495.0 542.0,496.1 545.0,499.6 547.1,503.0 548.7,509.0 548.0,514.2 546.5,518.0 545.0,520.2 542.0,522.6ZM560.0,575.6 557.0,575.8 554.0,575.2 550.1,572.0 548.7,569.0 548.1,566.0 548.7,563.0 551.0,560.2 554.0,558.9 557.0,558.9 559.7,560.0 563.0,562.7 565.3,566.0 566.3,569.0 565.8,572.0 563.0,574.6 560.0,575.6Z" fill="#6a0000" fill-opacity=".10" fill-rule="evenodd" stroke="#300" stroke-opacity=".55" stroke-width=".5"/>
<path d="M542.0,518.5 539.0,519.9 536.0,519.7 533.0,518.2 530.9,515.0 530.5,512.0 533.0,504.3 536.0,500.1 539.0,499.0 542.0,500.7 543.8,503.0 545.2,506.0 545.8,509.0 545.6,512.0 544.7,515.0 542.0,518.5ZM563.0,572.2 560.0,574.0 557.0,574.4 554.0,573.5 552.0,572.0 550.1,569.0 549.7,566.0 550.6,563.0 554.0,560.7 557.0,560.7 560.0,562.1 563.3,566.0 564.1,569.0 563.0,572.2Z" fill="#6a0000" fill-opacity=".10" fill-rule="evenodd" stroke="#300" stroke-opacity=".55" stroke-width=".5"/>
<path d="M539.0,515.4 536.0,515.2 534.0,512.0 534.2,509.0 535.4,506.0 536.0,505.0 539.0,503.8 541.5,506.0 542.4,509.0 542.0,512.3 539.0,515.4ZM560.0,572.0 557.0,572.6 554.8,572.0 551.9,569.0 551.3,566.0 553.3,563.0 557.0,562.4 560.0,564.4 561.2,566.0 561.9,569.0 560.0,572.0Z" fill="#6a0000" fill-opacity=".10" fill-rule="evenodd" stroke="#300" stroke-opacity=".55" stroke-width=".5"/>
<path d="M557.0,570.1 554.1,569.0 553.6,566.0 554.0,565.4 557.0,564.9 558.5,566.0 558.9,569.0 557.0,570.1Z" fill="#6a0000" fill-opacity=".10" fill-rule="evenodd" stroke="#300" stroke-opacity=".55" stroke-width=".5"/>
<path d="M476.0,470.2 473.0,471.7 470.0,472.2 464.0,471.3 462.0,470.0 460.4,467.0 460.0,464.0 460.9,449.0 459.5,443.0 456.9,440.0 452.0,436.3 446.0,427.1 439.7,422.0 434.0,415.4 427.5,410.0 420.0,401.0 415.4,398.0 412.7,395.0 432.7,395.0 435.1,398.0 454.0,416.0 461.0,423.7 464.0,425.9 467.0,426.9 470.0,427.2 482.0,426.4 497.0,427.2 509.0,425.1 512.0,425.6 515.0,427.6 518.0,431.4 524.7,437.0 527.0,439.7 527.6,443.0 527.0,444.9 526.4,446.0 524.0,448.0 521.0,448.7 515.0,447.8 512.0,447.9 509.0,449.8 503.0,456.8 501.4,458.0 485.0,462.7 482.0,464.6 476.0,470.2ZM620.0,675.8 614.0,676.6 599.0,675.0 595.2,674.0 586.2,668.0 575.0,664.2 572.0,662.0 566.0,656.0 557.1,650.0 555.7,647.0 557.2,644.0 560.0,642.2 574.5,638.0 579.2,635.0 580.8,632.0 581.2,629.0 580.2,620.0 581.0,614.0 584.0,608.6 590.0,602.5 591.4,599.0 591.1,587.0 592.9,566.0 592.3,548.0 594.0,530.0 592.9,524.0 591.7,521.0 587.9,515.0 587.0,512.4 587.0,509.0 587.9,506.0 590.0,502.1 593.0,500.0 599.0,497.8 602.0,495.8 603.6,494.0 604.4,491.0 601.7,467.0 599.0,462.2 593.8,458.0 591.6,455.0 591.8,452.0 593.7,449.0 602.0,441.1 605.0,439.2 608.0,438.8 611.0,439.9 614.0,442.8 621.7,452.0 623.2,455.0 623.7,461.0 622.6,470.0 622.8,476.0 623.6,479.0 625.6,482.0 629.0,484.4 632.0,485.0 638.0,484.9 641.0,485.6 644.0,487.7 645.8,491.0 648.1,500.0 649.3,512.0 649.6,536.0 647.6,551.0 649.0,554.0 656.0,559.8 660.1,566.0 662.3,572.0 662.7,575.0 662.1,584.0 662.8,587.0 671.0,597.8 672.6,602.0 673.6,608.0 672.6,617.0 669.7,623.0 649.2,644.0 647.3,647.0 646.9,650.0 649.0,659.0 648.2,662.0 647.0,663.3 644.0,664.5 635.0,663.0 632.0,663.4 629.0,665.7 623.0,673.8 620.0,675.8ZM624.0,509.0 627.4,506.0 629.1,503.0 629.3,500.0 627.7,497.0 626.0,495.6 623.0,495.0 620.0,495.3 615.9,497.0 613.2,500.0 612.6,503.0 613.1,506.0 614.0,507.8 617.0,510.4 620.0,510.7 624.0,509.0ZM467.0,512.9 464.0,513.3 461.0,511.4 459.9,509.0 459.4,506.0 460.5,503.0 466.0,500.0 473.0,498.3 476.0,498.1 479.0,499.1 479.8,500.0 479.6,503.0 477.0,506.0 467.0,512.9ZM509.0,626.6 506.0,625.6 503.5,623.0 503.4,620.0 506.0,617.3 509.0,617.0 513.4,620.0 513.9,623.0 512.0,625.7 509.0,626.6Z" fill="#1ef0f0" fill-rule="evenodd" stroke="#001a33" stroke-opacity=".75" stroke-width=".6" stroke-dasharray="1.6 1.2"/>
<path d="M473.0,464.6 470.0,465.1 468.1,464.0 467.3,461.0 468.5,455.0 468.8,443.0 469.4,440.0 472.2,437.0 476.0,435.9 488.0,436.4 500.0,435.2 503.0,435.6 506.0,437.0 506.6,440.0 505.5,443.0 501.6,449.0 497.0,453.6 494.0,455.5 479.0,460.7 473.0,464.6ZM614.0,487.8 611.0,487.7 608.0,485.0 606.0,479.0 605.4,467.0 604.8,464.0 600.4,455.0 601.0,452.0 605.0,448.2 608.0,447.7 611.0,449.2 616.2,455.0 617.3,458.0 617.1,482.0 616.6,485.0 614.0,487.8ZM620.0,666.0 617.0,667.2 608.0,666.0 599.0,667.2 596.0,666.7 590.0,663.9 581.0,661.3 575.9,659.0 565.8,650.0 564.7,647.0 569.6,644.0 581.0,642.3 584.0,641.4 587.0,638.9 589.0,635.0 590.3,629.0 590.2,626.0 589.3,623.0 587.0,620.1 585.5,617.0 585.4,614.0 587.0,610.7 593.0,606.0 594.4,602.0 594.5,599.0 593.0,587.0 594.2,566.0 593.1,551.0 593.7,545.0 596.0,535.3 599.0,529.9 602.0,529.5 605.0,531.0 610.5,536.0 612.3,539.0 614.0,545.4 617.0,547.5 620.0,547.8 629.0,547.1 632.0,546.4 634.4,545.0 635.3,542.0 636.2,533.0 635.7,527.0 633.9,524.0 632.0,522.1 626.7,518.0 626.9,515.0 633.5,506.0 634.6,503.0 636.2,494.0 638.0,492.0 641.0,492.0 644.0,495.4 645.8,503.0 646.7,536.0 645.2,542.0 644.0,544.3 639.9,548.0 639.4,551.0 640.5,554.0 644.0,558.8 647.0,561.0 653.0,564.0 656.0,567.0 658.2,572.0 658.6,575.0 657.8,584.0 658.6,587.0 660.7,590.0 667.1,596.0 669.2,599.0 671.2,605.0 671.5,611.0 670.1,617.0 668.6,620.0 666.3,623.0 653.0,635.8 642.3,644.0 637.7,650.0 635.0,652.4 629.0,655.3 620.0,666.0ZM509.0,623.1 508.8,623.0 506.8,620.0 509.0,619.3 510.1,620.0 509.0,623.1Z" fill="#1e96e6" fill-rule="evenodd" stroke="#001a33" stroke-opacity=".75" stroke-width=".6" stroke-dasharray="1.6 1.2"/>
<path d="M641.0,638.7 635.0,640.6 632.0,640.6 629.0,638.8 623.8,632.0 620.0,629.2 617.0,628.6 608.0,629.5 605.0,629.0 601.8,626.0 601.2,623.0 602.7,614.0 598.2,602.0 595.4,590.0 594.8,584.0 595.5,566.0 594.3,554.0 594.5,548.0 596.0,541.6 599.0,537.4 602.0,536.9 605.0,539.1 606.7,542.0 608.8,548.0 611.0,551.7 614.0,553.1 629.0,553.3 632.0,554.3 635.0,556.4 644.0,567.5 650.0,573.4 650.9,575.0 650.8,584.0 651.9,587.0 654.7,590.0 665.0,597.5 668.2,602.0 669.0,605.0 669.2,611.0 668.0,615.7 665.4,620.0 653.0,631.9 647.0,635.9 641.0,638.7Z" fill="#1e6ed2" fill-rule="evenodd" stroke="#001a33" stroke-opacity=".75" stroke-width=".6" stroke-dasharray="1.6 1.2"/>
<path d="M644.0,632.6 638.0,633.1 635.0,632.2 632.0,629.9 629.0,626.0 627.3,623.0 626.6,620.0 627.0,608.0 626.0,604.8 623.0,602.3 620.0,602.8 614.0,606.3 611.0,607.3 608.0,607.2 605.0,605.6 602.0,602.0 598.7,593.0 597.0,584.0 597.4,566.0 595.8,557.0 595.4,551.0 596.0,546.8 599.0,542.3 602.0,542.4 605.0,546.9 608.0,554.3 611.0,556.5 614.0,557.1 626.0,557.4 629.0,558.3 632.0,560.0 635.0,563.1 638.8,569.0 640.5,575.0 640.3,578.0 639.3,581.0 636.4,587.0 636.5,590.0 638.0,591.9 641.0,593.4 656.0,596.3 662.0,599.1 665.0,602.3 666.5,608.0 666.3,611.0 665.5,614.0 663.8,617.0 658.5,623.0 653.0,627.8 650.0,629.9 644.0,632.6Z" fill="#1e3ce6" fill-rule="evenodd" stroke="#001a33" stroke-opacity=".75" stroke-width=".6" stroke-dasharray="1.6 1.2"/>
<path d="M614.0,600.2 611.0,601.7 608.0,601.8 605.0,599.7 601.8,593.0 600.2,587.0 599.4,581.0 599.9,566.0 597.5,554.0 597.5,551.0 599.0,547.1 602.0,548.2 605.4,557.0 608.0,559.9 611.0,560.8 620.0,560.8 626.0,562.0 629.0,563.6 631.6,566.0 633.6,569.0 634.7,572.0 635.0,575.0 634.1,578.0 626.0,592.3 614.0,600.2ZM647.0,626.4 644.0,627.0 641.0,626.7 638.0,624.9 636.6,623.0 635.7,620.0 635.7,617.0 638.0,608.5 641.0,605.4 647.0,603.4 653.0,602.4 656.0,602.7 659.0,603.7 660.5,605.0 662.1,608.0 661.8,611.0 660.4,614.0 656.0,619.8 653.0,622.7 647.0,626.4Z" fill="#8c14e6" fill-rule="evenodd" stroke="#001a33" stroke-opacity=".75" stroke-width=".6" stroke-dasharray="1.6 1.2"/>
<path d="M614.0,594.3 611.0,595.7 608.0,595.0 605.3,590.0 603.5,581.0 604.1,572.0 605.0,569.0 608.0,567.2 614.0,566.2 620.0,566.5 623.0,567.6 626.0,569.9 627.3,572.0 627.8,575.0 626.0,581.0 623.0,587.6 620.0,590.7 614.0,594.3Z" fill="#c814c8" fill-rule="evenodd" stroke="#001a33" stroke-opacity=".75" stroke-width=".6" stroke-dasharray="1.6 1.2"/>
</g>
<g clip-path="url(#c4)" fill="none" stroke-linejoin="round" stroke-linecap="round"><path d="M464.1,494.7 462.9,496.9 461.4,499.5 459.7,502.0 458.4,504.4 457.3,506.6 456.4,509.6 455.1,511.7 454.5,514.8 453.5,517.0 452.9,519.3 452.0,522.1 450.8,524.6 450.3,527.8 449.6,530.3 449.5,532.9 449.0,535.3 448.3,538.2 448.5,541.1 449.0,541.2 447.6,543.6 446.3,546.5 445.1,550.9M441.7,560.5 439.5,564.2 432.9,565.2 429.5,564.7 430.5,567.6 431.6,570.6 435.2,572.1 436.4,575.8 438.6,577.5 441.1,579.4 442.1,582.7 442.8,585.5 450.1,587.9 450.5,590.4 446.4,592.7M518.2,512.3 515.6,509.2 513.3,506.0 510.8,503.5 508.5,500.1 506.2,497.5 503.5,494.2 501.1,494.7 498.5,494.9 495.7,494.9 493.2,495.5 491.1,495.5 488.0,496.0 485.5,496.8 483.6,493.9M416.6,482.6 414.8,488.3 411.3,491.9 407.2,495.6 404.8,502.2 405.1,507.4 398.4,510.5M530.2,668.6 535.0,669.7 533.8,671.8 532.1,675.4 532.8,679.7 531.3,682.6M545.0,666.0 550.0,668.4 555.6,668.6M552.9,645.3 553.9,646.5 557.4,648.2 558.9,649.0 560.5,649.3 563.2,649.7 563.0,653.5M562.4,654.0 560.3,657.6 562.3,658.1 564.2,663.3 564.2,664.2M562.6,653.6 566.0,653.4 567.6,654.0 572.4,652.0 573.3,648.8 569.7,645.4 573.5,642.5 571.8,638.6 570.4,634.9M559.8,638.9 559.7,642.4 559.2,645.0 559.3,646.1 559.6,647.3 559.6,648.7M554.3,644.1 557.2,644.4 558.8,645.0M561.8,634.5 563.2,634.4M562.5,658.7 565.0,656.4 565.7,657.9 568.2,656.1 571.8,654.3 574.3,654.9 576.9,653.5 578.2,652.1 579.7,649.2 578.2,647.2 575.6,648.6 573.0,648.5M567.3,653.4 568.5,654.9 568.4,656.2M573.3,642.6 576.8,643.2 579.1,643.2 580.8,644.3 583.0,644.0 586.9,642.5 587.9,642.9 588.4,638.8 586.6,636.6 585.3,634.9 584.0,630.3 582.5,629.6 580.0,630.9 578.0,631.5M584.1,630.6 586.5,629.1 586.4,624.5 587.4,622.2 585.1,619.6 585.1,619.0 583.7,615.2M578.7,626.7 580.3,625.6 582.1,624.5 586.3,624.4M581.0,621.0 585.0,619.9M579.9,628.3 581.7,628.8 582.7,629.6M586.4,636.3 588.9,635.0 591.4,634.0 594.6,633.1 596.8,631.8 597.9,628.4 600.7,626.7 603.5,627.9 608.2,627.2 612.8,625.8 615.0,629.5 614.5,633.2M597.5,628.6 597.3,625.3 593.1,623.3 590.5,620.9 587.8,622.2M578.1,647.4 581.2,644.5M579.1,648.8 582.2,648.7 586.2,644.8 587.6,645.2 588.2,642.8M587.4,645.2 589.3,645.5 587.5,650.9 586.8,651.9 583.8,653.7 579.7,653.7 578.2,652.6M588.9,645.6 592.8,644.0 595.0,642.2 597.6,640.4 602.8,643.0 603.9,642.8M594.6,641.6 599.7,644.7 601.3,647.1 604.0,646.4M592.8,654.8 595.7,655.0 598.5,653.6 600.6,651.8 604.5,651.0M586.9,651.9 589.9,654.8 592.8,655.1 594.7,658.4 594.3,660.5 596.6,662.6 599.3,660.5 602.9,659.5 602.4,658.5 605.2,655.8M592.0,669.3 593.5,665.4 596.3,662.3M594.2,660.2 590.8,661.9 588.7,661.8 589.3,663.6M593.0,665.6 590.9,661.8M578.9,656.9 582.2,656.1 584.9,655.1 585.6,655.6 587.0,659.3 586.2,662.0M579.1,656.8 580.8,659.5 583.6,660.8 586.7,662.6M575.0,657.1 578.4,656.2 579.7,653.6M585.6,656.0 584.4,653.5M587.4,659.6 588.6,661.5M563.7,623.5 564.2,618.3 562.2,612.4 563.8,608.0 564.1,602.3 564.6,598.8 566.2,597.0 568.4,598.1 570.4,599.3 572.3,602.5M566.6,597.0 568.2,596.6 570.2,596.0 570.9,594.0 571.0,591.8 572.7,592.4 574.9,595.9 577.4,599.6 580.5,603.7 583.6,606.3 582.9,609.2 581.8,612.6M629.7,640.9 633.3,638.4 637.8,639.9 640.2,643.5 643.6,645.6 639.1,649.0 636.2,652.3 633.5,655.7 630.7,660.3M623.3,639.0 626.9,637.4 629.7,634.9 632.8,634.3 636.1,632.9 639.3,629.8M633.5,638.5 635.7,636.5 636.6,633.0M635.3,636.8 639.2,637.4 637.7,640.0M638.0,639.9 642.1,638.4 643.6,635.5 646.7,635.7M657.3,628.2 658.6,625.2 659.6,621.5 664.1,617.7 670.9,616.8 674.7,620.8 682.6,621.3 685.0,625.7M643.3,646.1 649.8,647.4 653.3,650.5 661.8,653.0 665.9,653.4M639.2,649.3 642.6,657.4 640.2,662.9 638.2,669.0 635.2,669.8M639.9,662.9 643.4,665.2 639.9,670.6 643.7,673.8M634.2,668.8 636.8,672.9 638.4,677.5M632.0,664.4 633.9,668.4M612.9,686.4 614.6,691.8M578.0,692.7 576.5,696.7 574.4,702.4 574.4,703.5M569.1,683.6 569.3,690.5 568.5,695.2 574.4,702.6M543.2,689.9 545.4,696.2 545.5,699.6 540.8,702.2 535.2,705.0M634.2,675.4 637.7,678.5M630.9,620.6 623.4,619.8 621.1,616.9 621.9,613.5 622.6,611.0 624.0,608.6 625.1,605.9 625.4,603.4 627.9,602.3 630.4,600.8 632.3,599.2 632.9,595.6 628.9,594.2 625.4,592.7 626.6,589.3 627.0,586.3 627.5,583.4 627.1,579.7 629.9,578.6 632.3,576.8 633.6,574.6 634.5,572.9 637.8,571.0 640.6,568.8 642.9,566.3 644.1,563.8 644.3,560.4 646.9,557.9 649.2,554.5 655.1,558.5 656.8,560.9 658.9,564.3 665.3,569.8 666.9,574.5 668.1,578.5 669.7,583.2 671.4,585.2 678.1,585.0 684.7,579.6 689.6,578.2 694.3,577.3 702.2,573.9 703.0,571.5M649.0,555.0 646.9,549.6 646.2,547.3 646.1,545.1 645.2,542.7 646.0,539.2 646.0,536.5 640.9,535.2 641.3,532.6 641.5,529.7 642.0,526.5 642.7,523.7 643.5,520.8 643.7,518.1 642.1,515.9 641.2,513.0 639.4,510.5 638.3,508.4 636.7,505.5 631.7,504.6 626.0,504.7 624.9,502.2 623.0,500.3 626.0,494.8 627.9,489.3 627.7,485.0 628.1,481.4 624.6,479.6 621.6,477.5 625.8,475.8 631.0,473.7 633.8,475.5 638.9,472.6 643.6,475.7 646.2,476.4 652.5,478.9M649.5,553.5 653.8,551.2 658.2,548.2 660.6,543.0 666.3,536.6 666.3,532.7 665.5,529.5 665.0,525.3 665.4,522.1 666.0,518.8 663.8,515.6 660.7,511.8 657.8,509.1 652.8,508.0 650.4,505.5 648.6,503.3 646.5,501.2 644.3,498.5 642.1,496.5 641.6,501.6 637.1,505.4M678.1,584.6 677.3,589.0 676.6,592.5 672.1,593.2 672.7,596.5 673.2,600.7 671.4,603.3 671.0,608.1 671.1,612.6 670.2,616.6M676.3,592.4 682.5,594.6 686.5,601.2 689.7,603.0 690.5,607.9 692.0,612.3M671.2,603.6 663.9,606.0 659.8,607.6 655.9,609.4 651.7,609.5 650.6,613.8 650.3,618.0 645.2,614.7 640.7,611.7 642.7,607.0M650.1,618.3 646.3,620.3 646.9,624.1M648.8,607.5 650.7,605.6 653.5,602.9 656.3,600.4 659.4,598.2 662.9,595.8 661.6,589.5 661.3,586.3 661.7,582.5 662.7,579.5 663.6,575.9 664.1,573.1 665.2,570.3M662.7,596.1 665.1,593.4 667.2,590.6 671.2,585.7M663.9,606.1 666.0,602.9 667.1,598.7 663.3,596.3M672.2,592.5 668.9,593.4 670.2,589.5 671.4,585.2M685.0,579.1 687.5,584.3 690.4,588.9 693.3,588.6 698.4,594.1M656.8,474.6 654.4,471.9 651.1,468.7" stroke="#3a1540" stroke-width="0.95"/><path d="M408.3,482.1 411.5,482.3 414.8,481.8 417.1,482.8 422.5,481.1 425.1,479.5 426.9,477.8 430.2,477.5 433.8,478.5 437.4,479.1 440.4,478.5 443.4,479.3 445.7,478.9 448.4,480.8 450.3,482.6 452.3,484.0 453.6,485.3 455.4,486.9 457.6,487.4 458.5,488.9 462.3,490.3 464.7,491.3 462.2,492.2 459.7,493.3 462.2,494.5 464.4,495.4 466.3,494.7 467.8,493.0 469.7,493.2 471.4,492.1 472.9,491.0 473.4,491.8 475.9,491.5 479.6,493.0 481.7,493.3 484.5,493.7 486.4,494.1 488.9,493.1 490.4,493.1 492.3,493.4 494.3,494.2 495.6,494.3 497.2,493.3 499.4,493.3 500.8,493.8 502.3,493.0 502.7,493.2 504.0,492.8 505.7,491.7 506.3,491.4 507.9,491.3 509.3,491.2 511.1,490.9 510.9,489.9 511.2,488.2 512.4,487.1 512.9,485.2 513.7,484.4 513.4,487.2 514.4,489.4 514.8,488.4 515.3,486.8 515.8,485.7 515.5,483.5 516.5,482.5 516.3,480.0 517.0,477.8 517.5,476.1 518.3,474.7 519.1,472.7 520.6,471.3 521.3,471.0 522.1,469.4 523.6,468.4 524.3,467.8 526.2,466.7 524.7,467.9 524.3,469.1 523.4,469.8 521.9,471.6 521.6,472.8 520.1,473.7 519.6,475.1 519.9,478.2 519.2,479.9 521.1,479.9 522.2,479.1 522.6,478.6 524.6,478.0 525.3,477.6 526.8,478.4 528.7,479.0 529.0,480.7 532.7,483.9 531.5,487.9 531.2,487.7 530.1,489.0 529.2,489.2 528.0,489.6 528.7,491.7 530.0,491.6 531.2,491.0 532.2,491.5 533.1,491.4 534.0,490.8 534.1,491.7 535.4,491.9 536.9,492.8 536.0,493.9 535.5,493.8 534.4,495.0 534.0,495.6 533.3,495.6 533.3,497.6 534.1,498.3 536.1,499.1 537.2,499.0 536.4,500.7 535.2,500.8 534.9,501.8 534.6,503.0 534.7,503.7 533.5,505.0 533.1,505.6 533.6,507.0 532.2,507.2 532.0,507.6 531.6,508.6 531.4,508.9 530.2,508.9 529.4,509.1 529.3,508.9 527.8,508.7 527.4,509.2 527.1,509.0 526.4,509.5 525.3,509.5 524.6,510.1 523.9,510.4 523.2,510.2 522.6,511.0 521.4,510.9 521.1,511.6 520.9,511.3 520.2,512.0 518.8,511.9 517.9,512.5 517.8,512.7 517.2,512.7 516.4,512.8 514.9,513.0 514.1,512.7 514.6,513.4 513.6,514.3 514.2,515.1 513.0,516.7 512.8,517.4 513.1,518.2 513.1,518.7 512.7,518.8 512.4,520.1 511.8,520.1 511.2,521.4 509.9,521.1 509.9,522.1 509.0,521.8 508.4,522.8 508.3,523.0 507.3,523.5 506.7,524.0 505.8,524.7 506.2,525.1 505.3,525.4 504.7,526.6 503.5,526.7 502.1,527.2 501.3,527.1 500.2,528.6 501.0,529.1 500.3,530.1 499.8,530.4 499.7,531.5 499.7,531.9 499.9,533.5 499.1,533.9 498.9,534.8 498.7,534.8 498.0,535.3 497.9,536.4 497.2,537.1 497.1,538.3 496.9,539.3 497.3,539.7 497.4,540.7 497.8,541.2 497.5,542.2 498.0,542.6 498.8,544.1 499.4,544.1 500.0,545.5 502.9,546.2 505.5,545.8 503.5,546.5 502.2,547.7 501.7,548.7 499.2,549.4 497.4,549.8 498.2,550.2 497.9,551.7 498.5,551.8 499.2,552.9 498.9,553.2 498.9,554.1 498.1,554.9 498.4,555.5 497.5,556.0 496.7,557.4 498.6,557.3 501.5,556.2 498.7,557.3 494.9,558.3 493.6,557.3 493.2,556.6 492.0,555.6 491.7,554.8 490.2,553.4 489.1,552.9 488.5,552.4 487.5,551.0 486.7,550.6 483.7,549.2 483.0,547.3 482.1,546.3 480.3,545.8 479.4,544.5 476.7,544.3 473.5,544.0 470.9,545.6 469.3,546.5 468.8,547.4 467.8,548.6 468.0,549.4 467.2,550.8 467.1,552.1 466.2,553.4 466.1,555.0 465.5,556.3 464.9,557.0 464.8,558.1 465.4,560.1 464.7,560.9 462.2,562.1 459.8,562.7 457.6,564.0 455.4,566.0 459.0,567.9 461.4,566.4 464.7,565.0 466.5,567.1 468.5,567.5 469.9,568.7 472.4,567.3 475.0,564.8 477.5,565.1 479.6,565.5 481.2,564.8 484.2,563.8 484.2,564.8 484.0,565.9 484.0,566.9 484.8,567.8 484.9,569.4 484.8,569.7 484.3,571.4 483.1,572.4 483.0,573.3 481.0,576.1 478.6,577.9 478.1,578.9 480.4,579.9 482.5,580.4 484.4,580.3 483.2,582.7 482.0,584.0 480.6,585.9 478.1,587.4 476.2,589.6 475.8,591.7 476.0,593.5 475.2,595.4 474.7,597.0 474.1,599.3 472.4,602.3 470.2,601.4 468.4,600.9 467.2,599.9 465.1,599.2 464.6,598.4 463.5,597.2 462.5,595.9 462.0,594.6 461.0,593.2 460.5,592.3 459.7,590.5 459.5,589.6 458.3,588.3 456.4,587.7 454.4,587.4 451.4,585.5 448.4,584.5 450.4,585.9 451.8,586.7 454.3,588.0 455.6,589.6 457.1,590.8 457.6,592.1 454.9,593.0 452.3,594.4 451.0,598.2 451.4,598.7 451.3,600.4 451.9,601.8 455.8,602.4 454.4,602.7 452.1,603.8 450.2,603.2 448.7,601.0 446.3,600.4 445.3,598.5 442.9,598.0 444.9,595.5 446.7,596.9 448.9,597.5 447.9,596.7 447.1,595.1 446.4,593.5 443.8,592.0 442.2,591.0 439.7,589.5 438.3,588.8 436.2,590.9 434.3,589.0 432.9,587.1 431.0,586.2 429.7,583.7 426.8,584.3 424.8,584.1 421.8,582.8 418.7,582.7 415.7,583.6 412.9,584.8 412.2,582.8 410.2,581.1 408.0,579.9 405.4,577.2 402.6,575.8 397.9,572.2 394.5,573.7M393.5,566.3 394.1,563.7 394.7,561.0 394.4,558.1 393.8,555.7 394.4,553.5 392.5,550.4M471.1,603.6 469.6,606.1 468.5,609.5 467.3,611.4 465.9,613.8 462.6,613.8 462.4,611.5 462.6,610.3 462.4,608.1 461.3,607.2 460.7,605.5 459.5,604.6 458.4,603.4 461.9,603.0 464.6,602.8 466.5,602.7 469.6,602.9 471.3,602.7M463.1,492.9 465.5,492.9 467.2,492.6 468.6,492.0 470.2,491.0 472.4,491.1 474.0,490.2 471.2,490.0 469.5,491.0 466.8,491.6 464.8,491.2 463.6,493.1M441.7,560.4 441.4,558.8 441.8,556.8 442.2,555.5 442.9,553.4 442.0,551.9 442.1,550.2 441.7,549.4 442.1,548.2 442.3,546.6 442.8,547.4 443.9,549.2 445.3,550.9 445.8,552.7 446.5,553.7 448.0,555.5 445.7,556.8 444.6,558.5 441.3,560.3M439.7,559.1 435.9,557.9 433.4,556.9 431.1,556.6 428.5,555.1 431.2,553.7 434.3,554.3 436.7,554.8 437.5,556.2 438.5,558.3 439.6,559.2M439.9,561.2 440.3,563.1 440.3,564.9 439.4,565.8 437.7,569.9 435.0,568.0 432.6,565.4 436.0,562.2 440.6,561.7M433.5,572.4 432.0,571.3 431.0,569.3 429.4,567.5 427.9,565.4 429.7,564.5 431.0,566.1 432.2,568.3 433.1,570.3 433.6,572.0M434.1,571.2 434.8,573.5 435.8,575.5 436.2,576.5 437.8,576.6 436.8,574.5 436.3,573.3 433.8,571.3M487.3,577.9 489.9,578.1 491.7,576.9 494.7,576.8 496.8,577.3 499.3,576.4 500.3,576.0 500.0,574.3 500.3,572.8 500.6,572.6 500.8,570.7 501.4,569.5 504.9,568.4 505.7,567.3 506.1,565.7 505.9,565.8 506.1,564.1 507.1,563.2 507.6,562.2 507.7,562.3 508.1,561.5 508.7,560.8 509.7,559.7 509.7,558.3 510.9,557.7 510.3,557.8 511.0,556.3 511.1,556.3 510.5,555.2 510.0,555.6 509.3,554.1 508.6,553.5 508.3,553.8 507.5,552.4 508.7,552.7 509.0,551.2 508.6,551.4 509.0,550.5 506.8,549.6 504.8,550.2 503.4,550.8 501.3,551.6 501.0,552.3 501.3,552.6 500.8,554.2 501.5,554.1 502.1,555.5 501.7,555.6 502.3,556.0 503.6,557.1 502.9,557.7 501.4,559.4 501.7,560.5 500.9,561.1 500.3,561.6 499.4,563.1 497.5,564.6 496.2,566.0 494.5,565.2 493.6,564.9 493.4,564.6 492.4,563.8 490.9,563.2 488.4,562.3 489.0,563.9 489.1,564.6 489.4,565.9 490.0,566.2 489.4,567.9 489.3,568.9 488.1,570.4 487.4,571.4 488.1,573.1 487.1,574.2 487.4,575.3 487.3,575.5 487.5,577.3 487.3,578.3M502.3,529.4 502.8,529.0 503.8,528.3 504.9,528.3 507.1,527.7 508.9,528.2 511.0,529.1 512.2,530.4 512.4,530.8 512.8,532.4 512.8,532.8 513.2,533.6 513.4,533.8 512.6,533.8 512.3,534.5 511.3,535.5 510.6,535.1 510.7,536.0 509.9,536.0 510.2,536.6 510.8,537.4 509.0,538.0 508.0,538.5 506.9,539.2 505.6,539.1 505.1,540.3 503.0,540.6 500.2,540.0 499.4,538.2 499.9,538.0 500.3,537.7 499.7,536.5 499.9,536.3 499.9,535.1 500.1,534.7 500.5,534.3 501.4,533.3 501.3,532.3 502.1,532.4 502.6,531.1 503.5,530.9 503.5,529.8 501.9,530.0M511.6,526.0 513.4,525.8 514.8,526.4 516.1,526.3 517.9,528.3 517.9,529.1 517.4,530.2 517.1,530.7 517.7,530.4 517.0,531.1 515.7,531.2 514.9,531.9 514.6,532.6 514.5,532.2 513.5,532.9 513.0,532.1 512.9,531.8 512.8,530.5 512.6,530.1 512.8,529.2 510.8,527.0 511.2,527.0 511.2,526.7 511.9,526.0M517.1,550.6 520.5,550.6 524.5,552.0 524.7,551.3 525.0,551.3 526.1,550.2 526.8,550.7 526.9,550.4 527.6,549.2 528.2,549.7 528.6,550.2 528.2,550.4 529.3,550.7 529.3,551.4 529.6,551.2 530.1,551.8 530.0,551.3 531.0,552.0 530.8,552.6 531.8,552.4 532.0,553.0 531.9,552.6 531.2,553.2 532.2,553.1 532.0,553.6 531.9,553.9 532.4,553.8 532.1,554.2 532.4,554.6 532.4,554.4 532.6,554.6 533.2,554.5 532.8,555.1 533.1,555.3 533.2,555.0 533.6,556.2 533.9,556.0 533.3,555.8 533.2,556.3 533.9,556.4 533.8,557.1 533.3,557.1 533.8,557.3 533.4,557.9 532.9,557.9 532.6,558.8 531.2,559.2 529.3,559.3 529.5,558.6 528.8,559.3 528.2,558.9 527.5,558.6 527.2,558.3 526.8,558.5 526.8,557.8 526.3,557.5 526.0,557.1 525.2,557.2 523.8,556.6 522.3,557.2 521.1,557.3 520.6,557.3 520.2,556.8 518.9,555.8 518.3,556.3 517.9,555.4 517.0,555.8 517.5,554.7 517.4,553.9 517.0,553.9 517.0,552.9 516.5,552.9 517.3,551.9 516.3,551.4 517.2,551.3 516.9,551.5 517.1,550.2M512.6,548.4 514.4,548.9 516.6,548.0 516.8,548.9 517.1,549.2 516.8,550.1 516.6,550.6 516.2,551.0 515.5,551.7 515.9,552.2 515.1,552.8 514.8,553.2 515.4,554.0 515.5,554.3 515.0,554.5 515.5,555.2 515.9,555.8 513.5,556.3 513.2,555.9 512.9,555.1 512.5,554.2 512.9,554.1 512.0,554.1 512.4,553.2 512.2,552.2 512.8,551.7 512.1,552.1 511.9,551.0 512.3,550.2 512.8,549.9 511.8,549.4 511.9,549.2M521.6,551.1 521.2,550.4 522.0,549.7 522.4,549.1 522.8,549.1 523.2,549.1 523.6,548.7 527.3,548.3 527.7,549.1 527.6,549.4 527.2,549.3 527.0,550.0 527.2,549.8 526.0,550.9 523.4,551.4 522.3,551.1 521.1,550.6M513.9,538.6 514.0,539.0 514.3,538.3 514.8,537.8 515.7,537.8 516.4,537.1 516.1,536.6 516.9,536.3 518.5,536.6 519.1,536.1 518.9,536.6 519.3,537.3 519.6,538.1 519.0,538.5 518.6,539.4 519.4,539.5 518.7,539.7 517.4,540.1 516.7,540.9 514.8,540.7 513.3,539.4M506.2,546.8 508.4,546.5 510.3,546.1 510.8,547.0 511.2,547.0 511.2,548.2 511.1,549.0 510.5,549.3 511.4,549.2 508.2,550.4 507.5,549.7 507.8,548.7 506.6,547.8 506.9,547.4 506.0,546.9M505.5,542.7 505.9,543.0 507.7,542.1 509.9,541.6 509.6,543.0 510.4,543.0 511.9,543.7 510.6,544.2 508.7,544.4 507.7,545.3 506.6,544.5 505.6,544.1 505.5,543.2M514.2,543.3 515.7,543.5 517.6,544.4 518.2,544.8 517.7,544.4 517.3,544.8 517.7,545.5 514.6,545.9 514.2,545.3 514.0,544.5 513.5,544.2M521.8,536.6 523.1,537.9 523.8,538.4 524.1,538.7 524.3,539.4 523.5,539.8 523.4,540.2 523.8,540.7 521.7,539.6 521.8,539.6 521.8,539.1 521.8,537.9 521.5,538.1 521.8,537.1 521.9,537.1M520.2,542.1 523.7,542.4 523.9,543.4 523.9,543.8 523.9,544.5 523.6,545.2 523.5,545.5 523.6,545.8 520.6,545.0 520.8,545.4 521.1,545.0 521.1,543.6 520.4,543.2 520.7,543.1 520.7,543.0 520.9,542.4M485.8,553.3 487.9,553.0 488.9,552.9 490.6,553.9 491.4,554.4 490.0,556.3 489.0,557.2 489.1,557.9 488.0,559.5 487.1,560.6 486.5,558.7 485.3,558.3 485.5,556.9 485.2,555.8 485.5,555.1 485.3,554.4 485.0,553.5M499.1,542.4 500.3,542.8 499.8,544.2 499.8,544.3 499.6,545.4 497.8,543.9 498.5,543.7 498.3,542.2 499.2,542.2M498.4,602.2 498.4,601.0 497.2,599.4 497.0,598.7 496.7,597.9 496.8,596.1 497.4,594.4 498.0,592.5 498.5,590.7 500.3,588.2 501.7,586.1 503.3,583.8 504.4,582.1 506.6,581.7 507.9,581.3 510.1,581.5 509.7,579.9 510.2,579.6 510.8,578.0 510.9,577.0 513.1,575.2 513.9,573.1 516.1,570.9 518.2,569.4 518.1,568.8 519.0,567.8 519.8,566.9 519.7,565.5 519.8,565.4 519.6,564.9 518.8,564.0 518.8,563.6 519.4,563.7 518.6,563.3 518.9,562.1 518.9,561.8 519.9,560.8 519.9,560.1 521.3,559.9 521.8,558.4 522.4,558.2 522.4,558.7 523.8,559.0 524.1,559.0 524.8,558.8 524.6,558.9 524.9,559.9 525.3,560.1 526.1,560.4 527.3,560.2 528.2,559.5 528.3,559.8 529.3,560.1 530.6,560.1 531.1,560.2 530.9,560.1 531.8,560.5 531.8,560.1 532.5,560.0 533.2,559.9 533.4,560.4 533.2,560.7 533.7,561.3 534.4,561.0 534.6,561.5 534.1,561.5 535.1,561.8 535.3,561.3 534.9,561.7 535.2,561.9 535.8,562.1 535.9,561.6 536.8,562.1 536.5,562.0 536.8,562.2 537.2,561.8 538.0,562.5 538.0,561.9 537.7,562.4 538.6,562.4 538.2,562.5 538.8,562.1 539.2,562.2 539.5,562.6 540.2,561.9 540.0,562.8 540.2,562.6 540.6,562.1 540.7,562.9 540.6,562.7 540.8,562.7 540.8,563.0 541.4,563.7 541.1,563.8 541.2,563.7 541.1,564.2 541.8,564.6 541.1,565.2 541.0,565.4 541.6,565.4 541.6,566.8 541.9,566.7 542.2,567.2 542.5,567.5 541.8,568.3 542.0,567.7 543.0,567.8 543.0,568.8 543.3,568.4 543.7,569.1 543.7,569.1 543.7,569.0 544.7,569.8 543.8,569.1 543.6,570.4 543.2,570.3 543.3,570.9 543.0,571.9 542.4,572.8 540.9,573.8 540.3,574.2 539.3,577.0 539.2,578.9 537.8,581.9 535.2,584.9 533.6,587.7 532.2,588.9 531.2,593.1 530.5,593.2 529.6,593.0 529.5,592.8 528.4,591.8 527.5,592.2 527.7,592.5 528.9,594.1 529.4,594.9 528.2,595.2 527.5,595.1 526.3,594.7 525.1,595.1 524.6,595.2 524.1,595.7 522.9,596.1 521.3,596.2 521.1,595.5 519.2,596.1 519.0,596.0 517.4,596.0 515.9,595.7 515.1,596.3 513.6,596.6 512.3,596.6 511.4,596.3 510.8,596.3 508.2,597.3 505.7,598.8 503.3,600.2 501.6,600.7 498.8,602.1M527.6,610.0 526.8,609.5 526.7,609.7 525.8,608.9 525.2,608.2 524.2,604.8 524.4,603.4 526.7,602.2 527.5,603.3 528.5,604.7 529.0,604.1 530.6,603.9 531.5,604.5 532.2,604.5 533.5,604.4 534.1,605.4 535.0,606.0 534.1,609.3 532.9,609.7 532.1,610.2 530.8,609.8 529.5,610.4 528.6,609.7M557.5,580.8 557.1,579.9 556.7,578.8 555.8,578.3 555.8,577.6 554.7,575.5 553.8,573.9 554.1,574.0 553.7,573.9 554.6,573.0 554.8,572.6 554.8,573.2 555.6,573.0 555.4,572.0 555.9,572.3 556.6,571.9 556.9,572.0 556.7,572.1 556.8,571.7 557.2,570.9 558.0,571.6 558.6,571.6 559.3,572.2 558.9,571.5 560.3,572.1 559.1,572.3 559.6,572.7 559.0,573.6 558.7,574.0 559.1,574.5 558.5,574.8 559.3,577.7 559.4,578.2 558.9,578.9 558.3,579.4 558.8,579.2 557.6,580.8M565.7,566.4 566.1,564.8 565.9,564.0 565.9,563.6 566.1,564.0 565.3,563.1 565.4,563.1 565.4,562.0 565.5,562.5 565.7,561.6 566.0,561.5 566.0,561.6 566.2,560.9 567.0,560.4 566.5,560.8 566.9,560.7 567.7,559.9 567.4,559.3 568.2,559.5 568.0,559.8 568.2,561.2 568.3,561.4 568.8,561.7 568.5,561.8 568.0,562.6 568.7,562.6 567.8,563.3 567.6,562.8 567.9,563.8 567.7,563.3 568.0,563.6 567.2,564.8 567.5,564.9 566.5,565.3 566.7,564.6 566.9,565.9 565.9,565.7 566.6,565.8M587.5,575.1 587.0,575.8 586.7,576.0 585.9,575.6 585.2,576.4 584.2,576.7 583.3,576.6 581.6,574.0 580.1,573.5 579.9,572.0 579.0,570.3 578.7,570.2 578.4,569.4 578.1,568.6 577.6,567.2 577.2,566.1 577.7,565.8 577.7,565.1 577.4,564.7 578.1,564.0 577.5,564.3 577.7,563.1 578.1,562.5 577.1,561.9 577.4,562.3 577.2,561.2 580.2,561.3 579.5,562.6 579.7,563.0 579.8,563.7 580.7,564.1 580.2,564.9 580.7,564.9 580.3,565.9 580.8,566.6 581.3,567.4 581.8,568.3 581.2,568.8 581.3,569.8 582.3,570.8 583.1,572.9 584.8,574.2 585.6,574.0 587.5,574.1 587.6,574.5M576.6,545.2 576.7,545.4 576.2,546.0 576.2,545.8 576.0,546.7 575.2,547.6 575.3,547.4 574.2,547.8 574.3,548.2 573.6,548.8 573.4,549.3 572.9,548.5 572.4,548.4 570.8,547.9 569.9,547.9 570.0,548.2 570.0,547.0 569.8,546.8 570.2,546.9 570.0,546.4 570.7,546.2 571.3,545.6 571.3,545.1 571.4,545.1 571.1,544.6 571.8,543.8 573.5,543.8 575.5,542.4 575.6,543.1 575.9,543.3 576.1,543.5 576.5,544.3 576.2,544.7 576.6,545.5M575.0,518.9 574.3,520.7 573.2,522.8 573.6,524.2 572.2,524.7 571.0,524.7 570.1,525.3 570.1,524.2 569.1,523.9 569.3,523.2 569.3,523.3 568.9,522.4 568.6,521.6 568.4,521.0 568.3,521.1 567.3,520.2 567.4,520.0 567.2,519.1 567.1,519.0 567.2,519.5 567.9,519.4 568.1,519.5 568.3,519.5 569.8,519.5 569.5,520.5 570.3,520.4 571.1,520.8 572.0,520.4 572.8,520.1 574.3,519.5M549.5,504.8 548.8,506.0 548.1,506.1 547.9,505.3 547.2,506.0 547.8,504.1 549.4,505.0 549.3,504.8M558.8,626.5 557.4,625.4 556.1,624.5 555.4,621.5 555.2,619.7 555.6,615.1 556.4,614.4 558.4,614.0 559.3,613.0 559.3,611.2 561.1,610.3 561.9,606.3 562.1,604.2 562.8,601.8 560.5,600.3 561.6,599.2 562.9,598.4 563.0,597.4 563.7,597.0 564.5,596.7 564.4,595.1 564.9,595.0 566.0,593.9 566.6,592.4 567.3,592.1 567.5,591.5 568.2,590.8 568.2,590.1 569.7,590.4 570.0,590.3 571.5,590.3 572.6,591.2 573.8,591.5 574.4,591.4 576.0,591.0 576.0,590.3 577.6,591.1 578.5,590.5 579.1,590.0 580.0,590.8 580.5,590.1 582.5,590.5 583.3,590.3 585.0,591.3 585.9,593.4 585.0,594.3 583.9,594.6 583.2,594.4 582.0,595.4 582.1,595.0 580.6,595.7 579.8,596.5 578.9,596.7 581.2,597.7 583.5,599.0 584.2,599.2 585.3,598.7 587.0,599.2 587.1,598.0 587.7,596.8 587.6,596.2 586.6,593.8 586.9,593.1 587.2,592.6 586.6,591.0 585.8,588.2 585.9,586.7 585.8,585.8 587.8,589.5 588.5,588.8 589.1,587.0 587.9,585.2 589.0,584.8 589.7,584.3 589.9,583.1 590.1,583.1 590.9,582.6 590.6,581.5 591.1,579.7 589.8,578.5 591.1,578.2 591.6,578.2 592.2,576.9 592.6,577.2 593.1,576.7 591.3,573.8 592.0,573.3 591.9,572.5 593.4,572.0 593.6,572.0 594.5,571.4 595.0,570.6 595.3,569.7 596.2,569.5 597.3,568.5 595.4,568.5 593.2,568.4 590.5,567.2 589.3,565.9 587.4,564.5 586.9,564.2 587.0,563.1 587.4,562.9 591.1,562.4 592.8,563.9 595.2,563.8 596.4,564.3 599.5,565.4 602.0,566.8 601.9,568.3 601.4,569.1 601.9,568.0 601.8,567.6 602.3,566.3 598.9,564.8 597.1,563.8 595.2,562.5 592.5,561.8 589.9,560.9 589.4,559.9 589.0,559.6 590.1,558.2 590.4,558.5 591.0,557.0 592.2,557.3 593.8,556.1 594.5,556.0 591.8,556.1 588.0,556.4 587.3,555.4 587.3,554.7 587.4,554.0 587.0,554.3 587.9,553.6 587.3,552.5 586.0,552.2 584.2,551.2 584.1,551.0 583.5,549.6 583.1,550.0 582.5,549.2 582.0,548.4 582.1,547.7 581.9,547.8 581.7,547.5 582.0,546.5 581.8,546.6 581.5,545.9 581.3,545.6 580.9,544.7 580.3,544.7 579.5,544.6 578.7,543.8 578.4,543.5 577.4,543.2 576.7,542.7 577.5,542.3 578.3,542.1 578.0,541.4 578.5,540.4 578.2,540.2 578.6,539.0 578.8,538.4 578.9,537.9 579.3,537.4 579.7,537.4 582.2,536.2 584.3,535.9 584.9,535.9 584.9,536.7 586.0,536.7 586.6,536.8 587.2,538.1 588.0,537.7 587.4,537.9 586.5,537.2 586.2,536.3 585.7,535.9 586.2,535.8 585.8,535.7 584.8,535.1 585.2,534.5 584.6,533.3 584.7,532.8 584.4,532.5 584.8,531.4 584.2,531.0 584.5,530.6 584.1,530.3 583.9,529.2 583.5,528.9 582.7,527.8 582.4,527.9 582.0,527.3 580.9,526.9 580.1,527.3 580.6,526.8 580.0,525.9 580.4,525.0 581.5,523.2 583.3,520.5 583.5,520.5 583.0,520.0 581.8,519.4 581.1,518.6 580.4,518.8 579.6,518.4 579.2,518.5 578.3,517.9 577.7,517.7 577.2,517.2 575.6,517.1 575.0,518.0 574.8,517.2 574.8,516.8 573.8,515.6 573.6,515.1 573.3,514.4 572.7,514.6 572.1,513.4 572.2,512.9 572.0,512.9 571.5,512.3 570.8,511.2 570.0,511.2 569.8,509.5 570.0,509.7 569.1,509.7 568.6,508.6 567.6,508.7 567.4,507.9 566.3,507.9 565.5,507.9 565.8,506.3 565.3,505.9 564.3,504.8 564.6,504.0 563.8,503.4 563.5,503.6 562.3,502.5 561.4,502.2 560.7,502.4 559.6,502.5 558.7,502.5 558.3,502.4 557.6,503.4 557.0,503.4 555.8,502.2 555.3,501.6 555.0,500.5 554.6,500.1 553.1,501.2 553.2,501.1 551.6,501.0 551.7,502.1 550.6,501.4 550.3,500.1 549.5,500.5 548.9,499.8 547.7,499.0 546.6,498.7 546.4,497.9 545.0,497.2 544.6,497.5 543.8,496.9 542.7,495.7 541.8,495.3 541.5,494.9 539.8,494.5 538.7,494.1 539.9,492.4 540.5,490.5 541.4,489.8 542.8,489.1 543.2,488.4 544.5,488.9 545.7,491.0 546.7,492.2 547.3,492.3 548.4,493.2 549.4,489.6 551.4,489.6 550.4,486.7 549.2,484.7 550.8,484.4 552.0,484.0 552.2,483.3 553.5,483.5 555.0,483.0 555.9,481.7 557.5,481.3 557.9,480.6 559.5,480.5 560.4,479.5 561.2,479.8 563.2,479.3 563.8,480.0 565.5,479.3 566.9,479.9 567.7,479.7 569.0,480.0 569.7,480.8 572.8,477.1 571.3,475.0 571.7,473.5 572.7,470.8 575.5,468.5 577.6,467.0 579.7,465.4 582.3,464.3 584.3,462.5 586.2,462.3 585.8,464.7 585.3,467.7 584.8,469.8 584.6,472.0 581.7,474.3 580.3,476.0 578.7,477.4 577.7,478.3 576.1,478.2 574.1,479.4 572.2,480.5 571.0,481.4 569.7,482.3 567.6,483.9 566.2,485.7 567.5,485.8 568.3,486.4 569.8,485.9 570.0,486.3 571.3,485.5 573.6,484.9 574.3,484.3 576.1,484.1 576.8,483.5 577.6,484.1 579.7,483.2 580.8,483.1 581.9,483.8 582.8,484.5 583.1,485.1 584.8,485.0 585.4,485.5 587.5,486.6 588.5,486.8 589.7,486.8 590.2,488.2 591.1,488.5 592.2,488.8 592.7,490.0 593.6,490.9 594.7,490.7 596.4,490.3 598.3,491.3 599.6,490.7 600.9,490.9 603.4,490.0 606.5,489.6 608.3,489.3 607.5,487.6 607.5,486.7 606.7,484.4 606.8,483.0 605.5,482.1 605.5,480.5 606.9,477.2 609.1,475.3 611.7,474.0 613.6,472.0 616.4,471.5 618.7,470.4 621.7,469.1 624.8,468.5 627.2,468.2 629.2,468.6 631.3,468.0 632.8,469.0 635.0,469.0 637.4,470.6 639.3,472.1 642.1,472.1 645.7,472.7 648.2,472.1 651.1,471.2 651.4,468.0 651.4,466.0 655.4,462.1 658.3,460.9 662.0,463.5 663.6,465.7 659.4,468.4 657.6,469.6 655.7,472.4 656.8,474.3 655.4,475.9 653.5,478.2 653.5,479.1 656.4,480.8 658.5,481.1 656.7,483.6 653.9,485.8 656.0,487.1 658.0,487.4 660.6,489.0 662.9,490.2 665.5,486.6 664.2,485.0 663.0,483.0 661.7,480.8 661.1,477.7 664.4,479.5 667.5,480.5 671.6,480.8 672.4,477.4 674.7,474.5 675.8,471.2 678.8,469.2 680.8,466.8M616.8,463.9 613.0,465.4 612.1,467.8 610.6,470.3 608.1,471.4 605.6,473.3 605.1,474.7 603.1,476.6 602.8,478.6 600.9,481.3 604.7,478.4 606.5,476.7 608.2,474.9 609.6,472.8 610.9,470.6 612.7,468.4 615.2,465.4 615.8,464.1M626.7,456.8 625.2,458.8 623.6,460.0 619.9,462.1 617.3,463.4 617.0,460.7 616.6,458.5 615.8,457.0 613.9,455.5 615.8,454.1 618.1,453.4 620.8,453.3 622.3,455.5 622.7,456.8 627.3,456.7M625.8,455.0 626.6,452.5 627.7,449.4 632.1,447.2 633.7,445.2 636.5,443.0 639.0,442.2 642.9,444.1 645.0,446.3 650.3,445.5 648.9,449.8 650.6,450.1 652.6,452.1 654.6,452.8 657.3,456.1 653.4,455.0 650.5,455.2 648.7,453.6 647.6,451.9 645.8,450.6 641.5,451.2 638.8,452.2 637.8,449.1 633.3,451.4 629.9,453.3 625.3,455.1M657.8,455.7 657.7,452.8 661.0,451.4 663.5,450.8 665.4,451.7 662.6,455.8 660.1,456.9 657.8,455.4M651.7,451.2 652.9,448.1 657.1,449.2 656.6,451.7 651.7,451.2M558.1,627.2 560.8,626.3 561.1,625.5 562.9,623.6 562.7,622.9 564.5,626.0 565.6,627.9 566.8,630.3 567.7,632.0 569.5,631.0 570.3,630.1 572.0,628.4 571.8,625.4 571.4,621.6 573.2,619.1 571.0,618.1 570.3,617.4 568.5,613.9 569.6,612.0 569.7,610.2 570.7,607.5 570.6,605.3 570.9,604.4 571.7,603.2 573.6,603.3 574.2,603.9 574.1,605.0 573.6,606.9 572.8,609.0 572.9,610.2 573.6,614.0 575.4,616.2 577.3,616.2 578.5,615.9 579.1,615.3 579.9,613.9 580.4,613.8 581.5,612.6 582.6,613.2 584.3,613.3 585.8,612.7 584.3,613.8 583.9,614.5 583.3,614.6 581.8,615.8 580.7,615.6 579.5,616.7 578.5,619.1 580.2,619.5 581.8,622.5 580.6,622.4 579.2,622.7 578.4,624.5 578.4,627.0 577.9,630.1 576.9,631.9 575.3,631.4 574.5,631.6 572.8,632.7 571.8,634.2 571.1,635.0 569.3,634.8 566.9,634.8 566.0,635.6 563.6,635.3 562.7,632.1 563.3,629.8 563.1,626.7 561.8,627.8 560.4,629.0 560.2,631.3 561.8,633.8 562.1,635.9 561.5,636.9 559.8,638.8 557.8,638.8 557.1,638.8 556.6,639.9 556.0,643.0 555.1,644.6 551.8,645.6 551.5,647.4 548.9,649.0 548.3,650.0 546.8,648.7 546.6,651.2 543.8,651.5 541.9,651.7 540.1,651.6 541.2,653.5 543.2,654.8 544.4,655.6 546.3,657.9 546.1,662.1 545.6,666.4 543.5,665.7 542.0,666.1 540.1,665.5 538.3,665.0 537.2,665.4 534.7,664.2 533.2,664.2 530.2,665.7 529.8,668.9 529.9,672.0 528.2,675.4 527.0,677.5 527.8,679.9 527.4,682.4 530.8,683.4 533.5,684.6 535.9,686.9 539.0,685.5 540.9,685.5 543.9,685.0 546.9,682.2 549.5,680.0 548.4,677.5 550.6,673.7 553.2,671.9 555.4,669.4 555.8,667.1 558.4,666.2 561.6,665.9 563.8,663.9 566.0,662.0 569.9,663.7 571.8,666.7 574.7,667.5 577.1,668.5 579.2,670.2 582.6,671.4 584.8,674.0 584.9,676.2 586.7,673.6 585.2,671.5 584.8,669.3 588.5,669.7 586.4,667.6 584.2,666.2 582.6,666.1 580.2,665.6 578.3,665.0 575.6,662.6 573.6,660.9 573.0,657.7 574.7,656.5 575.3,659.1 576.6,657.5 579.1,660.1 581.6,661.7 584.3,662.0 586.1,662.2 588.4,663.0 589.4,665.6 590.9,667.7 592.0,668.6 594.1,669.8 595.8,671.7 596.4,672.9 599.0,675.1 600.6,675.9 601.8,675.3 601.4,673.0 601.4,670.5 602.3,668.7 599.1,667.6 596.7,665.2 597.2,663.8 599.7,665.0 599.8,662.8 601.9,661.5 602.8,661.1 604.0,661.4 604.6,662.7 605.2,661.5 607.1,658.3 608.1,657.9 606.7,657.9 605.6,656.3 603.6,653.5 603.8,649.8 603.7,646.1 603.9,642.8 604.9,641.7 608.0,642.0 609.1,642.8 612.1,644.4 613.7,641.8 615.1,639.2 611.6,639.0 611.5,637.6 612.4,635.6 613.9,634.0 615.2,633.4 615.8,632.1 615.9,636.1 615.8,638.0 615.7,639.6 618.9,639.3 620.8,638.8 623.1,639.5 625.9,638.7 628.0,638.9 629.9,641.0 629.2,642.3 627.8,643.7 626.0,645.3 624.4,646.5 622.8,647.8 620.5,648.5 618.5,648.6 618.2,647.9 616.0,650.7 615.1,651.7 614.0,654.0 612.0,655.1 610.2,656.4 608.4,656.8 609.4,657.3 608.1,658.7 606.7,661.1 604.3,663.2 606.5,664.3 607.2,666.8 611.0,669.2 613.1,669.4 616.0,668.8 618.3,666.1 620.5,665.6 623.7,665.4 624.4,663.8 626.4,661.6 629.1,659.8 630.1,663.2 632.7,666.3 633.7,670.4 633.8,675.9 632.2,676.9 630.4,678.5 627.0,680.1 624.6,683.3 621.0,685.0 619.0,685.2 616.1,686.1 613.9,686.5 611.2,686.1 608.6,686.3 606.5,686.6 602.6,686.5 600.5,690.8 600.5,696.2 597.0,696.3 595.3,695.7 592.2,695.8 587.8,693.8 584.4,693.0 582.8,692.8 580.2,693.0 577.5,692.5 574.8,691.4 574.9,689.0 575.7,686.8 574.1,682.2 571.1,681.7 569.1,683.0 566.3,683.9 564.4,684.4 561.9,684.1 559.7,684.6 556.6,684.5 555.7,685.6 552.7,686.3 551.6,686.1 548.2,687.7 545.6,689.2 543.5,689.6 540.3,689.5 538.6,688.8 536.4,687.8 534.7,687.2 533.3,691.5 529.5,693.7 527.1,695.0 524.7,698.0 522.7,702.3 523.0,703.9M583.9,676.6 584.0,679.8 583.5,680.7 582.3,680.9 580.3,680.3 577.7,679.5 577.8,678.5 580.6,678.1 583.9,676.5M568.4,671.3 569.1,673.1 570.4,676.6 568.7,677.4 567.7,674.8 566.4,672.6 568.4,670.3M567.8,665.8 568.4,667.8 568.5,670.1 567.2,668.2 567.3,667.2 568.2,665.9M605.0,676.7 605.4,677.8 608.6,677.0 610.9,676.0 609.4,676.2 606.5,676.6 604.0,677.4M623.6,668.8 625.9,668.9 627.5,664.8 624.9,667.1 623.9,668.2M556.2,675.7 555.4,677.3 554.5,677.6 555.8,676.4M539.2,648.2 541.3,647.2 542.2,647.1 544.1,646.9 545.9,646.3 546.9,646.1 548.5,646.0 550.7,645.5 550.8,645.5 549.6,644.6 551.7,640.4 548.8,640.6 548.2,638.7 547.9,636.5 546.1,633.7 544.6,632.5 545.4,631.4 546.1,628.0 544.8,628.5 543.8,627.8 544.9,625.5 543.5,625.4 542.8,625.4 540.5,628.3 540.1,630.3 541.6,633.0 541.3,634.5 543.4,635.8 544.1,637.6 543.9,638.8 541.7,639.5 541.6,640.8 540.7,642.5 540.3,643.4 541.5,643.3 543.5,644.5 543.1,645.2 541.8,645.8 539.0,648.1M532.7,642.5 535.4,642.3 537.6,642.6 538.8,641.5 539.1,638.9 539.6,636.6 539.4,633.8 537.7,633.1 535.8,636.4 534.2,635.7 533.8,638.6 531.9,640.4 532.8,642.9M567.1,632.7 567.0,630.8 564.5,632.0 565.7,632.5 566.8,633.1M574.2,625.5 574.4,622.8 572.8,624.6 573.7,625.8M628.9,620.2 630.4,618.7 631.6,618.0 632.7,617.0 634.0,615.9 638.1,617.3 637.3,619.1 636.6,620.7 636.4,622.4 641.3,623.3 643.9,623.4 646.7,624.3 649.9,625.3 652.2,626.5 654.7,627.5 657.5,629.0 656.4,631.3 656.1,633.6 653.3,635.0 651.0,636.1 646.9,635.5 645.0,632.9 644.5,631.1 639.9,629.6 635.7,629.2 630.9,627.4 630.1,623.8 630.1,620.8 629.2,620.1M643.3,600.7 642.9,603.2 643.4,604.4 643.2,607.0 645.9,609.9 648.1,608.6 649.3,607.1 647.4,603.0 645.0,602.0 643.4,601.4M640.6,526.7 638.7,525.3 637.3,524.5 635.3,523.9 633.2,523.0 629.9,522.7 627.7,521.5 629.4,522.7 632.5,523.4 634.5,523.4 637.4,524.3 638.8,525.7 640.8,526.9M656.3,581.1 653.0,579.2 652.6,576.8 653.5,575.7 653.9,574.2 653.2,572.7 653.7,571.6 655.5,571.0 654.6,572.5 654.6,574.9 654.4,576.5 655.8,578.2 656.5,580.3M585.7,611.7 583.1,609.9 584.6,609.5 585.0,608.0 587.8,609.3 586.7,610.6 586.5,611.8M589.3,606.7 586.1,604.1 588.2,604.0 588.8,607.4M526.6,466.7 527.4,465.1 528.4,464.5M528.5,463.7 531.1,461.6M532.4,460.7 533.9,459.5M537.1,459.0 538.5,457.8 539.5,457.4M542.1,456.8 544.0,456.3 545.3,456.7M550.2,455.9 551.6,456.2 552.7,456.7M556.3,458.1 558.2,459.0 559.8,459.5M569.8,467.7 567.2,465.7M587.8,461.1 589.6,460.3M592.0,458.6 593.9,458.1M597.5,455.0 600.8,455.1M604.6,454.5 606.0,454.2 609.3,454.3M611.5,455.0 613.8,454.8M514.8,477.4 513.7,481.2 513.2,482.6 511.8,480.6 513.3,479.5 514.7,477.4M539.7,486.2 538.0,488.0 536.1,486.6 538.0,485.7 539.7,486.5M484.6,490.6 481.6,489.2 479.4,489.2 482.9,489.7 484.5,490.6M459.5,593.3 461.1,594.7 460.6,597.3 459.8,595.6 459.2,593.1M508.7,557.4 510.5,556.4 511.2,556.9 511.3,557.8 510.4,559.0 509.9,559.3 509.0,558.4 508.5,558.4 509.1,557.4 508.7,557.3M513.3,546.0 515.2,546.0 515.0,546.9 514.1,547.5 513.9,547.7 513.1,547.7 512.9,547.2 513.4,546.2 512.6,546.3M519.9,532.0 520.9,533.4 522.6,534.0 522.2,534.9 522.3,535.9 522.2,535.5 521.8,536.5 519.7,535.0 519.9,533.9 519.8,533.6 520.6,532.6 520.3,532.4 519.9,532.0M520.4,546.3 523.2,546.7 523.0,547.1 522.6,547.8 522.7,548.1 520.2,547.2 520.8,546.5 520.2,546.9 520.1,546.1M495.9,562.2 498.7,561.6 498.2,563.4 498.2,564.5 496.2,563.5 495.7,562.5M482.5,557.8 484.6,558.1 484.7,559.1 484.7,561.0 482.2,559.3 482.3,557.4M482.5,561.3 483.5,561.2 482.3,562.5 482.0,561.8M459.0,563.0 460.2,564.1 459.3,564.0 459.2,562.7M467.9,564.5 469.8,565.7 468.9,565.9 468.3,564.7M486.5,578.3 488.0,578.1 487.3,578.9 486.3,579.0M501.2,558.4 503.1,559.1 502.0,560.4 501.0,559.2 501.5,558.9 501.3,558.1M516.5,541.6 518.5,542.5 517.1,542.7 517.2,542.0 517.1,541.5M516.0,546.8 517.1,546.5 517.4,546.9 516.9,547.8 515.4,546.5M509.5,539.2 512.0,539.1 511.7,539.7 511.2,540.4 510.4,538.9M499.1,539.9 500.7,539.9 499.9,540.6 499.9,539.6M524.6,545.5 525.6,545.6 526.2,546.2 525.8,546.4 525.4,547.3 525.9,546.3 525.4,546.8 524.9,546.3M520.1,534.1 520.5,534.7 519.6,534.6 520.4,534.6 520.1,534.5 520.2,534.2M510.9,548.4 512.6,547.7 512.4,548.8 511.7,547.7M498.1,601.3 498.1,599.8 498.3,598.1M561.3,572.8 561.4,572.0 561.7,572.1 562.0,573.3 561.2,572.8M558.9,575.3 558.5,575.5 559.6,575.3 559.5,575.1 560.1,576.6 559.5,575.7 558.5,575.0M560.6,584.4 561.2,584.8 561.1,585.4 561.3,585.3M542.4,594.5 542.6,594.7 542.2,594.6 542.8,595.1M540.9,617.1 540.9,616.3 540.9,617.8 540.5,616.9M547.5,622.0 547.2,620.3 547.2,621.7 546.5,621.8M544.5,624.5 545.3,624.4 544.9,625.0 544.9,624.9M539.4,628.2 540.6,625.9 539.3,628.0 539.4,628.3M585.9,581.0 585.8,582.7 587.7,582.3 586.6,581.3 586.2,581.3M585.3,563.2 586.0,562.3 586.4,563.9 586.1,563.0M573.2,555.6 572.8,555.6 572.9,555.2 572.7,555.9M577.8,620.5 577.2,619.7 579.4,620.8 578.6,621.8 577.4,620.8M577.0,619.8 577.9,618.8 578.6,619.1M572.0,628.9 572.0,626.1 572.5,628.0M570.6,631.8 571.1,631.6 570.9,631.7 571.0,631.6M573.6,617.8 573.6,616.3 574.0,617.1 573.1,617.1M563.7,634.3 564.5,632.3 565.2,632.8 563.9,634.0M566.1,634.3 566.7,633.3 566.4,634.1M591.7,669.7 591.2,668.8 592.5,669.7M594.9,672.8 595.8,673.0M605.9,666.7 605.7,667.0 606.2,667.6M605.5,665.0 605.4,664.2 606.3,665.1M612.7,670.4 612.8,670.1 613.2,672.0M551.7,679.1 552.6,678.4M557.7,675.1 558.3,676.0M602.9,479.4 601.8,478.4M585.6,484.8 584.8,484.6M606.9,487.3 606.4,487.5 606.9,487.1 606.7,487.3M525.6,467.0 524.2,468.0M495.0,494.3 493.4,493.9 492.4,493.3 493.9,494.6M489.7,494.4 487.6,493.2 484.9,492.7 488.6,492.6 489.8,494.5M492.1,495.1 491.6,493.8 491.2,495.2M532.7,479.4 531.8,480.3 530.8,478.8 532.6,479.1" stroke="#300c34" stroke-width="1.35"/><path d="M517.0,512.9 516.6,513.4 515.7,513.6 513.8,513.1 515.1,514.0 514.8,513.8 513.8,514.6 513.8,515.8 512.7,515.8 512.9,517.6 513.4,517.0 513.2,517.6 512.7,518.2 511.5,520.0 511.6,519.6 512.3,521.1 510.6,521.6 510.5,521.6 509.4,522.4 509.6,522.9 509.4,522.2 508.1,522.4 507.3,522.6 507.0,523.9 506.1,524.4 506.1,524.2 506.4,524.9 505.1,525.4 505.3,525.1 505.3,525.5 504.0,527.1 501.9,527.3 501.6,527.3 500.1,526.8 500.2,528.9 500.1,529.3 501.1,530.3 500.0,530.0 500.1,531.4 499.3,532.0 500.3,532.9 499.0,533.7 498.7,533.3 499.3,534.9 498.5,535.5 498.5,535.1 497.8,535.5 497.2,536.1 497.9,538.1 496.7,537.3 498.1,538.7 497.2,538.9 497.5,540.5 497.4,540.6 496.8,542.0 496.8,542.0 498.2,542.1 498.9,544.3 499.6,544.9 499.7,545.1 502.1,546.2 504.8,546.0 504.9,547.1 504.0,547.0 502.2,548.0 501.3,547.9 499.3,548.5 497.4,550.7 498.7,550.8 498.3,551.1 498.0,551.6 499.5,553.3 499.2,553.8 499.4,554.4 498.7,555.3 497.7,555.9 497.1,556.4 497.4,557.5 498.6,557.6 501.3,556.8 497.4,557.6 496.0,558.0 494.5,558.5 494.2,557.9 493.2,556.9 493.2,556.6 492.0,555.9M500.1,577.0 500.6,576.4 500.1,574.7 499.8,574.3 501.4,572.7 501.3,572.2 501.7,570.3 502.2,570.1 503.6,568.9 505.1,568.6 505.5,567.7 504.8,566.0 505.8,566.0 505.9,565.3 506.9,563.5 507.0,563.1 506.8,562.2 507.6,561.5 507.8,560.6 508.7,560.5 509.4,560.1 509.2,560.0 509.3,558.5 510.2,557.9 510.0,558.1 510.4,556.3 510.8,555.9 510.7,555.8 510.8,556.3 510.7,555.0 510.2,554.9 509.1,553.7 509.0,553.9 509.1,554.0 508.1,552.5 508.8,551.5 507.7,551.8 508.8,550.7 509.0,551.4 508.8,550.1 506.5,549.7 505.7,549.7 503.9,551.4 501.5,551.2 501.9,552.3 500.8,552.7 501.5,553.7 500.7,554.3 500.9,555.1 501.8,555.1 502.7,556.6 501.9,556.7 502.7,557.9 503.1,557.4 501.8,558.0 502.6,558.9 501.5,560.0 501.1,560.9 500.7,560.9 500.3,562.0 499.4,562.9 497.5,564.6 496.3,565.7 495.1,565.6 493.2,564.5M502.0,530.2 503.4,529.2 502.7,529.1 504.0,528.4 505.1,528.1 507.0,528.7 509.0,528.2 511.5,529.0 512.3,531.1 512.0,531.8 513.0,531.8 512.4,533.0 513.5,532.7 512.9,534.0 512.4,534.0 511.3,534.8 511.8,534.3 510.4,535.9 510.8,536.1 509.6,536.8 511.1,537.9 510.7,537.0 510.1,537.6 508.8,539.1 508.0,538.1 506.5,539.7 505.4,539.6 505.0,539.2 504.5,539.5 502.8,540.5 501.0,539.4 500.1,539.9 500.5,538.2 499.8,537.7 500.0,537.3 500.6,536.4 499.1,536.2 499.6,535.4 500.5,535.3 500.9,534.3 500.8,533.6 501.2,533.3 502.0,531.8 501.9,531.6 503.1,530.7 503.4,530.9 502.8,530.4 501.5,529.0M512.2,525.5 513.9,525.9 514.2,526.5 515.0,526.4 516.3,526.9 518.9,529.1 517.6,528.6 518.5,529.9 518.1,529.5 517.6,530.2 516.8,530.6 516.9,530.9 516.0,530.8 516.2,532.0 515.6,531.9 515.2,532.4 514.2,532.8 513.9,532.9 512.7,531.6 512.7,530.9 513.6,530.9 513.3,529.4 512.7,530.1 510.8,527.2 511.0,526.2 511.0,525.9 511.8,525.8M517.6,549.9 518.4,550.5 520.0,550.8 521.9,551.4 523.4,552.3 524.4,552.0 525.4,551.2 525.6,551.4 525.5,550.6 526.3,550.3 527.5,549.3 527.2,548.8 527.5,549.1 528.1,550.8 528.3,550.0 528.8,550.3 529.5,551.2 528.9,550.7 530.1,552.0 530.3,551.4 531.2,551.0 530.0,552.4 530.9,551.4 531.5,553.1 531.5,552.3 531.0,552.1 532.4,553.0 532.5,552.4 531.6,552.6 531.9,552.8 531.8,553.6 532.0,553.2 531.7,554.9 532.1,554.3 532.6,554.5 532.2,554.3 532.4,554.9 533.8,555.1 533.9,554.7 532.7,555.4 533.6,555.6 533.4,555.9 533.9,556.6 533.2,556.1 534.0,556.0 532.8,556.4 532.7,557.4 533.9,556.9 532.7,556.8 532.9,557.0 533.2,558.1 532.9,557.5 532.4,557.8 530.4,558.5 529.5,558.4 529.2,558.6 529.4,558.9 529.2,558.9 528.6,558.7 527.7,558.9 527.7,559.0 527.4,558.4 526.3,558.4 526.1,557.1 525.2,557.0 525.2,557.6 524.8,556.5 524.3,557.2 521.9,556.4 520.8,556.8 521.2,557.5 520.0,556.1 518.9,556.1 518.0,555.2 517.6,556.2 517.7,554.7 517.3,554.4 517.5,554.4 517.8,554.6 516.4,553.4 517.5,553.2 516.8,552.8 517.3,553.2 516.9,552.8 517.0,551.0 517.4,551.1 516.2,551.6 516.2,550.6M512.4,549.6 514.5,548.3 516.6,548.0 516.9,548.7 517.1,548.9 516.3,549.4 517.2,550.7 516.8,550.8 515.9,550.5 516.4,551.5 515.0,551.5 514.9,552.8 516.0,552.5 515.7,553.2 515.6,554.5 515.6,554.8 515.3,554.0 515.6,555.3 515.2,555.4 515.5,555.3 512.9,556.0 513.0,556.1 512.7,556.1 513.3,555.6 512.9,554.7 512.6,554.5 512.2,553.7 512.6,553.1 511.9,552.0 511.6,551.9 512.4,552.1 512.6,550.9 513.0,550.4 512.7,549.6 512.7,550.1 513.1,550.0 512.7,549.5M521.6,550.8 521.2,550.3 522.7,549.4 523.2,549.6 522.7,548.4 523.1,548.3 524.0,549.1 524.8,548.4 525.7,547.9 528.0,548.9 527.8,548.8 527.9,548.8 526.8,549.2 527.2,550.5 526.3,550.3 527.1,550.0 525.8,550.8 525.2,551.7 523.3,551.4 522.0,551.1 521.9,550.3M513.4,539.3 514.9,538.3 513.7,537.8 515.0,538.3 514.7,537.2 515.8,537.6 516.3,537.4 515.7,536.7 517.9,537.4 518.1,537.1 519.6,537.1 518.9,537.2 519.8,537.3 518.6,537.3 518.6,537.6 518.6,538.9 518.5,539.6 519.5,540.2 519.1,540.3 518.8,540.9 517.8,541.2 516.4,540.1 513.9,539.9 514.0,539.7 514.0,539.5M505.6,546.8 508.5,546.3 510.0,546.4 510.5,547.0 510.7,547.9 511.5,547.0 511.2,548.5 510.5,548.0 510.9,548.9 511.3,550.2 507.9,549.6 507.7,549.6 507.8,548.9 506.6,547.9 507.1,547.6 505.5,546.8M504.6,543.2 505.8,542.2 507.3,542.1 510.1,541.9 509.8,543.3 510.1,543.1 511.9,543.2 510.6,544.1 508.1,544.4 507.5,545.0 506.7,543.8 505.4,544.5 504.9,542.9M513.2,543.4 516.7,544.1 518.0,543.2 517.7,544.7 517.6,544.8 518.2,545.2 517.6,544.6 516.5,546.2 514.7,546.0 515.0,545.5 514.0,545.1 514.3,544.4M521.3,537.2 522.8,538.6 524.9,538.4 523.9,538.9 523.9,539.3 524.2,539.4 523.3,540.3 523.1,540.6 522.5,540.4 521.4,538.6 522.4,539.7 522.0,537.9 521.4,538.7 522.6,536.9 521.4,537.1 521.5,537.1M520.1,542.7 521.5,542.6 524.6,543.3 523.2,542.7 524.1,543.5 523.7,544.0 524.0,545.2 523.5,544.9 523.6,545.2 524.4,544.9 520.8,545.8 520.0,545.5 520.6,544.7 520.8,544.7 519.8,543.9 519.8,543.3 520.2,542.3 520.1,542.6 520.6,542.9M498.5,542.0 500.9,543.8 500.9,544.6 499.6,543.9 500.3,544.5 497.9,544.5 498.3,543.2 499.2,542.3 498.8,542.5M502.3,584.0 504.4,582.3 505.4,582.0 506.6,581.2 508.4,581.1 510.8,581.0 509.8,580.9 510.8,579.2 511.2,578.8 510.7,577.9 510.7,576.5 513.4,574.9 515.1,572.6 515.6,570.6 518.3,569.7 517.5,568.2 519.2,568.1 519.7,566.7 519.6,566.1 520.3,566.2 519.9,565.2 520.3,564.6 518.8,565.1 518.7,563.8 519.1,564.3 519.7,564.0 518.3,563.5 519.4,562.3 519.1,562.1 518.3,561.3 519.6,561.5 520.4,560.7 519.8,559.7 520.6,560.2 521.2,558.1 522.2,557.3 522.7,558.4 523.4,557.9 523.0,558.7 524.2,558.8 524.4,559.7 524.1,558.9 525.1,559.5 526.1,559.7 526.1,559.7 526.7,560.5 526.7,559.4 527.4,559.8 529.2,559.6 529.6,560.2 530.9,559.3 531.0,559.7 530.3,560.3 531.9,560.3 531.0,561.0 531.9,560.5 532.8,560.0 532.7,560.1 532.6,559.8 533.8,560.5 534.3,560.0 533.6,560.3 534.9,561.4 535.0,561.1 534.0,561.1 534.4,560.6 535.2,561.1 534.7,561.6 536.2,562.4 535.7,561.1 536.4,561.2 536.3,561.2 537.3,562.0 536.6,561.6 537.1,562.8 537.1,561.6 537.5,562.8 537.5,562.4 538.6,561.9 538.7,562.3 537.9,561.5 539.4,562.2 538.8,562.9 539.3,562.3 539.1,562.7 539.3,562.3 540.3,562.5 539.4,562.0 540.5,563.0 539.7,563.5 539.8,562.4 539.9,562.9 540.9,563.7 540.3,563.6 540.4,563.6 540.8,563.4 540.6,564.1 540.9,564.3 541.2,564.4 541.7,564.7 542.1,565.8 541.2,565.4 542.2,565.5 541.5,566.4 542.5,566.4 542.1,567.8 542.4,566.8 542.9,567.5 543.0,568.2 542.5,568.7 543.1,568.0 543.4,568.5 543.6,568.8 544.0,568.3 543.7,568.2 544.4,569.6 544.7,568.6 544.4,569.4 543.3,569.6 544.2,571.3 542.6,571.8 542.7,571.7 542.2,572.1 540.9,572.7 540.7,574.6 540.2,576.8 539.0,578.8 538.7,580.5 537.6,582.7 536.3,584.1 534.6,584.9 534.3,586.8 531.5,588.5 532.3,590.5 531.5,592.8 531.4,592.8 530.3,591.9 530.2,593.0 529.3,592.9 528.7,592.6 528.4,592.3 527.5,593.5 529.4,593.2 528.3,594.3 527.5,594.5 526.6,594.5 525.6,595.1 525.2,595.8 524.4,595.1 524.5,596.3 523.2,595.3 521.9,595.7 521.0,595.0 520.3,596.2 519.8,596.3 518.9,596.1 518.3,596.5 517.3,595.8 516.1,596.3 515.6,596.4M526.9,601.4 527.2,602.4M530.7,604.7 530.8,604.1 532.9,603.7 532.8,604.1 533.9,604.5M557.6,579.5 556.8,579.7 556.2,578.4 556.4,579.4 556.3,577.8 556.0,576.9 553.8,574.9 552.8,574.0 554.2,573.6 554.6,573.4 555.0,573.5 554.7,572.6 554.8,572.9 555.7,572.4 555.1,573.1 555.0,572.5 555.5,572.6 556.4,571.5 556.9,571.9 556.5,572.4 557.5,571.4 557.6,570.9 557.6,570.7 558.2,572.2 558.7,571.0 558.9,571.8 559.2,571.5 559.4,572.1 558.9,572.8 559.0,572.6 558.6,572.9 559.7,573.3 558.2,573.7 559.3,573.6 558.1,574.2 559.8,577.4 558.6,578.6 558.7,578.7 558.7,579.5 557.8,579.0 557.9,579.5 558.4,580.3M561.1,605.9 562.4,604.0 562.3,602.2 561.2,600.3 561.5,599.4 562.1,600.0 562.3,598.6 563.3,598.3 563.0,597.4 564.3,596.1 563.8,596.6 565.4,594.9 564.5,595.1 565.2,594.5 565.2,593.5 565.7,592.7 567.0,592.4 567.7,592.5 567.8,592.0 567.5,590.8 568.2,590.6 568.6,591.0 569.7,590.9 571.4,591.2 571.2,591.1 573.3,590.2 574.1,591.5 574.3,590.7 574.5,590.8 576.5,590.7 576.1,591.0 577.1,590.9 577.8,590.2 577.9,591.0 579.6,589.9 580.1,590.3 580.8,590.7 582.6,590.0M585.2,593.7 584.3,594.6 583.5,594.2 583.3,594.6 582.3,594.5 583.2,595.7 581.3,595.5 580.4,595.3 579.7,597.0 578.9,596.2M508.0,556.4 511.6,557.0 511.5,557.7 511.2,557.3 510.2,557.8 510.1,558.2 509.8,559.4 508.5,558.6 509.7,559.0 509.3,558.3 509.5,557.6 508.5,557.1M512.8,545.1 514.4,546.2 513.9,546.1 513.9,547.1 514.9,547.8 513.3,547.8 513.0,546.6 512.8,546.0 513.3,546.4M520.8,531.7 520.7,532.5 522.4,534.1 521.4,534.6 521.7,534.8 522.4,535.8 521.7,536.5 521.5,537.2 520.4,535.7 520.4,534.9 520.1,534.7 520.4,533.9 519.5,532.6 520.2,532.6 519.7,532.5M520.0,546.1 522.7,547.0 522.2,546.9 522.6,547.4 522.1,547.1 522.2,548.0 520.6,546.8 520.3,547.1 519.8,545.9 521.0,545.4M496.1,561.8 497.6,561.7 497.8,562.8 499.0,563.3 496.2,563.8 496.5,562.0 495.7,561.7M501.4,558.3 502.3,558.9 502.3,559.0 502.2,560.7 501.5,559.7 501.6,559.8 501.0,557.6M516.7,542.1 517.8,542.8 517.5,543.0 517.6,543.5 517.7,542.9 517.1,542.2M515.3,546.6 517.6,545.7 517.6,546.5 517.0,547.4 516.7,547.3 515.6,547.1M509.9,539.2 512.3,538.9 511.8,540.6 510.7,541.0 510.9,539.9 510.5,539.7M499.1,539.9 500.8,540.1 500.7,541.3 500.1,539.2M524.8,546.5 526.8,546.3 525.7,546.6 525.9,546.7 526.0,547.3 526.0,547.8 525.4,546.7 525.4,546.4 524.2,546.6M520.2,533.8 519.9,533.9 521.6,534.7 519.7,535.7 519.7,535.0 520.4,534.9 520.4,533.5M510.9,547.7 511.4,547.0 511.4,548.1 511.7,548.6M561.0,572.7 561.1,572.7 561.6,571.4 562.0,572.6 561.0,573.5 560.6,573.0M558.8,575.4 559.5,575.2 560.1,574.8 560.4,575.5 559.2,576.4 560.0,576.4 558.8,575.9M560.2,584.6 561.0,585.2 561.8,584.5 561.7,585.0M541.9,593.9 542.5,594.4 542.3,594.6 542.9,594.6" stroke="#300c34" stroke-width="2.0"/></g>
<path d="M393,549.9 H704.8 M548.9,406 V705.8" stroke="#4a2a4a" stroke-width="1" fill="none"/>
<circle cx="548.9" cy="549.9" r="155.9" fill="none" stroke="#4a2a4a" stroke-width="1.1"/>
<rect x="537.9" y="390" width="176" height="16.5" fill="#fff"/>
<text x="549.7" y="402.2" class="n" textLength="153" lengthAdjust="spacing">NOAA/ESRL Physical Sciences Division</text>
<text x="45" y="367.5" class="t" textLength="344.5" lengthAdjust="spacing">1000mb Air Temperature (K) Composite Anomaly (1981−2010 Climato</text>
<text x="390" y="367.5" class="t">h</text>
<text x="395.6" y="367.5" class="t" textLength="336" lengthAdjust="spacing">b Air Temperature (K) Composite Anomaly (1981−2010 Climatology)</text>
<text x="175.5" y="376.9" class="t" textLength="108" lengthAdjust="spacing" xml:space="preserve">10/1/13  to 2/8/14</text>
<text x="495.2" y="376.9" class="t" textLength="105.5" lengthAdjust="spacing" xml:space="preserve">10/1/14  to 2/8/15</text>
<text x="45" y="731.3" class="t" textLength="344.5" lengthAdjust="spacing">1000mb Air Temperature (K) Composite Anomaly (1981−2010 Climato</text>
<text x="390.2" y="731.3" class="t" textLength="343.2" lengthAdjust="spacing">mb Air Temperature (K) Composite Anomaly (1981−2010 Climatology)</text>
<text x="175.5" y="740.7" class="t" textLength="108" lengthAdjust="spacing" xml:space="preserve">10/1/15  to 2/8/16</text>
<text x="496.7" y="740.7" class="t" textLength="105.5" lengthAdjust="spacing" xml:space="preserve">10/1/16  to 2/8/17</text>
<text x="494" y="756" class="t" textLength="110" lengthAdjust="spacing">NCEP/NCAR Reanalysis</text>
<path d="M748.5,38.3 L753.9,22.3 L759.3,38.3 Z" fill="#c81010" stroke="#3a1a1a" stroke-width=".8"/>
<rect x="748.5" y="38.30" width="10.8" height="15.53" fill="#f01414" stroke="#3a2a2a" stroke-width=".8"/>
<rect x="748.5" y="53.82" width="10.8" height="15.53" fill="#ff6e14" stroke="#3a2a2a" stroke-width=".8"/>
<rect x="748.5" y="69.35" width="10.8" height="15.53" fill="#ff8c14" stroke="#3a2a2a" stroke-width=".8"/>
<rect x="748.5" y="84.88" width="10.8" height="15.53" fill="#ffaa14" stroke="#3a2a2a" stroke-width=".8"/>
<rect x="748.5" y="100.40" width="10.8" height="15.53" fill="#ffff1e" stroke="#3a2a2a" stroke-width=".8"/>
<rect x="748.5" y="115.92" width="10.8" height="15.53" fill="#f0e61e" stroke="#3a2a2a" stroke-width=".8"/>
<rect x="748.5" y="131.45" width="10.8" height="15.53" fill="#dce61e" stroke="#3a2a2a" stroke-width=".8"/>
<rect x="748.5" y="146.97" width="10.8" height="15.53" fill="#96dc1e" stroke="#3a2a2a" stroke-width=".8"/>
<rect x="748.5" y="162.50" width="10.8" height="15.53" fill="#32dc1e" stroke="#3a2a2a" stroke-width=".8"/>
<rect x="748.5" y="178.02" width="10.8" height="15.53" fill="#fff" stroke="#3a2a2a" stroke-width=".8"/>
<rect x="748.5" y="193.55" width="10.8" height="15.53" fill="#fff" stroke="#3a2a2a" stroke-width=".8"/>
<rect x="748.5" y="209.07" width="10.8" height="15.53" fill="#1ef0f0" stroke="#3a2a2a" stroke-width=".8"/>
<rect x="748.5" y="224.60" width="10.8" height="15.53" fill="#1e96e6" stroke="#3a2a2a" stroke-width=".8"/>
<rect x="748.5" y="240.12" width="10.8" height="15.53" fill="#1e6ed2" stroke="#3a2a2a" stroke-width=".8"/>
<rect x="748.5" y="255.65" width="10.8" height="15.53" fill="#1e3ce6" stroke="#3a2a2a" stroke-width=".8"/>
<rect x="748.5" y="271.18" width="10.8" height="15.53" fill="#8c14e6" stroke="#3a2a2a" stroke-width=".8"/>
<rect x="748.5" y="286.70" width="10.8" height="15.53" fill="#c814c8" stroke="#3a2a2a" stroke-width=".8"/>
<rect x="748.5" y="302.23" width="10.8" height="15.53" fill="#b414b4" stroke="#3a2a2a" stroke-width=".8"/>
<rect x="748.5" y="317.75" width="10.8" height="15.53" fill="#961096" stroke="#3a2a2a" stroke-width=".8"/>
<rect x="748.5" y="333.28" width="10.8" height="15.53" fill="#640a64" stroke="#3a2a2a" stroke-width=".8"/>
<path d="M748.5,348.8 L753.9,364.8 L759.3,348.8 Z" fill="#460546" stroke="#2a0a2a" stroke-width=".8"/>
<text x="762.7" y="41.3" class="cb">5</text>
<text x="762.7" y="72.3" class="cb">4</text>
<text x="762.7" y="103.4" class="cb">3</text>
<text x="762.7" y="134.4" class="cb">2</text>
<text x="762.7" y="165.5" class="cb">1</text>
<text x="762.7" y="196.6" class="cb">0</text>
<text x="762.7" y="227.6" class="cb">−1</text>
<text x="762.7" y="258.6" class="cb">−2</text>
<text x="762.7" y="289.7" class="cb">−3</text>
<text x="762.7" y="320.8" class="cb">−4</text>
<text x="762.7" y="351.8" class="cb">−5</text>
<path d="M750.5,401.6 L755.75,385.6 L761,401.6 Z" fill="#c81010" stroke="#3a1a1a" stroke-width=".8"/>
<rect x="750.5" y="401.60" width="10.5" height="15.56" fill="#f01414" stroke="#3a2a2a" stroke-width=".8"/>
<rect x="750.5" y="417.16" width="10.5" height="15.56" fill="#ff6e14" stroke="#3a2a2a" stroke-width=".8"/>
<rect x="750.5" y="432.72" width="10.5" height="15.56" fill="#ff8c14" stroke="#3a2a2a" stroke-width=".8"/>
<rect x="750.5" y="448.28" width="10.5" height="15.56" fill="#ffaa14" stroke="#3a2a2a" stroke-width=".8"/>
<rect x="750.5" y="463.84" width="10.5" height="15.56" fill="#ffff1e" stroke="#3a2a2a" stroke-width=".8"/>
<rect x="750.5" y="479.40" width="10.5" height="15.56" fill="#f0e61e" stroke="#3a2a2a" stroke-width=".8"/>
<rect x="750.5" y="494.96" width="10.5" height="15.56" fill="#dce61e" stroke="#3a2a2a" stroke-width=".8"/>
<rect x="750.5" y="510.52" width="10.5" height="15.56" fill="#96dc1e" stroke="#3a2a2a" stroke-width=".8"/>
<rect x="750.5" y="526.08" width="10.5" height="15.56" fill="#32dc1e" stroke="#3a2a2a" stroke-width=".8"/>
<rect x="750.5" y="541.64" width="10.5" height="15.56" fill="#fff" stroke="#3a2a2a" stroke-width=".8"/>
<rect x="750.5" y="557.20" width="10.5" height="15.56" fill="#fff" stroke="#3a2a2a" stroke-width=".8"/>
<rect x="750.5" y="572.76" width="10.5" height="15.56" fill="#1ef0f0" stroke="#3a2a2a" stroke-width=".8"/>
<rect x="750.5" y="588.32" width="10.5" height="15.56" fill="#1e96e6" stroke="#3a2a2a" stroke-width=".8"/>
<rect x="750.5" y="603.88" width="10.5" height="15.56" fill="#1e6ed2" stroke="#3a2a2a" stroke-width=".8"/>
<rect x="750.5" y="619.44" width="10.5" height="15.56" fill="#1e3ce6" stroke="#3a2a2a" stroke-width=".8"/>
<rect x="750.5" y="635.00" width="10.5" height="15.56" fill="#8c14e6" stroke="#3a2a2a" stroke-width=".8"/>
<rect x="750.5" y="650.56" width="10.5" height="15.56" fill="#c814c8" stroke="#3a2a2a" stroke-width=".8"/>
<rect x="750.5" y="666.12" width="10.5" height="15.56" fill="#b414b4" stroke="#3a2a2a" stroke-width=".8"/>
<rect x="750.5" y="681.68" width="10.5" height="15.56" fill="#961096" stroke="#3a2a2a" stroke-width=".8"/>
<rect x="750.5" y="697.24" width="10.5" height="15.56" fill="#640a64" stroke="#3a2a2a" stroke-width=".8"/>
<path d="M750.5,712.8 L755.75,728.8 L761,712.8 Z" fill="#460546" stroke="#2a0a2a" stroke-width=".8"/>
<text x="764.4" y="404.6" class="cb">5</text>
<text x="764.4" y="435.7" class="cb">4</text>
<text x="764.4" y="466.8" class="cb">3</text>
<text x="764.4" y="498.0" class="cb">2</text>
<text x="764.4" y="529.1" class="cb">1</text>
<text x="764.4" y="560.2" class="cb">0</text>
<text x="764.4" y="591.3" class="cb">−1</text>
<text x="764.4" y="622.4" class="cb">−2</text>
<text x="764.4" y="653.6" class="cb">−3</text>
<text x="764.4" y="684.7" class="cb">−4</text>
<text x="764.4" y="715.8" class="cb">−5</text>
</svg></body></html>
